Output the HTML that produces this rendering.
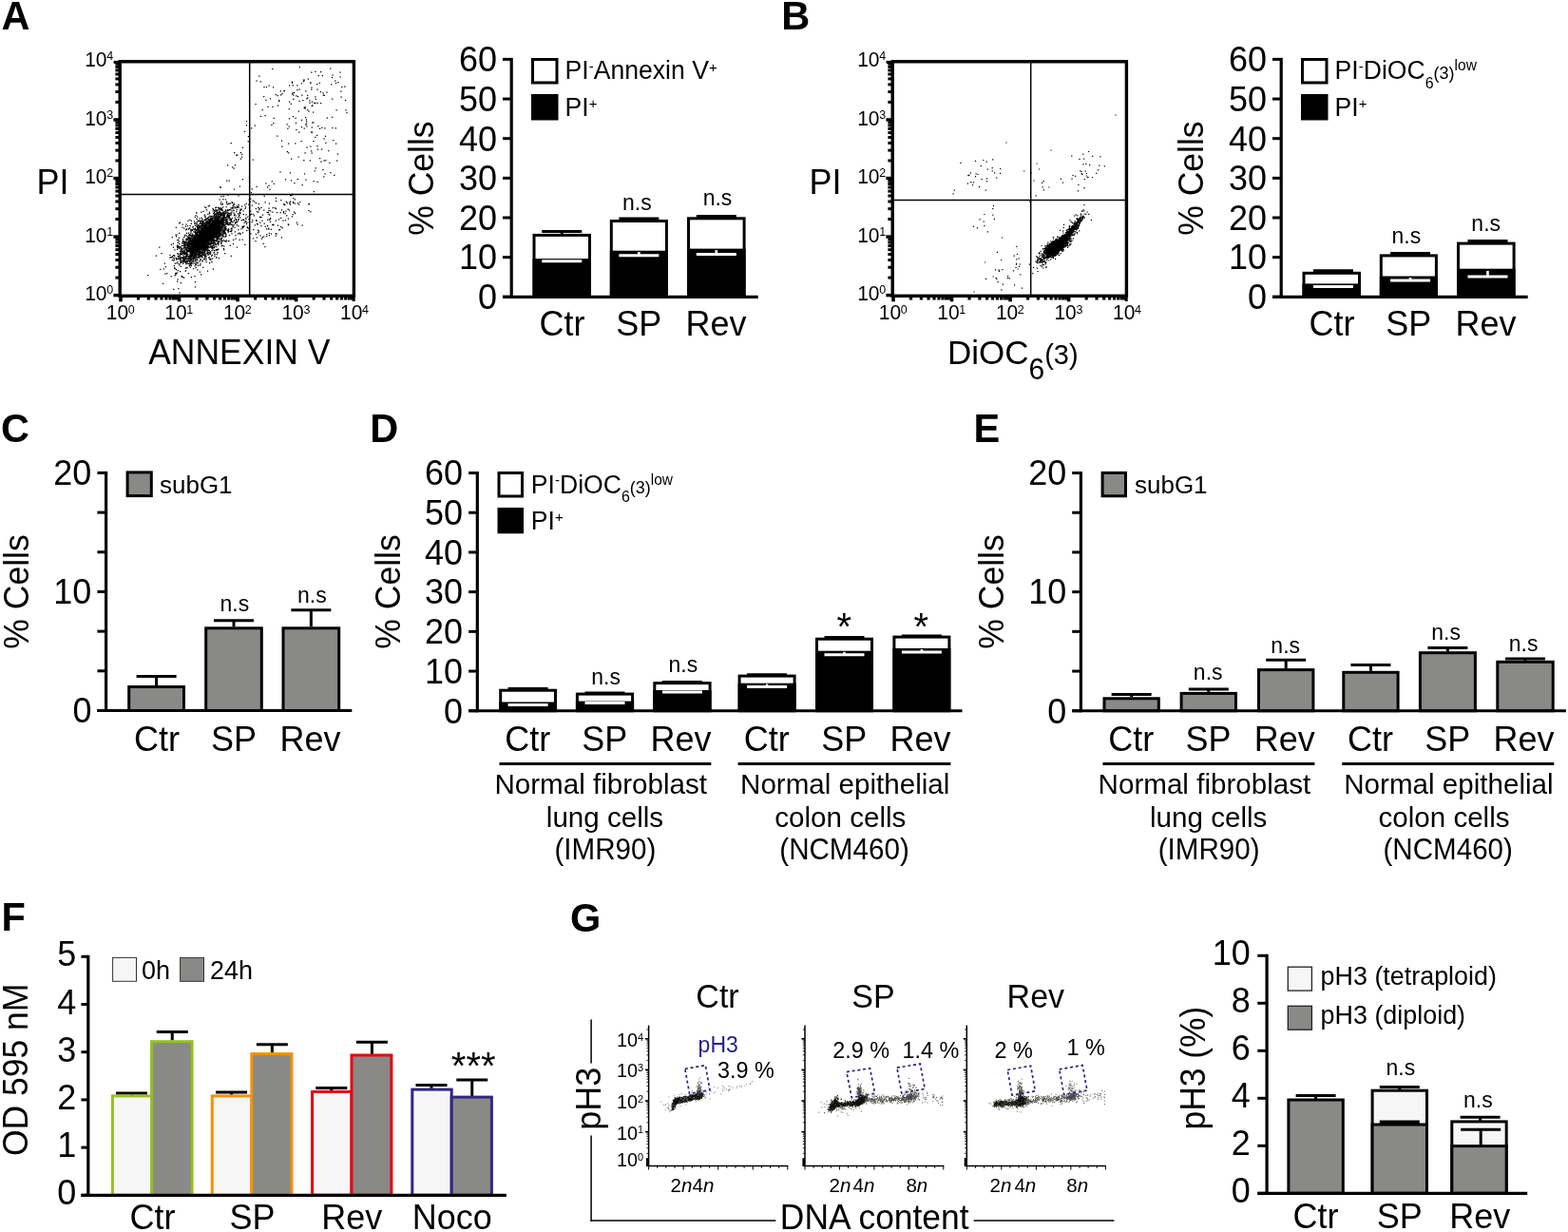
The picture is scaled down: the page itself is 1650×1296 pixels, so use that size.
<!DOCTYPE html>
<html lang="en"><head><meta charset="utf-8"><title>Figure</title>
<style>html,body{margin:0;padding:0;background:#fff}svg{display:block}</style></head>
<body>
<svg width="1650" height="1296" viewBox="0 0 1650 1296" font-family='"Liberation Sans", Arial, sans-serif' fill="#000">
<rect width="1650" height="1296" fill="#fff"/>
<text transform="translate(1.50 31.00) scale(1 1.04)" font-size="41.5" font-weight="bold">A</text>
<text transform="translate(822.20 31.20) scale(1 1.04)" font-size="41.5" font-weight="bold">B</text>
<text transform="translate(1.10 465.30) scale(1 1.04)" font-size="41.5" font-weight="bold">C</text>
<text transform="translate(389.20 465.30) scale(1 1.04)" font-size="41.5" font-weight="bold">D</text>
<text transform="translate(1024.50 465.30) scale(1 1.04)" font-size="41.5" font-weight="bold">E</text>
<text transform="translate(1.50 979.20) scale(1 1.04)" font-size="41.5" font-weight="bold">F</text>
<text transform="translate(600.10 979.50) scale(1 1.04)" font-size="41.5" font-weight="bold">G</text>
<line x1="127.00" y1="311.30" x2="127.00" y2="317.30" stroke="#000" stroke-width="3.6"/>
<line x1="119.40" y1="310.60" x2="126.20" y2="310.60" stroke="#000" stroke-width="3.4"/>
<line x1="145.53" y1="311.30" x2="145.53" y2="315.50" stroke="#000" stroke-width="3.2"/>
<line x1="121.40" y1="292.07" x2="126.20" y2="292.07" stroke="#000" stroke-width="3.0"/>
<line x1="156.37" y1="311.30" x2="156.37" y2="315.50" stroke="#000" stroke-width="3.2"/>
<line x1="121.40" y1="281.23" x2="126.20" y2="281.23" stroke="#000" stroke-width="3.0"/>
<line x1="164.06" y1="311.30" x2="164.06" y2="315.50" stroke="#000" stroke-width="3.2"/>
<line x1="121.40" y1="273.54" x2="126.20" y2="273.54" stroke="#000" stroke-width="3.0"/>
<line x1="170.02" y1="311.30" x2="170.02" y2="315.50" stroke="#000" stroke-width="3.2"/>
<line x1="121.40" y1="267.58" x2="126.20" y2="267.58" stroke="#000" stroke-width="3.0"/>
<line x1="174.90" y1="311.30" x2="174.90" y2="315.50" stroke="#000" stroke-width="3.2"/>
<line x1="121.40" y1="262.70" x2="126.20" y2="262.70" stroke="#000" stroke-width="3.0"/>
<line x1="179.02" y1="311.30" x2="179.02" y2="315.50" stroke="#000" stroke-width="3.2"/>
<line x1="121.40" y1="258.58" x2="126.20" y2="258.58" stroke="#000" stroke-width="3.0"/>
<line x1="182.59" y1="311.30" x2="182.59" y2="315.50" stroke="#000" stroke-width="3.2"/>
<line x1="121.40" y1="255.01" x2="126.20" y2="255.01" stroke="#000" stroke-width="3.0"/>
<line x1="185.73" y1="311.30" x2="185.73" y2="315.50" stroke="#000" stroke-width="3.2"/>
<line x1="121.40" y1="251.87" x2="126.20" y2="251.87" stroke="#000" stroke-width="3.0"/>
<line x1="188.55" y1="311.30" x2="188.55" y2="317.30" stroke="#000" stroke-width="3.6"/>
<line x1="119.40" y1="249.05" x2="126.20" y2="249.05" stroke="#000" stroke-width="3.4"/>
<line x1="207.08" y1="311.30" x2="207.08" y2="315.50" stroke="#000" stroke-width="3.2"/>
<line x1="121.40" y1="230.52" x2="126.20" y2="230.52" stroke="#000" stroke-width="3.0"/>
<line x1="217.92" y1="311.30" x2="217.92" y2="315.50" stroke="#000" stroke-width="3.2"/>
<line x1="121.40" y1="219.68" x2="126.20" y2="219.68" stroke="#000" stroke-width="3.0"/>
<line x1="225.61" y1="311.30" x2="225.61" y2="315.50" stroke="#000" stroke-width="3.2"/>
<line x1="121.40" y1="211.99" x2="126.20" y2="211.99" stroke="#000" stroke-width="3.0"/>
<line x1="231.57" y1="311.30" x2="231.57" y2="315.50" stroke="#000" stroke-width="3.2"/>
<line x1="121.40" y1="206.03" x2="126.20" y2="206.03" stroke="#000" stroke-width="3.0"/>
<line x1="236.45" y1="311.30" x2="236.45" y2="315.50" stroke="#000" stroke-width="3.2"/>
<line x1="121.40" y1="201.15" x2="126.20" y2="201.15" stroke="#000" stroke-width="3.0"/>
<line x1="240.57" y1="311.30" x2="240.57" y2="315.50" stroke="#000" stroke-width="3.2"/>
<line x1="121.40" y1="197.03" x2="126.20" y2="197.03" stroke="#000" stroke-width="3.0"/>
<line x1="244.14" y1="311.30" x2="244.14" y2="315.50" stroke="#000" stroke-width="3.2"/>
<line x1="121.40" y1="193.46" x2="126.20" y2="193.46" stroke="#000" stroke-width="3.0"/>
<line x1="247.28" y1="311.30" x2="247.28" y2="315.50" stroke="#000" stroke-width="3.2"/>
<line x1="121.40" y1="190.32" x2="126.20" y2="190.32" stroke="#000" stroke-width="3.0"/>
<line x1="250.10" y1="311.30" x2="250.10" y2="317.30" stroke="#000" stroke-width="3.6"/>
<line x1="119.40" y1="187.50" x2="126.20" y2="187.50" stroke="#000" stroke-width="3.4"/>
<line x1="268.63" y1="311.30" x2="268.63" y2="315.50" stroke="#000" stroke-width="3.2"/>
<line x1="121.40" y1="168.97" x2="126.20" y2="168.97" stroke="#000" stroke-width="3.0"/>
<line x1="279.47" y1="311.30" x2="279.47" y2="315.50" stroke="#000" stroke-width="3.2"/>
<line x1="121.40" y1="158.13" x2="126.20" y2="158.13" stroke="#000" stroke-width="3.0"/>
<line x1="287.16" y1="311.30" x2="287.16" y2="315.50" stroke="#000" stroke-width="3.2"/>
<line x1="121.40" y1="150.44" x2="126.20" y2="150.44" stroke="#000" stroke-width="3.0"/>
<line x1="293.12" y1="311.30" x2="293.12" y2="315.50" stroke="#000" stroke-width="3.2"/>
<line x1="121.40" y1="144.48" x2="126.20" y2="144.48" stroke="#000" stroke-width="3.0"/>
<line x1="298.00" y1="311.30" x2="298.00" y2="315.50" stroke="#000" stroke-width="3.2"/>
<line x1="121.40" y1="139.60" x2="126.20" y2="139.60" stroke="#000" stroke-width="3.0"/>
<line x1="302.12" y1="311.30" x2="302.12" y2="315.50" stroke="#000" stroke-width="3.2"/>
<line x1="121.40" y1="135.48" x2="126.20" y2="135.48" stroke="#000" stroke-width="3.0"/>
<line x1="305.69" y1="311.30" x2="305.69" y2="315.50" stroke="#000" stroke-width="3.2"/>
<line x1="121.40" y1="131.91" x2="126.20" y2="131.91" stroke="#000" stroke-width="3.0"/>
<line x1="308.83" y1="311.30" x2="308.83" y2="315.50" stroke="#000" stroke-width="3.2"/>
<line x1="121.40" y1="128.77" x2="126.20" y2="128.77" stroke="#000" stroke-width="3.0"/>
<line x1="311.65" y1="311.30" x2="311.65" y2="317.30" stroke="#000" stroke-width="3.6"/>
<line x1="119.40" y1="125.95" x2="126.20" y2="125.95" stroke="#000" stroke-width="3.4"/>
<line x1="330.18" y1="311.30" x2="330.18" y2="315.50" stroke="#000" stroke-width="3.2"/>
<line x1="121.40" y1="107.42" x2="126.20" y2="107.42" stroke="#000" stroke-width="3.0"/>
<line x1="341.02" y1="311.30" x2="341.02" y2="315.50" stroke="#000" stroke-width="3.2"/>
<line x1="121.40" y1="96.58" x2="126.20" y2="96.58" stroke="#000" stroke-width="3.0"/>
<line x1="348.71" y1="311.30" x2="348.71" y2="315.50" stroke="#000" stroke-width="3.2"/>
<line x1="121.40" y1="88.89" x2="126.20" y2="88.89" stroke="#000" stroke-width="3.0"/>
<line x1="354.67" y1="311.30" x2="354.67" y2="315.50" stroke="#000" stroke-width="3.2"/>
<line x1="121.40" y1="82.93" x2="126.20" y2="82.93" stroke="#000" stroke-width="3.0"/>
<line x1="359.55" y1="311.30" x2="359.55" y2="315.50" stroke="#000" stroke-width="3.2"/>
<line x1="121.40" y1="78.05" x2="126.20" y2="78.05" stroke="#000" stroke-width="3.0"/>
<line x1="363.67" y1="311.30" x2="363.67" y2="315.50" stroke="#000" stroke-width="3.2"/>
<line x1="121.40" y1="73.93" x2="126.20" y2="73.93" stroke="#000" stroke-width="3.0"/>
<line x1="367.24" y1="311.30" x2="367.24" y2="315.50" stroke="#000" stroke-width="3.2"/>
<line x1="121.40" y1="70.36" x2="126.20" y2="70.36" stroke="#000" stroke-width="3.0"/>
<line x1="370.38" y1="311.30" x2="370.38" y2="315.50" stroke="#000" stroke-width="3.2"/>
<line x1="121.40" y1="67.22" x2="126.20" y2="67.22" stroke="#000" stroke-width="3.0"/>
<line x1="372.20" y1="311.30" x2="372.20" y2="316.90" stroke="#000" stroke-width="3"/>
<line x1="119.60" y1="65.40" x2="126.20" y2="65.40" stroke="#000" stroke-width="3"/>
<rect x="126.20" y="64.80" width="246.20" height="246.50" fill="none" stroke="#000" stroke-width="3.4"/>
<line x1="262.70" y1="64.80" x2="262.70" y2="311.30" stroke="#000" stroke-width="1.5"/>
<line x1="126.20" y1="204.60" x2="372.40" y2="204.60" stroke="#000" stroke-width="1.5"/>
<text transform="translate(111.80 336.10) scale(1 1.035)" font-size="21">10<tspan font-size="12.5" dy="-6.2" dx="-0.4">0</tspan></text>
<text transform="translate(89.20 316.20) scale(1 1.035)" font-size="21">10<tspan font-size="12.5" dy="-6.8" dx="-0.4">0</tspan></text>
<text transform="translate(173.35 336.10) scale(1 1.035)" font-size="21">10<tspan font-size="12.5" dy="-6.2" dx="-0.4">1</tspan></text>
<text transform="translate(89.20 254.65) scale(1 1.035)" font-size="21">10<tspan font-size="12.5" dy="-6.8" dx="-0.4">1</tspan></text>
<text transform="translate(234.90 336.10) scale(1 1.035)" font-size="21">10<tspan font-size="12.5" dy="-6.2" dx="-0.4">2</tspan></text>
<text transform="translate(89.20 193.10) scale(1 1.035)" font-size="21">10<tspan font-size="12.5" dy="-6.8" dx="-0.4">2</tspan></text>
<text transform="translate(296.45 336.10) scale(1 1.035)" font-size="21">10<tspan font-size="12.5" dy="-6.2" dx="-0.4">3</tspan></text>
<text transform="translate(89.20 131.55) scale(1 1.035)" font-size="21">10<tspan font-size="12.5" dy="-6.8" dx="-0.4">3</tspan></text>
<text transform="translate(358.00 336.10) scale(1 1.035)" font-size="21">10<tspan font-size="12.5" dy="-6.2" dx="-0.4">4</tspan></text>
<text transform="translate(89.20 70.00) scale(1 1.035)" font-size="21">10<tspan font-size="12.5" dy="-6.8" dx="-0.4">4</tspan></text>
<path d="M211.7 249.6h.01M215.2 252.2h.01M207.6 259.6h.01M226.0 234.9h.01M225.9 236.3h.01M219.6 243.6h.01M195.9 263.8h.01M219.5 241.2h.01M205.8 273.5h.01M209.0 260.1h.01M219.6 245.4h.01M224.1 245.2h.01M217.9 243.8h.01M202.9 249.6h.01M217.4 238.2h.01M212.8 258.1h.01M213.2 252.8h.01M221.8 240.8h.01M215.4 257.0h.01M206.2 249.9h.01M207.1 256.6h.01M226.4 249.3h.01M211.7 243.3h.01M196.9 271.9h.01M218.4 252.7h.01M221.6 243.4h.01M198.1 261.7h.01M219.5 237.8h.01M229.6 231.5h.01M222.6 252.0h.01M225.0 244.1h.01M216.6 258.1h.01M208.5 261.1h.01M237.4 241.8h.01M200.5 263.7h.01M228.8 230.7h.01M206.6 278.5h.01M222.8 247.3h.01M201.1 257.4h.01M227.0 235.9h.01M217.1 244.3h.01M230.2 228.9h.01M219.5 240.9h.01M195.3 261.2h.01M224.0 236.2h.01M198.6 272.5h.01M231.9 245.9h.01M210.5 246.9h.01M196.6 257.2h.01M222.5 243.1h.01M217.1 242.7h.01M213.1 243.1h.01M211.1 257.4h.01M226.9 237.1h.01M203.6 254.8h.01M233.0 234.1h.01M202.7 264.2h.01M215.9 251.3h.01M234.7 236.9h.01M234.1 239.4h.01M205.8 255.0h.01M224.5 233.1h.01M219.3 244.3h.01M215.6 244.8h.01M213.4 249.5h.01M222.2 242.3h.01M221.9 238.2h.01M235.6 225.4h.01M213.4 254.6h.01M212.6 245.4h.01M211.4 250.9h.01M245.0 237.7h.01M203.9 260.0h.01M219.5 243.4h.01M209.3 251.0h.01M221.2 247.4h.01M239.8 220.7h.01M211.0 255.0h.01M214.2 251.3h.01M190.3 280.3h.01M231.1 241.8h.01M211.9 245.9h.01M219.3 233.8h.01M200.3 268.5h.01M210.4 250.1h.01M237.9 246.3h.01M233.0 241.9h.01M229.1 246.5h.01M213.5 242.4h.01M214.0 249.5h.01M223.9 239.3h.01M209.5 244.0h.01M228.2 238.2h.01M248.8 222.6h.01M226.7 239.5h.01M214.9 244.6h.01M216.1 243.9h.01M206.5 270.8h.01M226.3 245.3h.01M211.5 265.2h.01M226.4 232.0h.01M235.0 235.8h.01M220.7 252.7h.01M218.0 234.5h.01M201.1 252.7h.01M227.1 238.4h.01M190.7 265.1h.01M217.7 251.8h.01M218.8 242.7h.01M235.6 235.9h.01M222.2 230.8h.01M231.9 233.3h.01M204.7 253.1h.01M217.0 246.9h.01M231.9 233.9h.01M194.3 275.2h.01M194.2 266.0h.01M221.9 247.3h.01M213.0 245.7h.01M212.0 242.9h.01M211.6 245.5h.01M225.3 226.4h.01M206.0 252.8h.01M201.3 273.1h.01M192.1 266.3h.01M203.7 262.2h.01M214.4 250.8h.01M209.3 254.2h.01M234.5 228.8h.01M217.9 239.2h.01M219.2 255.3h.01M206.5 250.8h.01M201.8 268.8h.01M223.5 234.7h.01M213.3 245.6h.01M222.6 251.0h.01M202.8 268.1h.01M227.9 240.5h.01M210.1 261.3h.01M201.1 265.8h.01M202.8 260.2h.01M190.9 273.3h.01M217.3 262.7h.01M224.8 241.6h.01M196.9 276.2h.01M221.1 247.1h.01M221.4 237.3h.01M221.8 240.1h.01M227.4 231.6h.01M229.0 251.2h.01M220.4 234.0h.01M215.1 253.6h.01M243.0 233.7h.01M211.7 234.7h.01M204.1 256.3h.01M236.1 228.3h.01M218.5 239.2h.01M207.4 258.9h.01M216.1 242.4h.01M216.7 249.7h.01M207.3 261.0h.01M225.0 238.5h.01M210.8 261.0h.01M239.2 215.2h.01M232.9 251.0h.01M220.8 240.0h.01M231.9 228.6h.01M213.6 247.5h.01M192.4 266.2h.01M222.3 247.6h.01M222.8 227.5h.01M204.5 266.4h.01M218.6 244.7h.01M216.0 256.5h.01M234.0 221.6h.01M209.3 266.6h.01M229.9 226.3h.01M231.8 225.7h.01M206.4 257.2h.01M197.1 275.0h.01M213.7 247.4h.01M209.3 257.0h.01M219.5 242.2h.01M222.0 240.8h.01M209.9 249.3h.01M220.0 251.0h.01M209.9 255.5h.01M214.6 249.2h.01M215.6 248.0h.01M219.8 254.6h.01M216.5 240.2h.01M221.5 244.5h.01M224.6 247.2h.01M196.7 269.2h.01M203.9 256.1h.01M215.4 270.0h.01M199.5 254.3h.01M217.7 257.7h.01M206.5 255.1h.01M220.7 242.5h.01M228.7 229.8h.01M213.8 246.7h.01M229.5 226.9h.01M231.0 241.3h.01M212.0 247.6h.01M209.1 248.0h.01M218.9 238.8h.01M204.3 241.7h.01M229.8 235.8h.01M207.2 238.2h.01M209.4 249.2h.01M226.3 237.8h.01M203.6 260.7h.01M215.6 240.6h.01M224.2 239.9h.01M222.9 237.3h.01M218.2 246.1h.01M211.2 248.8h.01M208.0 262.4h.01M222.0 253.8h.01M219.6 260.6h.01M207.1 254.0h.01M222.3 242.6h.01M219.4 256.3h.01M233.0 226.7h.01M230.9 239.8h.01M221.5 257.2h.01M220.7 236.7h.01M197.1 269.6h.01M229.6 248.1h.01M201.8 272.5h.01M215.3 260.6h.01M215.7 247.4h.01M220.1 239.1h.01M227.2 227.9h.01M204.8 264.8h.01M209.6 264.1h.01M215.4 249.5h.01M227.5 249.0h.01M203.7 262.3h.01M215.5 251.9h.01M218.6 252.0h.01M222.1 239.6h.01M218.0 252.0h.01M225.1 260.3h.01M206.1 259.2h.01M200.1 264.4h.01M223.1 252.0h.01M215.0 252.5h.01M218.6 241.3h.01M219.2 252.1h.01M215.1 250.4h.01M222.7 239.5h.01M214.2 261.4h.01M215.4 255.4h.01M205.4 261.2h.01M210.9 253.6h.01M223.3 244.4h.01M241.3 224.3h.01M227.1 236.1h.01M236.9 244.9h.01M207.7 256.0h.01M213.4 233.5h.01M214.6 240.4h.01M220.5 236.8h.01M222.1 243.6h.01M225.7 246.9h.01M232.3 239.3h.01M210.6 238.2h.01M213.9 251.0h.01M228.1 235.7h.01M207.0 256.5h.01M219.5 239.6h.01M201.6 250.7h.01M233.3 230.2h.01M220.7 247.2h.01M233.5 235.6h.01M225.1 242.9h.01M206.4 253.6h.01M230.0 234.0h.01M206.2 253.1h.01M214.6 248.0h.01M227.5 227.8h.01M202.1 246.0h.01M213.3 245.7h.01M209.9 255.9h.01M191.5 261.3h.01M235.0 238.0h.01M207.2 271.0h.01M230.1 237.4h.01M216.9 250.4h.01M219.3 253.9h.01M222.1 253.5h.01M214.4 248.3h.01M222.0 244.3h.01M206.4 257.9h.01M205.3 248.3h.01M224.6 240.6h.01M214.2 256.3h.01M208.1 260.2h.01M217.3 243.5h.01M214.0 234.8h.01M209.0 256.3h.01M252.1 224.7h.01M210.3 253.7h.01M216.3 245.4h.01M212.4 249.9h.01M213.9 245.2h.01M200.4 272.6h.01M220.3 252.4h.01M203.2 257.8h.01M207.2 253.4h.01M222.7 239.3h.01M221.9 243.4h.01M202.0 264.2h.01M223.0 245.5h.01M212.4 247.0h.01M204.8 255.9h.01M237.5 230.2h.01M218.4 247.5h.01M230.8 230.6h.01M228.2 241.2h.01M216.2 248.8h.01M192.5 262.9h.01M232.3 245.1h.01M224.4 240.9h.01M219.5 242.4h.01M201.8 265.8h.01M233.8 234.3h.01M211.1 264.7h.01M202.5 260.8h.01M232.0 228.5h.01M210.2 237.8h.01M213.6 256.7h.01M219.6 240.8h.01M210.5 264.0h.01M218.3 244.5h.01M203.7 263.7h.01M209.0 252.9h.01M215.4 250.2h.01M208.6 248.7h.01M231.9 234.7h.01M227.9 242.1h.01M214.1 245.1h.01M233.3 233.4h.01M214.8 248.7h.01M200.9 265.0h.01M207.9 254.7h.01M212.4 268.1h.01M215.7 247.2h.01M207.2 251.4h.01M215.9 253.8h.01M227.3 249.0h.01M209.5 256.1h.01M225.6 239.9h.01M222.0 247.6h.01M212.9 239.3h.01M200.1 247.6h.01M209.6 255.6h.01M214.1 243.0h.01M211.8 269.8h.01M219.4 239.1h.01M212.5 232.2h.01M217.4 245.4h.01M224.4 237.1h.01M238.1 234.8h.01M225.8 265.2h.01M226.1 241.0h.01M217.4 230.7h.01M217.2 249.6h.01M214.4 257.1h.01M207.4 253.2h.01M216.4 248.0h.01M211.0 247.2h.01M221.9 243.7h.01M223.7 241.9h.01M198.9 256.0h.01M224.8 247.0h.01M226.0 235.5h.01M194.1 259.9h.01M216.3 241.7h.01M218.9 247.0h.01M196.7 262.1h.01M217.7 249.3h.01M219.6 244.5h.01M224.7 242.5h.01M224.2 256.7h.01M209.4 250.8h.01M231.4 235.3h.01M208.9 244.2h.01M210.1 249.5h.01M233.3 230.0h.01M231.6 237.7h.01M218.7 246.6h.01M213.1 243.3h.01M243.3 224.8h.01M208.5 253.1h.01M203.6 258.4h.01M223.2 243.3h.01M227.7 248.4h.01M230.1 245.8h.01M211.3 258.3h.01M208.9 249.9h.01M218.7 249.1h.01M215.7 236.9h.01M214.9 247.2h.01M227.9 234.0h.01M193.5 253.7h.01M246.6 231.5h.01M214.3 247.5h.01M223.6 235.6h.01M217.6 255.4h.01M213.3 243.7h.01M209.1 264.3h.01M223.6 255.9h.01M215.3 253.0h.01M223.6 246.2h.01M208.8 259.7h.01M218.4 251.6h.01M213.5 245.8h.01M221.8 229.4h.01M209.9 258.7h.01M183.5 269.0h.01M209.0 256.7h.01M226.9 247.8h.01M221.1 243.6h.01M196.5 267.6h.01M235.8 242.2h.01M223.7 239.0h.01M219.4 241.8h.01M230.5 235.1h.01M226.8 240.5h.01M226.9 243.6h.01M208.5 243.5h.01M221.5 244.3h.01M207.7 264.0h.01M214.6 243.1h.01M218.6 242.0h.01M210.6 244.2h.01M214.4 254.9h.01M225.1 238.6h.01M215.7 253.7h.01M211.3 249.2h.01M224.6 249.1h.01M220.0 243.3h.01M203.1 256.8h.01M214.7 252.9h.01M219.3 235.1h.01M207.6 254.6h.01M198.4 249.8h.01M206.6 249.7h.01M206.5 252.8h.01M248.8 233.4h.01M209.9 251.6h.01M217.9 252.0h.01M238.0 224.7h.01M196.2 263.6h.01M194.2 263.3h.01M209.8 254.4h.01M228.7 234.3h.01M208.6 270.0h.01M225.5 233.0h.01M204.6 254.4h.01M218.9 240.8h.01M194.4 274.5h.01M222.7 236.1h.01M234.8 247.8h.01M216.1 245.0h.01M246.1 224.1h.01M212.8 252.1h.01M227.1 240.5h.01M231.1 238.9h.01M221.1 247.6h.01M220.6 249.4h.01M195.7 262.2h.01M221.6 247.3h.01M214.5 242.8h.01M206.7 259.7h.01M219.8 240.8h.01M221.0 259.9h.01M227.7 233.8h.01M217.5 249.5h.01M220.6 247.2h.01M208.7 262.5h.01M212.6 257.4h.01M202.0 259.0h.01M200.3 260.6h.01M204.6 258.5h.01M229.6 232.8h.01M208.6 256.4h.01M224.5 253.2h.01M209.5 254.7h.01M211.2 253.5h.01M220.8 237.8h.01M223.3 236.5h.01M213.4 251.8h.01M214.7 252.7h.01M221.1 256.8h.01M213.0 252.3h.01M206.4 259.4h.01M222.2 243.5h.01M247.6 235.2h.01M221.3 257.5h.01M216.0 228.3h.01M190.2 275.6h.01M222.8 244.0h.01M230.6 250.7h.01M223.6 237.9h.01M218.8 250.5h.01M224.7 243.4h.01M220.6 248.0h.01M193.4 273.4h.01M215.4 243.7h.01M207.5 258.3h.01M222.0 241.3h.01M221.3 227.8h.01M214.5 265.5h.01M219.1 233.7h.01M222.6 235.5h.01M212.7 258.0h.01M228.9 242.1h.01M201.6 272.1h.01M234.3 214.3h.01M212.1 258.8h.01M221.6 248.8h.01M230.0 234.5h.01M200.1 255.8h.01M209.5 254.2h.01M217.4 249.9h.01M222.3 247.5h.01M206.0 276.8h.01M206.3 265.2h.01M215.9 248.7h.01M221.5 242.1h.01M210.9 259.9h.01M195.3 272.5h.01M219.2 241.4h.01M215.7 250.6h.01M225.8 238.3h.01M221.6 238.4h.01M213.4 241.5h.01M211.8 256.2h.01M211.1 260.3h.01M225.4 225.2h.01M214.3 246.3h.01M225.2 232.8h.01M233.5 239.9h.01M208.0 254.0h.01M230.6 232.5h.01M208.9 259.3h.01M212.9 258.9h.01M234.1 234.4h.01M208.1 240.6h.01M227.1 234.4h.01M208.5 253.8h.01M230.5 228.6h.01M228.8 234.4h.01M222.4 243.7h.01M215.6 239.2h.01M201.9 264.5h.01M221.0 248.0h.01M210.1 249.1h.01M234.3 224.4h.01M225.6 250.6h.01M235.7 227.2h.01M220.3 253.0h.01M220.0 253.2h.01M215.2 246.1h.01M215.5 247.2h.01M202.0 252.8h.01M216.7 262.3h.01M217.3 253.4h.01M207.3 261.0h.01M223.9 249.7h.01M209.4 245.0h.01M223.9 241.7h.01M218.1 247.6h.01M213.0 246.5h.01M224.7 258.3h.01M219.5 252.1h.01M225.3 243.7h.01M209.4 239.1h.01M209.9 264.1h.01M211.1 272.7h.01M195.7 267.9h.01M217.0 262.4h.01M198.7 262.6h.01M209.8 258.4h.01M214.4 240.1h.01M232.2 223.6h.01M217.1 246.4h.01M229.2 223.7h.01M211.3 250.4h.01M219.0 245.3h.01M216.3 258.9h.01M216.8 260.0h.01M226.7 233.2h.01M198.6 256.8h.01M232.8 245.7h.01M232.0 225.5h.01M242.2 230.4h.01M220.1 241.2h.01M217.7 245.8h.01M232.9 242.4h.01M209.0 267.3h.01M212.9 256.9h.01M219.0 243.6h.01M219.2 250.7h.01M208.1 250.0h.01M223.7 239.9h.01M207.0 246.5h.01M207.7 252.8h.01M229.1 236.9h.01M229.1 243.6h.01M225.9 236.8h.01M197.5 263.6h.01M202.2 253.8h.01M210.0 256.6h.01M220.5 246.7h.01M221.1 247.8h.01M223.2 241.2h.01M229.1 256.2h.01M228.1 235.7h.01M197.7 267.8h.01M216.9 239.6h.01M199.2 254.9h.01M205.4 241.7h.01M212.2 247.7h.01M216.9 256.7h.01M224.0 233.3h.01M228.7 228.6h.01M216.9 260.9h.01M212.3 258.2h.01M205.7 255.4h.01M220.7 246.0h.01M218.6 247.2h.01M215.6 243.5h.01M228.8 240.6h.01M195.4 260.0h.01M213.2 243.3h.01M200.8 267.8h.01M222.2 253.5h.01M208.2 251.6h.01M221.2 231.0h.01M212.9 263.1h.01M218.0 239.5h.01M223.3 251.2h.01M221.2 237.2h.01M223.8 244.3h.01M216.3 242.4h.01M217.7 261.4h.01M217.8 243.3h.01M213.0 245.2h.01M210.6 255.3h.01M211.0 249.9h.01M233.6 232.0h.01M231.4 220.5h.01M222.1 237.8h.01M235.1 229.8h.01M219.3 253.7h.01M215.9 238.6h.01M220.1 241.2h.01M213.6 250.2h.01M197.7 260.4h.01M216.4 257.1h.01M211.8 259.8h.01M220.9 235.4h.01M198.8 260.1h.01M227.6 241.0h.01M204.0 267.6h.01M208.5 254.3h.01M220.5 259.9h.01M224.6 251.6h.01M230.2 243.0h.01M212.5 259.3h.01M205.7 249.9h.01M222.7 237.1h.01M225.6 250.7h.01M213.1 256.3h.01M204.3 257.5h.01M211.5 259.3h.01M213.6 267.5h.01M217.2 237.3h.01M221.9 250.2h.01M188.0 277.7h.01M227.6 234.2h.01M220.1 233.1h.01M229.5 237.8h.01M224.1 234.3h.01M202.1 266.9h.01M202.2 264.6h.01M226.4 246.1h.01M190.2 266.5h.01M214.5 239.1h.01M198.6 259.3h.01M229.7 218.6h.01M213.1 249.9h.01M210.9 246.7h.01M226.6 236.9h.01M199.5 260.8h.01M209.1 251.5h.01M212.7 239.8h.01M229.7 237.7h.01M213.0 238.4h.01M209.1 252.9h.01M223.6 231.0h.01M226.7 247.7h.01M202.4 261.5h.01M210.4 235.1h.01M203.1 253.9h.01M230.7 246.2h.01M207.3 257.0h.01M211.8 254.6h.01M224.2 246.4h.01M223.5 245.8h.01M208.6 252.6h.01M209.3 253.9h.01M232.6 231.0h.01M212.0 247.5h.01M208.4 248.7h.01M200.8 260.4h.01M214.2 257.1h.01M237.7 232.3h.01M231.7 226.9h.01M235.0 236.2h.01M222.9 230.2h.01M215.6 250.3h.01M240.7 221.0h.01M214.4 255.5h.01M219.6 242.5h.01M211.4 240.4h.01M211.1 250.5h.01M235.1 236.2h.01M219.8 230.6h.01M206.7 267.4h.01M212.8 266.7h.01M228.1 250.3h.01M215.8 237.9h.01M201.0 267.5h.01M193.7 266.8h.01M209.8 257.7h.01M214.7 246.0h.01M212.7 252.3h.01M210.3 254.2h.01M204.1 261.2h.01M198.4 271.6h.01M235.6 227.3h.01M202.4 261.5h.01M212.8 265.2h.01M205.9 254.0h.01M220.6 244.7h.01M211.0 262.7h.01M229.2 232.9h.01M214.7 266.7h.01M192.7 254.7h.01M204.8 261.5h.01M219.1 246.9h.01M218.8 256.6h.01M199.0 254.0h.01M205.3 253.8h.01M200.0 268.2h.01M215.0 242.0h.01M202.5 258.8h.01M223.1 247.0h.01M224.7 246.6h.01M208.2 257.4h.01M189.0 278.8h.01M211.7 264.9h.01M209.0 250.5h.01M207.3 248.5h.01M209.5 266.1h.01M230.6 230.1h.01M229.2 241.2h.01M223.5 238.8h.01M222.8 241.4h.01M231.2 237.7h.01M212.2 264.5h.01M231.0 238.5h.01M209.3 263.4h.01M216.7 258.1h.01M215.8 254.1h.01M214.4 258.1h.01M218.5 249.9h.01M216.5 246.4h.01M228.3 252.8h.01M213.9 257.4h.01M230.3 245.8h.01M210.1 257.5h.01M209.0 248.7h.01M208.0 250.0h.01M208.3 271.2h.01M227.1 233.6h.01M220.8 242.8h.01M226.0 247.7h.01M228.1 240.1h.01M226.0 237.5h.01M201.1 274.9h.01M228.4 236.7h.01M211.3 252.1h.01M214.1 255.2h.01M216.8 247.0h.01M231.6 231.8h.01M228.5 221.5h.01M229.7 225.9h.01M217.1 246.7h.01M217.7 252.8h.01M218.1 251.6h.01M231.0 228.7h.01M219.2 260.4h.01M217.4 250.7h.01M209.6 264.6h.01M191.1 271.2h.01M205.6 240.0h.01M216.6 249.5h.01M230.6 232.3h.01M219.5 248.1h.01M204.3 249.8h.01M219.9 231.4h.01M212.6 252.3h.01M203.5 254.8h.01M199.9 261.8h.01M222.0 231.5h.01M202.5 255.0h.01M211.9 259.2h.01M198.3 258.9h.01M235.5 232.7h.01M209.8 258.2h.01M238.1 217.5h.01M217.7 261.0h.01M204.8 251.7h.01M236.4 229.1h.01M211.2 258.0h.01M193.5 266.0h.01M201.1 256.7h.01M203.8 271.9h.01M222.2 248.2h.01M224.3 240.0h.01M201.9 259.2h.01M232.3 246.3h.01M233.1 226.8h.01M231.3 247.0h.01M210.3 257.8h.01M233.0 242.1h.01M215.1 265.6h.01M212.5 250.0h.01M201.3 269.2h.01M215.4 237.3h.01M224.3 242.4h.01M207.9 264.9h.01M208.9 255.4h.01M209.3 243.1h.01M223.4 249.3h.01M228.4 228.2h.01M220.1 250.1h.01M201.1 272.8h.01M228.7 241.5h.01M202.0 262.4h.01M216.4 243.7h.01M217.5 236.3h.01M203.9 254.3h.01M203.5 256.9h.01M217.2 245.8h.01M226.3 238.0h.01M224.3 233.2h.01M219.9 249.2h.01M210.6 258.8h.01M214.3 250.9h.01M244.3 213.6h.01M227.5 243.3h.01M210.3 257.5h.01M222.3 250.2h.01M235.0 233.0h.01M236.4 245.2h.01M215.2 247.7h.01M215.9 244.3h.01M218.5 244.9h.01M199.7 271.9h.01M189.9 272.0h.01M220.2 245.9h.01M210.2 259.7h.01M228.5 222.1h.01M210.7 244.6h.01M207.6 273.0h.01M214.8 257.1h.01M209.9 254.1h.01M249.8 217.8h.01M215.7 247.1h.01M212.3 245.6h.01M239.3 233.6h.01M219.0 247.8h.01M225.9 250.2h.01M207.3 276.3h.01M220.9 242.1h.01M226.2 256.3h.01M215.4 255.4h.01M205.4 267.4h.01M221.3 239.0h.01M214.1 247.0h.01M209.9 255.0h.01M214.6 246.2h.01M216.1 249.9h.01M217.4 252.4h.01M237.2 222.2h.01M211.8 235.6h.01M236.7 238.8h.01M220.2 237.9h.01M230.5 223.2h.01M228.7 244.4h.01M206.4 257.2h.01M225.4 246.8h.01M213.9 254.3h.01M215.6 246.7h.01M218.2 256.2h.01M222.8 229.2h.01M211.2 246.1h.01M218.3 241.3h.01M224.2 246.1h.01M218.3 238.7h.01M199.5 251.3h.01M230.6 219.1h.01M233.8 224.1h.01M215.2 254.5h.01M207.5 257.1h.01M213.4 246.5h.01M186.7 262.4h.01M239.7 223.7h.01M221.4 239.5h.01M219.9 246.4h.01M218.2 252.9h.01M218.2 246.7h.01M222.9 248.2h.01M216.5 248.0h.01M226.6 245.8h.01M216.8 240.4h.01M223.8 243.4h.01M212.2 254.8h.01M217.7 235.0h.01M217.2 252.7h.01M219.4 243.7h.01M209.9 261.2h.01M212.7 247.3h.01M208.0 265.4h.01M226.2 247.6h.01M216.0 246.1h.01M219.1 253.5h.01M217.0 250.5h.01M223.0 247.9h.01M234.0 242.7h.01M214.5 250.5h.01M228.5 240.3h.01M224.1 244.7h.01M217.1 234.2h.01M210.5 251.4h.01M203.0 255.3h.01M228.5 235.2h.01M203.1 259.6h.01M223.8 232.1h.01M231.7 246.3h.01M203.8 250.9h.01M199.4 258.0h.01M232.6 225.2h.01M229.0 237.5h.01M204.2 262.4h.01M214.4 251.0h.01M224.0 241.5h.01M216.6 245.0h.01M209.1 242.0h.01M220.5 243.4h.01M216.6 253.1h.01M229.5 233.3h.01M207.4 262.5h.01M216.6 251.7h.01M231.9 240.9h.01M220.8 242.7h.01M204.1 261.3h.01M213.4 247.8h.01M210.5 252.4h.01M203.5 270.8h.01M220.3 236.2h.01M218.5 250.9h.01M235.5 244.3h.01M205.5 254.9h.01M227.0 245.2h.01M191.4 264.1h.01M221.3 250.2h.01M213.4 244.7h.01M185.5 273.0h.01M231.9 248.0h.01M231.1 246.6h.01M226.4 234.7h.01M241.7 226.1h.01M212.3 244.8h.01M212.5 258.2h.01M212.8 252.9h.01M203.4 258.7h.01M221.6 242.4h.01M235.0 231.1h.01M231.8 236.2h.01M231.5 247.3h.01M219.0 247.1h.01M213.6 256.2h.01M215.5 255.0h.01M196.2 274.8h.01M212.7 256.5h.01M206.0 260.7h.01M225.3 240.9h.01M206.0 249.1h.01M222.7 234.6h.01M229.4 237.1h.01M210.7 246.0h.01M211.1 255.1h.01M218.7 243.1h.01M209.7 248.1h.01M211.7 247.9h.01M224.7 234.5h.01M228.3 244.7h.01M205.3 265.2h.01M215.3 238.0h.01M202.6 260.9h.01M210.4 260.6h.01M210.8 249.1h.01M213.9 242.0h.01M202.8 256.2h.01M225.5 238.1h.01M223.4 245.4h.01M206.7 262.0h.01M198.5 245.2h.01M204.9 248.0h.01M217.2 245.3h.01M226.9 243.3h.01M224.2 237.2h.01M198.5 263.1h.01M220.2 240.9h.01M234.1 232.7h.01M218.6 240.3h.01M202.4 254.1h.01M206.5 269.2h.01M225.9 246.8h.01M221.5 255.8h.01M221.4 251.9h.01M225.7 250.4h.01M221.9 244.6h.01M217.2 248.1h.01M222.8 251.9h.01M189.9 276.6h.01M208.5 260.5h.01M228.4 251.1h.01M210.9 259.2h.01M204.2 259.0h.01M218.0 253.1h.01M203.1 256.5h.01M207.3 253.7h.01M228.2 250.5h.01M205.2 260.5h.01M216.8 242.0h.01M220.5 236.1h.01M213.3 253.5h.01M225.9 241.6h.01M233.3 242.8h.01M223.7 242.1h.01M192.4 266.6h.01M219.4 245.1h.01M207.1 262.1h.01M235.0 235.0h.01M184.1 289.8h.01M204.5 262.2h.01M215.8 256.2h.01M203.6 254.0h.01M194.0 257.4h.01M215.0 258.5h.01M222.2 237.9h.01M202.7 257.3h.01M201.1 272.1h.01M228.8 237.2h.01M201.0 261.0h.01M225.8 238.6h.01M199.2 269.7h.01M217.6 241.2h.01M236.2 229.2h.01M211.5 254.0h.01M232.3 238.8h.01M240.3 244.2h.01M227.1 242.3h.01M218.3 241.1h.01M204.5 261.9h.01M216.5 243.8h.01M210.6 262.4h.01M186.8 260.5h.01M215.2 251.5h.01M197.4 261.6h.01M205.3 249.3h.01M224.9 239.2h.01M228.0 244.6h.01M215.2 254.3h.01M203.2 262.5h.01M209.3 245.0h.01M184.6 287.8h.01M208.7 260.4h.01M219.1 242.5h.01M218.4 250.0h.01M220.0 241.9h.01M198.5 269.8h.01M206.8 268.0h.01M217.6 246.8h.01M220.9 250.5h.01M217.8 254.1h.01M217.5 241.9h.01M229.3 224.8h.01M209.8 259.1h.01M205.5 257.8h.01M233.8 224.3h.01M198.7 277.3h.01M201.1 260.9h.01M215.2 247.5h.01M237.7 232.0h.01M200.0 250.8h.01M222.8 247.7h.01M201.5 276.4h.01M191.0 275.2h.01M212.9 244.5h.01M217.6 252.6h.01M201.3 249.9h.01M197.6 267.3h.01M214.2 246.1h.01M210.2 251.2h.01M225.2 240.2h.01M212.3 254.3h.01M207.2 259.9h.01M212.4 251.2h.01M224.9 229.2h.01M209.4 251.3h.01M216.4 242.6h.01M215.5 247.4h.01M214.5 256.6h.01M220.2 234.3h.01M221.4 239.8h.01M220.8 247.3h.01M195.5 265.8h.01M220.5 248.4h.01M201.5 254.6h.01M191.0 262.0h.01M213.7 233.0h.01M209.0 256.6h.01M210.5 253.6h.01M217.1 253.6h.01M230.3 239.6h.01M209.0 252.2h.01M212.5 256.1h.01M221.4 246.0h.01M203.9 262.6h.01M207.4 244.8h.01M201.3 257.1h.01M209.6 258.5h.01M211.9 251.2h.01M218.4 232.8h.01M204.6 250.8h.01M223.3 234.7h.01M205.0 253.7h.01M213.8 248.5h.01M211.0 249.2h.01M223.3 232.3h.01M210.3 247.3h.01M234.8 236.1h.01M236.5 237.3h.01M219.5 240.5h.01M230.4 231.3h.01M214.5 256.8h.01M200.5 259.6h.01M216.7 253.8h.01M224.7 245.5h.01M213.6 255.0h.01M227.6 225.2h.01M220.8 256.0h.01M218.9 245.3h.01M217.7 242.7h.01M209.4 248.8h.01M224.0 238.7h.01M214.0 254.8h.01M227.6 245.0h.01M217.6 253.1h.01M199.7 261.7h.01M215.9 248.8h.01M231.0 244.4h.01M214.5 248.3h.01M229.0 243.4h.01M222.8 240.0h.01M225.8 229.6h.01M213.6 234.8h.01M217.9 250.1h.01M216.5 255.7h.01M223.3 255.7h.01M213.8 248.0h.01M227.8 239.0h.01M233.0 235.7h.01M222.2 256.9h.01M211.6 259.8h.01M229.2 230.7h.01M203.2 258.5h.01M222.0 244.3h.01M217.7 249.4h.01M217.6 260.7h.01M210.5 245.0h.01M231.7 234.2h.01M209.6 257.3h.01M223.9 237.7h.01M209.1 253.6h.01M212.3 249.0h.01M217.8 258.2h.01M214.0 245.3h.01M205.7 260.8h.01M226.5 240.5h.01M202.1 248.4h.01M220.7 236.1h.01M200.7 253.0h.01M201.7 268.1h.01M218.6 236.0h.01M209.5 260.9h.01M225.5 253.3h.01M220.5 239.8h.01M209.8 251.5h.01M222.9 239.2h.01M215.8 237.7h.01M210.9 253.1h.01M207.2 250.5h.01M210.5 251.3h.01M217.4 246.9h.01M233.6 230.6h.01M227.2 230.6h.01M230.0 235.2h.01M222.7 236.1h.01M209.2 254.2h.01M215.2 250.1h.01M231.9 237.3h.01M206.2 272.5h.01M214.2 255.6h.01M214.3 246.5h.01M232.5 228.9h.01M223.6 246.3h.01M216.9 237.7h.01M236.8 241.2h.01M219.2 233.7h.01M230.0 245.1h.01M211.1 249.8h.01M223.4 247.0h.01M203.9 254.6h.01M197.8 257.7h.01M215.4 247.3h.01M205.4 264.8h.01M228.6 246.4h.01M241.9 231.6h.01M204.1 261.3h.01M218.3 241.0h.01M213.4 253.2h.01M216.1 253.1h.01M187.4 272.5h.01M218.2 245.4h.01M209.2 254.4h.01M216.5 249.0h.01M233.6 242.9h.01M222.7 249.6h.01M207.6 246.7h.01M206.0 260.4h.01M207.0 251.5h.01M212.9 264.8h.01M222.7 244.4h.01M209.1 248.2h.01M209.0 259.3h.01M216.2 245.6h.01M207.4 250.5h.01M239.8 226.4h.01M242.5 236.2h.01M231.4 235.0h.01M218.9 248.3h.01M214.8 259.7h.01M207.6 248.3h.01M228.8 237.8h.01M213.7 256.6h.01M197.8 255.0h.01M222.4 241.2h.01M215.3 257.3h.01M226.3 232.0h.01M203.3 255.2h.01M203.0 258.0h.01M208.4 260.2h.01M219.6 241.9h.01M229.3 240.9h.01M226.8 227.3h.01M214.5 247.1h.01M209.2 257.3h.01M203.0 262.2h.01M213.3 241.8h.01M222.6 235.8h.01M213.6 253.2h.01M212.1 251.4h.01M194.5 266.3h.01M202.8 266.9h.01M218.4 250.1h.01M233.0 231.4h.01M227.4 228.0h.01M209.9 252.4h.01M230.3 236.1h.01M219.2 249.6h.01M218.2 249.2h.01M213.4 244.3h.01M229.5 233.5h.01M215.1 243.5h.01M217.4 255.3h.01M230.7 240.2h.01M229.0 242.1h.01M238.2 232.9h.01M219.1 234.5h.01M201.3 253.6h.01M214.8 263.4h.01M220.8 238.6h.01M223.7 259.5h.01M216.9 250.2h.01M213.7 253.6h.01M200.8 269.4h.01M228.2 224.3h.01M215.4 254.9h.01M216.2 240.7h.01M227.8 245.0h.01M217.4 246.4h.01M226.0 229.3h.01M216.9 238.9h.01M206.7 247.4h.01M210.6 251.7h.01M228.7 242.1h.01M215.9 262.1h.01M218.1 247.1h.01M211.2 250.3h.01M195.6 271.0h.01M218.1 248.6h.01M217.6 234.2h.01M215.4 256.6h.01M210.0 254.6h.01M225.3 245.4h.01M229.9 241.6h.01M222.8 238.4h.01M212.8 236.2h.01M214.3 252.0h.01M217.8 240.6h.01M202.1 261.7h.01M206.7 254.2h.01M229.6 234.0h.01M214.6 249.1h.01M184.4 277.0h.01M221.2 242.1h.01M215.1 255.3h.01M210.0 246.3h.01M210.3 245.0h.01M192.8 277.3h.01M219.0 245.8h.01M202.5 268.4h.01M233.4 239.9h.01M210.7 262.8h.01M208.5 252.2h.01M229.7 249.4h.01M232.8 235.3h.01M204.3 249.0h.01M220.1 253.8h.01M212.7 257.9h.01M207.6 260.4h.01M223.6 238.1h.01M192.4 253.5h.01M206.1 258.6h.01M213.8 245.6h.01M211.4 250.5h.01M236.6 226.1h.01M204.4 258.9h.01M209.8 258.3h.01M216.9 245.4h.01M210.3 248.7h.01M219.3 255.2h.01M226.3 240.6h.01M230.6 238.1h.01M220.8 241.5h.01M195.4 282.2h.01M200.1 255.5h.01M194.4 265.3h.01M225.2 235.4h.01M224.8 243.2h.01M215.4 247.9h.01M217.8 241.7h.01M216.9 253.2h.01M209.2 253.1h.01M204.7 270.4h.01M214.3 254.9h.01M223.6 260.7h.01M213.9 253.1h.01M231.3 247.3h.01M211.5 250.2h.01M216.7 239.3h.01M230.6 241.1h.01M223.8 243.1h.01M202.7 251.7h.01M213.3 258.2h.01M215.5 255.9h.01M224.8 236.7h.01M228.5 232.4h.01M206.3 251.4h.01M211.6 257.1h.01M214.5 250.2h.01M230.3 238.1h.01M219.9 245.0h.01M208.0 265.7h.01M212.6 249.5h.01M217.7 243.5h.01M218.5 249.6h.01M224.2 247.6h.01M204.3 263.9h.01M204.1 265.5h.01M211.0 258.4h.01M218.8 251.9h.01M218.5 259.0h.01M221.0 250.1h.01M230.8 254.2h.01M207.5 256.2h.01M193.6 275.7h.01M216.8 247.2h.01M200.7 263.6h.01M221.4 250.4h.01M223.8 240.9h.01M218.2 250.0h.01M221.3 242.5h.01M225.8 235.0h.01M211.0 255.9h.01M226.7 240.1h.01M218.1 242.7h.01M223.2 258.6h.01M216.8 246.5h.01M220.5 249.8h.01M228.8 236.3h.01M212.8 257.7h.01M223.9 248.6h.01M198.9 252.2h.01M225.3 231.0h.01M227.6 232.0h.01M195.1 262.3h.01M226.7 233.7h.01M192.3 265.0h.01M231.7 235.8h.01M214.6 244.5h.01M211.3 245.7h.01M214.5 245.3h.01M222.7 252.9h.01M194.5 248.1h.01M214.1 241.0h.01M221.1 230.5h.01M224.0 244.8h.01M223.7 255.1h.01M211.0 247.4h.01M194.1 270.9h.01M219.5 235.2h.01M209.6 260.7h.01M201.5 272.1h.01M213.8 235.7h.01M199.7 256.0h.01M222.4 245.8h.01M247.6 234.1h.01M214.8 248.6h.01M230.7 219.6h.01M238.3 224.0h.01M220.9 233.4h.01M220.0 241.9h.01M216.0 252.0h.01M196.7 254.9h.01M219.7 260.7h.01M219.1 245.9h.01M211.2 240.3h.01M216.2 250.7h.01M209.0 256.6h.01M211.2 252.6h.01M245.9 213.9h.01M200.5 251.0h.01M221.8 236.5h.01M220.3 238.1h.01M217.7 236.4h.01M221.2 233.1h.01M211.3 254.0h.01M205.4 253.0h.01M226.3 241.4h.01M212.2 233.1h.01M232.8 239.3h.01M213.0 247.4h.01M214.5 247.6h.01M226.8 234.8h.01M202.7 257.8h.01M214.9 249.2h.01M215.9 259.5h.01M205.2 263.2h.01M215.9 269.6h.01M232.1 240.4h.01M207.1 254.5h.01M187.2 269.6h.01M206.2 254.5h.01M210.3 252.7h.01M217.4 247.5h.01M203.6 273.3h.01M210.6 244.1h.01M208.9 252.6h.01M216.1 245.2h.01M231.8 243.3h.01M219.7 246.3h.01M216.4 254.9h.01M212.4 260.6h.01M195.9 251.5h.01M233.2 230.4h.01M227.4 244.1h.01M195.5 284.8h.01M212.3 242.0h.01M219.7 252.6h.01M217.7 254.7h.01M203.3 264.3h.01M215.4 255.7h.01M211.0 261.3h.01M213.4 241.2h.01M205.8 243.0h.01M199.1 264.9h.01M205.4 261.5h.01M215.2 245.5h.01M229.7 238.5h.01M204.6 262.5h.01M221.9 247.9h.01M218.8 233.1h.01M200.8 262.5h.01M233.7 244.5h.01M219.2 247.2h.01M197.1 259.2h.01M220.3 248.0h.01M218.3 241.6h.01M221.8 238.3h.01M224.8 248.4h.01M211.6 252.6h.01M180.7 270.7h.01M216.5 256.4h.01M197.2 267.2h.01M218.8 250.3h.01M215.5 256.2h.01M209.2 257.0h.01M207.3 253.1h.01M214.4 249.7h.01M215.5 239.8h.01M221.4 241.4h.01M217.7 253.2h.01M210.3 249.9h.01M220.0 247.5h.01M208.8 268.2h.01M215.6 241.5h.01M225.2 249.4h.01M213.3 250.1h.01M205.8 257.2h.01M217.5 253.7h.01M200.9 259.0h.01M223.2 247.9h.01M202.8 256.3h.01M223.4 243.3h.01M233.3 232.6h.01M201.6 256.0h.01M213.1 249.4h.01M220.5 251.7h.01M205.2 262.0h.01M234.1 237.1h.01M229.0 233.3h.01M204.2 259.5h.01M225.3 245.7h.01M193.7 270.1h.01M203.6 258.9h.01M197.8 269.5h.01M213.8 262.5h.01M213.3 250.6h.01M215.2 258.7h.01M225.0 252.5h.01M219.8 241.2h.01M229.7 227.6h.01M218.8 243.9h.01M221.6 253.0h.01M228.9 231.1h.01M217.8 255.7h.01M229.1 230.9h.01M202.0 258.9h.01M235.2 228.5h.01M221.8 245.8h.01M206.0 251.5h.01M246.5 215.4h.01M212.1 247.1h.01M210.5 249.3h.01M228.4 243.3h.01M205.9 260.3h.01M223.5 238.8h.01M233.8 240.2h.01M223.5 245.5h.01M216.1 246.4h.01M207.5 259.7h.01M203.7 260.1h.01M209.7 259.4h.01M220.9 248.6h.01M230.1 238.6h.01M223.7 238.6h.01M206.9 260.4h.01M209.4 258.8h.01M206.8 245.1h.01M206.2 247.6h.01M225.6 248.4h.01M190.8 270.8h.01M193.9 267.3h.01M225.0 236.3h.01M215.2 251.7h.01M220.0 246.9h.01M212.4 255.6h.01M230.2 238.3h.01M224.4 248.6h.01M214.4 261.0h.01M211.8 248.3h.01M221.2 247.1h.01M223.7 243.3h.01M219.0 243.7h.01M231.0 251.5h.01M200.5 259.7h.01M206.8 241.9h.01M216.0 253.0h.01M229.0 230.8h.01M233.2 226.7h.01M211.6 248.2h.01M210.2 258.5h.01M211.6 255.3h.01M225.8 242.0h.01M221.4 246.9h.01M235.4 248.9h.01M213.6 250.2h.01M201.8 256.5h.01M213.6 241.8h.01M223.4 236.2h.01M218.9 254.0h.01M215.8 252.5h.01M220.5 247.6h.01M252.5 221.8h.01M229.7 237.8h.01M210.4 247.9h.01M220.9 252.8h.01M221.1 244.9h.01M195.2 269.7h.01M208.7 262.4h.01M219.9 242.4h.01M205.3 244.1h.01M222.7 246.3h.01M219.1 246.5h.01M200.4 277.4h.01M194.8 256.1h.01M215.5 251.5h.01M207.1 251.2h.01M210.2 242.4h.01M217.9 234.5h.01M213.7 248.5h.01M212.7 253.8h.01M201.4 268.9h.01M209.3 260.9h.01M227.3 234.8h.01M225.2 232.6h.01M221.6 235.4h.01M207.3 252.2h.01M215.1 253.9h.01M220.0 228.4h.01M200.2 252.9h.01M227.7 242.8h.01M217.6 244.4h.01M221.3 245.9h.01M203.5 262.1h.01M221.9 236.8h.01M218.7 237.8h.01M206.7 259.2h.01M215.9 241.5h.01M215.9 245.1h.01M209.8 239.9h.01M194.9 271.8h.01M239.8 221.6h.01M197.7 267.5h.01M204.7 266.1h.01M212.1 240.3h.01M218.4 241.4h.01M225.6 237.1h.01M208.2 258.0h.01M220.7 246.0h.01M211.1 256.9h.01M205.3 268.0h.01M216.8 250.8h.01M211.4 243.3h.01M219.4 245.5h.01M208.8 264.7h.01M223.3 247.7h.01M224.5 247.8h.01M217.9 247.4h.01M227.6 239.4h.01M211.7 251.7h.01M210.5 242.1h.01M215.8 253.2h.01M211.4 250.3h.01M216.0 243.7h.01M193.4 254.6h.01M234.5 229.3h.01M203.8 260.8h.01M228.7 252.0h.01M221.9 253.6h.01M215.7 239.0h.01M232.1 242.9h.01M226.5 230.9h.01M210.9 250.7h.01M232.5 233.7h.01M218.2 250.7h.01M235.7 243.9h.01M233.9 237.0h.01M231.5 244.5h.01M209.3 260.6h.01M230.5 245.5h.01M224.6 244.4h.01M229.7 236.6h.01M221.7 244.1h.01M235.3 230.9h.01M208.7 242.0h.01M214.5 245.4h.01M208.3 255.7h.01M193.6 272.2h.01M215.5 260.7h.01M198.1 259.6h.01M226.2 249.4h.01M236.8 231.9h.01M211.7 251.6h.01M211.1 266.2h.01M204.6 252.4h.01M231.6 244.0h.01M228.0 235.8h.01M221.0 243.1h.01M224.1 247.7h.01M210.0 260.6h.01M210.4 250.3h.01M198.4 255.9h.01M212.3 257.3h.01M221.6 239.7h.01M217.0 255.9h.01M212.4 264.7h.01M223.5 232.8h.01M232.8 227.1h.01M216.8 242.5h.01M226.6 239.5h.01M211.7 237.4h.01M204.9 271.4h.01M204.0 256.1h.01M229.3 237.2h.01M223.1 241.7h.01M221.3 247.3h.01M216.0 248.9h.01M219.1 228.9h.01M196.4 265.9h.01M212.6 245.3h.01M223.8 234.7h.01M227.8 243.4h.01M193.3 260.8h.01M231.8 239.1h.01M226.5 232.6h.01M188.8 271.4h.01M202.2 255.0h.01M212.4 258.4h.01M201.9 265.7h.01M228.8 240.2h.01M190.0 260.8h.01M231.9 226.7h.01M215.5 258.5h.01M198.1 264.0h.01M233.1 238.6h.01M217.3 249.6h.01M211.9 249.6h.01M239.3 228.7h.01M220.6 235.8h.01M214.1 252.1h.01M199.0 259.0h.01M213.5 256.5h.01M220.2 250.9h.01M207.1 260.7h.01M231.7 233.6h.01M227.0 248.1h.01M190.3 262.9h.01M218.1 258.2h.01M213.0 247.6h.01M202.6 269.9h.01M222.3 249.1h.01M220.6 236.8h.01M222.3 245.4h.01M218.2 251.3h.01M213.8 248.9h.01M209.7 248.4h.01M244.0 223.0h.01M216.6 242.1h.01M223.6 242.6h.01M207.8 250.2h.01M220.6 240.2h.01M206.0 254.9h.01M224.8 240.8h.01M214.6 234.2h.01M195.5 266.4h.01M209.8 265.8h.01M211.9 249.2h.01M221.2 252.1h.01M204.2 265.8h.01M219.5 251.4h.01M194.9 258.4h.01M208.6 258.0h.01M213.1 256.5h.01M217.8 249.2h.01M226.9 246.2h.01M194.3 257.6h.01M212.7 246.7h.01M225.9 234.1h.01M222.5 253.7h.01M196.8 262.2h.01M220.9 239.4h.01M207.9 273.7h.01M210.3 264.0h.01M221.7 250.5h.01M234.3 234.0h.01M207.5 251.5h.01M222.9 248.3h.01M217.2 233.1h.01M205.1 262.5h.01M212.9 266.9h.01M219.9 239.5h.01M224.4 236.7h.01M196.4 270.1h.01M214.1 259.8h.01M202.4 257.7h.01M206.0 244.9h.01M228.2 250.3h.01M220.5 234.7h.01M221.2 252.5h.01M238.8 234.4h.01M222.6 256.2h.01M210.2 268.0h.01M222.7 232.8h.01M217.4 257.7h.01M214.3 247.9h.01M205.5 269.0h.01M212.6 247.2h.01M215.3 246.2h.01M213.3 270.7h.01M222.9 248.5h.01M216.5 251.3h.01M224.0 246.2h.01M230.6 233.0h.01M219.2 240.7h.01M225.1 236.1h.01M201.2 269.6h.01M233.1 227.0h.01M220.1 240.9h.01M212.5 257.9h.01M205.4 251.4h.01M213.2 238.4h.01M214.1 236.6h.01M225.4 247.9h.01M232.4 228.7h.01M227.4 235.0h.01M212.4 251.5h.01M209.6 264.9h.01M209.4 260.0h.01M203.1 263.5h.01M211.6 238.1h.01M235.0 229.0h.01M226.0 239.9h.01M220.4 244.5h.01M210.6 254.2h.01M199.8 263.0h.01M217.5 255.6h.01M210.6 250.5h.01M207.7 254.2h.01M216.1 236.9h.01M205.8 260.7h.01M215.7 237.7h.01M216.1 243.1h.01M203.8 266.5h.01M234.1 231.7h.01M240.9 227.8h.01M219.6 257.3h.01M221.7 240.8h.01M236.0 226.2h.01M219.2 256.3h.01M211.9 246.1h.01M219.1 236.2h.01M225.2 239.4h.01M221.7 241.4h.01M196.3 256.9h.01M224.1 248.3h.01M219.1 243.4h.01M220.8 232.6h.01M183.4 279.6h.01M235.4 235.4h.01M196.4 267.8h.01M218.4 243.7h.01M206.9 262.3h.01M215.4 243.8h.01M237.4 223.7h.01M219.3 263.6h.01M227.7 237.4h.01M219.0 253.3h.01M230.6 247.0h.01M216.9 247.0h.01M214.3 240.7h.01M214.9 249.3h.01M230.9 244.8h.01M213.1 251.5h.01M229.1 241.1h.01M223.0 238.5h.01M206.9 270.1h.01M201.2 263.7h.01M215.6 243.8h.01M226.8 241.6h.01M224.0 234.0h.01M219.2 241.7h.01M201.8 261.3h.01M210.4 264.1h.01M212.2 251.9h.01M217.0 250.4h.01M205.4 258.8h.01M214.2 261.7h.01M211.6 242.4h.01M216.3 256.8h.01M223.8 227.3h.01M214.1 252.6h.01M207.1 235.7h.01M213.8 243.6h.01M227.8 250.3h.01M209.8 265.1h.01M220.3 243.5h.01M235.6 230.0h.01M219.1 245.0h.01M208.8 238.7h.01M213.5 240.2h.01M231.9 236.6h.01M224.8 242.5h.01M216.8 246.8h.01M218.3 250.1h.01M233.2 232.5h.01M217.0 234.9h.01M218.7 238.1h.01M226.3 229.5h.01M239.3 234.9h.01M236.2 227.1h.01M200.9 270.0h.01M202.2 263.9h.01M205.0 268.5h.01M218.7 244.8h.01M209.1 258.2h.01M215.0 249.4h.01M217.1 249.5h.01M231.5 244.8h.01M210.7 253.5h.01M214.3 255.0h.01M211.0 252.6h.01M229.7 235.6h.01M212.2 250.2h.01M221.3 258.2h.01M220.5 247.0h.01M208.0 252.6h.01M218.9 250.2h.01M200.7 278.7h.01M216.9 248.9h.01M219.9 243.0h.01M216.3 258.4h.01M205.6 261.1h.01M201.6 258.5h.01M209.7 269.6h.01M221.2 257.1h.01M236.8 234.3h.01M216.7 250.1h.01M214.8 264.0h.01M193.9 265.9h.01M218.4 229.6h.01M199.2 262.6h.01M212.9 245.7h.01M208.2 251.6h.01M223.1 236.6h.01M231.8 233.4h.01M234.8 234.2h.01M244.0 240.2h.01M219.5 251.3h.01M212.3 244.9h.01M223.3 240.4h.01M239.4 235.3h.01M202.1 252.1h.01M227.7 252.5h.01M224.4 249.1h.01M227.0 228.3h.01M205.7 249.9h.01M204.2 254.4h.01M222.7 242.7h.01M202.8 265.2h.01M195.1 275.8h.01M192.7 264.5h.01M215.8 268.0h.01M220.8 240.9h.01M202.9 246.5h.01M224.0 239.9h.01M221.2 266.4h.01M217.5 239.9h.01M215.7 260.2h.01M222.4 255.1h.01M213.4 245.7h.01M230.7 231.1h.01M215.4 243.7h.01M231.9 234.4h.01M206.8 264.9h.01M206.9 265.6h.01M213.7 248.7h.01M217.6 246.6h.01M211.0 251.0h.01M222.4 236.1h.01M232.7 233.2h.01M207.2 245.2h.01M216.8 244.9h.01M209.1 248.8h.01M216.1 256.7h.01M217.4 250.9h.01M226.3 240.8h.01M218.4 248.0h.01M222.2 247.1h.01M233.1 241.6h.01M215.1 255.4h.01M222.8 241.3h.01M222.5 244.5h.01M213.3 260.5h.01M215.0 254.2h.01M217.8 244.2h.01M226.7 238.3h.01M212.8 260.6h.01M215.5 246.6h.01M235.5 226.6h.01M227.0 222.5h.01M200.9 255.7h.01M222.7 231.3h.01M212.5 245.3h.01M211.7 254.1h.01M209.6 241.9h.01M210.4 247.5h.01M219.7 250.4h.01M216.2 243.6h.01M206.6 254.1h.01M212.4 259.6h.01M219.5 247.0h.01M212.6 265.3h.01M215.6 247.5h.01M210.9 253.0h.01M199.2 263.9h.01M219.5 243.0h.01M209.7 255.0h.01M213.5 243.3h.01M218.1 244.7h.01M205.6 253.4h.01M230.2 237.5h.01M221.6 240.5h.01M220.8 253.8h.01M241.5 236.1h.01M220.9 246.6h.01M229.6 237.6h.01M214.3 246.0h.01M223.0 245.5h.01M221.7 239.7h.01M228.4 239.6h.01M217.3 250.5h.01M206.8 256.9h.01M215.0 239.0h.01M211.5 250.8h.01M228.4 236.5h.01M216.4 247.4h.01M213.1 259.7h.01M227.0 235.8h.01M220.3 253.9h.01M213.0 243.1h.01M208.0 264.4h.01M222.1 231.3h.01M234.3 233.6h.01M225.3 244.7h.01M223.0 244.2h.01M213.1 241.6h.01M220.7 245.8h.01M215.8 247.0h.01M210.3 253.5h.01M216.4 236.4h.01M199.9 275.4h.01M200.3 259.0h.01M240.4 221.3h.01M213.1 243.2h.01M192.2 275.9h.01M184.0 282.0h.01M213.0 255.9h.01M222.0 247.0h.01M227.6 236.5h.01M210.4 235.3h.01M208.2 250.2h.01M203.1 253.1h.01M225.6 237.6h.01M220.2 232.0h.01M230.3 233.6h.01M211.5 245.2h.01M203.7 266.8h.01M219.0 241.3h.01M228.4 222.0h.01M217.9 243.5h.01M203.6 263.6h.01M219.8 246.6h.01M214.6 245.8h.01M208.8 261.0h.01M193.9 263.8h.01M212.1 266.2h.01M224.9 241.0h.01M227.5 239.4h.01M235.1 223.0h.01M217.4 246.6h.01M211.1 247.9h.01M238.2 228.4h.01M203.0 258.3h.01M232.8 242.4h.01M213.1 259.7h.01M220.0 240.7h.01M213.2 260.6h.01M231.1 248.5h.01M223.4 242.2h.01M231.9 224.3h.01M211.5 255.9h.01M216.3 254.2h.01M213.4 244.3h.01M202.0 265.7h.01M228.5 229.8h.01M211.2 260.3h.01M213.8 263.6h.01M227.6 235.9h.01M214.7 261.3h.01M214.4 254.6h.01M235.4 231.6h.01M213.4 243.5h.01M223.7 242.0h.01M189.0 267.2h.01M224.0 243.7h.01M219.1 253.0h.01M212.9 263.6h.01M219.4 241.3h.01M215.1 243.9h.01M221.2 242.4h.01M205.2 256.0h.01M225.8 233.6h.01M230.6 236.8h.01M201.7 254.7h.01M209.5 254.0h.01M214.3 250.6h.01M215.6 253.4h.01M191.1 261.0h.01M225.7 253.2h.01M211.5 262.4h.01M218.5 265.6h.01M215.8 236.6h.01M211.0 248.6h.01M227.1 246.5h.01M234.9 241.5h.01M211.9 256.1h.01M228.4 234.7h.01M218.1 252.8h.01M217.0 247.5h.01M218.3 235.8h.01M223.6 240.6h.01M208.7 244.6h.01M218.4 246.5h.01M228.3 223.7h.01M222.4 242.9h.01M205.9 251.6h.01M208.1 250.1h.01M208.1 256.6h.01M219.8 243.8h.01M217.2 244.7h.01M209.3 264.6h.01M208.0 243.8h.01M218.6 253.2h.01M209.6 255.6h.01M230.3 237.9h.01M221.2 241.9h.01M216.3 255.8h.01M217.5 252.8h.01M228.3 249.1h.01M224.7 233.8h.01M216.4 237.1h.01M228.8 248.2h.01M215.1 246.4h.01M213.8 259.9h.01M218.7 242.2h.01M213.0 254.0h.01M213.4 256.0h.01M211.7 245.4h.01M201.5 267.0h.01M231.2 230.2h.01M214.7 244.0h.01M210.9 263.6h.01M205.3 271.5h.01M215.6 242.9h.01M214.7 255.5h.01M218.0 242.1h.01M226.1 252.6h.01M220.4 263.3h.01M221.9 249.0h.01M204.1 250.3h.01M227.7 232.8h.01M218.4 245.0h.01M210.7 255.0h.01M238.7 231.3h.01M209.1 255.1h.01M222.0 236.1h.01M207.2 259.4h.01M218.3 255.8h.01M218.9 249.5h.01M223.8 237.3h.01M208.2 256.6h.01M215.1 254.6h.01M207.4 250.0h.01M218.6 259.0h.01M205.6 254.0h.01M241.7 229.3h.01M214.0 253.5h.01M200.8 262.2h.01M214.7 248.2h.01M239.6 225.6h.01M221.1 237.2h.01M212.2 257.5h.01M229.1 229.5h.01M221.8 250.9h.01M223.1 237.3h.01M232.6 220.0h.01M223.3 239.1h.01M219.0 249.9h.01M218.4 244.4h.01M218.7 237.8h.01M221.5 247.2h.01M218.5 234.5h.01M206.4 256.0h.01M219.7 240.9h.01M221.7 243.5h.01M208.9 243.8h.01M238.8 235.0h.01M189.4 274.1h.01M211.5 257.6h.01M199.1 264.4h.01M217.8 251.1h.01M216.1 230.5h.01M226.5 228.7h.01M209.7 250.7h.01M211.6 244.9h.01M222.2 242.5h.01M224.5 245.2h.01M218.5 234.9h.01M210.6 250.5h.01M196.2 263.1h.01M228.9 242.8h.01M233.2 229.6h.01M204.3 271.8h.01M226.0 240.2h.01M233.1 242.3h.01M211.6 246.2h.01M207.0 253.4h.01M211.4 251.2h.01M211.1 237.3h.01M201.1 259.1h.01M233.6 238.6h.01M208.4 239.6h.01M237.9 247.8h.01M220.4 257.1h.01M222.0 247.9h.01M213.9 257.5h.01M221.0 247.1h.01M208.2 259.0h.01M223.6 247.3h.01M233.6 242.6h.01M221.8 245.6h.01M234.4 234.1h.01M214.8 260.4h.01M233.7 225.3h.01M206.8 261.3h.01M201.0 253.5h.01M228.1 251.3h.01M214.9 243.1h.01M214.5 246.9h.01M214.4 249.0h.01M221.1 248.8h.01M219.1 244.3h.01M218.5 251.4h.01M205.3 258.5h.01M233.6 248.3h.01M205.9 249.5h.01M228.1 241.3h.01M233.5 237.7h.01M201.1 250.2h.01M212.8 254.0h.01M203.7 269.7h.01M205.1 261.6h.01M194.1 264.4h.01M215.0 254.5h.01M207.2 252.7h.01M233.1 233.7h.01M226.3 225.7h.01M228.5 233.2h.01M198.9 262.1h.01M211.5 252.3h.01M198.6 269.7h.01M222.2 249.4h.01M212.9 239.6h.01M221.2 248.5h.01M248.2 230.7h.01M205.6 257.0h.01M219.1 263.0h.01M215.8 242.9h.01M202.9 251.9h.01M216.8 239.1h.01M201.1 264.9h.01M224.6 224.4h.01M229.4 234.5h.01M220.5 248.9h.01M229.9 239.3h.01M225.3 254.5h.01M194.6 258.4h.01M216.1 247.2h.01M194.5 272.2h.01M242.6 231.7h.01M193.2 274.6h.01M211.8 255.0h.01M208.9 266.8h.01M201.5 259.6h.01M212.7 246.2h.01M203.3 258.1h.01M211.5 253.0h.01M225.5 238.5h.01M219.1 258.2h.01M214.0 245.1h.01M210.2 255.6h.01M203.7 272.3h.01M215.4 239.7h.01M219.5 257.8h.01M218.4 258.2h.01M206.2 244.7h.01M219.9 245.9h.01M228.1 238.8h.01M218.9 244.3h.01M226.3 249.0h.01M220.1 237.8h.01M203.7 282.7h.01M201.6 252.9h.01M213.9 246.0h.01M218.5 239.5h.01M212.1 257.5h.01M217.8 242.4h.01M220.8 241.2h.01M207.2 249.9h.01M217.0 239.7h.01M186.9 272.4h.01M191.0 274.2h.01M209.2 255.3h.01M212.7 254.8h.01M216.9 245.3h.01M217.9 266.2h.01M206.4 255.1h.01M206.2 256.2h.01M216.2 255.9h.01M221.7 230.1h.01M215.5 249.9h.01M231.0 243.0h.01M203.2 254.0h.01M227.3 240.6h.01M207.1 255.8h.01M204.0 265.6h.01M223.4 259.9h.01M219.3 239.5h.01M232.6 242.2h.01M206.4 265.4h.01M195.2 255.4h.01M207.6 260.3h.01M216.6 244.7h.01M235.2 236.7h.01M224.6 238.5h.01M203.8 260.8h.01M195.9 258.0h.01M205.0 252.9h.01M231.9 236.7h.01M206.7 257.9h.01M202.2 256.8h.01M221.0 249.4h.01M206.6 253.5h.01M195.1 258.3h.01M209.1 257.9h.01M200.7 252.8h.01M219.7 234.9h.01M222.6 241.2h.01M231.0 227.7h.01M218.5 241.8h.01M222.7 239.6h.01M220.8 256.2h.01M242.3 230.8h.01M197.1 274.7h.01M231.3 223.1h.01M209.1 254.2h.01M223.7 256.0h.01M211.8 251.2h.01M232.9 240.1h.01M199.4 279.0h.01M219.4 244.7h.01M217.3 246.4h.01M217.8 257.5h.01M219.4 242.2h.01M217.4 237.8h.01M212.7 270.6h.01M189.8 260.4h.01M205.4 257.2h.01M213.3 246.1h.01M251.1 215.3h.01M216.9 252.6h.01M216.8 244.0h.01M201.3 254.5h.01M226.3 234.4h.01M216.1 250.7h.01M196.9 264.3h.01M208.3 261.1h.01M230.1 241.0h.01M207.6 251.2h.01M238.0 230.7h.01M230.1 238.9h.01M218.4 242.6h.01M200.7 257.4h.01M234.5 228.7h.01M223.6 249.9h.01M234.3 228.8h.01M200.3 259.8h.01M204.0 267.1h.01M189.2 267.0h.01M241.4 226.6h.01M211.9 257.9h.01M208.4 252.8h.01M235.1 236.2h.01M227.8 250.3h.01M232.2 232.2h.01M203.2 250.7h.01M209.9 244.8h.01M220.9 230.8h.01M207.9 257.2h.01M220.8 245.3h.01M234.6 234.5h.01M221.3 232.7h.01M200.1 273.5h.01M209.2 260.5h.01M221.0 244.9h.01M218.9 249.4h.01M213.6 247.7h.01M227.0 243.2h.01M218.1 252.6h.01M220.0 255.7h.01M223.5 235.7h.01M217.7 252.4h.01M214.2 256.0h.01M194.2 259.6h.01M254.7 217.0h.01M202.1 259.3h.01M228.6 247.6h.01M194.5 267.7h.01M190.4 265.3h.01M210.9 253.7h.01M218.4 250.7h.01M216.0 251.2h.01M229.4 235.3h.01M218.0 250.9h.01M212.7 258.2h.01M209.3 241.8h.01M226.8 235.5h.01M229.4 226.6h.01M219.1 246.9h.01M204.1 259.7h.01M219.2 257.8h.01M195.7 255.7h.01M216.6 244.4h.01M220.1 248.1h.01M216.8 239.6h.01M211.2 250.1h.01M228.7 239.1h.01M220.9 249.4h.01M223.9 243.3h.01M231.0 238.8h.01M234.8 231.2h.01M211.2 261.1h.01M226.4 244.4h.01M229.8 224.2h.01M227.1 248.1h.01M218.9 251.5h.01M196.1 266.9h.01M240.9 226.4h.01M219.6 235.1h.01M207.8 260.4h.01M217.2 243.9h.01M203.7 260.4h.01M211.5 246.3h.01M202.1 268.2h.01M212.4 255.3h.01M226.1 242.9h.01M257.7 215.5h.01M220.8 231.3h.01M230.4 237.2h.01M206.4 262.7h.01M224.2 239.4h.01M220.2 237.7h.01M210.1 267.7h.01M238.7 232.3h.01M182.5 260.1h.01M210.8 267.0h.01M236.4 243.0h.01M197.4 255.2h.01M188.7 245.3h.01M199.9 231.3h.01M217.4 247.3h.01M208.8 259.9h.01M209.4 256.7h.01M234.7 246.6h.01M217.1 275.5h.01M236.9 228.9h.01M216.2 250.1h.01M227.5 233.4h.01M228.6 238.6h.01M214.7 251.5h.01M183.7 268.8h.01M201.1 277.8h.01M224.7 239.7h.01M216.0 227.4h.01M232.3 214.7h.01M199.7 239.9h.01M204.6 262.4h.01M230.9 236.9h.01M216.6 253.4h.01M250.5 245.8h.01M226.4 225.0h.01M211.4 247.0h.01M195.7 256.1h.01M263.4 212.3h.01M235.3 230.3h.01M214.6 257.3h.01M221.5 260.0h.01M186.8 258.2h.01M212.2 246.3h.01M217.1 242.2h.01M201.5 276.8h.01M218.1 234.4h.01M204.2 269.2h.01M197.3 260.4h.01M220.5 244.5h.01M205.0 256.5h.01M221.2 253.7h.01M224.8 249.0h.01M224.8 232.2h.01M202.9 255.5h.01M221.5 253.0h.01M214.4 272.7h.01M198.4 263.2h.01M236.4 236.5h.01M215.9 245.1h.01M223.7 235.8h.01M227.7 227.5h.01M203.1 257.7h.01M185.4 283.5h.01M212.5 245.6h.01M206.5 248.5h.01M239.3 236.2h.01M207.0 255.5h.01M221.7 241.7h.01M234.9 245.2h.01M219.0 231.3h.01M228.3 231.3h.01M210.2 250.3h.01M225.3 260.5h.01M208.1 258.2h.01M215.1 262.6h.01M215.3 255.1h.01M217.3 248.8h.01M211.9 240.9h.01M215.2 245.0h.01M218.5 285.1h.01M206.2 250.9h.01M215.4 258.2h.01M193.4 261.3h.01M207.3 255.4h.01M227.8 230.3h.01M247.2 218.9h.01M224.5 231.8h.01M206.8 258.4h.01M215.0 263.8h.01M225.1 250.1h.01M243.5 230.6h.01M208.0 256.6h.01M208.6 256.4h.01M217.0 266.9h.01M191.7 291.4h.01M233.7 225.4h.01M221.1 250.2h.01M212.1 249.7h.01M202.3 274.0h.01M195.8 254.1h.01M194.1 257.0h.01M192.0 239.0h.01M214.7 250.4h.01M228.6 225.1h.01M235.6 243.0h.01M220.5 223.1h.01M217.7 254.0h.01M194.6 258.4h.01M219.9 245.3h.01M188.8 256.7h.01M228.0 237.3h.01M242.2 234.7h.01M234.4 243.4h.01M236.9 231.4h.01M235.3 234.9h.01M214.0 236.8h.01M203.2 261.5h.01M199.1 255.9h.01M210.2 260.3h.01M205.7 245.1h.01M202.1 264.3h.01M215.1 257.5h.01M206.4 261.5h.01M228.7 256.4h.01M226.8 253.6h.01M201.4 235.0h.01M203.3 263.5h.01M206.2 246.9h.01M221.1 267.3h.01M193.0 271.0h.01M212.5 239.3h.01M204.4 252.9h.01M193.2 256.3h.01M219.4 254.7h.01M207.1 236.1h.01M212.5 269.1h.01M209.7 271.0h.01M213.0 248.0h.01M212.5 250.6h.01M233.9 234.7h.01M213.8 281.4h.01M223.7 250.4h.01M210.0 250.4h.01M232.4 252.8h.01M202.6 262.5h.01M206.6 244.3h.01M222.6 269.4h.01M242.4 243.3h.01M200.3 260.7h.01M185.5 248.8h.01M215.8 242.8h.01M195.7 241.8h.01M228.0 246.4h.01M243.9 242.5h.01M206.2 255.9h.01M224.1 253.6h.01M227.9 218.1h.01M200.9 260.3h.01M210.2 261.1h.01M228.5 234.9h.01M213.9 250.4h.01M192.2 258.3h.01M197.4 251.9h.01M212.7 258.8h.01M234.9 227.5h.01M210.8 261.8h.01M212.1 229.3h.01M226.9 243.4h.01M205.2 269.4h.01M212.8 249.6h.01M198.8 250.7h.01M207.6 267.4h.01M219.6 239.5h.01M204.5 249.0h.01M186.3 259.0h.01M233.0 206.6h.01M204.9 235.5h.01M208.1 240.4h.01M212.0 251.1h.01M234.4 253.1h.01M202.1 241.7h.01M173.9 288.1h.01M226.4 234.5h.01M209.7 238.1h.01M232.8 256.6h.01M205.1 264.6h.01M220.9 250.3h.01M203.8 240.5h.01M168.8 283.4h.01M224.8 232.6h.01M215.8 248.9h.01M219.4 242.9h.01M201.1 254.8h.01M205.1 261.3h.01M218.6 261.7h.01M224.6 241.4h.01M200.7 266.3h.01M188.1 259.9h.01M210.1 229.9h.01M203.8 253.0h.01M208.4 268.4h.01M212.1 248.2h.01M230.2 238.2h.01M224.7 228.0h.01M205.3 262.9h.01M192.6 251.7h.01M202.8 251.7h.01M230.0 238.3h.01M207.2 254.2h.01M213.7 268.2h.01M200.8 260.9h.01M207.2 235.8h.01M188.1 271.9h.01M193.0 258.4h.01M224.6 239.0h.01M238.3 231.2h.01M215.6 263.4h.01M206.4 257.9h.01M216.8 232.1h.01M217.1 257.8h.01M214.3 256.8h.01M212.3 258.5h.01M204.6 262.0h.01M210.2 257.7h.01M196.4 267.9h.01M219.5 237.5h.01M216.0 264.2h.01M206.0 274.9h.01M209.3 260.4h.01M187.8 270.0h.01M199.7 275.2h.01M201.0 254.4h.01M243.0 226.1h.01M214.8 255.7h.01M214.4 253.3h.01M256.1 221.9h.01M219.6 255.9h.01M224.1 247.8h.01M230.7 248.2h.01M243.0 218.9h.01M187.8 269.7h.01M217.1 263.2h.01M225.2 246.6h.01M229.4 242.6h.01M227.2 236.0h.01M219.8 243.6h.01M213.4 256.8h.01M217.5 238.8h.01M196.2 241.3h.01M246.0 233.1h.01M231.0 234.9h.01M224.2 251.1h.01M243.4 231.7h.01M219.5 255.1h.01M233.9 215.0h.01M201.2 270.6h.01M223.6 247.1h.01M218.1 261.0h.01M226.3 252.7h.01M211.8 223.2h.01M201.1 243.9h.01M225.3 248.4h.01M217.5 260.2h.01M213.1 243.6h.01M230.2 238.3h.01M200.5 266.5h.01M236.6 224.6h.01M228.4 263.1h.01M206.7 252.1h.01M194.8 254.3h.01M214.0 262.7h.01M208.8 258.1h.01M232.9 239.1h.01M192.7 274.6h.01M213.2 232.8h.01M191.6 255.9h.01M222.1 237.3h.01M211.4 265.5h.01M197.3 257.0h.01M212.1 239.9h.01M240.1 224.3h.01M203.2 238.4h.01M201.4 270.2h.01M213.5 256.9h.01M223.2 252.6h.01M240.1 241.8h.01M215.8 271.1h.01M193.6 265.2h.01M225.6 242.0h.01M223.3 234.0h.01M208.5 257.7h.01M208.1 232.1h.01M207.8 253.3h.01M215.5 234.5h.01M214.8 237.0h.01M203.5 265.8h.01M190.5 276.5h.01M245.5 215.8h.01M215.5 246.6h.01M226.3 255.6h.01M207.8 260.1h.01M223.7 252.4h.01M219.2 255.4h.01M202.6 271.7h.01M199.9 255.4h.01M230.1 227.4h.01M216.7 255.8h.01M198.4 274.3h.01M229.5 220.8h.01M220.5 247.9h.01M213.3 246.8h.01M213.2 246.9h.01M205.4 259.8h.01M204.5 247.7h.01M191.2 258.6h.01M218.0 253.7h.01M215.5 248.4h.01M210.2 250.1h.01M219.0 267.8h.01M225.4 240.0h.01M235.7 224.1h.01M181.5 269.5h.01M203.3 255.6h.01M238.6 212.2h.01M202.0 265.1h.01M190.3 267.5h.01M229.9 248.0h.01M216.1 237.5h.01M230.9 242.4h.01M213.8 265.8h.01M196.8 265.3h.01M208.3 241.0h.01M221.6 247.6h.01M187.2 259.7h.01M218.3 247.4h.01M209.2 269.7h.01M230.5 246.6h.01M219.8 237.6h.01M221.1 264.6h.01M212.6 235.2h.01M212.9 268.5h.01M229.5 233.6h.01M199.9 250.6h.01M209.4 250.5h.01M215.3 259.5h.01M224.3 251.6h.01M195.7 277.2h.01M225.4 225.8h.01M238.6 213.5h.01M235.8 225.7h.01M207.2 252.6h.01M198.7 258.1h.01M208.4 254.0h.01M205.5 262.0h.01M230.3 237.3h.01M205.2 257.0h.01M228.8 238.4h.01M210.2 275.0h.01M191.4 261.4h.01M211.8 247.8h.01M228.4 232.9h.01M225.5 245.9h.01M190.6 267.8h.01M211.0 247.3h.01M202.7 265.0h.01M248.0 226.8h.01M209.0 240.2h.01M212.1 251.9h.01M182.8 274.0h.01M202.0 247.7h.01M217.1 252.9h.01M223.2 244.9h.01M199.4 247.2h.01M228.3 235.3h.01M221.5 233.3h.01M223.3 241.2h.01M214.3 246.0h.01M221.2 239.5h.01M209.1 257.4h.01M228.1 249.1h.01M211.1 245.0h.01M219.9 248.8h.01M218.6 252.6h.01M231.3 238.2h.01M201.3 279.6h.01M218.6 244.0h.01M217.8 263.8h.01M219.2 256.5h.01M207.2 258.4h.01M203.8 258.1h.01M209.0 262.4h.01M203.8 243.8h.01M231.0 222.1h.01M206.1 259.5h.01M223.0 232.0h.01M194.7 272.1h.01M201.4 255.1h.01M227.7 243.9h.01M246.0 221.6h.01M249.3 216.9h.01M203.0 239.2h.01M211.8 259.5h.01M235.7 229.4h.01M230.0 250.4h.01M233.5 219.0h.01M216.3 240.3h.01M212.2 259.1h.01M192.8 268.8h.01M227.0 227.3h.01M223.7 232.5h.01M211.8 269.8h.01M223.4 239.6h.01M230.7 237.5h.01M201.5 258.8h.01M218.7 266.8h.01M213.3 263.0h.01M204.5 268.0h.01M214.0 222.3h.01M241.4 228.1h.01M231.5 234.1h.01M225.4 247.9h.01M225.3 260.4h.01M244.4 229.4h.01M227.3 244.9h.01M226.7 252.7h.01M205.3 249.1h.01M235.7 252.8h.01M235.3 245.5h.01M216.5 242.4h.01M209.3 260.1h.01M210.2 250.4h.01M219.6 228.7h.01M207.9 233.0h.01M192.4 251.8h.01M207.7 248.4h.01M213.7 250.6h.01M201.3 259.7h.01M241.8 220.7h.01M215.6 249.7h.01M226.6 240.8h.01M214.5 248.2h.01M227.3 225.9h.01M205.8 267.6h.01M210.9 244.1h.01M230.0 237.3h.01M245.1 221.2h.01M225.8 221.6h.01M235.8 226.3h.01M232.9 250.6h.01M196.1 277.5h.01M218.9 233.2h.01M208.1 244.6h.01M214.2 232.4h.01M199.9 276.2h.01M209.6 268.7h.01M243.4 232.3h.01M207.4 263.1h.01M230.5 240.0h.01M222.3 236.0h.01M221.9 272.2h.01M211.4 269.4h.01M242.0 231.2h.01M199.4 261.9h.01M222.4 254.2h.01M224.8 228.9h.01M224.3 250.1h.01M216.9 273.6h.01M218.6 241.8h.01M203.5 261.9h.01M266.3 211.1h.01M189.5 269.2h.01M213.3 258.2h.01M225.0 241.6h.01M225.9 232.7h.01M230.6 232.7h.01M178.9 271.0h.01M186.9 266.6h.01M227.8 254.2h.01M211.4 243.3h.01M202.1 263.2h.01M212.3 265.5h.01M199.9 250.3h.01M225.2 240.2h.01M214.1 249.8h.01M218.6 244.4h.01M187.4 267.6h.01M220.6 276.7h.01M232.7 246.9h.01M214.6 251.9h.01M204.8 254.4h.01M214.0 254.8h.01M205.0 264.2h.01M201.9 263.4h.01M227.3 225.2h.01M230.0 251.6h.01M223.9 229.7h.01M257.2 234.4h.01M218.2 251.2h.01M237.1 240.9h.01M196.6 240.9h.01M241.4 247.6h.01M207.8 241.0h.01M204.0 254.4h.01M226.3 256.8h.01M200.6 251.3h.01M235.4 236.7h.01M235.3 238.2h.01M219.4 246.2h.01M197.3 264.8h.01M227.7 271.1h.01M210.1 265.9h.01M210.9 266.8h.01M221.9 273.5h.01M227.4 236.7h.01M221.0 247.5h.01M218.4 250.1h.01M210.8 273.5h.01M210.7 242.4h.01M209.1 236.6h.01M199.4 269.9h.01M200.1 250.6h.01M241.8 229.2h.01M227.2 240.8h.01M203.3 263.9h.01M192.5 254.6h.01M216.5 234.2h.01M235.8 259.0h.01M226.1 237.9h.01M183.6 281.8h.01M218.9 225.3h.01M197.5 258.9h.01M221.5 245.9h.01M208.9 250.2h.01M219.6 237.6h.01M218.7 263.0h.01M225.5 223.5h.01M208.6 257.4h.01M237.6 248.8h.01M207.6 228.1h.01M224.0 249.9h.01M243.1 221.2h.01M221.4 249.1h.01M229.5 257.7h.01M208.0 276.0h.01M228.6 237.6h.01M244.0 245.8h.01M199.0 249.0h.01M217.0 271.6h.01M208.2 261.8h.01M207.7 241.9h.01M224.1 221.9h.01M226.8 244.5h.01M218.6 265.2h.01M225.2 224.4h.01M222.7 253.6h.01M221.9 237.2h.01M225.2 254.3h.01M222.7 249.6h.01M222.1 235.7h.01M224.5 246.0h.01M231.5 223.8h.01M227.7 227.0h.01M222.4 238.0h.01M213.0 275.1h.01M199.7 258.7h.01M227.0 235.8h.01M205.8 237.3h.01M221.8 265.7h.01M197.4 272.7h.01M220.7 235.4h.01M208.0 247.6h.01M219.8 254.5h.01M206.3 250.2h.01M235.7 243.1h.01M202.1 262.4h.01M251.5 227.2h.01M196.7 264.2h.01M226.6 246.1h.01M212.6 246.9h.01M193.0 273.6h.01M218.3 235.7h.01M231.9 233.9h.01M188.5 261.3h.01M230.2 242.7h.01M223.3 229.0h.01M228.8 265.6h.01M214.5 260.5h.01M205.4 261.5h.01M199.2 262.0h.01M248.5 230.6h.01M233.1 238.4h.01M224.0 242.8h.01M237.4 236.1h.01M230.5 244.1h.01M219.1 246.4h.01M240.2 244.0h.01M189.5 259.7h.01M210.6 234.0h.01M201.0 262.4h.01M213.0 230.6h.01M218.1 252.9h.01M226.1 240.3h.01M201.3 255.2h.01M197.0 281.7h.01M237.2 233.8h.01M209.4 251.7h.01M227.6 230.9h.01M206.7 266.1h.01M230.6 235.8h.01M202.2 252.9h.01M217.6 220.8h.01M206.1 268.5h.01M204.6 256.9h.01M202.8 249.4h.01M174.4 280.6h.01M209.2 260.0h.01M222.3 240.5h.01M193.3 254.4h.01M226.7 244.5h.01M225.6 253.3h.01M201.6 268.1h.01M220.2 243.9h.01M214.3 268.4h.01M183.9 262.9h.01M225.9 249.2h.01M228.3 230.0h.01M214.3 258.8h.01M229.0 231.9h.01M235.4 224.9h.01M212.0 261.1h.01M205.1 257.6h.01M215.6 242.4h.01M228.5 249.6h.01M219.1 257.9h.01M230.5 250.8h.01M213.7 262.6h.01M209.4 259.5h.01M237.5 230.4h.01M198.9 270.9h.01M222.4 235.9h.01M206.8 234.3h.01M230.1 233.8h.01M240.4 240.9h.01M219.1 257.0h.01M208.3 237.4h.01M199.6 246.7h.01M193.7 254.9h.01M198.9 277.7h.01M229.7 236.4h.01M218.0 247.6h.01M219.5 248.1h.01M204.9 264.6h.01M223.1 253.4h.01M211.2 232.6h.01M197.8 275.1h.01M212.2 253.2h.01M221.8 252.5h.01M215.5 249.9h.01M205.3 241.4h.01M226.9 256.6h.01M191.7 267.3h.01M215.3 257.9h.01M200.1 269.8h.01M219.1 254.9h.01M205.9 249.0h.01M222.9 235.5h.01M222.2 260.0h.01M216.9 229.9h.01M225.6 225.1h.01M217.3 243.5h.01M208.0 242.2h.01M199.1 240.3h.01M228.2 240.8h.01M226.0 259.2h.01M208.2 261.3h.01M253.3 221.0h.01M227.6 236.5h.01M208.2 249.8h.01M183.9 271.0h.01M239.6 221.4h.01M214.2 249.4h.01M227.8 243.4h.01M214.5 244.8h.01M209.0 251.9h.01M216.0 240.7h.01M206.3 266.2h.01M202.9 248.1h.01M229.6 256.0h.01M187.2 255.3h.01M228.5 252.6h.01M203.1 261.0h.01M224.7 220.3h.01M213.1 256.3h.01M247.3 229.2h.01M234.5 226.2h.01M209.2 240.5h.01M227.5 247.9h.01M195.9 270.2h.01M214.2 234.3h.01M173.3 277.0h.01M214.7 232.0h.01M225.2 237.4h.01M219.2 241.2h.01M208.5 258.7h.01M220.5 250.5h.01M205.7 278.1h.01M219.4 239.5h.01M224.7 255.0h.01M229.6 240.2h.01M179.0 268.4h.01M182.4 256.3h.01M225.8 244.9h.01M189.5 285.7h.01M227.0 221.1h.01M230.1 256.2h.01M212.7 256.4h.01M222.9 244.0h.01M230.7 254.6h.01M198.6 249.6h.01M191.1 263.7h.01M242.3 214.1h.01M190.0 260.9h.01M189.5 272.7h.01M202.9 247.6h.01M230.3 232.3h.01M233.5 219.2h.01M215.8 261.9h.01M250.9 218.4h.01M222.1 244.6h.01M219.8 265.6h.01M214.8 252.2h.01M232.1 239.2h.01M202.1 277.3h.01M213.9 248.5h.01M227.9 241.9h.01M222.2 241.3h.01M238.6 226.8h.01M214.4 244.1h.01M237.8 238.4h.01M211.5 257.6h.01M179.8 270.7h.01M230.0 234.7h.01M252.4 196.0h.01M232.8 212.5h.01M236.7 245.7h.01M233.5 226.1h.01M199.9 265.5h.01M219.8 233.3h.01M221.6 250.3h.01M230.8 243.7h.01M210.2 246.0h.01M194.7 266.9h.01M196.0 281.8h.01M200.4 266.8h.01M225.7 240.1h.01M227.4 236.5h.01M210.2 249.3h.01M212.0 251.9h.01M233.3 238.7h.01M238.1 240.5h.01M223.9 262.9h.01M199.1 247.1h.01M212.8 237.0h.01M203.0 275.6h.01M217.0 238.1h.01M237.5 248.2h.01M223.2 243.0h.01M214.6 245.0h.01M222.9 263.5h.01M211.0 272.8h.01M199.5 268.2h.01M237.7 236.0h.01M213.1 266.8h.01M192.8 272.7h.01M211.1 257.6h.01M200.3 259.7h.01M196.7 262.6h.01M202.4 253.8h.01M201.5 258.9h.01M222.3 244.0h.01M236.4 226.1h.01M200.0 257.4h.01M208.5 264.0h.01M215.0 248.2h.01M249.4 236.8h.01M205.5 246.2h.01M211.9 249.7h.01M243.8 236.1h.01M211.6 244.1h.01M219.2 268.1h.01M201.6 262.0h.01M207.0 235.8h.01M243.2 240.7h.01M224.0 229.8h.01M238.3 228.3h.01M207.7 256.2h.01M232.5 224.6h.01M233.5 221.6h.01M214.6 263.6h.01M249.9 233.3h.01M213.4 256.2h.01M207.6 265.4h.01M201.2 235.0h.01M218.4 253.5h.01M211.8 242.1h.01M207.8 263.1h.01M188.6 269.1h.01M215.6 231.1h.01M186.6 252.7h.01M229.2 239.2h.01M212.8 256.7h.01M195.2 261.4h.01M212.5 262.2h.01M222.1 241.8h.01M209.8 258.9h.01M201.1 248.1h.01M233.8 240.2h.01M206.9 241.7h.01M201.0 242.7h.01M217.7 239.4h.01M183.3 272.8h.01M216.8 241.3h.01M219.1 239.7h.01M203.6 251.0h.01M223.4 255.0h.01M201.5 262.4h.01M234.3 258.3h.01M182.2 271.4h.01M198.0 232.4h.01M197.3 272.0h.01M204.6 254.3h.01M224.5 220.4h.01M194.9 255.8h.01M198.0 264.3h.01M214.4 243.4h.01M197.0 252.3h.01M215.2 250.5h.01M219.2 259.6h.01M223.4 237.6h.01M210.3 232.0h.01M206.3 263.1h.01M210.7 244.2h.01M207.8 246.3h.01M233.1 253.9h.01M219.7 271.2h.01M214.8 255.9h.01M222.7 240.4h.01M207.2 242.7h.01M231.6 248.8h.01M204.8 257.0h.01M239.8 227.4h.01M212.1 250.2h.01M226.9 239.3h.01M222.5 248.0h.01M213.7 261.8h.01M228.2 243.8h.01M220.7 239.5h.01M245.7 252.4h.01M210.9 270.1h.01M208.8 246.9h.01M239.8 205.4h.01M231.6 228.6h.01M207.5 251.5h.01M181.3 273.7h.01M212.2 245.6h.01M209.3 270.2h.01M207.8 258.6h.01M222.8 246.9h.01M216.3 240.6h.01M201.3 266.0h.01M198.8 274.2h.01M232.5 241.4h.01M237.5 220.9h.01M227.1 236.7h.01M220.6 231.0h.01M220.7 251.3h.01M196.6 245.3h.01M216.5 254.8h.01M217.2 269.4h.01M207.3 254.4h.01M214.3 260.8h.01M218.5 241.1h.01M208.3 253.6h.01M197.7 257.6h.01M205.1 265.1h.01M220.4 250.2h.01M187.6 252.4h.01M247.1 239.3h.01M225.6 255.5h.01M228.3 253.1h.01M220.3 238.3h.01M231.0 218.8h.01M204.0 250.0h.01M210.6 256.5h.01M220.5 267.1h.01M236.8 253.6h.01M209.6 249.5h.01M227.4 257.5h.01M203.1 254.3h.01M220.5 224.7h.01M189.1 271.6h.01M204.8 251.4h.01M194.6 273.5h.01M229.4 243.7h.01M217.4 260.4h.01M239.1 242.3h.01M206.0 264.0h.01M198.5 241.0h.01M224.9 250.8h.01M221.5 239.4h.01M220.1 246.0h.01M229.5 250.3h.01M202.8 268.6h.01M197.0 260.4h.01M233.9 215.4h.01M219.8 241.3h.01M215.1 266.8h.01M232.6 251.0h.01M220.9 246.2h.01M225.6 238.9h.01M221.1 251.6h.01M195.4 275.2h.01M218.6 233.6h.01M240.5 236.7h.01M199.2 258.1h.01M193.8 240.1h.01M229.7 254.4h.01M198.8 247.5h.01M190.9 273.6h.01M187.6 258.8h.01M216.6 261.9h.01M197.9 277.3h.01M185.2 287.4h.01M244.2 219.0h.01M219.8 260.2h.01M223.5 247.7h.01M196.1 252.7h.01M227.4 248.9h.01M235.9 229.6h.01M221.7 241.7h.01M227.7 229.6h.01M206.9 249.9h.01M210.0 254.0h.01M244.4 233.5h.01M204.8 266.1h.01M201.2 248.4h.01M180.5 257.4h.01M239.8 230.5h.01M220.7 249.1h.01M220.7 236.3h.01M221.1 234.5h.01M242.7 224.0h.01M226.4 241.0h.01M215.1 247.6h.01M213.1 248.1h.01M205.7 262.1h.01M215.4 264.9h.01M209.8 262.2h.01M223.9 261.1h.01M219.7 259.9h.01M204.0 259.6h.01M228.9 232.5h.01M212.3 258.9h.01M244.0 241.0h.01M240.6 243.0h.01M207.3 257.9h.01M202.6 242.4h.01M222.9 243.0h.01M228.4 236.2h.01M198.2 253.7h.01M227.8 221.1h.01M188.4 254.0h.01M205.6 250.5h.01M216.8 218.6h.01M201.0 277.9h.01M228.5 230.3h.01M230.4 271.6h.01M223.0 244.6h.01M164.4 269.0h.01M186.4 287.2h.01M214.5 248.1h.01M227.7 240.8h.01M206.4 264.0h.01M195.2 285.2h.01M246.5 226.6h.01M202.9 239.0h.01M229.2 234.3h.01M227.5 241.1h.01M197.7 255.8h.01M207.7 237.9h.01M214.9 255.4h.01M221.8 245.9h.01M217.5 259.2h.01M217.3 244.0h.01M240.5 224.5h.01M189.8 270.8h.01M249.2 220.7h.01M206.4 261.5h.01M180.2 290.9h.01M223.1 261.3h.01M233.1 251.9h.01M191.2 290.7h.01M207.0 223.8h.01M233.9 230.3h.01M209.0 264.0h.01M236.1 241.9h.01M212.6 236.7h.01M205.6 273.8h.01M222.4 245.4h.01M218.1 260.2h.01M196.0 236.1h.01M253.2 246.0h.01M214.9 251.3h.01M229.0 265.8h.01M211.4 253.7h.01M200.6 261.3h.01M189.0 308.2h.01M212.9 247.5h.01M216.7 260.2h.01M207.6 239.4h.01M230.7 238.8h.01M197.0 250.5h.01M215.5 235.4h.01M218.7 266.0h.01M224.2 255.9h.01M225.9 225.6h.01M172.2 282.9h.01M227.1 220.7h.01M215.5 269.2h.01M221.3 227.0h.01M227.2 263.2h.01M187.0 275.8h.01M207.8 273.4h.01M212.2 235.4h.01M187.1 293.9h.01M237.0 231.8h.01M203.1 252.5h.01M207.9 283.8h.01M200.2 237.5h.01M232.0 236.1h.01M235.8 240.1h.01M211.6 288.9h.01M210.8 239.8h.01M221.6 247.2h.01M197.8 249.1h.01M228.2 267.7h.01M244.1 236.4h.01M221.5 246.4h.01M230.2 233.0h.01M233.4 230.5h.01M212.3 265.6h.01M233.9 250.2h.01M232.8 239.9h.01M208.0 276.9h.01M195.4 238.2h.01M227.7 240.0h.01M181.4 249.6h.01M210.4 257.6h.01M195.0 247.1h.01M222.4 254.5h.01M227.8 259.6h.01M199.0 272.1h.01M155.6 289.6h.01M258.9 230.6h.01M227.9 270.7h.01M215.8 248.1h.01M240.3 253.6h.01M211.3 269.3h.01M188.7 234.9h.01M212.1 256.7h.01M198.8 253.7h.01M246.5 199.0h.01M251.0 237.9h.01M232.4 235.1h.01M225.6 221.9h.01M242.2 258.3h.01M222.1 255.6h.01M222.1 245.2h.01M248.1 251.1h.01M203.4 266.1h.01M224.3 251.6h.01M214.0 252.9h.01M233.6 236.6h.01M236.7 266.6h.01M243.3 269.4h.01M222.8 247.1h.01M222.1 260.0h.01M199.9 251.9h.01M221.2 247.3h.01M204.8 259.1h.01M235.1 233.3h.01M220.3 270.6h.01M225.6 260.3h.01M182.6 268.5h.01M224.4 283.2h.01M185.1 247.1h.01M226.1 267.7h.01M189.6 264.4h.01M219.7 244.1h.01M207.0 251.6h.01M236.0 222.6h.01M225.9 269.3h.01M207.2 230.3h.01M238.0 254.4h.01M205.5 237.3h.01M199.6 258.8h.01M219.3 216.9h.01M205.4 296.6h.01M214.4 239.9h.01M209.3 259.1h.01M196.5 248.1h.01M175.6 287.5h.01M200.2 281.0h.01M198.2 287.5h.01M214.3 253.1h.01M247.0 225.3h.01M217.3 243.8h.01M205.0 234.4h.01M215.9 249.2h.01M213.1 254.8h.01M204.4 244.2h.01M214.7 252.0h.01M206.8 246.4h.01M198.0 251.7h.01M198.7 255.8h.01M244.8 218.6h.01M225.0 266.0h.01M227.2 240.5h.01M236.6 244.2h.01M206.1 226.7h.01M224.9 249.5h.01M193.3 274.9h.01M220.2 236.1h.01M206.3 281.7h.01M208.6 279.3h.01M207.8 255.0h.01M245.3 218.9h.01M255.5 244.8h.01M233.0 219.4h.01M214.3 237.6h.01M206.7 224.0h.01M245.5 256.5h.01M170.0 266.5h.01M200.7 241.5h.01M215.7 265.1h.01M206.2 255.7h.01M224.2 255.9h.01M218.0 238.0h.01M210.5 279.2h.01M185.1 288.9h.01M222.0 259.6h.01M206.2 264.4h.01M209.9 246.9h.01M224.7 234.8h.01M243.2 243.7h.01M221.5 239.2h.01M204.1 277.1h.01M221.7 244.8h.01M199.3 279.5h.01M232.3 219.2h.01M203.2 238.4h.01M201.5 269.9h.01M234.4 240.2h.01M190.5 266.0h.01M266.7 250.9h.01M229.8 262.6h.01M223.8 271.8h.01M265.3 216.0h.01M222.6 259.2h.01M202.8 274.0h.01M201.3 232.4h.01M204.5 232.9h.01M196.4 270.2h.01M223.0 275.6h.01M279.9 192.9h.01M226.5 256.3h.01M215.5 272.8h.01M236.1 239.7h.01M210.8 253.7h.01M192.2 271.3h.01M207.8 251.5h.01M208.2 259.1h.01M214.2 234.9h.01M193.9 255.0h.01M200.3 271.4h.01M215.8 249.4h.01M182.7 304.4h.01M202.9 247.0h.01M188.4 250.0h.01M184.0 282.5h.01M223.9 243.8h.01M210.3 239.4h.01M195.7 260.7h.01M235.1 237.4h.01M187.8 303.5h.01M211.0 277.7h.01M230.1 253.6h.01M251.0 205.8h.01M195.9 277.7h.01M234.0 220.7h.01M187.8 260.0h.01M185.4 239.3h.01M199.9 256.4h.01M228.8 247.9h.01M201.1 244.2h.01M223.9 245.2h.01M205.4 228.4h.01M226.0 232.7h.01M235.8 262.8h.01M222.0 255.5h.01M233.2 246.7h.01M232.8 255.8h.01M237.1 245.1h.01M208.9 247.8h.01M209.5 258.4h.01M215.5 217.9h.01M193.6 292.1h.01M217.1 232.5h.01M206.1 260.0h.01M189.5 234.0h.01M223.3 268.0h.01M201.4 291.5h.01M240.7 235.0h.01M241.5 214.1h.01M215.1 240.3h.01M219.3 230.8h.01M204.1 274.8h.01M204.8 261.2h.01M222.8 269.2h.01M185.9 247.2h.01M259.0 225.8h.01M221.7 247.0h.01M193.8 260.2h.01M197.5 237.8h.01M225.7 248.4h.01M171.6 298.4h.01M236.2 245.8h.01M223.1 231.5h.01M187.3 284.5h.01M213.0 240.2h.01M217.7 250.6h.01M212.0 261.7h.01M225.5 263.3h.01M228.9 245.4h.01M228.7 249.2h.01M220.6 244.9h.01M225.4 233.5h.01M232.3 239.0h.01M216.6 256.5h.01M195.2 275.3h.01M225.7 227.2h.01M197.8 264.3h.01M240.9 253.7h.01M217.6 243.9h.01M225.1 237.9h.01M205.5 301.9h.01M252.1 223.6h.01M224.0 219.3h.01M227.6 262.7h.01M238.3 230.4h.01M219.0 239.6h.01M221.1 227.1h.01M204.9 290.6h.01M217.3 250.5h.01M229.4 241.3h.01M192.2 236.2h.01M226.7 218.6h.01M240.1 243.3h.01M214.2 255.1h.01M205.1 279.8h.01M229.5 262.1h.01M219.5 239.3h.01M214.4 260.3h.01M220.4 238.2h.01M233.1 258.8h.01M167.8 260.2h.01M207.6 267.5h.01M192.2 291.4h.01M194.9 257.5h.01M212.9 264.7h.01M206.3 270.3h.01M186.0 276.8h.01M233.5 231.5h.01M193.7 249.7h.01M233.2 254.9h.01M211.3 268.6h.01M202.4 241.9h.01M204.6 266.2h.01M228.5 262.7h.01M201.0 255.0h.01M252.2 252.3h.01M229.7 244.0h.01M230.6 225.3h.01M245.0 217.0h.01M216.5 267.7h.01M185.6 271.6h.01M215.7 236.4h.01M235.4 261.7h.01M210.6 262.2h.01M210.2 242.9h.01M236.0 226.4h.01M190.3 297.5h.01M186.6 296.2h.01M192.6 270.8h.01M200.4 245.9h.01M237.5 239.3h.01M230.7 237.0h.01M209.5 232.3h.01M196.4 272.9h.01M248.2 234.6h.01M217.3 248.1h.01M220.7 272.7h.01M213.0 274.0h.01M230.7 232.4h.01M238.3 252.8h.01M222.0 243.2h.01M239.6 242.4h.01M215.3 226.1h.01M254.3 231.8h.01M210.4 286.0h.01M225.4 231.1h.01M229.1 255.7h.01M220.4 216.4h.01M215.6 254.7h.01M230.0 228.1h.01M241.5 234.4h.01M224.0 250.6h.01M208.3 265.4h.01M250.3 224.8h.01M252.7 228.8h.01M252.5 246.0h.01M287.2 218.5h.01M281.6 197.1h.01M224.9 257.6h.01M251.1 230.5h.01M258.9 233.3h.01M279.1 212.9h.01M277.8 221.1h.01M238.6 222.0h.01M260.2 238.9h.01M248.8 218.6h.01M259.8 234.1h.01M262.2 210.1h.01M256.6 231.1h.01M235.4 206.3h.01M244.2 212.7h.01M253.1 224.1h.01M224.0 247.5h.01M260.8 228.2h.01M259.8 242.6h.01M232.9 241.4h.01M248.2 234.0h.01M258.2 232.5h.01M234.8 217.9h.01M243.3 243.0h.01M260.4 239.5h.01M237.2 229.2h.01M272.3 214.3h.01M305.4 181.9h.01M283.0 219.2h.01M265.2 198.9h.01M240.7 214.3h.01M252.0 245.1h.01M262.3 233.6h.01M275.2 228.5h.01M271.4 242.3h.01M251.0 217.1h.01M251.8 226.2h.01M282.5 223.3h.01M237.0 239.7h.01M264.2 225.2h.01M234.9 226.3h.01M240.8 241.4h.01M252.9 220.1h.01M255.9 238.2h.01M295.8 210.6h.01M271.9 218.3h.01M250.6 231.7h.01M252.0 226.1h.01M217.1 255.0h.01M265.2 233.7h.01M237.4 209.8h.01M284.0 199.4h.01M263.7 226.0h.01M283.3 214.2h.01M240.5 229.2h.01M247.3 243.8h.01M291.4 223.7h.01M256.3 225.6h.01M271.2 235.8h.01M256.4 231.5h.01M283.0 195.3h.01M240.5 226.8h.01M269.3 219.5h.01M255.8 231.1h.01M237.0 249.0h.01M264.3 202.6h.01M290.4 208.3h.01M282.8 240.1h.01M261.5 240.1h.01M281.6 231.2h.01M248.0 247.5h.01M259.3 214.1h.01M232.1 220.5h.01M265.8 231.5h.01M263.8 222.1h.01M269.4 213.5h.01M286.3 190.9h.01M242.9 226.2h.01M276.5 226.1h.01M250.9 241.5h.01M214.2 248.3h.01M247.0 217.6h.01M248.6 231.6h.01M263.8 209.2h.01M269.6 231.5h.01M288.3 193.4h.01M270.1 196.3h.01M278.2 206.4h.01M261.8 215.0h.01M228.8 235.8h.01M239.7 233.2h.01M237.3 231.1h.01M234.9 209.6h.01M258.1 219.3h.01M245.2 238.7h.01M258.9 229.1h.01M256.4 238.5h.01M272.8 220.7h.01M242.7 231.9h.01M246.1 236.6h.01M255.5 239.8h.01M259.5 235.7h.01M235.7 237.0h.01M262.3 242.1h.01M250.6 228.7h.01M262.7 217.8h.01M258.5 217.8h.01M255.0 238.5h.01M270.5 222.6h.01M254.3 220.1h.01M265.8 204.6h.01M249.3 236.9h.01M275.9 232.2h.01M234.1 234.8h.01M253.9 240.9h.01M267.8 212.2h.01M275.0 218.4h.01M280.7 240.8h.01M296.4 249.8h.01M270.4 235.5h.01M271.8 242.3h.01M284.2 230.9h.01M280.7 248.5h.01M326.9 222.9h.01M318.1 237.1h.01M286.6 236.7h.01M307.0 205.6h.01M303.6 236.7h.01M274.0 247.9h.01M274.9 237.7h.01M272.4 243.8h.01M302.4 213.5h.01M257.8 257.4h.01M273.4 228.4h.01M271.8 223.2h.01M284.7 221.8h.01M271.5 244.8h.01M298.4 223.8h.01M255.2 252.1h.01M284.7 229.6h.01M267.5 226.9h.01M281.2 223.3h.01M290.3 232.2h.01M283.4 247.5h.01M295.2 223.5h.01M300.5 231.9h.01M269.4 246.4h.01M279.2 238.3h.01M303.3 235.8h.01M273.8 234.1h.01M290.5 211.6h.01M295.7 238.7h.01M270.4 249.9h.01M284.4 233.4h.01M285.4 241.3h.01M281.5 237.9h.01M293.4 230.8h.01M275.5 251.2h.01M308.2 225.5h.01M281.5 237.4h.01M303.4 230.0h.01M287.9 236.5h.01M297.2 239.6h.01M283.7 226.2h.01M300.9 222.2h.01M283.1 221.3h.01M290.4 219.6h.01M269.0 253.5h.01M298.0 232.0h.01M280.8 246.6h.01M312.3 234.2h.01M291.0 246.1h.01M273.1 219.4h.01M325.0 221.6h.01M262.0 230.6h.01M277.1 256.4h.01M293.7 241.8h.01M256.9 237.8h.01M276.4 249.7h.01M287.6 236.1h.01M301.8 226.8h.01M305.5 215.0h.01M308.6 213.7h.01M283.4 231.0h.01M290.3 248.0h.01M262.7 238.8h.01M249.5 260.0h.01M263.9 245.9h.01M266.7 241.6h.01M282.8 241.1h.01M278.9 259.7h.01M290.2 245.5h.01M278.2 235.1h.01M298.4 222.5h.01M313.1 236.1h.01M289.3 218.5h.01M294.6 241.7h.01M292.5 237.0h.01M270.0 232.3h.01M285.5 246.0h.01M266.2 225.4h.01M268.3 236.8h.01M282.8 225.3h.01M283.3 245.4h.01M277.8 248.8h.01M324.9 215.0h.01M274.5 228.3h.01M310.3 214.0h.01M308.5 212.6h.01M307.2 204.4h.01M303.1 220.2h.01M299.7 215.0h.01M305.1 212.5h.01M313.5 213.8h.01M301.3 212.3h.01M308.7 208.7h.01M304.4 221.0h.01M300.1 224.7h.01M309.6 223.2h.01M315.7 212.5h.01M304.8 214.1h.01M307.5 227.9h.01M310.4 209.8h.01M299.5 215.7h.01M314.6 215.0h.01M310.6 224.4h.01M298.5 214.9h.01M296.5 220.8h.01M295.7 229.3h.01M305.7 205.5h.01M305.7 212.2h.01M325.3 214.3h.01M286.9 223.2h.01M315.1 106.4h.01M329.6 118.1h.01M320.2 113.5h.01M319.9 83.9h.01M327.8 76.1h.01M274.5 122.4h.01M262.4 186.9h.01M334.2 108.4h.01M303.6 151.2h.01M312.9 89.8h.01M308.9 100.2h.01M314.7 139.0h.01M344.4 124.1h.01M328.9 110.9h.01M349.7 104.2h.01M317.5 133.6h.01M328.3 134.2h.01M336.6 135.4h.01M317.4 87.9h.01M321.3 114.2h.01M317.1 148.7h.01M329.7 128.8h.01M291.8 143.1h.01M325.0 117.0h.01M302.9 135.4h.01M311.9 136.6h.01M309.5 97.4h.01M344.0 97.2h.01M362.7 91.0h.01M292.2 100.5h.01M317.6 126.3h.01M296.5 148.0h.01M322.9 132.8h.01M355.8 86.7h.01M341.3 100.3h.01M342.9 150.4h.01M328.5 107.0h.01M337.7 108.6h.01M354.1 115.8h.01M266.2 168.2h.01M350.1 79.0h.01M341.8 134.9h.01M285.9 131.4h.01M304.2 133.0h.01M280.5 91.7h.01M359.1 102.2h.01M328.7 139.2h.01M302.4 159.5h.01M339.4 79.5h.01M334.1 94.0h.01M308.4 122.6h.01M283.2 90.2h.01M365.0 118.6h.01M274.2 85.9h.01M288.1 124.4h.01M349.6 81.6h.01M321.7 123.5h.01M333.8 88.6h.01M272.8 80.1h.01M322.7 127.8h.01M328.9 129.0h.01M311.1 124.4h.01M363.6 105.5h.01M303.8 160.9h.01M304.3 114.7h.01M276.2 115.6h.01M311.5 129.3h.01M298.9 95.8h.01M323.7 102.8h.01M304.5 124.9h.01M332.4 104.4h.01M349.9 134.7h.01M287.0 112.3h.01M347.8 72.1h.01M243.2 150.7h.01M270.0 85.1h.01M292.5 111.1h.01M282.0 112.4h.01M359.9 91.7h.01M334.9 132.7h.01M330.7 108.6h.01M306.7 167.1h.01M349.7 123.3h.01M331.9 75.4h.01M290.2 99.6h.01M287.8 129.5h.01M296.9 154.1h.01M340.3 100.0h.01M304.6 107.0h.01M331.9 101.8h.01M259.4 131.8h.01M336.3 87.4h.01M326.8 87.7h.01M314.4 117.2h.01M297.1 98.5h.01M322.5 125.8h.01M319.9 85.2h.01M321.9 95.8h.01M326.1 108.2h.01M364.0 115.8h.01M320.2 135.2h.01M328.3 111.5h.01M286.8 72.7h.01M323.7 115.7h.01M315.4 70.6h.01M322.5 130.1h.01M302.1 130.9h.01M340.0 97.8h.01M306.3 109.4h.01M358.0 76.2h.01M322.9 103.9h.01M293.7 106.5h.01M318.8 105.5h.01M307.4 86.0h.01M315.3 94.0h.01M269.1 109.7h.01M313.5 101.7h.01M284.5 103.8h.01M293.6 105.7h.01M279.9 105.3h.01M337.4 96.6h.01M325.9 105.8h.01M326.9 86.9h.01M304.6 89.8h.01M295.6 99.8h.01M352.8 85.1h.01M287.6 91.9h.01M327.8 94.1h.01M279.0 121.7h.01M278.0 91.5h.01M323.7 100.4h.01M337.6 75.7h.01M295.3 95.9h.01M277.7 101.6h.01M358.9 96.1h.01M317.9 100.0h.01M312.9 94.7h.01M319.4 85.7h.01M324.3 83.0h.01M335.3 79.6h.01M299.3 95.5h.01M308.8 104.3h.01M358.1 80.8h.01M321.0 112.5h.01M308.3 89.8h.01M311.9 100.8h.01M348.7 88.8h.01M308.0 97.8h.01M307.6 87.4h.01M328.0 92.1h.01M307.7 99.0h.01M353.5 87.5h.01M354.7 169.1h.01M326.9 154.1h.01M342.5 143.4h.01M333.9 153.5h.01M321.8 131.2h.01M341.1 169.1h.01M338.6 157.1h.01M329.9 148.7h.01M336.6 166.5h.01M346.9 171.3h.01M342.8 168.6h.01M334.4 157.2h.01M340.0 178.6h.01M337.9 170.1h.01M321.1 160.8h.01M355.3 162.2h.01M327.4 139.2h.01M341.1 145.9h.01M310.8 150.9h.01M342.1 182.9h.01M328.2 161.0h.01M330.1 190.7h.01M353.3 134.8h.01M345.8 158.5h.01M313.3 188.6h.01M353.6 151.0h.01M309.9 192.6h.01M326.5 168.8h.01M320.5 182.9h.01M314.2 165.1h.01M322.9 155.0h.01M351.8 184.3h.01M300.5 188.8h.01M331.8 144.3h.01M347.9 181.6h.01M319.8 168.5h.01M350.7 147.6h.01M331.3 179.9h.01M333.6 142.3h.01M295.0 180.9h.01M334.2 191.3h.01M318.1 194.6h.01M331.9 108.4h.01M321.9 189.0h.01M327.7 158.9h.01M340.8 185.8h.01M332.2 176.9h.01M306.6 189.8h.01M330.3 201.6h.01M338.9 134.3h.01M264.7 134.8h.01M246.2 177.2h.01M231.8 196.7h.01M254.6 162.4h.01M231.1 210.2h.01M259.5 127.5h.01M261.2 148.9h.01M248.6 163.2h.01M246.6 160.7h.01M255.4 188.5h.01M229.5 224.7h.01M232.1 197.3h.01M261.4 143.5h.01M255.4 155.4h.01M254.5 165.0h.01M239.6 173.9h.01M247.5 173.9h.01M257.5 138.3h.01M244.7 175.9h.01M238.8 190.2h.01M253.4 160.6h.01M249.9 163.2h.01M227.9 226.9h.01M253.5 167.2h.01M241.2 190.1h.01M268.3 132.0h.01" stroke="#000" stroke-width="1.25" stroke-linecap="square" fill="none"/>
<text transform="translate(38.40 203.60) scale(1 1.035)" font-size="36">PI</text>
<text transform="translate(251.80 382.60) scale(1 1.035)" font-size="35.5" text-anchor="middle">ANNEXIN V</text>
<line x1="591.25" y1="245.90" x2="591.25" y2="243.50" stroke="#000" stroke-width="3"/>
<line x1="570.25" y1="243.50" x2="612.25" y2="243.50" stroke="#000" stroke-width="3"/>
<rect x="562.00" y="247.40" width="58.50" height="64.90" fill="#fff" stroke="#000" stroke-width="3"/>
<rect x="560.50" y="272.10" width="61.50" height="40.20" fill="#000"/>
<line x1="570.25" y1="274.80" x2="612.25" y2="274.80" stroke="#fff" stroke-width="3"/>
<line x1="672.35" y1="231.00" x2="672.35" y2="230.00" stroke="#000" stroke-width="3"/>
<line x1="651.35" y1="230.00" x2="693.35" y2="230.00" stroke="#000" stroke-width="3"/>
<rect x="643.30" y="232.50" width="58.10" height="79.80" fill="#fff" stroke="#000" stroke-width="3"/>
<rect x="641.80" y="263.70" width="61.10" height="48.60" fill="#000"/>
<line x1="651.35" y1="268.70" x2="693.35" y2="268.70" stroke="#fff" stroke-width="3"/>
<line x1="672.35" y1="265.00" x2="672.35" y2="268.70" stroke="#fff" stroke-width="2.6"/>
<line x1="753.80" y1="228.30" x2="753.80" y2="227.60" stroke="#000" stroke-width="3"/>
<line x1="732.80" y1="227.60" x2="774.80" y2="227.60" stroke="#000" stroke-width="3"/>
<rect x="724.50" y="229.80" width="58.60" height="82.50" fill="#fff" stroke="#000" stroke-width="3"/>
<rect x="723.00" y="261.60" width="61.60" height="50.70" fill="#000"/>
<line x1="732.80" y1="267.40" x2="774.80" y2="267.40" stroke="#fff" stroke-width="3"/>
<line x1="753.80" y1="263.00" x2="753.80" y2="267.40" stroke="#fff" stroke-width="2.6"/>
<line x1="538.20" y1="60.90" x2="538.20" y2="313.80" stroke="#000" stroke-width="3.2"/>
<line x1="529.00" y1="312.30" x2="797.70" y2="312.30" stroke="#000" stroke-width="3.2"/>
<line x1="529.00" y1="312.30" x2="538.20" y2="312.30" stroke="#000" stroke-width="3"/>
<line x1="529.00" y1="270.65" x2="538.20" y2="270.65" stroke="#000" stroke-width="3"/>
<line x1="529.00" y1="229.00" x2="538.20" y2="229.00" stroke="#000" stroke-width="3"/>
<line x1="529.00" y1="187.35" x2="538.20" y2="187.35" stroke="#000" stroke-width="3"/>
<line x1="529.00" y1="145.70" x2="538.20" y2="145.70" stroke="#000" stroke-width="3"/>
<line x1="529.00" y1="104.05" x2="538.20" y2="104.05" stroke="#000" stroke-width="3"/>
<line x1="529.00" y1="62.40" x2="538.20" y2="62.40" stroke="#000" stroke-width="3"/>
<text transform="translate(523.00 325.10) scale(1 1.035)" font-size="36" text-anchor="end">0</text>
<text transform="translate(523.00 283.45) scale(1 1.035)" font-size="36" text-anchor="end">10</text>
<text transform="translate(523.00 241.80) scale(1 1.035)" font-size="36" text-anchor="end">20</text>
<text transform="translate(523.00 200.15) scale(1 1.035)" font-size="36" text-anchor="end">30</text>
<text transform="translate(523.00 158.50) scale(1 1.035)" font-size="36" text-anchor="end">40</text>
<text transform="translate(523.00 116.85) scale(1 1.035)" font-size="36" text-anchor="end">50</text>
<text transform="translate(523.00 75.20) scale(1 1.035)" font-size="36" text-anchor="end">60</text>
<text transform="translate(670.30 221.00) scale(1 1.022)" font-size="23" text-anchor="middle">n.s</text>
<text transform="translate(755.00 216.00) scale(1 1.022)" font-size="23" text-anchor="middle">n.s</text>
<text transform="translate(591.40 352.60) scale(1 1.022)" font-size="36" text-anchor="middle">Ctr</text>
<text transform="translate(672.30 352.60) scale(1 1.035)" font-size="36" text-anchor="middle">SP</text>
<text transform="translate(753.60 352.60) scale(1 1.022)" font-size="36" text-anchor="middle">Rev</text>
<text transform="translate(456.30 187.60) rotate(-90) scale(1 1.022)" font-size="35.5" text-anchor="middle">% Cells</text>
<rect x="560.50" y="62.50" width="25.50" height="24.50" fill="#fff" stroke="#000" stroke-width="3"/>
<rect x="559.00" y="99.00" width="28.50" height="27.50" fill="#000"/>
<text transform="translate(594.60 83.40) scale(1 1.022)" font-size="26.6">PI<tspan font-size="15" dy="-8.5">-</tspan><tspan dy="8.5">Annexin V</tspan><tspan font-size="15" dy="-7.5">+</tspan></text>
<text transform="translate(594.60 121.80) scale(1 1.035)" font-size="26.6">PI<tspan font-size="15" dy="-7.5">+</tspan></text>
<line x1="940.00" y1="311.30" x2="940.00" y2="317.30" stroke="#000" stroke-width="3.6"/>
<line x1="932.40" y1="310.60" x2="939.20" y2="310.60" stroke="#000" stroke-width="3.4"/>
<line x1="958.53" y1="311.30" x2="958.53" y2="315.50" stroke="#000" stroke-width="3.2"/>
<line x1="934.40" y1="292.07" x2="939.20" y2="292.07" stroke="#000" stroke-width="3.0"/>
<line x1="969.37" y1="311.30" x2="969.37" y2="315.50" stroke="#000" stroke-width="3.2"/>
<line x1="934.40" y1="281.23" x2="939.20" y2="281.23" stroke="#000" stroke-width="3.0"/>
<line x1="977.06" y1="311.30" x2="977.06" y2="315.50" stroke="#000" stroke-width="3.2"/>
<line x1="934.40" y1="273.54" x2="939.20" y2="273.54" stroke="#000" stroke-width="3.0"/>
<line x1="983.02" y1="311.30" x2="983.02" y2="315.50" stroke="#000" stroke-width="3.2"/>
<line x1="934.40" y1="267.58" x2="939.20" y2="267.58" stroke="#000" stroke-width="3.0"/>
<line x1="987.90" y1="311.30" x2="987.90" y2="315.50" stroke="#000" stroke-width="3.2"/>
<line x1="934.40" y1="262.70" x2="939.20" y2="262.70" stroke="#000" stroke-width="3.0"/>
<line x1="992.02" y1="311.30" x2="992.02" y2="315.50" stroke="#000" stroke-width="3.2"/>
<line x1="934.40" y1="258.58" x2="939.20" y2="258.58" stroke="#000" stroke-width="3.0"/>
<line x1="995.59" y1="311.30" x2="995.59" y2="315.50" stroke="#000" stroke-width="3.2"/>
<line x1="934.40" y1="255.01" x2="939.20" y2="255.01" stroke="#000" stroke-width="3.0"/>
<line x1="998.73" y1="311.30" x2="998.73" y2="315.50" stroke="#000" stroke-width="3.2"/>
<line x1="934.40" y1="251.87" x2="939.20" y2="251.87" stroke="#000" stroke-width="3.0"/>
<line x1="1001.55" y1="311.30" x2="1001.55" y2="317.30" stroke="#000" stroke-width="3.6"/>
<line x1="932.40" y1="249.05" x2="939.20" y2="249.05" stroke="#000" stroke-width="3.4"/>
<line x1="1020.08" y1="311.30" x2="1020.08" y2="315.50" stroke="#000" stroke-width="3.2"/>
<line x1="934.40" y1="230.52" x2="939.20" y2="230.52" stroke="#000" stroke-width="3.0"/>
<line x1="1030.92" y1="311.30" x2="1030.92" y2="315.50" stroke="#000" stroke-width="3.2"/>
<line x1="934.40" y1="219.68" x2="939.20" y2="219.68" stroke="#000" stroke-width="3.0"/>
<line x1="1038.61" y1="311.30" x2="1038.61" y2="315.50" stroke="#000" stroke-width="3.2"/>
<line x1="934.40" y1="211.99" x2="939.20" y2="211.99" stroke="#000" stroke-width="3.0"/>
<line x1="1044.57" y1="311.30" x2="1044.57" y2="315.50" stroke="#000" stroke-width="3.2"/>
<line x1="934.40" y1="206.03" x2="939.20" y2="206.03" stroke="#000" stroke-width="3.0"/>
<line x1="1049.45" y1="311.30" x2="1049.45" y2="315.50" stroke="#000" stroke-width="3.2"/>
<line x1="934.40" y1="201.15" x2="939.20" y2="201.15" stroke="#000" stroke-width="3.0"/>
<line x1="1053.57" y1="311.30" x2="1053.57" y2="315.50" stroke="#000" stroke-width="3.2"/>
<line x1="934.40" y1="197.03" x2="939.20" y2="197.03" stroke="#000" stroke-width="3.0"/>
<line x1="1057.14" y1="311.30" x2="1057.14" y2="315.50" stroke="#000" stroke-width="3.2"/>
<line x1="934.40" y1="193.46" x2="939.20" y2="193.46" stroke="#000" stroke-width="3.0"/>
<line x1="1060.28" y1="311.30" x2="1060.28" y2="315.50" stroke="#000" stroke-width="3.2"/>
<line x1="934.40" y1="190.32" x2="939.20" y2="190.32" stroke="#000" stroke-width="3.0"/>
<line x1="1063.10" y1="311.30" x2="1063.10" y2="317.30" stroke="#000" stroke-width="3.6"/>
<line x1="932.40" y1="187.50" x2="939.20" y2="187.50" stroke="#000" stroke-width="3.4"/>
<line x1="1081.63" y1="311.30" x2="1081.63" y2="315.50" stroke="#000" stroke-width="3.2"/>
<line x1="934.40" y1="168.97" x2="939.20" y2="168.97" stroke="#000" stroke-width="3.0"/>
<line x1="1092.47" y1="311.30" x2="1092.47" y2="315.50" stroke="#000" stroke-width="3.2"/>
<line x1="934.40" y1="158.13" x2="939.20" y2="158.13" stroke="#000" stroke-width="3.0"/>
<line x1="1100.16" y1="311.30" x2="1100.16" y2="315.50" stroke="#000" stroke-width="3.2"/>
<line x1="934.40" y1="150.44" x2="939.20" y2="150.44" stroke="#000" stroke-width="3.0"/>
<line x1="1106.12" y1="311.30" x2="1106.12" y2="315.50" stroke="#000" stroke-width="3.2"/>
<line x1="934.40" y1="144.48" x2="939.20" y2="144.48" stroke="#000" stroke-width="3.0"/>
<line x1="1111.00" y1="311.30" x2="1111.00" y2="315.50" stroke="#000" stroke-width="3.2"/>
<line x1="934.40" y1="139.60" x2="939.20" y2="139.60" stroke="#000" stroke-width="3.0"/>
<line x1="1115.12" y1="311.30" x2="1115.12" y2="315.50" stroke="#000" stroke-width="3.2"/>
<line x1="934.40" y1="135.48" x2="939.20" y2="135.48" stroke="#000" stroke-width="3.0"/>
<line x1="1118.69" y1="311.30" x2="1118.69" y2="315.50" stroke="#000" stroke-width="3.2"/>
<line x1="934.40" y1="131.91" x2="939.20" y2="131.91" stroke="#000" stroke-width="3.0"/>
<line x1="1121.83" y1="311.30" x2="1121.83" y2="315.50" stroke="#000" stroke-width="3.2"/>
<line x1="934.40" y1="128.77" x2="939.20" y2="128.77" stroke="#000" stroke-width="3.0"/>
<line x1="1124.65" y1="311.30" x2="1124.65" y2="317.30" stroke="#000" stroke-width="3.6"/>
<line x1="932.40" y1="125.95" x2="939.20" y2="125.95" stroke="#000" stroke-width="3.4"/>
<line x1="1143.18" y1="311.30" x2="1143.18" y2="315.50" stroke="#000" stroke-width="3.2"/>
<line x1="934.40" y1="107.42" x2="939.20" y2="107.42" stroke="#000" stroke-width="3.0"/>
<line x1="1154.02" y1="311.30" x2="1154.02" y2="315.50" stroke="#000" stroke-width="3.2"/>
<line x1="934.40" y1="96.58" x2="939.20" y2="96.58" stroke="#000" stroke-width="3.0"/>
<line x1="1161.71" y1="311.30" x2="1161.71" y2="315.50" stroke="#000" stroke-width="3.2"/>
<line x1="934.40" y1="88.89" x2="939.20" y2="88.89" stroke="#000" stroke-width="3.0"/>
<line x1="1167.67" y1="311.30" x2="1167.67" y2="315.50" stroke="#000" stroke-width="3.2"/>
<line x1="934.40" y1="82.93" x2="939.20" y2="82.93" stroke="#000" stroke-width="3.0"/>
<line x1="1172.55" y1="311.30" x2="1172.55" y2="315.50" stroke="#000" stroke-width="3.2"/>
<line x1="934.40" y1="78.05" x2="939.20" y2="78.05" stroke="#000" stroke-width="3.0"/>
<line x1="1176.67" y1="311.30" x2="1176.67" y2="315.50" stroke="#000" stroke-width="3.2"/>
<line x1="934.40" y1="73.93" x2="939.20" y2="73.93" stroke="#000" stroke-width="3.0"/>
<line x1="1180.24" y1="311.30" x2="1180.24" y2="315.50" stroke="#000" stroke-width="3.2"/>
<line x1="934.40" y1="70.36" x2="939.20" y2="70.36" stroke="#000" stroke-width="3.0"/>
<line x1="1183.38" y1="311.30" x2="1183.38" y2="315.50" stroke="#000" stroke-width="3.2"/>
<line x1="934.40" y1="67.22" x2="939.20" y2="67.22" stroke="#000" stroke-width="3.0"/>
<line x1="1185.20" y1="311.30" x2="1185.20" y2="316.90" stroke="#000" stroke-width="3"/>
<line x1="932.60" y1="65.40" x2="939.20" y2="65.40" stroke="#000" stroke-width="3"/>
<rect x="939.20" y="64.80" width="246.20" height="246.50" fill="none" stroke="#000" stroke-width="3.4"/>
<line x1="1084.70" y1="64.80" x2="1084.70" y2="311.30" stroke="#000" stroke-width="1.5"/>
<line x1="939.20" y1="210.60" x2="1185.40" y2="210.60" stroke="#000" stroke-width="1.5"/>
<text transform="translate(924.80 336.10) scale(1 1.035)" font-size="21">10<tspan font-size="12.5" dy="-6.2" dx="-0.4">0</tspan></text>
<text transform="translate(902.20 316.20) scale(1 1.035)" font-size="21">10<tspan font-size="12.5" dy="-6.8" dx="-0.4">0</tspan></text>
<text transform="translate(986.35 336.10) scale(1 1.035)" font-size="21">10<tspan font-size="12.5" dy="-6.2" dx="-0.4">1</tspan></text>
<text transform="translate(902.20 254.65) scale(1 1.035)" font-size="21">10<tspan font-size="12.5" dy="-6.8" dx="-0.4">1</tspan></text>
<text transform="translate(1047.90 336.10) scale(1 1.035)" font-size="21">10<tspan font-size="12.5" dy="-6.2" dx="-0.4">2</tspan></text>
<text transform="translate(902.20 193.10) scale(1 1.035)" font-size="21">10<tspan font-size="12.5" dy="-6.8" dx="-0.4">2</tspan></text>
<text transform="translate(1109.45 336.10) scale(1 1.035)" font-size="21">10<tspan font-size="12.5" dy="-6.2" dx="-0.4">3</tspan></text>
<text transform="translate(902.20 131.55) scale(1 1.035)" font-size="21">10<tspan font-size="12.5" dy="-6.8" dx="-0.4">3</tspan></text>
<text transform="translate(1171.00 336.10) scale(1 1.035)" font-size="21">10<tspan font-size="12.5" dy="-6.2" dx="-0.4">4</tspan></text>
<text transform="translate(902.20 70.00) scale(1 1.035)" font-size="21">10<tspan font-size="12.5" dy="-6.8" dx="-0.4">4</tspan></text>
<path d="M1103.4 264.3h.01M1116.6 257.9h.01M1103.6 265.7h.01M1111.1 256.1h.01M1106.3 268.2h.01M1113.4 256.7h.01M1116.9 252.3h.01M1110.4 261.5h.01M1124.5 251.4h.01M1108.3 266.2h.01M1110.8 259.8h.01M1108.8 262.0h.01M1110.8 257.8h.01M1115.9 255.8h.01M1099.9 265.7h.01M1103.3 266.3h.01M1102.7 266.1h.01M1106.0 263.0h.01M1127.9 248.0h.01M1117.2 260.4h.01M1107.9 260.0h.01M1109.4 260.0h.01M1112.8 262.5h.01M1114.8 260.3h.01M1121.2 254.5h.01M1114.1 257.9h.01M1116.5 258.3h.01M1116.0 257.0h.01M1116.1 254.2h.01M1112.6 261.8h.01M1113.7 256.5h.01M1119.8 255.1h.01M1112.6 257.2h.01M1111.6 258.9h.01M1112.5 261.2h.01M1105.8 265.3h.01M1111.0 254.7h.01M1113.8 254.3h.01M1113.4 255.9h.01M1110.1 258.0h.01M1120.4 254.5h.01M1103.5 258.6h.01M1110.1 257.3h.01M1117.0 259.8h.01M1120.3 247.0h.01M1110.1 258.1h.01M1112.7 262.1h.01M1109.3 260.1h.01M1115.2 254.6h.01M1108.5 257.1h.01M1105.1 261.5h.01M1116.8 256.9h.01M1102.6 269.5h.01M1110.8 258.4h.01M1120.4 256.9h.01M1109.4 259.0h.01M1113.7 266.7h.01M1110.8 252.0h.01M1117.3 258.8h.01M1108.0 261.6h.01M1122.5 249.5h.01M1108.4 256.4h.01M1106.9 256.4h.01M1107.7 264.2h.01M1111.9 254.4h.01M1113.4 257.3h.01M1102.1 269.1h.01M1108.2 264.1h.01M1114.2 259.0h.01M1114.5 257.3h.01M1108.5 261.5h.01M1111.3 256.8h.01M1108.4 262.9h.01M1100.6 261.9h.01M1118.4 255.4h.01M1110.1 265.2h.01M1111.0 259.4h.01M1121.6 251.6h.01M1110.6 269.2h.01M1117.6 254.7h.01M1101.7 266.2h.01M1096.1 258.5h.01M1115.4 254.9h.01M1113.2 266.2h.01M1112.5 264.6h.01M1117.3 263.2h.01M1103.6 261.1h.01M1121.2 257.0h.01M1100.9 264.3h.01M1116.7 259.6h.01M1108.0 264.8h.01M1105.4 266.6h.01M1115.9 254.1h.01M1121.5 252.8h.01M1111.5 263.3h.01M1112.1 264.1h.01M1100.0 265.7h.01M1116.6 253.0h.01M1117.1 254.8h.01M1106.6 263.0h.01M1110.4 264.5h.01M1104.1 270.4h.01M1110.2 260.2h.01M1105.6 259.0h.01M1110.4 258.4h.01M1118.3 257.8h.01M1098.9 266.3h.01M1104.6 260.1h.01M1110.6 256.8h.01M1118.1 262.5h.01M1115.4 259.3h.01M1107.3 264.4h.01M1113.0 255.5h.01M1118.6 260.5h.01M1111.4 268.3h.01M1108.9 259.5h.01M1106.1 262.8h.01M1110.0 257.3h.01M1107.6 265.6h.01M1103.5 259.3h.01M1116.4 256.6h.01M1111.5 259.4h.01M1111.9 260.2h.01M1110.9 264.7h.01M1104.3 259.1h.01M1113.2 258.3h.01M1109.3 261.2h.01M1113.5 260.7h.01M1111.1 259.2h.01M1107.9 265.2h.01M1107.1 266.8h.01M1119.2 262.6h.01M1110.1 263.0h.01M1107.1 262.6h.01M1116.3 256.0h.01M1110.8 262.5h.01M1108.3 258.9h.01M1110.4 264.7h.01M1105.7 267.9h.01M1101.3 263.2h.01M1112.8 259.7h.01M1119.3 256.5h.01M1113.1 255.7h.01M1105.0 270.1h.01M1104.1 261.9h.01M1119.4 258.4h.01M1116.7 257.4h.01M1109.4 263.3h.01M1111.9 266.0h.01M1107.3 267.2h.01M1109.5 253.7h.01M1125.4 250.9h.01M1102.1 268.0h.01M1102.2 259.4h.01M1114.7 260.0h.01M1114.5 255.7h.01M1102.9 268.0h.01M1109.2 261.4h.01M1111.8 260.8h.01M1112.5 261.1h.01M1103.2 260.4h.01M1111.6 258.1h.01M1102.4 267.0h.01M1117.0 260.4h.01M1116.9 257.2h.01M1112.8 259.3h.01M1109.6 256.8h.01M1105.7 258.4h.01M1108.0 265.7h.01M1116.1 260.3h.01M1107.0 259.8h.01M1119.9 260.0h.01M1109.9 254.1h.01M1117.2 256.5h.01M1107.8 263.5h.01M1104.9 265.5h.01M1109.8 261.6h.01M1117.1 256.5h.01M1101.0 263.6h.01M1105.6 265.6h.01M1110.4 261.8h.01M1105.6 264.9h.01M1123.0 253.6h.01M1107.9 258.4h.01M1113.1 255.9h.01M1118.4 261.8h.01M1105.7 263.5h.01M1110.9 255.6h.01M1113.4 259.3h.01M1111.1 260.8h.01M1110.6 258.0h.01M1110.1 263.7h.01M1104.1 261.2h.01M1115.5 253.3h.01M1113.6 255.3h.01M1109.4 259.0h.01M1105.3 265.0h.01M1105.4 261.6h.01M1107.6 263.0h.01M1110.3 255.8h.01M1107.9 265.7h.01M1116.7 260.0h.01M1113.9 260.1h.01M1113.0 265.2h.01M1115.1 258.9h.01M1102.2 259.1h.01M1108.3 249.5h.01M1113.2 259.8h.01M1108.3 256.3h.01M1109.6 259.5h.01M1114.8 260.7h.01M1112.0 261.2h.01M1102.5 263.2h.01M1113.9 257.8h.01M1109.1 268.7h.01M1113.2 258.9h.01M1101.7 267.1h.01M1102.5 266.4h.01M1110.6 259.1h.01M1111.3 259.3h.01M1105.2 265.8h.01M1108.2 263.0h.01M1110.9 258.0h.01M1123.5 260.3h.01M1112.9 259.4h.01M1120.9 249.6h.01M1101.1 265.9h.01M1106.1 260.2h.01M1105.1 264.8h.01M1110.0 261.2h.01M1110.6 267.0h.01M1111.2 256.4h.01M1111.9 263.1h.01M1110.6 258.4h.01M1109.6 261.2h.01M1119.8 257.7h.01M1110.8 267.1h.01M1108.1 264.9h.01M1106.6 265.8h.01M1120.3 254.1h.01M1106.2 255.8h.01M1113.1 264.8h.01M1114.2 261.2h.01M1121.2 257.2h.01M1110.2 266.5h.01M1112.7 262.5h.01M1110.8 261.6h.01M1105.7 260.6h.01M1115.3 256.8h.01M1107.6 266.5h.01M1107.8 253.9h.01M1109.4 264.1h.01M1108.7 265.7h.01M1105.7 264.7h.01M1118.0 255.0h.01M1110.6 266.2h.01M1111.7 259.7h.01M1105.9 267.7h.01M1108.6 258.3h.01M1113.4 257.6h.01M1108.3 261.0h.01M1106.7 255.4h.01M1105.2 265.7h.01M1117.6 256.3h.01M1118.1 255.2h.01M1111.9 260.8h.01M1104.9 268.1h.01M1121.0 250.5h.01M1112.1 255.9h.01M1111.8 255.9h.01M1109.5 262.0h.01M1116.3 257.6h.01M1103.9 266.1h.01M1106.6 261.1h.01M1108.5 265.7h.01M1106.1 258.1h.01M1110.0 260.3h.01M1110.0 259.8h.01M1113.0 253.7h.01M1099.5 263.6h.01M1111.0 261.3h.01M1123.4 251.7h.01M1119.1 250.8h.01M1104.3 263.3h.01M1114.6 258.0h.01M1098.8 270.2h.01M1111.4 263.8h.01M1120.5 254.1h.01M1108.9 262.7h.01M1107.7 265.3h.01M1110.5 259.4h.01M1108.0 262.7h.01M1102.3 264.6h.01M1106.2 262.9h.01M1106.6 265.2h.01M1113.7 262.5h.01M1123.5 251.2h.01M1111.4 262.5h.01M1116.5 251.2h.01M1114.4 262.6h.01M1106.8 261.0h.01M1109.8 265.2h.01M1105.6 266.8h.01M1111.7 262.0h.01M1105.8 253.9h.01M1121.6 256.2h.01M1112.2 259.0h.01M1108.0 258.6h.01M1109.3 262.5h.01M1108.7 262.2h.01M1115.9 253.8h.01M1104.2 266.7h.01M1104.9 261.6h.01M1110.2 257.6h.01M1113.4 265.2h.01M1112.5 258.2h.01M1115.4 261.6h.01M1112.1 261.8h.01M1106.3 262.3h.01M1113.9 261.2h.01M1105.7 272.8h.01M1105.6 260.1h.01M1114.0 266.0h.01M1105.2 262.8h.01M1117.3 251.4h.01M1112.1 258.6h.01M1105.7 265.6h.01M1110.1 263.6h.01M1111.5 261.2h.01M1109.8 255.8h.01M1113.7 256.7h.01M1111.8 265.0h.01M1109.0 259.7h.01M1103.1 261.4h.01M1108.1 260.9h.01M1110.9 264.7h.01M1123.4 255.3h.01M1116.3 258.3h.01M1113.3 261.3h.01M1106.7 259.9h.01M1122.2 255.1h.01M1108.9 258.2h.01M1106.0 261.2h.01M1105.3 262.1h.01M1110.7 256.0h.01M1114.4 261.9h.01M1115.9 260.5h.01M1111.9 254.1h.01M1114.6 259.5h.01M1116.5 255.6h.01M1104.6 266.1h.01M1118.5 255.8h.01M1111.7 260.8h.01M1102.5 268.1h.01M1112.0 258.6h.01M1113.2 266.2h.01M1115.7 254.1h.01M1113.7 253.5h.01M1109.2 263.6h.01M1109.3 255.4h.01M1102.0 267.5h.01M1105.8 261.9h.01M1118.7 255.6h.01M1103.9 265.1h.01M1111.6 265.2h.01M1116.0 258.3h.01M1116.3 261.0h.01M1118.7 259.7h.01M1119.1 260.7h.01M1118.4 256.1h.01M1102.7 267.0h.01M1114.0 261.5h.01M1107.4 261.8h.01M1114.8 268.3h.01M1107.5 261.1h.01M1110.3 257.0h.01M1102.5 257.1h.01M1114.2 256.7h.01M1114.6 254.1h.01M1112.1 261.6h.01M1115.2 255.6h.01M1102.4 270.3h.01M1112.8 258.5h.01M1110.9 257.9h.01M1108.6 256.2h.01M1108.1 263.7h.01M1110.9 257.5h.01M1112.1 254.0h.01M1106.0 259.6h.01M1114.7 261.2h.01M1106.2 256.1h.01M1115.4 258.6h.01M1099.1 271.4h.01M1106.7 263.0h.01M1121.4 249.9h.01M1113.7 261.5h.01M1104.6 265.5h.01M1102.9 255.2h.01M1109.4 263.5h.01M1116.3 256.0h.01M1101.8 262.2h.01M1111.1 264.8h.01M1111.4 258.1h.01M1107.5 260.2h.01M1116.3 259.4h.01M1103.8 274.0h.01M1107.7 258.1h.01M1113.4 253.4h.01M1120.2 253.4h.01M1118.7 260.1h.01M1113.5 256.9h.01M1110.8 261.9h.01M1104.4 264.4h.01M1117.8 256.5h.01M1114.4 260.0h.01M1113.6 261.9h.01M1112.9 259.6h.01M1113.2 260.7h.01M1104.9 265.8h.01M1113.3 252.8h.01M1107.4 259.9h.01M1113.8 256.7h.01M1101.8 265.7h.01M1103.4 261.4h.01M1113.6 256.0h.01M1096.1 268.7h.01M1116.4 260.8h.01M1115.5 256.6h.01M1110.8 262.9h.01M1105.9 265.4h.01M1126.4 248.2h.01M1112.7 261.2h.01M1108.2 264.2h.01M1104.3 261.8h.01M1107.6 259.5h.01M1102.8 262.7h.01M1109.2 259.0h.01M1111.5 263.0h.01M1117.6 256.9h.01M1111.2 263.1h.01M1112.2 260.6h.01M1111.4 258.6h.01M1109.3 266.4h.01M1111.2 256.7h.01M1116.1 260.5h.01M1113.0 257.3h.01M1111.3 258.4h.01M1108.4 261.2h.01M1116.2 258.1h.01M1103.1 266.2h.01M1114.7 264.1h.01M1105.9 261.7h.01M1109.6 260.9h.01M1102.3 263.2h.01M1120.1 254.3h.01M1108.6 266.0h.01M1115.0 256.9h.01M1104.3 260.7h.01M1113.5 256.2h.01M1101.4 267.5h.01M1115.9 261.0h.01M1112.9 253.6h.01M1117.2 258.2h.01M1105.2 261.0h.01M1113.6 253.8h.01M1117.0 256.1h.01M1111.5 266.4h.01M1110.7 252.2h.01M1108.9 263.4h.01M1113.3 257.1h.01M1104.5 267.4h.01M1101.3 260.0h.01M1105.3 261.2h.01M1117.4 248.7h.01M1115.2 251.2h.01M1104.6 266.0h.01M1107.2 264.0h.01M1127.1 254.4h.01M1115.5 261.3h.01M1115.3 252.3h.01M1104.3 257.6h.01M1108.7 257.2h.01M1113.1 260.6h.01M1108.7 262.2h.01M1113.5 257.8h.01M1123.2 251.9h.01M1109.3 264.0h.01M1108.9 266.8h.01M1103.8 262.1h.01M1111.1 260.7h.01M1110.5 256.7h.01M1112.4 256.3h.01M1108.0 263.3h.01M1106.6 263.7h.01M1106.8 264.5h.01M1109.9 261.7h.01M1109.9 262.7h.01M1118.0 256.3h.01M1104.9 263.9h.01M1106.6 267.2h.01M1113.8 264.1h.01M1093.1 272.1h.01M1118.8 260.5h.01M1104.8 262.6h.01M1101.5 270.1h.01M1104.5 265.6h.01M1098.6 265.9h.01M1109.2 260.3h.01M1112.4 266.7h.01M1112.0 264.2h.01M1112.0 262.5h.01M1109.2 262.2h.01M1113.3 255.7h.01M1105.2 264.4h.01M1117.3 253.8h.01M1106.9 263.6h.01M1107.1 259.6h.01M1110.0 259.5h.01M1124.5 255.3h.01M1108.1 268.4h.01M1100.7 264.6h.01M1109.3 255.6h.01M1101.6 270.1h.01M1116.3 252.6h.01M1113.7 255.1h.01M1110.7 260.4h.01M1109.2 258.4h.01M1109.1 260.4h.01M1120.1 257.6h.01M1105.6 262.0h.01M1109.4 261.9h.01M1120.8 251.5h.01M1106.4 259.5h.01M1125.6 253.5h.01M1106.8 262.8h.01M1103.5 257.8h.01M1113.9 259.4h.01M1114.4 260.5h.01M1107.1 262.6h.01M1126.9 256.7h.01M1110.4 255.7h.01M1111.1 253.2h.01M1112.6 258.4h.01M1111.3 263.0h.01M1121.1 257.0h.01M1110.7 262.2h.01M1110.2 268.7h.01M1108.3 261.6h.01M1109.8 258.0h.01M1110.7 262.6h.01M1111.0 257.8h.01M1108.3 267.5h.01M1103.3 261.9h.01M1117.3 258.8h.01M1109.7 258.1h.01M1118.6 257.0h.01M1106.8 258.1h.01M1120.6 247.7h.01M1103.7 263.8h.01M1109.0 261.8h.01M1107.8 264.2h.01M1107.4 256.3h.01M1113.5 256.8h.01M1111.9 262.2h.01M1107.2 258.5h.01M1111.5 252.7h.01M1111.9 259.6h.01M1101.3 265.7h.01M1098.8 263.5h.01M1107.2 262.9h.01M1104.2 266.8h.01M1103.7 261.4h.01M1113.8 262.3h.01M1100.5 268.0h.01M1109.8 265.0h.01M1113.9 258.7h.01M1112.1 261.5h.01M1108.3 263.8h.01M1101.0 265.1h.01M1115.6 263.0h.01M1109.1 257.4h.01M1109.5 256.6h.01M1109.1 261.5h.01M1105.2 267.6h.01M1102.4 269.6h.01M1110.9 258.3h.01M1116.4 255.7h.01M1104.6 263.3h.01M1106.7 256.9h.01M1119.2 250.8h.01M1105.4 266.1h.01M1112.7 261.4h.01M1112.1 256.9h.01M1114.5 256.8h.01M1107.3 265.9h.01M1107.6 257.9h.01M1117.1 252.2h.01M1111.3 257.5h.01M1112.6 254.3h.01M1117.6 260.8h.01M1114.9 256.0h.01M1107.2 261.0h.01M1112.1 259.5h.01M1101.4 266.7h.01M1113.5 258.5h.01M1101.4 265.5h.01M1114.0 257.3h.01M1113.3 259.7h.01M1106.1 261.8h.01M1108.3 261.4h.01M1126.4 246.4h.01M1114.0 263.8h.01M1109.7 258.4h.01M1107.2 263.8h.01M1097.7 267.8h.01M1106.2 261.2h.01M1118.0 255.7h.01M1115.2 256.2h.01M1109.9 261.9h.01M1103.8 260.7h.01M1116.8 259.5h.01M1116.2 259.0h.01M1100.5 263.4h.01M1101.8 262.6h.01M1110.0 257.6h.01M1111.2 255.8h.01M1111.3 257.8h.01M1109.9 257.0h.01M1106.7 259.6h.01M1118.5 254.9h.01M1113.7 260.0h.01M1108.5 261.0h.01M1110.2 263.9h.01M1110.0 260.2h.01M1111.0 257.6h.01M1098.8 264.0h.01M1110.9 263.0h.01M1107.8 260.9h.01M1115.7 258.0h.01M1114.0 263.6h.01M1111.6 260.1h.01M1106.7 260.1h.01M1118.2 251.2h.01M1103.8 259.9h.01M1108.8 261.9h.01M1106.7 261.6h.01M1113.2 258.0h.01M1109.6 261.6h.01M1106.7 259.8h.01M1108.0 262.8h.01M1110.7 263.1h.01M1111.8 264.8h.01M1111.7 257.7h.01M1106.3 258.0h.01M1105.3 262.3h.01M1113.9 259.9h.01M1107.7 259.3h.01M1110.3 259.6h.01M1117.5 254.7h.01M1103.0 268.6h.01M1115.1 257.6h.01M1108.2 269.2h.01M1109.6 255.8h.01M1107.6 270.3h.01M1114.0 259.9h.01M1109.5 262.4h.01M1105.0 262.9h.01M1114.7 256.2h.01M1105.8 260.2h.01M1108.9 259.6h.01M1104.5 262.5h.01M1112.2 254.7h.01M1109.9 259.4h.01M1106.0 260.6h.01M1112.7 255.0h.01M1110.6 264.8h.01M1110.5 261.2h.01M1105.6 261.9h.01M1114.8 256.0h.01M1115.6 255.4h.01M1106.4 265.5h.01M1107.5 260.2h.01M1115.1 256.7h.01M1117.2 258.6h.01M1107.4 257.4h.01M1111.1 256.4h.01M1103.5 271.5h.01M1104.3 261.4h.01M1120.0 255.8h.01M1107.1 266.6h.01M1104.9 262.6h.01M1105.7 257.3h.01M1115.4 259.4h.01M1112.0 260.0h.01M1113.1 255.4h.01M1107.2 259.7h.01M1113.6 258.5h.01M1110.7 257.9h.01M1110.0 263.2h.01M1117.1 255.7h.01M1106.7 261.6h.01M1102.8 265.9h.01M1104.2 266.6h.01M1102.5 268.8h.01M1115.4 257.5h.01M1101.3 261.0h.01M1104.8 259.4h.01M1110.3 265.8h.01M1120.8 254.5h.01M1112.4 254.9h.01M1103.6 265.2h.01M1106.5 261.2h.01M1112.6 263.4h.01M1109.5 258.5h.01M1108.1 260.3h.01M1107.9 262.6h.01M1112.1 258.8h.01M1115.5 253.5h.01M1113.7 255.6h.01M1113.3 262.6h.01M1113.1 252.5h.01M1112.1 260.2h.01M1108.3 257.8h.01M1113.6 261.6h.01M1110.9 262.9h.01M1111.0 263.3h.01M1103.6 260.3h.01M1118.6 260.2h.01M1106.2 265.1h.01M1110.8 265.1h.01M1117.8 260.8h.01M1112.9 256.3h.01M1109.7 263.3h.01M1110.6 259.9h.01M1101.8 271.2h.01M1113.4 258.7h.01M1110.0 264.3h.01M1108.2 264.8h.01M1127.0 252.9h.01M1117.6 253.6h.01M1111.3 259.2h.01M1105.9 258.2h.01M1113.2 258.6h.01M1109.6 260.5h.01M1105.2 265.4h.01M1106.3 261.4h.01M1116.7 262.5h.01M1107.7 259.0h.01M1105.8 268.0h.01M1115.9 257.0h.01M1110.2 264.9h.01M1112.3 261.1h.01M1110.9 258.7h.01M1114.7 258.6h.01M1107.8 262.3h.01M1109.7 260.4h.01M1108.2 263.0h.01M1108.5 264.0h.01M1109.4 257.2h.01M1106.8 261.1h.01M1112.1 258.9h.01M1114.9 259.2h.01M1112.9 257.7h.01M1092.0 272.7h.01M1110.4 253.7h.01M1104.9 264.2h.01M1114.0 261.4h.01M1116.0 254.9h.01M1108.4 266.2h.01M1104.4 256.6h.01M1125.8 258.1h.01M1100.0 265.7h.01M1111.0 262.3h.01M1113.5 258.0h.01M1111.6 258.8h.01M1102.7 261.5h.01M1106.3 259.6h.01M1114.0 257.8h.01M1111.3 260.0h.01M1101.6 268.1h.01M1115.4 262.6h.01M1101.0 263.6h.01M1117.3 261.0h.01M1113.0 258.8h.01M1116.1 257.5h.01M1110.6 263.0h.01M1111.7 260.1h.01M1107.7 263.7h.01M1105.6 261.8h.01M1107.8 267.9h.01M1103.7 261.6h.01M1106.8 260.9h.01M1115.2 258.9h.01M1113.6 256.5h.01M1111.5 262.3h.01M1112.4 263.7h.01M1110.1 262.8h.01M1112.2 258.0h.01M1105.7 260.9h.01M1116.6 255.8h.01M1105.8 262.1h.01M1098.9 271.0h.01M1110.2 253.6h.01M1104.1 259.7h.01M1119.4 247.3h.01M1096.4 266.8h.01M1109.8 257.4h.01M1110.6 262.6h.01M1106.8 257.9h.01M1115.4 258.0h.01M1111.0 257.0h.01M1113.5 258.4h.01M1108.3 264.7h.01M1109.2 263.4h.01M1104.7 269.7h.01M1117.0 259.8h.01M1103.8 265.5h.01M1115.9 252.1h.01M1110.1 264.4h.01M1109.3 264.6h.01M1106.8 261.4h.01M1106.3 266.3h.01M1109.2 261.5h.01M1107.8 265.2h.01M1105.9 266.5h.01M1113.7 259.1h.01M1093.2 270.8h.01M1111.6 262.8h.01M1114.3 268.5h.01M1099.9 264.1h.01M1118.0 247.3h.01M1106.6 263.2h.01M1116.7 260.4h.01M1120.9 255.5h.01M1114.3 261.8h.01M1112.4 259.1h.01M1118.1 259.1h.01M1107.4 256.3h.01M1103.6 264.2h.01M1113.6 260.0h.01M1106.7 258.2h.01M1115.5 254.8h.01M1113.8 262.1h.01M1107.9 255.9h.01M1118.3 259.7h.01M1100.7 270.0h.01M1112.3 261.2h.01M1108.3 260.9h.01M1114.9 256.6h.01M1119.5 259.1h.01M1112.2 257.7h.01M1100.5 263.2h.01M1104.6 270.0h.01M1122.3 247.2h.01M1110.2 255.9h.01M1118.5 258.7h.01M1110.7 255.4h.01M1109.5 260.9h.01M1106.8 260.5h.01M1108.6 264.0h.01M1105.6 267.4h.01M1110.9 258.5h.01M1110.3 264.4h.01M1111.7 258.3h.01M1118.1 256.8h.01M1107.4 260.9h.01M1118.6 254.8h.01M1111.7 263.0h.01M1106.9 259.7h.01M1113.1 254.6h.01M1100.4 264.8h.01M1104.6 262.6h.01M1098.1 269.8h.01M1103.6 260.9h.01M1108.9 257.0h.01M1104.8 257.5h.01M1104.9 257.7h.01M1109.6 264.7h.01M1115.9 258.0h.01M1112.5 263.9h.01M1108.5 261.5h.01M1106.1 262.3h.01M1096.8 267.2h.01M1105.8 258.6h.01M1109.8 263.4h.01M1107.6 261.6h.01M1114.5 259.3h.01M1105.5 262.5h.01M1117.9 261.4h.01M1106.1 266.1h.01M1117.5 251.0h.01M1113.9 256.2h.01M1102.6 262.1h.01M1109.5 264.1h.01M1123.3 256.4h.01M1117.5 254.7h.01M1105.3 263.6h.01M1105.7 263.3h.01M1109.1 265.8h.01M1125.5 251.4h.01M1115.8 256.8h.01M1116.3 260.9h.01M1110.6 272.3h.01M1115.1 255.5h.01M1102.8 263.1h.01M1108.6 251.2h.01M1110.2 257.4h.01M1112.4 256.3h.01M1111.1 261.6h.01M1112.2 254.8h.01M1106.3 267.7h.01M1107.2 256.4h.01M1112.3 265.3h.01M1113.5 255.6h.01M1120.5 252.5h.01M1122.2 254.6h.01M1115.1 256.7h.01M1104.6 265.7h.01M1115.7 252.7h.01M1106.6 259.3h.01M1113.8 254.8h.01M1111.5 258.6h.01M1106.2 263.8h.01M1112.4 261.7h.01M1108.7 261.2h.01M1109.8 257.1h.01M1105.7 265.4h.01M1112.6 260.3h.01M1113.1 260.3h.01M1117.2 256.4h.01M1103.2 263.1h.01M1122.7 258.6h.01M1109.7 260.8h.01M1113.4 252.9h.01M1112.4 264.8h.01M1112.3 255.5h.01M1112.9 258.5h.01M1102.0 257.8h.01M1106.7 268.7h.01M1115.2 256.0h.01M1113.5 257.0h.01M1117.0 250.6h.01M1105.9 260.2h.01M1107.2 269.1h.01M1117.7 256.8h.01M1099.1 268.8h.01M1106.1 261.8h.01M1111.5 262.5h.01M1105.4 261.4h.01M1105.4 263.7h.01M1104.5 263.2h.01M1119.0 252.2h.01M1115.7 255.1h.01M1105.9 264.9h.01M1110.1 259.1h.01M1106.3 261.3h.01M1106.6 263.1h.01M1112.4 263.2h.01M1115.8 256.5h.01M1111.2 260.1h.01M1101.8 271.9h.01M1104.1 261.6h.01M1106.4 261.2h.01M1106.5 266.4h.01M1106.2 259.8h.01M1102.0 267.3h.01M1112.4 258.6h.01M1109.1 258.7h.01M1113.8 261.7h.01M1115.2 259.9h.01M1106.2 258.3h.01M1121.0 247.6h.01M1114.1 260.7h.01M1103.6 259.4h.01M1114.7 262.5h.01M1117.9 253.0h.01M1116.8 254.4h.01M1100.4 270.5h.01M1110.1 261.4h.01M1119.7 256.2h.01M1110.1 261.0h.01M1111.8 263.3h.01M1108.5 271.3h.01M1112.6 259.7h.01M1113.4 262.2h.01M1112.2 262.7h.01M1104.6 263.6h.01M1112.9 256.6h.01M1111.0 261.5h.01M1115.8 252.1h.01M1109.0 265.5h.01M1111.9 258.3h.01M1101.8 258.6h.01M1100.9 270.5h.01M1110.1 257.2h.01M1101.4 268.6h.01M1115.7 251.6h.01M1109.1 261.3h.01M1105.2 262.9h.01M1108.5 269.3h.01M1102.4 266.2h.01M1101.6 262.9h.01M1115.6 253.2h.01M1112.0 255.3h.01M1110.4 257.4h.01M1111.7 256.8h.01M1106.3 265.9h.01M1103.8 262.3h.01M1114.6 260.4h.01M1106.3 265.6h.01M1115.3 257.4h.01M1110.4 263.0h.01M1107.1 257.1h.01M1107.5 263.9h.01M1118.3 252.2h.01M1102.6 262.3h.01M1102.9 264.0h.01M1098.8 272.5h.01M1116.4 258.3h.01M1106.6 263.1h.01M1111.3 261.6h.01M1103.9 258.8h.01M1117.9 253.9h.01M1105.3 266.1h.01M1108.2 260.4h.01M1119.9 255.5h.01M1112.0 260.9h.01M1112.5 261.5h.01M1110.5 256.3h.01M1109.0 262.8h.01M1113.4 263.1h.01M1122.4 256.7h.01M1110.1 263.9h.01M1119.3 255.8h.01M1104.6 257.9h.01M1111.2 262.8h.01M1110.2 260.0h.01M1106.9 263.8h.01M1108.2 259.6h.01M1113.2 255.5h.01M1108.5 259.0h.01M1107.4 258.5h.01M1113.4 259.9h.01M1119.6 259.3h.01M1106.8 266.1h.01M1111.9 263.9h.01M1107.4 269.5h.01M1112.4 261.8h.01M1120.8 250.2h.01M1102.2 261.7h.01M1109.2 257.5h.01M1102.7 262.0h.01M1117.1 257.2h.01M1106.7 264.6h.01M1107.8 253.8h.01M1117.5 250.0h.01M1109.9 262.1h.01M1112.9 259.7h.01M1108.4 262.7h.01M1115.1 257.4h.01M1112.2 260.2h.01M1110.1 262.0h.01M1116.8 255.1h.01M1118.7 255.1h.01M1118.5 259.6h.01M1108.5 262.1h.01M1107.4 263.2h.01M1105.9 264.4h.01M1107.0 263.0h.01M1110.7 263.9h.01M1108.3 262.0h.01M1103.6 265.1h.01M1117.5 256.2h.01M1112.4 256.9h.01M1104.0 260.4h.01M1125.6 253.2h.01M1123.1 253.9h.01M1121.3 259.1h.01M1116.3 255.8h.01M1105.2 267.3h.01M1106.5 266.6h.01M1112.8 259.4h.01M1097.8 270.8h.01M1112.8 258.5h.01M1122.6 258.3h.01M1111.8 259.4h.01M1116.6 260.8h.01M1103.9 265.9h.01M1114.0 264.4h.01M1112.5 259.1h.01M1118.9 263.8h.01M1114.7 260.6h.01M1106.7 260.4h.01M1119.2 253.6h.01M1107.7 257.8h.01M1106.1 264.3h.01M1109.5 264.7h.01M1108.1 254.9h.01M1111.0 258.3h.01M1108.4 257.9h.01M1113.0 261.8h.01M1108.6 256.7h.01M1108.0 258.0h.01M1106.7 255.9h.01M1110.9 257.8h.01M1107.6 259.6h.01M1111.9 264.8h.01M1114.2 262.1h.01M1117.0 252.9h.01M1109.4 258.8h.01M1094.2 266.8h.01M1105.9 261.4h.01M1126.9 254.4h.01M1107.7 261.2h.01M1115.6 262.8h.01M1103.0 260.5h.01M1106.4 261.5h.01M1104.8 267.9h.01M1100.4 266.8h.01M1116.5 255.8h.01M1108.7 260.9h.01M1113.5 259.3h.01M1110.1 253.7h.01M1123.3 253.3h.01M1100.6 260.8h.01M1113.6 253.8h.01M1114.1 258.7h.01M1113.8 254.1h.01M1118.6 258.5h.01M1116.6 257.3h.01M1108.0 261.0h.01M1104.7 256.3h.01M1113.1 257.6h.01M1109.1 260.6h.01M1108.3 260.0h.01M1113.7 255.1h.01M1104.5 266.1h.01M1113.1 263.0h.01M1112.8 259.3h.01M1110.2 259.3h.01M1104.6 259.2h.01M1117.0 257.8h.01M1111.7 256.9h.01M1107.1 264.2h.01M1118.7 263.8h.01M1103.0 264.7h.01M1115.4 260.2h.01M1111.3 251.9h.01M1111.7 259.7h.01M1112.6 262.6h.01M1113.1 257.9h.01M1112.0 254.2h.01M1110.4 259.9h.01M1109.3 255.1h.01M1102.8 266.0h.01M1107.0 262.5h.01M1114.8 257.1h.01M1114.1 257.2h.01M1107.9 264.7h.01M1102.8 265.2h.01M1107.0 260.0h.01M1117.2 258.8h.01M1103.8 263.2h.01M1105.5 263.3h.01M1114.4 259.0h.01M1121.3 255.4h.01M1113.5 259.8h.01M1095.6 271.9h.01M1108.7 259.7h.01M1111.1 262.7h.01M1108.3 263.1h.01M1115.0 258.2h.01M1115.6 253.7h.01M1104.9 260.8h.01M1098.5 269.0h.01M1105.5 264.4h.01M1116.6 256.0h.01M1107.5 258.1h.01M1107.9 265.3h.01M1114.6 255.2h.01M1102.7 265.6h.01M1114.9 257.8h.01M1108.2 261.7h.01M1112.9 261.3h.01M1117.7 260.9h.01M1106.5 255.7h.01M1105.0 264.6h.01M1100.0 271.1h.01M1104.4 264.7h.01M1104.8 258.0h.01M1105.7 264.0h.01M1110.6 258.1h.01M1117.9 260.7h.01M1122.6 252.7h.01M1109.6 267.1h.01M1111.2 266.3h.01M1112.5 261.1h.01M1113.6 261.0h.01M1107.1 254.9h.01M1116.4 255.6h.01M1102.8 260.8h.01M1104.0 270.3h.01M1118.4 256.9h.01M1116.7 253.9h.01M1119.0 247.9h.01M1114.7 259.7h.01M1111.3 254.9h.01M1116.2 266.7h.01M1109.2 262.8h.01M1110.8 261.5h.01M1118.7 259.1h.01M1116.2 263.4h.01M1100.8 271.2h.01M1108.1 265.4h.01M1105.8 261.7h.01M1113.4 258.1h.01M1112.8 261.3h.01M1107.7 267.6h.01M1110.3 264.7h.01M1107.6 260.0h.01M1111.1 255.3h.01M1109.4 269.2h.01M1101.3 260.0h.01M1114.9 258.8h.01M1118.2 256.4h.01M1120.0 255.0h.01M1107.2 260.4h.01M1104.8 265.3h.01M1120.0 252.0h.01M1105.1 265.3h.01M1111.7 262.4h.01M1110.5 256.0h.01M1109.2 258.2h.01M1111.8 259.0h.01M1104.9 261.1h.01M1118.4 256.4h.01M1105.0 262.6h.01M1109.1 257.5h.01M1113.3 258.9h.01M1102.1 264.3h.01M1113.2 263.1h.01M1105.8 270.5h.01M1114.5 259.1h.01M1094.5 275.3h.01M1107.3 263.2h.01M1111.3 261.2h.01M1112.7 255.3h.01M1106.6 257.7h.01M1111.3 263.0h.01M1113.8 263.3h.01M1110.7 264.1h.01M1107.9 261.7h.01M1096.9 269.0h.01M1112.2 260.0h.01M1113.7 257.0h.01M1110.3 264.3h.01M1113.1 255.9h.01M1104.0 267.9h.01M1102.8 263.1h.01M1109.6 265.7h.01M1117.7 253.7h.01M1111.3 259.0h.01M1109.5 261.1h.01M1114.4 256.1h.01M1107.9 262.1h.01M1121.3 254.7h.01M1103.3 265.3h.01M1100.0 258.7h.01M1112.8 256.8h.01M1109.1 254.5h.01M1105.2 264.6h.01M1099.5 264.0h.01M1107.1 256.7h.01M1110.8 264.1h.01M1105.4 261.3h.01M1105.7 263.1h.01M1107.9 265.0h.01M1104.7 258.9h.01M1104.2 263.9h.01M1116.0 259.2h.01M1099.9 262.8h.01M1120.1 254.5h.01M1102.6 263.1h.01M1111.7 262.6h.01M1112.5 267.7h.01M1108.2 266.6h.01M1102.5 264.3h.01M1109.0 255.5h.01M1097.4 272.5h.01M1103.7 260.7h.01M1115.7 256.3h.01M1112.2 262.0h.01M1108.5 263.6h.01M1093.8 265.8h.01M1110.8 252.8h.01M1116.1 254.7h.01M1117.8 261.4h.01M1103.6 262.5h.01M1111.2 265.9h.01M1112.6 263.7h.01M1107.8 256.9h.01M1105.2 266.0h.01M1113.4 258.5h.01M1112.9 261.9h.01M1112.7 267.6h.01M1107.3 258.3h.01M1104.8 265.4h.01M1112.1 255.0h.01M1118.1 258.2h.01M1105.2 258.1h.01M1107.5 261.7h.01M1107.1 265.4h.01M1095.6 273.4h.01M1100.5 271.5h.01M1102.9 261.2h.01M1113.8 256.7h.01M1110.1 265.9h.01M1114.4 260.8h.01M1108.2 258.8h.01M1109.5 261.4h.01M1103.3 262.0h.01M1112.0 256.9h.01M1121.9 258.2h.01M1109.4 259.0h.01M1111.7 258.6h.01M1115.5 262.5h.01M1108.0 258.2h.01M1110.5 261.3h.01M1117.9 261.5h.01M1109.9 255.5h.01M1110.5 263.6h.01M1114.0 259.7h.01M1105.8 263.4h.01M1100.4 265.5h.01M1105.0 266.6h.01M1114.3 257.9h.01M1109.4 256.4h.01M1114.9 249.8h.01M1105.9 260.6h.01M1100.2 265.2h.01M1118.6 257.3h.01M1111.4 256.9h.01M1110.7 262.8h.01M1120.7 258.0h.01M1109.6 257.8h.01M1108.9 256.0h.01M1117.5 253.8h.01M1118.6 252.0h.01M1104.4 266.2h.01M1111.5 259.2h.01M1097.4 261.8h.01M1104.0 269.4h.01M1112.4 258.4h.01M1118.2 254.2h.01M1111.2 257.5h.01M1108.7 266.6h.01M1106.2 260.0h.01M1106.7 258.8h.01M1106.2 261.0h.01M1109.1 258.5h.01M1110.1 260.1h.01M1105.8 259.5h.01M1109.4 259.6h.01M1115.4 260.2h.01M1106.1 263.9h.01M1119.0 258.2h.01M1106.7 266.9h.01M1110.2 264.7h.01M1105.2 262.5h.01M1104.6 264.9h.01M1104.5 265.7h.01M1116.7 263.4h.01M1110.3 259.9h.01M1109.7 260.2h.01M1114.9 262.1h.01M1108.7 259.6h.01M1119.7 258.9h.01M1109.6 266.2h.01M1112.2 263.2h.01M1103.9 262.6h.01M1125.9 256.8h.01M1120.8 256.4h.01M1113.5 257.1h.01M1117.4 256.3h.01M1106.1 264.0h.01M1116.2 259.7h.01M1112.6 259.0h.01M1111.4 259.9h.01M1112.3 256.4h.01M1109.5 262.6h.01M1100.5 271.0h.01M1101.2 264.9h.01M1105.9 266.4h.01M1111.5 256.2h.01M1118.4 257.9h.01M1109.9 257.1h.01M1106.3 264.4h.01M1105.1 266.8h.01M1114.0 257.6h.01M1109.5 263.3h.01M1117.2 252.9h.01M1100.1 260.2h.01M1108.5 262.5h.01M1108.8 263.8h.01M1116.3 261.5h.01M1111.2 261.2h.01M1119.0 252.9h.01M1111.9 257.7h.01M1113.4 258.0h.01M1096.7 269.0h.01M1107.5 260.1h.01M1113.0 260.7h.01M1107.5 266.4h.01M1112.1 259.7h.01M1106.4 264.9h.01M1113.5 260.8h.01M1110.8 262.5h.01M1096.6 270.3h.01M1109.4 258.4h.01M1118.6 257.3h.01M1113.2 257.6h.01M1109.4 258.3h.01M1117.3 260.2h.01M1118.6 255.3h.01M1108.1 264.8h.01M1111.2 264.1h.01M1115.5 255.4h.01M1104.3 262.1h.01M1111.6 259.5h.01M1115.7 257.1h.01M1108.2 260.4h.01M1102.8 270.4h.01M1111.3 256.1h.01M1101.5 267.0h.01M1107.4 263.8h.01M1111.1 254.7h.01M1118.2 251.5h.01M1113.6 257.8h.01M1099.9 266.8h.01M1106.1 267.8h.01M1113.8 263.8h.01M1118.8 252.3h.01M1111.6 258.0h.01M1111.6 259.5h.01M1115.4 259.4h.01M1111.6 259.1h.01M1116.5 260.2h.01M1112.0 259.9h.01M1112.9 256.9h.01M1110.7 258.8h.01M1110.5 255.6h.01M1111.2 258.1h.01M1105.9 264.6h.01M1112.7 255.1h.01M1105.4 264.4h.01M1108.9 261.5h.01M1108.7 263.4h.01M1109.9 260.5h.01M1117.3 258.7h.01M1104.0 262.4h.01M1113.4 259.1h.01M1102.6 262.5h.01M1102.9 262.0h.01M1112.0 259.9h.01M1108.2 259.3h.01M1113.5 264.6h.01M1110.4 268.3h.01M1111.0 256.8h.01M1118.2 259.8h.01M1118.6 248.1h.01M1113.3 265.7h.01M1104.1 261.4h.01M1122.3 253.9h.01M1102.4 269.9h.01M1120.6 253.2h.01M1106.6 270.9h.01M1112.4 256.2h.01M1108.3 262.9h.01M1111.5 261.1h.01M1108.6 264.0h.01M1105.2 259.9h.01M1110.8 256.6h.01M1124.1 258.9h.01M1108.5 258.6h.01M1110.4 262.8h.01M1113.5 260.3h.01M1106.6 264.5h.01M1110.7 260.3h.01M1115.2 257.1h.01M1102.8 255.2h.01M1109.7 262.1h.01M1110.9 262.8h.01M1101.8 266.1h.01M1121.3 259.2h.01M1105.7 262.5h.01M1106.0 261.9h.01M1112.1 263.3h.01M1110.2 262.6h.01M1117.7 264.5h.01M1110.4 255.9h.01M1110.9 259.4h.01M1107.1 261.8h.01M1111.9 264.1h.01M1108.2 270.6h.01M1112.5 258.5h.01M1115.8 255.8h.01M1116.4 261.1h.01M1101.6 269.1h.01M1108.1 261.0h.01M1110.0 261.5h.01M1110.3 259.8h.01M1111.0 259.0h.01M1108.0 262.7h.01M1104.6 268.8h.01M1108.3 260.6h.01M1108.9 266.8h.01M1116.9 258.9h.01M1103.1 269.4h.01M1108.3 270.8h.01M1105.5 258.1h.01M1108.0 265.3h.01M1116.3 256.0h.01M1107.6 257.8h.01M1104.3 265.2h.01M1112.8 258.2h.01M1105.9 267.2h.01M1120.0 254.0h.01M1107.2 259.0h.01M1101.1 267.5h.01M1098.8 264.0h.01M1105.1 264.1h.01M1105.4 263.8h.01M1112.1 259.3h.01M1108.4 261.2h.01M1110.1 262.7h.01M1112.3 256.1h.01M1105.1 268.1h.01M1105.9 262.8h.01M1100.4 262.3h.01M1110.4 260.0h.01M1116.3 259.0h.01M1111.7 258.2h.01M1119.1 258.1h.01M1116.7 253.8h.01M1110.0 257.1h.01M1109.5 261.9h.01M1115.5 258.2h.01M1113.8 253.2h.01M1111.3 259.3h.01M1108.6 265.1h.01M1119.8 257.4h.01M1110.4 259.5h.01M1106.9 265.5h.01M1103.2 258.2h.01M1110.1 255.8h.01M1119.5 250.4h.01M1118.2 256.5h.01M1104.4 259.7h.01M1119.9 257.3h.01M1116.0 255.4h.01M1113.1 255.2h.01M1121.6 254.7h.01M1108.4 257.5h.01M1108.2 260.2h.01M1113.0 264.7h.01M1106.1 260.5h.01M1110.3 266.1h.01M1107.7 262.1h.01M1112.6 257.8h.01M1115.1 260.9h.01M1108.7 264.5h.01M1107.5 261.0h.01M1118.0 255.9h.01M1114.2 253.7h.01M1105.9 266.7h.01M1113.7 263.0h.01M1123.6 257.6h.01M1102.8 263.2h.01M1105.4 261.6h.01M1103.6 261.7h.01M1106.3 260.9h.01M1118.4 260.0h.01M1108.9 267.8h.01M1103.2 262.4h.01M1109.0 258.5h.01M1116.3 252.5h.01M1115.1 258.6h.01M1108.0 261.1h.01M1113.3 254.5h.01M1112.7 259.9h.01M1107.4 256.7h.01M1108.7 254.6h.01M1105.4 261.0h.01M1110.5 257.7h.01M1106.1 262.4h.01M1110.7 261.2h.01M1106.8 268.2h.01M1107.9 260.3h.01M1111.6 258.7h.01M1114.6 262.2h.01M1116.1 256.1h.01M1107.6 264.4h.01M1115.5 256.1h.01M1098.3 261.7h.01M1100.0 261.9h.01M1116.8 259.4h.01M1115.0 252.6h.01M1115.0 254.8h.01M1112.0 258.5h.01M1107.4 261.7h.01M1117.5 255.6h.01M1123.6 256.4h.01M1113.3 263.6h.01M1101.0 266.3h.01M1109.9 262.8h.01M1105.5 264.8h.01M1102.5 266.9h.01M1110.0 265.2h.01M1116.0 263.0h.01M1112.4 258.0h.01M1113.2 257.9h.01M1115.3 257.8h.01M1104.3 263.5h.01M1107.1 264.1h.01M1112.9 262.0h.01M1118.4 260.1h.01M1117.1 255.7h.01M1117.6 251.2h.01M1113.7 257.0h.01M1113.6 263.0h.01M1109.3 264.6h.01M1107.1 263.3h.01M1106.2 262.9h.01M1110.1 262.3h.01M1111.9 257.7h.01M1104.2 266.1h.01M1125.9 249.1h.01M1114.6 260.6h.01M1113.2 252.9h.01M1113.9 258.3h.01M1114.0 264.6h.01M1114.3 258.7h.01M1112.1 257.9h.01M1108.2 254.5h.01M1116.6 258.3h.01M1112.8 256.4h.01M1108.5 256.8h.01M1111.7 265.7h.01M1104.4 263.4h.01M1105.2 263.6h.01M1102.1 265.1h.01M1110.8 263.3h.01M1108.2 263.0h.01M1115.0 256.2h.01M1109.3 260.7h.01M1114.5 255.8h.01M1121.0 255.3h.01M1114.7 256.8h.01M1106.3 261.3h.01M1113.3 254.8h.01M1114.7 260.5h.01M1110.9 258.7h.01M1119.1 253.6h.01M1108.8 256.0h.01M1111.7 261.0h.01M1110.8 257.4h.01M1114.3 263.6h.01M1106.9 259.4h.01M1105.3 261.1h.01M1112.9 261.5h.01M1118.4 262.2h.01M1102.3 271.8h.01M1113.9 258.9h.01M1114.1 258.0h.01M1112.2 261.0h.01M1106.9 259.4h.01M1116.9 260.4h.01M1110.2 253.4h.01M1116.2 259.6h.01M1114.2 256.9h.01M1107.3 259.2h.01M1117.9 256.8h.01M1112.0 260.7h.01M1108.0 256.5h.01M1107.4 260.6h.01M1111.9 259.1h.01M1103.7 263.0h.01M1103.7 262.7h.01M1110.0 260.3h.01M1109.7 264.0h.01M1105.3 264.1h.01M1109.7 259.9h.01M1107.9 259.5h.01M1111.2 259.4h.01M1109.4 261.2h.01M1115.2 259.4h.01M1103.8 263.9h.01M1112.8 258.6h.01M1114.1 262.3h.01M1105.6 263.9h.01M1118.0 257.1h.01M1122.3 255.3h.01M1126.1 249.2h.01M1114.2 259.8h.01M1107.8 263.2h.01M1104.3 266.5h.01M1117.8 254.2h.01M1118.3 257.4h.01M1106.1 268.0h.01M1122.7 247.9h.01M1101.7 262.3h.01M1118.6 249.1h.01M1120.8 246.4h.01M1104.9 264.6h.01M1108.0 255.9h.01M1120.7 250.7h.01M1117.9 259.9h.01M1118.2 255.6h.01M1124.0 245.4h.01M1116.3 255.9h.01M1124.3 249.1h.01M1123.1 247.8h.01M1113.7 255.8h.01M1130.2 247.2h.01M1119.9 249.0h.01M1112.2 253.7h.01M1119.7 249.8h.01M1108.6 259.7h.01M1106.9 261.5h.01M1131.8 243.5h.01M1128.2 247.4h.01M1115.5 253.1h.01M1106.1 262.7h.01M1112.1 260.4h.01M1121.9 249.9h.01M1118.8 252.3h.01M1116.2 249.7h.01M1117.4 254.5h.01M1115.2 253.3h.01M1122.6 255.8h.01M1115.0 254.4h.01M1134.3 240.3h.01M1116.2 258.4h.01M1118.5 258.3h.01M1110.8 259.9h.01M1106.6 264.2h.01M1109.7 256.6h.01M1123.3 241.5h.01M1116.0 252.7h.01M1132.8 241.8h.01M1128.8 246.2h.01M1125.6 251.2h.01M1113.9 257.4h.01M1117.6 259.7h.01M1117.5 254.5h.01M1125.1 244.9h.01M1101.6 267.4h.01M1123.4 248.6h.01M1113.7 261.4h.01M1115.2 258.6h.01M1114.9 257.0h.01M1126.2 248.9h.01M1120.1 254.7h.01M1116.3 251.3h.01M1114.3 260.2h.01M1116.4 254.5h.01M1111.3 257.8h.01M1115.6 253.1h.01M1105.9 261.6h.01M1125.8 248.7h.01M1128.9 242.5h.01M1109.2 264.4h.01M1112.3 260.3h.01M1114.1 255.7h.01M1115.3 256.5h.01M1113.0 264.1h.01M1113.4 261.2h.01M1125.9 253.8h.01M1128.3 253.0h.01M1114.8 255.9h.01M1110.3 263.1h.01M1123.7 251.5h.01M1115.5 255.3h.01M1122.5 253.1h.01M1125.1 247.2h.01M1125.1 251.2h.01M1123.5 248.4h.01M1122.3 251.2h.01M1121.8 249.6h.01M1099.6 261.7h.01M1111.0 257.9h.01M1115.6 256.7h.01M1112.2 255.4h.01M1120.9 247.5h.01M1104.0 263.1h.01M1102.5 259.7h.01M1116.9 250.5h.01M1115.9 254.5h.01M1108.2 255.5h.01M1112.2 254.8h.01M1111.0 259.9h.01M1113.7 257.3h.01M1111.7 256.7h.01M1123.1 253.7h.01M1115.3 259.7h.01M1125.3 250.6h.01M1119.0 251.7h.01M1118.9 258.6h.01M1127.7 244.8h.01M1119.0 248.8h.01M1111.1 262.5h.01M1124.5 241.0h.01M1110.8 259.8h.01M1122.7 249.3h.01M1124.0 245.8h.01M1114.6 254.0h.01M1111.0 255.4h.01M1109.7 256.4h.01M1135.7 242.8h.01M1129.9 247.2h.01M1112.8 251.9h.01M1122.3 247.0h.01M1118.4 252.2h.01M1119.6 252.3h.01M1116.2 258.6h.01M1127.9 244.3h.01M1127.7 242.0h.01M1121.0 254.0h.01M1114.4 256.2h.01M1115.8 256.0h.01M1101.6 269.2h.01M1115.3 257.1h.01M1116.6 259.4h.01M1108.1 257.3h.01M1110.7 261.4h.01M1110.9 260.0h.01M1109.5 254.3h.01M1107.0 258.6h.01M1112.3 256.8h.01M1133.2 239.5h.01M1120.7 259.9h.01M1114.3 257.2h.01M1116.7 253.5h.01M1110.3 263.0h.01M1121.8 250.6h.01M1115.4 253.3h.01M1116.7 253.8h.01M1109.0 261.2h.01M1102.0 261.8h.01M1108.3 256.3h.01M1113.1 257.9h.01M1124.6 246.4h.01M1117.9 254.0h.01M1115.7 257.5h.01M1113.9 262.5h.01M1116.5 257.0h.01M1122.2 242.4h.01M1130.9 245.3h.01M1114.0 257.0h.01M1103.4 261.1h.01M1120.6 249.8h.01M1128.4 242.1h.01M1113.8 255.9h.01M1112.4 256.6h.01M1106.6 261.6h.01M1115.0 257.2h.01M1113.9 257.1h.01M1103.6 264.0h.01M1112.0 252.6h.01M1114.6 253.0h.01M1116.3 255.0h.01M1108.8 262.8h.01M1116.2 262.4h.01M1115.4 257.7h.01M1116.7 250.9h.01M1112.3 254.3h.01M1123.4 245.7h.01M1113.9 256.4h.01M1124.8 241.9h.01M1126.7 250.7h.01M1098.2 265.1h.01M1118.9 247.8h.01M1120.7 251.6h.01M1119.5 251.8h.01M1125.0 244.0h.01M1111.2 261.6h.01M1121.7 246.8h.01M1117.7 252.2h.01M1109.3 263.6h.01M1122.8 254.6h.01M1118.7 250.5h.01M1119.3 249.0h.01M1128.7 242.4h.01M1113.6 262.5h.01M1101.0 268.0h.01M1125.0 252.1h.01M1118.7 254.7h.01M1114.3 255.7h.01M1118.5 256.4h.01M1121.6 250.2h.01M1102.5 264.5h.01M1127.6 245.6h.01M1129.7 247.6h.01M1112.5 253.7h.01M1124.3 245.6h.01M1124.2 248.8h.01M1119.6 248.4h.01M1122.1 248.1h.01M1121.3 248.6h.01M1122.9 253.6h.01M1121.9 252.5h.01M1113.7 256.7h.01M1120.1 255.3h.01M1112.4 257.3h.01M1113.5 256.9h.01M1117.5 252.7h.01M1112.4 257.5h.01M1122.2 253.3h.01M1123.2 251.6h.01M1117.8 251.2h.01M1122.5 252.7h.01M1112.1 262.2h.01M1119.9 250.8h.01M1103.0 264.1h.01M1125.1 248.3h.01M1115.4 254.6h.01M1110.2 261.4h.01M1120.6 251.8h.01M1116.1 254.4h.01M1127.4 243.7h.01M1119.3 253.3h.01M1124.5 246.9h.01M1114.0 252.4h.01M1126.8 248.1h.01M1112.1 254.1h.01M1110.6 254.6h.01M1112.1 252.0h.01M1112.9 263.9h.01M1103.3 259.8h.01M1112.1 259.7h.01M1113.6 259.4h.01M1117.1 253.4h.01M1112.9 259.3h.01M1123.7 244.8h.01M1120.9 246.3h.01M1113.6 254.1h.01M1128.7 246.1h.01M1129.4 250.8h.01M1105.8 268.7h.01M1111.1 262.4h.01M1111.7 256.1h.01M1112.0 259.7h.01M1110.1 265.3h.01M1116.2 257.0h.01M1122.0 249.0h.01M1102.9 264.3h.01M1108.8 262.6h.01M1110.6 262.4h.01M1114.1 260.4h.01M1111.7 259.6h.01M1119.9 249.0h.01M1130.8 246.8h.01M1111.6 254.9h.01M1108.9 261.8h.01M1118.6 247.5h.01M1119.5 250.6h.01M1114.1 254.5h.01M1116.3 253.5h.01M1112.1 258.8h.01M1112.0 262.0h.01M1111.9 261.3h.01M1112.6 259.8h.01M1105.5 263.4h.01M1115.8 250.1h.01M1102.6 271.5h.01M1111.1 262.2h.01M1117.9 255.9h.01M1109.8 258.1h.01M1117.5 258.8h.01M1118.9 245.0h.01M1124.0 248.2h.01M1125.4 246.7h.01M1113.4 256.4h.01M1124.7 246.7h.01M1116.4 259.1h.01M1119.1 255.5h.01M1117.7 257.8h.01M1111.9 261.7h.01M1113.5 260.8h.01M1123.2 246.0h.01M1115.6 258.6h.01M1123.9 248.6h.01M1118.4 249.5h.01M1112.7 256.4h.01M1119.8 252.8h.01M1116.0 256.9h.01M1094.1 275.9h.01M1125.5 243.0h.01M1134.2 238.2h.01M1123.1 250.5h.01M1112.5 260.8h.01M1117.9 250.7h.01M1102.2 265.0h.01M1121.0 247.9h.01M1107.3 262.1h.01M1120.5 255.2h.01M1105.0 257.7h.01M1112.4 259.7h.01M1104.1 267.6h.01M1124.6 245.9h.01M1110.4 259.8h.01M1117.6 251.6h.01M1108.9 260.1h.01M1112.5 259.7h.01M1111.7 261.4h.01M1122.2 255.0h.01M1113.1 248.8h.01M1110.6 260.7h.01M1113.2 252.5h.01M1105.7 262.4h.01M1112.3 251.9h.01M1111.5 252.5h.01M1109.1 260.0h.01M1109.7 262.5h.01M1108.4 263.1h.01M1127.3 246.5h.01M1130.0 237.1h.01M1118.1 253.0h.01M1119.4 254.3h.01M1119.9 251.1h.01M1103.0 266.5h.01M1119.9 251.3h.01M1118.2 253.0h.01M1111.2 255.9h.01M1125.9 247.0h.01M1123.2 252.0h.01M1125.7 248.8h.01M1114.9 252.9h.01M1112.7 257.8h.01M1123.7 249.8h.01M1116.6 250.9h.01M1119.0 254.7h.01M1113.9 257.7h.01M1115.2 253.6h.01M1105.9 264.3h.01M1115.0 251.0h.01M1107.8 265.1h.01M1122.1 249.6h.01M1123.4 248.4h.01M1111.9 258.8h.01M1123.1 246.2h.01M1117.2 253.4h.01M1122.2 247.4h.01M1116.6 252.1h.01M1118.5 256.2h.01M1120.1 247.4h.01M1125.4 246.7h.01M1107.5 261.3h.01M1115.2 261.6h.01M1118.3 255.3h.01M1117.3 255.3h.01M1120.1 248.5h.01M1117.5 249.8h.01M1108.8 253.9h.01M1103.6 263.8h.01M1123.5 249.4h.01M1118.8 256.2h.01M1112.7 257.0h.01M1110.8 265.8h.01M1115.1 258.4h.01M1110.0 260.8h.01M1105.3 261.1h.01M1123.6 248.0h.01M1112.3 258.5h.01M1116.6 256.9h.01M1111.2 258.0h.01M1111.2 261.3h.01M1114.7 259.3h.01M1119.8 255.6h.01M1121.0 248.2h.01M1114.5 253.6h.01M1123.8 249.1h.01M1116.7 256.3h.01M1114.3 257.7h.01M1115.8 253.5h.01M1129.9 241.4h.01M1122.6 249.8h.01M1126.6 245.0h.01M1115.4 256.4h.01M1116.9 255.4h.01M1114.5 250.8h.01M1117.7 255.8h.01M1104.2 266.0h.01M1110.7 262.2h.01M1116.4 253.5h.01M1117.3 250.2h.01M1110.9 261.6h.01M1111.9 261.8h.01M1113.1 260.2h.01M1122.2 252.8h.01M1133.5 245.7h.01M1123.8 252.8h.01M1114.8 259.9h.01M1115.3 254.1h.01M1114.3 258.6h.01M1110.9 262.2h.01M1111.5 261.2h.01M1115.0 253.1h.01M1114.6 262.6h.01M1112.3 255.8h.01M1108.7 260.4h.01M1110.4 264.0h.01M1120.3 257.0h.01M1117.5 262.2h.01M1108.5 260.6h.01M1113.8 259.3h.01M1120.8 253.6h.01M1109.1 262.6h.01M1115.2 255.4h.01M1112.9 254.2h.01M1119.7 252.2h.01M1133.2 244.5h.01M1118.6 255.1h.01M1129.3 242.2h.01M1120.6 249.8h.01M1126.2 247.6h.01M1124.4 252.9h.01M1117.7 250.0h.01M1120.5 249.2h.01M1103.6 266.0h.01M1111.3 254.6h.01M1118.3 251.0h.01M1123.5 246.7h.01M1108.3 264.6h.01M1100.4 265.4h.01M1116.6 258.6h.01M1119.7 253.1h.01M1111.8 254.8h.01M1104.8 269.8h.01M1115.6 256.3h.01M1123.7 249.3h.01M1116.5 249.3h.01M1109.2 265.7h.01M1111.5 259.8h.01M1108.3 261.3h.01M1109.0 257.9h.01M1118.0 251.2h.01M1116.9 253.7h.01M1105.6 265.2h.01M1102.2 263.4h.01M1109.9 263.5h.01M1109.4 254.2h.01M1106.0 258.9h.01M1112.7 250.1h.01M1115.2 257.6h.01M1116.5 256.4h.01M1110.1 258.3h.01M1111.5 256.4h.01M1118.2 250.2h.01M1124.3 244.3h.01M1107.6 258.5h.01M1097.8 267.6h.01M1125.3 250.1h.01M1127.0 251.1h.01M1123.0 250.1h.01M1114.2 257.3h.01M1111.0 257.3h.01M1115.5 255.7h.01M1116.7 255.6h.01M1108.3 260.2h.01M1123.1 252.5h.01M1120.0 247.5h.01M1114.7 251.8h.01M1099.6 265.6h.01M1110.5 259.1h.01M1106.0 256.4h.01M1112.1 256.5h.01M1106.8 264.3h.01M1118.8 253.0h.01M1108.6 257.1h.01M1105.7 264.1h.01M1115.3 256.9h.01M1119.7 251.1h.01M1113.6 255.2h.01M1114.5 254.8h.01M1123.7 247.4h.01M1117.1 255.9h.01M1123.5 245.3h.01M1118.8 251.6h.01M1110.3 260.0h.01M1119.6 255.5h.01M1109.8 261.0h.01M1127.7 243.4h.01M1104.4 261.5h.01M1120.5 248.8h.01M1112.5 258.6h.01M1128.3 240.5h.01M1148.4 231.6h.01M1106.3 265.2h.01M1111.0 261.7h.01M1130.3 235.9h.01M1119.5 250.0h.01M1132.2 236.1h.01M1133.9 232.1h.01M1123.3 246.6h.01M1130.7 241.1h.01M1125.5 242.2h.01M1130.0 239.2h.01M1141.2 225.0h.01M1134.0 236.5h.01M1135.0 234.5h.01M1127.4 243.2h.01M1120.3 249.1h.01M1120.3 248.6h.01M1122.1 245.5h.01M1128.4 238.5h.01M1121.3 248.0h.01M1131.6 236.8h.01M1127.9 242.9h.01M1109.7 261.5h.01M1122.2 250.6h.01M1132.9 241.9h.01M1123.0 245.8h.01M1128.3 241.7h.01M1123.5 246.4h.01M1120.2 251.8h.01M1133.3 237.5h.01M1127.6 242.8h.01M1123.3 251.4h.01M1124.0 247.8h.01M1122.3 248.2h.01M1128.9 239.1h.01M1131.2 240.5h.01M1135.1 232.6h.01M1133.4 238.2h.01M1131.3 232.6h.01M1129.5 237.3h.01M1124.6 245.1h.01M1126.9 241.3h.01M1128.5 240.3h.01M1124.3 248.5h.01M1125.1 239.2h.01M1122.0 247.3h.01M1136.0 233.8h.01M1118.6 251.5h.01M1128.7 242.7h.01M1135.4 231.4h.01M1129.4 242.9h.01M1133.6 232.6h.01M1130.7 234.7h.01M1123.4 249.1h.01M1132.2 235.6h.01M1128.3 242.3h.01M1133.3 234.8h.01M1134.0 237.2h.01M1127.8 240.8h.01M1135.4 236.7h.01M1127.6 243.5h.01M1128.2 241.6h.01M1129.4 238.1h.01M1129.5 239.9h.01M1131.3 234.6h.01M1129.2 241.9h.01M1136.7 229.4h.01M1140.4 228.1h.01M1126.0 244.1h.01M1129.1 243.5h.01M1134.3 237.6h.01M1112.8 259.1h.01M1121.8 248.0h.01M1123.1 250.2h.01M1118.1 255.7h.01M1124.0 241.3h.01M1132.4 237.9h.01M1135.2 232.7h.01M1119.6 255.1h.01M1120.3 251.7h.01M1128.9 241.9h.01M1126.1 245.9h.01M1128.1 239.6h.01M1120.7 247.1h.01M1123.7 247.1h.01M1136.5 230.3h.01M1130.4 243.1h.01M1128.9 241.3h.01M1125.6 241.8h.01M1123.0 243.2h.01M1128.1 241.0h.01M1126.2 243.4h.01M1135.2 232.6h.01M1123.3 248.6h.01M1133.8 233.5h.01M1123.4 247.0h.01M1127.9 240.3h.01M1122.6 247.5h.01M1121.7 250.5h.01M1125.2 241.6h.01M1125.6 240.4h.01M1128.7 237.8h.01M1129.2 244.3h.01M1116.4 255.8h.01M1138.0 230.3h.01M1124.5 244.1h.01M1126.4 244.2h.01M1128.6 239.8h.01M1125.7 246.0h.01M1137.9 232.1h.01M1123.2 247.4h.01M1126.9 242.1h.01M1135.2 230.2h.01M1127.6 241.6h.01M1133.6 235.4h.01M1130.2 241.5h.01M1130.3 239.0h.01M1119.8 250.4h.01M1139.9 227.0h.01M1122.1 245.3h.01M1129.8 239.0h.01M1135.4 230.9h.01M1140.5 228.9h.01M1125.7 244.3h.01M1130.5 241.4h.01M1131.2 241.0h.01M1125.2 245.3h.01M1129.1 239.5h.01M1123.4 246.0h.01M1129.8 239.6h.01M1128.7 241.8h.01M1136.5 228.6h.01M1127.9 238.6h.01M1123.7 247.6h.01M1125.7 243.1h.01M1127.2 244.5h.01M1120.9 252.1h.01M1132.7 235.0h.01M1118.1 248.6h.01M1125.8 245.0h.01M1127.0 242.5h.01M1125.9 244.0h.01M1131.3 235.7h.01M1124.4 246.0h.01M1124.3 246.7h.01M1127.8 242.4h.01M1132.3 238.6h.01M1129.3 238.3h.01M1126.6 243.8h.01M1131.8 238.0h.01M1125.9 243.4h.01M1113.5 256.6h.01M1128.7 239.4h.01M1120.8 250.7h.01M1129.8 238.1h.01M1125.2 245.7h.01M1136.2 231.5h.01M1136.4 234.9h.01M1131.0 239.3h.01M1123.8 243.5h.01M1123.2 249.1h.01M1124.4 246.2h.01M1127.7 240.9h.01M1134.4 233.1h.01M1136.6 229.2h.01M1131.2 238.2h.01M1136.0 233.0h.01M1133.4 235.2h.01M1124.2 244.4h.01M1131.5 236.8h.01M1133.9 234.4h.01M1123.9 246.0h.01M1139.4 230.6h.01M1118.0 253.0h.01M1120.9 246.7h.01M1129.9 241.4h.01M1128.7 242.8h.01M1129.7 237.5h.01M1133.5 232.8h.01M1126.6 240.4h.01M1132.1 239.6h.01M1136.5 233.7h.01M1126.5 246.7h.01M1125.8 248.8h.01M1122.1 250.1h.01M1121.9 249.4h.01M1132.7 236.7h.01M1129.2 237.6h.01M1123.0 243.9h.01M1127.8 241.8h.01M1128.5 237.9h.01M1120.3 248.3h.01M1125.2 244.5h.01M1125.3 250.4h.01M1133.6 233.3h.01M1123.2 249.1h.01M1121.4 249.2h.01M1139.4 228.7h.01M1117.8 251.6h.01M1124.8 248.8h.01M1130.2 239.0h.01M1128.2 239.7h.01M1135.6 237.4h.01M1127.7 239.3h.01M1136.0 234.6h.01M1119.2 254.2h.01M1130.4 239.2h.01M1132.7 236.5h.01M1122.2 250.7h.01M1125.8 242.2h.01M1137.3 233.1h.01M1130.5 238.7h.01M1122.9 250.0h.01M1137.1 232.0h.01M1127.0 241.6h.01M1129.2 238.5h.01M1124.0 247.0h.01M1129.0 239.5h.01M1125.9 247.8h.01M1131.8 235.2h.01M1133.4 235.6h.01M1118.5 253.3h.01M1138.9 228.3h.01M1131.2 241.5h.01M1123.3 244.7h.01M1130.0 239.5h.01M1134.1 232.8h.01M1131.2 238.2h.01M1129.2 237.8h.01M1131.2 240.7h.01M1127.3 242.9h.01M1128.9 237.6h.01M1128.1 242.4h.01M1131.6 236.3h.01M1123.2 246.0h.01M1128.7 240.0h.01M1121.8 253.1h.01M1121.6 252.7h.01M1132.3 234.3h.01M1119.2 248.3h.01M1122.6 249.5h.01M1141.4 229.0h.01M1131.0 236.2h.01M1133.4 233.8h.01M1127.7 238.4h.01M1127.5 241.9h.01M1130.6 239.3h.01M1125.9 241.2h.01M1136.3 230.6h.01M1128.0 242.7h.01M1126.3 244.3h.01M1125.7 244.4h.01M1125.6 241.8h.01M1120.6 250.9h.01M1133.0 236.7h.01M1125.1 243.5h.01M1128.7 242.9h.01M1128.1 239.9h.01M1117.7 251.3h.01M1117.8 251.7h.01M1120.5 249.6h.01M1126.6 240.7h.01M1128.1 242.3h.01M1123.7 246.0h.01M1125.7 242.1h.01M1128.9 237.6h.01M1131.8 236.7h.01M1127.0 241.2h.01M1133.8 237.8h.01M1130.7 239.2h.01M1128.9 238.6h.01M1117.6 253.7h.01M1135.5 236.7h.01M1129.3 240.0h.01M1123.9 244.1h.01M1133.1 235.5h.01M1134.2 231.0h.01M1128.2 239.3h.01M1131.0 234.1h.01M1131.8 235.6h.01M1127.9 239.9h.01M1136.9 231.4h.01M1128.6 242.9h.01M1142.7 225.4h.01M1126.0 245.1h.01M1134.2 233.5h.01M1116.7 254.1h.01M1138.3 229.7h.01M1125.5 237.7h.01M1127.0 243.0h.01M1128.9 234.9h.01M1132.4 240.1h.01M1127.6 242.4h.01M1132.7 236.8h.01M1130.3 241.6h.01M1121.1 249.2h.01M1138.3 231.8h.01M1118.0 250.2h.01M1129.4 238.0h.01M1126.9 242.1h.01M1127.7 241.8h.01M1138.5 230.2h.01M1126.0 243.7h.01M1125.3 240.7h.01M1126.8 241.9h.01M1120.8 248.5h.01M1131.0 236.4h.01M1120.0 252.0h.01M1111.7 256.3h.01M1125.8 240.2h.01M1137.7 227.9h.01M1124.9 245.5h.01M1134.7 238.1h.01M1134.2 230.9h.01M1133.3 235.9h.01M1132.0 240.4h.01M1123.4 247.7h.01M1122.1 244.4h.01M1133.4 240.7h.01M1134.0 233.4h.01M1127.7 243.4h.01M1139.4 227.8h.01M1131.5 241.1h.01M1124.0 244.0h.01M1129.4 240.8h.01M1128.3 244.7h.01M1113.9 256.4h.01M1121.9 252.0h.01M1128.9 238.3h.01M1125.0 242.4h.01M1131.9 244.0h.01M1138.4 231.9h.01M1137.2 231.4h.01M1135.1 233.4h.01M1125.8 237.8h.01M1140.9 215.6h.01M1129.0 234.6h.01M1139.1 222.2h.01M1119.5 236.3h.01M1131.9 239.4h.01M1134.3 230.0h.01M1134.6 239.3h.01M1126.3 241.0h.01M1118.6 243.1h.01M1137.6 226.1h.01M1138.1 232.3h.01M1127.8 233.6h.01M1125.9 231.5h.01M1138.5 222.1h.01M1135.4 235.9h.01M1136.1 235.3h.01M1132.8 235.4h.01M1127.0 233.0h.01M1130.7 240.4h.01M1140.9 222.0h.01M1139.2 229.5h.01M1132.2 225.8h.01M1132.9 230.4h.01M1140.1 220.8h.01M1145.7 225.3h.01M1126.3 248.0h.01M1138.9 230.1h.01M1115.6 242.4h.01M1144.2 223.0h.01M1132.0 238.5h.01M1137.4 225.0h.01M1130.8 227.1h.01M1132.5 241.0h.01M1134.3 231.8h.01M1133.5 229.9h.01M1119.3 239.4h.01M1121.6 244.5h.01M1133.8 226.9h.01M1098.0 275.6h.01M1098.4 278.4h.01M1095.2 276.0h.01M1083.3 278.1h.01M1091.7 276.2h.01M1098.8 269.5h.01M1097.0 278.7h.01M1095.0 279.3h.01M1092.3 273.9h.01M1091.3 271.0h.01M1095.5 272.7h.01M1086.7 287.7h.01M1100.0 276.7h.01M1096.8 276.5h.01M1094.5 275.8h.01M1094.4 276.1h.01M1095.1 272.8h.01M1090.5 275.7h.01M1094.1 273.9h.01M1095.2 264.4h.01M1101.9 266.4h.01M1094.8 272.2h.01M1095.7 274.7h.01M1094.1 269.1h.01M1102.8 266.9h.01M1098.5 274.5h.01M1101.0 280.7h.01M1105.6 269.4h.01M1100.4 278.0h.01M1097.0 278.3h.01M1092.0 285.5h.01M1094.7 276.0h.01M1087.6 281.5h.01M1097.3 278.4h.01M1101.3 270.1h.01M1091.3 270.9h.01M1095.5 274.8h.01M1099.0 271.8h.01M1095.6 274.9h.01M1091.8 274.9h.01M1091.7 270.9h.01M1100.2 276.1h.01M1096.9 273.8h.01M1091.5 274.0h.01M1100.8 276.4h.01M1101.1 266.9h.01M1091.3 282.2h.01M1099.6 275.1h.01M1097.7 282.0h.01M1097.3 274.8h.01M1098.6 268.1h.01M1097.4 275.1h.01M1101.7 273.6h.01M1094.4 272.8h.01M1096.2 280.5h.01M1093.1 266.5h.01M1090.9 269.6h.01M1096.9 273.4h.01M1097.3 279.0h.01M1099.3 272.3h.01M1092.1 276.8h.01M1098.5 274.4h.01M1096.0 274.4h.01M1095.8 274.6h.01M1100.8 281.5h.01M1089.9 275.0h.01M1093.6 275.9h.01M1099.6 274.4h.01M1096.0 275.2h.01M1094.3 272.2h.01M1039.3 178.1h.01M1038.2 170.2h.01M1019.9 184.2h.01M1044.2 176.6h.01M1046.6 181.9h.01M1052.5 182.4h.01M1034.8 168.5h.01M1029.0 183.5h.01M1038.5 190.8h.01M1027.1 182.8h.01M1052.7 177.7h.01M1032.2 174.6h.01M1010.9 171.3h.01M1018.9 184.7h.01M1044.7 167.9h.01M1021.4 181.9h.01M1030.6 196.7h.01M1033.2 188.7h.01M1048.8 187.1h.01M1026.5 169.4h.01M1026.5 185.7h.01M1044.2 179.8h.01M1021.8 191.7h.01M1038.6 187.8h.01M1004.3 200.1h.01M1037.3 200.1h.01M1023.5 194.7h.01M1024.6 191.9h.01M1018.4 193.1h.01M1003.2 203.9h.01M1142.1 180.2h.01M1139.8 162.1h.01M1139.1 183.4h.01M1138.1 182.6h.01M1149.5 186.5h.01M1149.7 164.4h.01M1135.9 167.4h.01M1131.7 185.4h.01M1157.8 164.8h.01M1144.9 186.4h.01M1145.6 159.5h.01M1140.7 167.2h.01M1143.4 182.5h.01M1156.8 174.2h.01M1146.6 173.6h.01M1138.1 180.5h.01M1141.2 188.7h.01M1141.0 197.7h.01M1136.8 179.8h.01M1153.8 182.4h.01M1127.8 164.1h.01M1142.7 172.3h.01M1134.9 194.4h.01M1162.3 174.8h.01M1144.4 186.5h.01M1140.0 172.8h.01M1129.0 184.7h.01M1134.4 200.8h.01M1155.7 178.9h.01M1143.3 185.0h.01M1128.0 188.1h.01M1106.1 158.0h.01M1097.2 196.8h.01M1103.8 197.0h.01M1098.4 199.8h.01M1083.7 212.0h.01M1116.3 188.4h.01M1077.7 180.0h.01M1098.2 190.6h.01M1088.0 190.0h.01M1096.6 192.4h.01M1093.6 178.0h.01M1091.1 172.0h.01M1118.5 192.1h.01M1090.1 205.8h.01M1085.0 181.9h.01M1060.6 292.7h.01M1075.4 303.1h.01M1066.5 284.9h.01M1071.1 283.0h.01M1067.1 269.1h.01M1054.9 283.6h.01M1055.4 299.1h.01M1050.2 296.6h.01M1053.9 304.8h.01M1067.6 299.9h.01M1073.8 288.9h.01M1060.6 290.6h.01M1069.9 272.9h.01M1062.3 292.9h.01M1072.4 280.3h.01M1048.8 293.5h.01M1069.1 281.3h.01M1053.7 273.5h.01M1051.2 284.1h.01M1069.9 259.4h.01M1045.2 291.0h.01M1049.4 265.3h.01M1070.5 267.4h.01M1072.1 271.9h.01M1036.7 276.0h.01M1037.6 293.4h.01M1069.5 278.1h.01M1073.4 278.0h.01M1069.6 277.4h.01M1047.5 283.8h.01M1051.5 285.3h.01M1048.2 292.4h.01M1044.9 226.2h.01M1028.4 239.8h.01M1039.3 243.8h.01M1045.5 216.4h.01M1046.3 230.4h.01M1031.1 230.9h.01M1044.8 219.6h.01M1035.9 225.5h.01M1035.9 237.7h.01M1035.2 233.2h.01M1024.4 238.4h.01M1054.4 250.0h.01M1174.0 121.0h.01M1059.0 150.0h.01M1025.0 307.0h.01" stroke="#000" stroke-width="1.2" stroke-linecap="square" fill="none"/>
<text transform="translate(851.60 203.60) scale(1 1.035)" font-size="36">PI</text>
<text transform="translate(997.00 382.60) scale(1 1.022)" font-size="35">DiOC<tspan font-size="30" dy="15.8">6</tspan><tspan font-size="29" dy="-15.6">(3)</tspan></text>
<line x1="1402.95" y1="285.80" x2="1402.95" y2="284.80" stroke="#000" stroke-width="3"/>
<line x1="1381.95" y1="284.80" x2="1423.95" y2="284.80" stroke="#000" stroke-width="3"/>
<rect x="1372.00" y="287.30" width="58.50" height="25.00" fill="#fff" stroke="#000" stroke-width="3"/>
<rect x="1370.50" y="298.40" width="61.50" height="13.90" fill="#000"/>
<line x1="1381.95" y1="301.50" x2="1423.95" y2="301.50" stroke="#fff" stroke-width="3"/>
<line x1="1484.05" y1="267.40" x2="1484.05" y2="266.50" stroke="#000" stroke-width="3"/>
<line x1="1463.05" y1="266.50" x2="1505.05" y2="266.50" stroke="#000" stroke-width="3"/>
<rect x="1453.30" y="268.90" width="58.10" height="43.40" fill="#fff" stroke="#000" stroke-width="3"/>
<rect x="1451.80" y="290.50" width="61.10" height="21.80" fill="#000"/>
<line x1="1463.05" y1="295.00" x2="1505.05" y2="295.00" stroke="#fff" stroke-width="3"/>
<line x1="1484.05" y1="292.00" x2="1484.05" y2="295.00" stroke="#fff" stroke-width="2.6"/>
<line x1="1565.50" y1="254.60" x2="1565.50" y2="253.50" stroke="#000" stroke-width="3"/>
<line x1="1544.50" y1="253.50" x2="1586.50" y2="253.50" stroke="#000" stroke-width="3"/>
<rect x="1534.50" y="256.10" width="58.60" height="56.20" fill="#fff" stroke="#000" stroke-width="3"/>
<rect x="1533.00" y="282.70" width="61.60" height="29.60" fill="#000"/>
<line x1="1544.50" y1="291.00" x2="1586.50" y2="291.00" stroke="#fff" stroke-width="3"/>
<line x1="1565.50" y1="285.00" x2="1565.50" y2="291.00" stroke="#fff" stroke-width="2.6"/>
<line x1="1348.20" y1="60.90" x2="1348.20" y2="313.80" stroke="#000" stroke-width="3.2"/>
<line x1="1339.00" y1="312.30" x2="1607.70" y2="312.30" stroke="#000" stroke-width="3.2"/>
<line x1="1339.00" y1="312.30" x2="1348.20" y2="312.30" stroke="#000" stroke-width="3"/>
<line x1="1339.00" y1="270.65" x2="1348.20" y2="270.65" stroke="#000" stroke-width="3"/>
<line x1="1339.00" y1="229.00" x2="1348.20" y2="229.00" stroke="#000" stroke-width="3"/>
<line x1="1339.00" y1="187.35" x2="1348.20" y2="187.35" stroke="#000" stroke-width="3"/>
<line x1="1339.00" y1="145.70" x2="1348.20" y2="145.70" stroke="#000" stroke-width="3"/>
<line x1="1339.00" y1="104.05" x2="1348.20" y2="104.05" stroke="#000" stroke-width="3"/>
<line x1="1339.00" y1="62.40" x2="1348.20" y2="62.40" stroke="#000" stroke-width="3"/>
<text transform="translate(1333.00 325.10) scale(1 1.035)" font-size="36" text-anchor="end">0</text>
<text transform="translate(1333.00 283.45) scale(1 1.035)" font-size="36" text-anchor="end">10</text>
<text transform="translate(1333.00 241.80) scale(1 1.035)" font-size="36" text-anchor="end">20</text>
<text transform="translate(1333.00 200.15) scale(1 1.035)" font-size="36" text-anchor="end">30</text>
<text transform="translate(1333.00 158.50) scale(1 1.035)" font-size="36" text-anchor="end">40</text>
<text transform="translate(1333.00 116.85) scale(1 1.035)" font-size="36" text-anchor="end">50</text>
<text transform="translate(1333.00 75.20) scale(1 1.035)" font-size="36" text-anchor="end">60</text>
<text transform="translate(1479.90 256.40) scale(1 1.022)" font-size="23" text-anchor="middle">n.s</text>
<text transform="translate(1563.70 243.30) scale(1 1.022)" font-size="23" text-anchor="middle">n.s</text>
<text transform="translate(1401.40 352.60) scale(1 1.022)" font-size="36" text-anchor="middle">Ctr</text>
<text transform="translate(1482.30 352.60) scale(1 1.035)" font-size="36" text-anchor="middle">SP</text>
<text transform="translate(1563.60 352.60) scale(1 1.022)" font-size="36" text-anchor="middle">Rev</text>
<text transform="translate(1266.30 187.60) rotate(-90) scale(1 1.022)" font-size="35.5" text-anchor="middle">% Cells</text>
<rect x="1370.50" y="62.50" width="25.50" height="24.50" fill="#fff" stroke="#000" stroke-width="3"/>
<rect x="1369.00" y="99.00" width="28.50" height="27.50" fill="#000"/>
<text transform="translate(1404.60 83.40) scale(1 1.022)" font-size="26.6">PI<tspan font-size="15" dy="-8.5">-</tspan><tspan font-size="26.6" dy="8.5">DiOC</tspan><tspan font-size="16" dy="9.2">6</tspan><tspan font-size="18" dy="-9.2">(3)</tspan><tspan font-size="15.5" dy="-8.8">low</tspan></text>
<text transform="translate(1404.60 121.80) scale(1 1.035)" font-size="26.6">PI<tspan font-size="15" dy="-7.5">+</tspan></text>
<line x1="164.60" y1="721.00" x2="164.60" y2="711.40" stroke="#000" stroke-width="3"/>
<line x1="143.60" y1="711.40" x2="185.60" y2="711.40" stroke="#000" stroke-width="3"/>
<rect x="135.70" y="722.50" width="57.80" height="25.00" fill="#898987" stroke="#000" stroke-width="3"/>
<line x1="246.00" y1="659.30" x2="246.00" y2="652.80" stroke="#000" stroke-width="3"/>
<line x1="225.00" y1="652.80" x2="267.00" y2="652.80" stroke="#000" stroke-width="3"/>
<rect x="216.70" y="660.80" width="58.60" height="86.70" fill="#898987" stroke="#000" stroke-width="3"/>
<line x1="327.35" y1="659.30" x2="327.35" y2="641.70" stroke="#000" stroke-width="3"/>
<line x1="306.35" y1="641.70" x2="348.35" y2="641.70" stroke="#000" stroke-width="3"/>
<rect x="298.00" y="660.80" width="58.70" height="86.70" fill="#898987" stroke="#000" stroke-width="3"/>
<line x1="111.60" y1="495.92" x2="111.60" y2="749.00" stroke="#000" stroke-width="3.2"/>
<line x1="102.40" y1="747.50" x2="370.30" y2="747.50" stroke="#000" stroke-width="3.2"/>
<line x1="102.40" y1="747.50" x2="111.60" y2="747.50" stroke="#000" stroke-width="3"/>
<line x1="102.40" y1="705.82" x2="111.60" y2="705.82" stroke="#000" stroke-width="3"/>
<line x1="102.40" y1="664.14" x2="111.60" y2="664.14" stroke="#000" stroke-width="3"/>
<line x1="102.40" y1="622.46" x2="111.60" y2="622.46" stroke="#000" stroke-width="3"/>
<line x1="102.40" y1="580.78" x2="111.60" y2="580.78" stroke="#000" stroke-width="3"/>
<line x1="102.40" y1="539.10" x2="111.60" y2="539.10" stroke="#000" stroke-width="3"/>
<line x1="102.40" y1="497.42" x2="111.60" y2="497.42" stroke="#000" stroke-width="3"/>
<text transform="translate(96.40 760.30) scale(1 1.035)" font-size="36" text-anchor="end">0</text>
<text transform="translate(96.40 635.26) scale(1 1.035)" font-size="36" text-anchor="end">10</text>
<text transform="translate(96.40 510.22) scale(1 1.035)" font-size="36" text-anchor="end">20</text>
<text transform="translate(246.80 642.80) scale(1 1.022)" font-size="23" text-anchor="middle">n.s</text>
<text transform="translate(328.40 633.50) scale(1 1.022)" font-size="23" text-anchor="middle">n.s</text>
<text transform="translate(165.00 789.90) scale(1 1.022)" font-size="36" text-anchor="middle">Ctr</text>
<text transform="translate(246.00 789.90) scale(1 1.035)" font-size="36" text-anchor="middle">SP</text>
<text transform="translate(326.50 789.90) scale(1 1.022)" font-size="36" text-anchor="middle">Rev</text>
<text transform="translate(30.20 622.50) rotate(-90) scale(1 1.022)" font-size="35.5" text-anchor="middle">% Cells</text>
<rect x="134.10" y="496.90" width="25.20" height="24.70" fill="#898987" stroke="#000" stroke-width="3"/>
<text transform="translate(168.00 518.90) scale(1 1.022)" font-size="26">subG1</text>
<line x1="555.60" y1="724.70" x2="555.60" y2="724.60" stroke="#000" stroke-width="3"/>
<line x1="534.60" y1="724.60" x2="576.60" y2="724.60" stroke="#000" stroke-width="3"/>
<rect x="526.70" y="726.20" width="57.80" height="21.55" fill="#fff" stroke="#000" stroke-width="3"/>
<rect x="525.20" y="738.50" width="60.80" height="9.25" fill="#000"/>
<line x1="534.60" y1="741.40" x2="576.60" y2="741.40" stroke="#fff" stroke-width="3"/>
<line x1="636.50" y1="728.60" x2="636.50" y2="728.90" stroke="#000" stroke-width="3"/>
<line x1="615.50" y1="728.90" x2="657.50" y2="728.90" stroke="#000" stroke-width="3"/>
<rect x="607.40" y="730.10" width="58.20" height="17.65" fill="#fff" stroke="#000" stroke-width="3"/>
<rect x="605.90" y="737.60" width="61.20" height="10.15" fill="#000"/>
<line x1="615.50" y1="739.60" x2="657.50" y2="739.60" stroke="#fff" stroke-width="3"/>
<line x1="717.95" y1="717.10" x2="717.95" y2="717.40" stroke="#000" stroke-width="3"/>
<line x1="696.95" y1="717.40" x2="738.95" y2="717.40" stroke="#000" stroke-width="3"/>
<rect x="688.80" y="718.60" width="58.30" height="29.15" fill="#fff" stroke="#000" stroke-width="3"/>
<rect x="687.30" y="726.00" width="61.30" height="21.75" fill="#000"/>
<line x1="696.95" y1="728.10" x2="738.95" y2="728.10" stroke="#fff" stroke-width="3"/>
<line x1="807.10" y1="709.60" x2="807.10" y2="709.80" stroke="#000" stroke-width="3"/>
<line x1="786.10" y1="709.80" x2="828.10" y2="709.80" stroke="#000" stroke-width="3"/>
<rect x="778.10" y="711.10" width="58.00" height="36.65" fill="#fff" stroke="#000" stroke-width="3"/>
<rect x="776.60" y="718.70" width="61.00" height="29.05" fill="#000"/>
<line x1="786.10" y1="722.60" x2="828.10" y2="722.60" stroke="#fff" stroke-width="3"/>
<line x1="807.10" y1="719.50" x2="807.10" y2="722.60" stroke="#fff" stroke-width="2.6"/>
<line x1="888.50" y1="670.70" x2="888.50" y2="670.40" stroke="#000" stroke-width="3"/>
<line x1="867.50" y1="670.40" x2="909.50" y2="670.40" stroke="#000" stroke-width="3"/>
<rect x="859.50" y="672.20" width="58.00" height="75.55" fill="#fff" stroke="#000" stroke-width="3"/>
<rect x="858.00" y="684.70" width="61.00" height="63.05" fill="#000"/>
<line x1="867.50" y1="688.70" x2="909.50" y2="688.70" stroke="#fff" stroke-width="3"/>
<line x1="888.50" y1="685.80" x2="888.50" y2="688.70" stroke="#fff" stroke-width="2.6"/>
<line x1="969.90" y1="668.60" x2="969.90" y2="669.00" stroke="#000" stroke-width="3"/>
<line x1="948.90" y1="669.00" x2="990.90" y2="669.00" stroke="#000" stroke-width="3"/>
<rect x="940.90" y="670.10" width="58.00" height="77.65" fill="#fff" stroke="#000" stroke-width="3"/>
<rect x="939.40" y="682.00" width="61.00" height="65.75" fill="#000"/>
<line x1="948.90" y1="686.00" x2="990.90" y2="686.00" stroke="#fff" stroke-width="3"/>
<line x1="969.90" y1="683.00" x2="969.90" y2="686.00" stroke="#fff" stroke-width="2.6"/>
<line x1="502.30" y1="496.05" x2="502.30" y2="749.25" stroke="#000" stroke-width="3.2"/>
<line x1="493.10" y1="747.75" x2="1012.50" y2="747.75" stroke="#000" stroke-width="3.2"/>
<line x1="493.10" y1="747.75" x2="502.30" y2="747.75" stroke="#000" stroke-width="3"/>
<line x1="493.10" y1="706.05" x2="502.30" y2="706.05" stroke="#000" stroke-width="3"/>
<line x1="493.10" y1="664.35" x2="502.30" y2="664.35" stroke="#000" stroke-width="3"/>
<line x1="493.10" y1="622.65" x2="502.30" y2="622.65" stroke="#000" stroke-width="3"/>
<line x1="493.10" y1="580.95" x2="502.30" y2="580.95" stroke="#000" stroke-width="3"/>
<line x1="493.10" y1="539.25" x2="502.30" y2="539.25" stroke="#000" stroke-width="3"/>
<line x1="493.10" y1="497.55" x2="502.30" y2="497.55" stroke="#000" stroke-width="3"/>
<text transform="translate(487.10 760.55) scale(1 1.035)" font-size="36" text-anchor="end">0</text>
<text transform="translate(487.10 718.85) scale(1 1.035)" font-size="36" text-anchor="end">10</text>
<text transform="translate(487.10 677.15) scale(1 1.035)" font-size="36" text-anchor="end">20</text>
<text transform="translate(487.10 635.45) scale(1 1.035)" font-size="36" text-anchor="end">30</text>
<text transform="translate(487.10 593.75) scale(1 1.035)" font-size="36" text-anchor="end">40</text>
<text transform="translate(487.10 552.05) scale(1 1.035)" font-size="36" text-anchor="end">50</text>
<text transform="translate(487.10 510.35) scale(1 1.035)" font-size="36" text-anchor="end">60</text>
<text transform="translate(637.60 719.80) scale(1 1.022)" font-size="23" text-anchor="middle">n.s</text>
<text transform="translate(718.80 707.00) scale(1 1.022)" font-size="23" text-anchor="middle">n.s</text>
<text transform="translate(888.30 673.00) scale(1 1.035)" font-size="40" text-anchor="middle">*</text>
<text transform="translate(969.40 673.00) scale(1 1.035)" font-size="40" text-anchor="middle">*</text>
<text transform="translate(555.30 789.90) scale(1 1.022)" font-size="36" text-anchor="middle">Ctr</text>
<text transform="translate(636.30 789.90) scale(1 1.035)" font-size="36" text-anchor="middle">SP</text>
<text transform="translate(716.50 789.90) scale(1 1.022)" font-size="36" text-anchor="middle">Rev</text>
<text transform="translate(806.80 789.90) scale(1 1.022)" font-size="36" text-anchor="middle">Ctr</text>
<text transform="translate(888.30 789.90) scale(1 1.035)" font-size="36" text-anchor="middle">SP</text>
<text transform="translate(968.40 789.90) scale(1 1.022)" font-size="36" text-anchor="middle">Rev</text>
<text transform="translate(421.10 622.50) rotate(-90) scale(1 1.022)" font-size="35.5" text-anchor="middle">% Cells</text>
<line x1="525.50" y1="803.50" x2="748.30" y2="803.50" stroke="#000" stroke-width="3"/>
<line x1="776.60" y1="803.50" x2="1000.40" y2="803.50" stroke="#000" stroke-width="3"/>
<text transform="translate(632.20 834.50) scale(1 1.022)" font-size="29.6" text-anchor="middle">Normal fibroblast</text>
<text transform="translate(636.50 870.00) scale(1 1.022)" font-size="29.6" text-anchor="middle">lung cells</text>
<text transform="translate(636.90 904.00) scale(1 1.035)" font-size="29.6" text-anchor="middle">(IMR90)</text>
<text transform="translate(889.20 834.50) scale(1 1.022)" font-size="29.6" text-anchor="middle">Normal epithelial</text>
<text transform="translate(884.30 870.00) scale(1 1.022)" font-size="29.6" text-anchor="middle">colon cells</text>
<text transform="translate(888.50 904.00) scale(1 1.035)" font-size="29.6" text-anchor="middle">(NCM460)</text>
<rect x="525.00" y="497.50" width="24.50" height="24.50" fill="#fff" stroke="#000" stroke-width="3"/>
<rect x="523.50" y="534.00" width="27.50" height="27.30" fill="#000"/>
<text transform="translate(558.80 518.60) scale(1 1.022)" font-size="26.6">PI<tspan font-size="15" dy="-8.5">-</tspan><tspan font-size="26.6" dy="8.5">DiOC</tspan><tspan font-size="16" dy="9.2">6</tspan><tspan font-size="18" dy="-9.2">(3)</tspan><tspan font-size="15.5" dy="-8.8">low</tspan></text>
<text transform="translate(558.80 556.70) scale(1 1.035)" font-size="26.6">PI<tspan font-size="15" dy="-7.5">+</tspan></text>
<line x1="1190.65" y1="733.30" x2="1190.65" y2="730.40" stroke="#000" stroke-width="3"/>
<line x1="1169.65" y1="730.40" x2="1211.65" y2="730.40" stroke="#000" stroke-width="3"/>
<rect x="1162.00" y="734.80" width="57.30" height="12.95" fill="#898987" stroke="#000" stroke-width="3"/>
<line x1="1271.80" y1="727.90" x2="1271.80" y2="725.00" stroke="#000" stroke-width="3"/>
<line x1="1250.80" y1="725.00" x2="1292.80" y2="725.00" stroke="#000" stroke-width="3"/>
<rect x="1243.10" y="729.40" width="57.40" height="18.35" fill="#898987" stroke="#000" stroke-width="3"/>
<line x1="1353.20" y1="703.10" x2="1353.20" y2="694.20" stroke="#000" stroke-width="3"/>
<line x1="1332.20" y1="694.20" x2="1374.20" y2="694.20" stroke="#000" stroke-width="3"/>
<rect x="1324.50" y="704.60" width="57.40" height="43.15" fill="#898987" stroke="#000" stroke-width="3"/>
<line x1="1442.45" y1="705.80" x2="1442.45" y2="699.60" stroke="#000" stroke-width="3"/>
<line x1="1421.45" y1="699.60" x2="1463.45" y2="699.60" stroke="#000" stroke-width="3"/>
<rect x="1413.80" y="707.30" width="57.30" height="40.45" fill="#898987" stroke="#000" stroke-width="3"/>
<line x1="1523.40" y1="685.20" x2="1523.40" y2="681.40" stroke="#000" stroke-width="3"/>
<line x1="1502.40" y1="681.40" x2="1544.40" y2="681.40" stroke="#000" stroke-width="3"/>
<rect x="1494.40" y="686.70" width="58.00" height="61.05" fill="#898987" stroke="#000" stroke-width="3"/>
<line x1="1605.00" y1="694.80" x2="1605.00" y2="693.00" stroke="#000" stroke-width="3"/>
<line x1="1584.00" y1="693.00" x2="1626.00" y2="693.00" stroke="#000" stroke-width="3"/>
<rect x="1575.80" y="696.30" width="58.40" height="51.45" fill="#898987" stroke="#000" stroke-width="3"/>
<line x1="1137.40" y1="496.05" x2="1137.40" y2="749.25" stroke="#000" stroke-width="3.2"/>
<line x1="1128.20" y1="747.75" x2="1648.00" y2="747.75" stroke="#000" stroke-width="3.2"/>
<line x1="1128.20" y1="747.75" x2="1137.40" y2="747.75" stroke="#000" stroke-width="3"/>
<line x1="1128.20" y1="706.05" x2="1137.40" y2="706.05" stroke="#000" stroke-width="3"/>
<line x1="1128.20" y1="664.35" x2="1137.40" y2="664.35" stroke="#000" stroke-width="3"/>
<line x1="1128.20" y1="622.65" x2="1137.40" y2="622.65" stroke="#000" stroke-width="3"/>
<line x1="1128.20" y1="580.95" x2="1137.40" y2="580.95" stroke="#000" stroke-width="3"/>
<line x1="1128.20" y1="539.25" x2="1137.40" y2="539.25" stroke="#000" stroke-width="3"/>
<line x1="1128.20" y1="497.55" x2="1137.40" y2="497.55" stroke="#000" stroke-width="3"/>
<text transform="translate(1122.20 760.55) scale(1 1.035)" font-size="36" text-anchor="end">0</text>
<text transform="translate(1122.20 635.45) scale(1 1.035)" font-size="36" text-anchor="end">10</text>
<text transform="translate(1122.20 510.35) scale(1 1.035)" font-size="36" text-anchor="end">20</text>
<text transform="translate(1271.20 715.10) scale(1 1.022)" font-size="23" text-anchor="middle">n.s</text>
<text transform="translate(1352.70 686.80) scale(1 1.022)" font-size="23" text-anchor="middle">n.s</text>
<text transform="translate(1521.60 672.50) scale(1 1.022)" font-size="23" text-anchor="middle">n.s</text>
<text transform="translate(1603.10 684.90) scale(1 1.022)" font-size="23" text-anchor="middle">n.s</text>
<text transform="translate(1190.30 789.90) scale(1 1.022)" font-size="36" text-anchor="middle">Ctr</text>
<text transform="translate(1271.60 789.90) scale(1 1.035)" font-size="36" text-anchor="middle">SP</text>
<text transform="translate(1351.70 789.90) scale(1 1.022)" font-size="36" text-anchor="middle">Rev</text>
<text transform="translate(1442.10 789.90) scale(1 1.022)" font-size="36" text-anchor="middle">Ctr</text>
<text transform="translate(1523.20 789.90) scale(1 1.035)" font-size="36" text-anchor="middle">SP</text>
<text transform="translate(1603.50 789.90) scale(1 1.022)" font-size="36" text-anchor="middle">Rev</text>
<text transform="translate(1056.30 622.50) rotate(-90) scale(1 1.022)" font-size="35.5" text-anchor="middle">% Cells</text>
<line x1="1160.50" y1="803.50" x2="1383.40" y2="803.50" stroke="#000" stroke-width="3"/>
<line x1="1412.30" y1="803.50" x2="1635.30" y2="803.50" stroke="#000" stroke-width="3"/>
<text transform="translate(1267.40 834.50) scale(1 1.022)" font-size="29.6" text-anchor="middle">Normal fibroblast</text>
<text transform="translate(1271.70 870.00) scale(1 1.022)" font-size="29.6" text-anchor="middle">lung cells</text>
<text transform="translate(1272.10 904.00) scale(1 1.035)" font-size="29.6" text-anchor="middle">(IMR90)</text>
<text transform="translate(1524.40 834.50) scale(1 1.022)" font-size="29.6" text-anchor="middle">Normal epithelial</text>
<text transform="translate(1519.50 870.00) scale(1 1.022)" font-size="29.6" text-anchor="middle">colon cells</text>
<text transform="translate(1523.70 904.00) scale(1 1.035)" font-size="29.6" text-anchor="middle">(NCM460)</text>
<rect x="1160.10" y="497.40" width="24.40" height="24.40" fill="#898987" stroke="#000" stroke-width="3"/>
<text transform="translate(1194.00 518.60) scale(1 1.022)" font-size="26">subG1</text>
<line x1="138.45" y1="1151.70" x2="138.45" y2="1150.00" stroke="#000" stroke-width="3"/>
<line x1="121.95" y1="1150.00" x2="154.95" y2="1150.00" stroke="#000" stroke-width="3"/>
<line x1="181.25" y1="1094.60" x2="181.25" y2="1085.50" stroke="#000" stroke-width="3"/>
<line x1="164.75" y1="1085.50" x2="197.75" y2="1085.50" stroke="#000" stroke-width="3"/>
<rect x="118.40" y="1152.90" width="41.10" height="104.40" fill="#f6f6f6" stroke="#94c11f" stroke-width="3"/>
<rect x="159.50" y="1095.70" width="42.60" height="161.60" fill="#898987" stroke="#94c11f" stroke-width="3"/>
<line x1="243.55" y1="1151.70" x2="243.55" y2="1148.90" stroke="#000" stroke-width="3"/>
<line x1="227.05" y1="1148.90" x2="260.05" y2="1148.90" stroke="#000" stroke-width="3"/>
<line x1="286.35" y1="1107.50" x2="286.35" y2="1098.70" stroke="#000" stroke-width="3"/>
<line x1="269.85" y1="1098.70" x2="302.85" y2="1098.70" stroke="#000" stroke-width="3"/>
<rect x="223.30" y="1152.90" width="41.50" height="104.40" fill="#f6f6f6" stroke="#f39208" stroke-width="3"/>
<rect x="264.80" y="1108.60" width="42.20" height="148.70" fill="#898987" stroke="#f39208" stroke-width="3"/>
<line x1="348.80" y1="1147.20" x2="348.80" y2="1144.50" stroke="#000" stroke-width="3"/>
<line x1="332.30" y1="1144.50" x2="365.30" y2="1144.50" stroke="#000" stroke-width="3"/>
<line x1="391.40" y1="1108.90" x2="391.40" y2="1096.30" stroke="#000" stroke-width="3"/>
<line x1="374.90" y1="1096.30" x2="407.90" y2="1096.30" stroke="#000" stroke-width="3"/>
<rect x="328.60" y="1148.40" width="41.40" height="108.90" fill="#f6f6f6" stroke="#e30613" stroke-width="3"/>
<rect x="370.00" y="1110.00" width="41.90" height="147.30" fill="#898987" stroke="#e30613" stroke-width="3"/>
<line x1="454.00" y1="1144.90" x2="454.00" y2="1141.50" stroke="#000" stroke-width="3"/>
<line x1="437.50" y1="1141.50" x2="470.50" y2="1141.50" stroke="#000" stroke-width="3"/>
<line x1="496.75" y1="1153.00" x2="496.75" y2="1136.00" stroke="#000" stroke-width="3"/>
<line x1="480.25" y1="1136.00" x2="513.25" y2="1136.00" stroke="#000" stroke-width="3"/>
<rect x="433.80" y="1146.10" width="41.40" height="111.20" fill="#f6f6f6" stroke="#312783" stroke-width="3"/>
<rect x="475.20" y="1154.10" width="42.20" height="103.20" fill="#898987" stroke="#312783" stroke-width="3"/>
<line x1="92.80" y1="1004.80" x2="92.80" y2="1258.80" stroke="#000" stroke-width="3.2"/>
<line x1="85.40" y1="1257.30" x2="532.90" y2="1257.30" stroke="#000" stroke-width="3.2"/>
<line x1="85.40" y1="1257.30" x2="92.80" y2="1257.30" stroke="#000" stroke-width="3"/>
<line x1="85.40" y1="1207.10" x2="92.80" y2="1207.10" stroke="#000" stroke-width="3"/>
<line x1="85.40" y1="1156.90" x2="92.80" y2="1156.90" stroke="#000" stroke-width="3"/>
<line x1="85.40" y1="1106.70" x2="92.80" y2="1106.70" stroke="#000" stroke-width="3"/>
<line x1="85.40" y1="1056.50" x2="92.80" y2="1056.50" stroke="#000" stroke-width="3"/>
<line x1="85.40" y1="1006.30" x2="92.80" y2="1006.30" stroke="#000" stroke-width="3"/>
<text transform="translate(80.20 1267.40) scale(1 1.035)" font-size="36" text-anchor="end">0</text>
<text transform="translate(80.20 1217.20) scale(1 1.035)" font-size="36" text-anchor="end">1</text>
<text transform="translate(80.20 1167.00) scale(1 1.035)" font-size="36" text-anchor="end">2</text>
<text transform="translate(80.20 1116.80) scale(1 1.035)" font-size="36" text-anchor="end">3</text>
<text transform="translate(80.20 1066.60) scale(1 1.035)" font-size="36" text-anchor="end">4</text>
<text transform="translate(80.20 1016.40) scale(1 1.035)" font-size="36" text-anchor="end">5</text>
<text transform="translate(498.20 1135.20) scale(1 1.035)" font-size="40" text-anchor="middle">***</text>
<text transform="translate(160.60 1292.90) scale(1 1.022)" font-size="36" text-anchor="middle">Ctr</text>
<text transform="translate(265.40 1292.90) scale(1 1.035)" font-size="36" text-anchor="middle">SP</text>
<text transform="translate(370.30 1292.90) scale(1 1.022)" font-size="36" text-anchor="middle">Rev</text>
<text transform="translate(475.80 1292.90) scale(1 1.022)" font-size="36" text-anchor="middle">Noco</text>
<text transform="translate(29.20 1125.40) rotate(-90) scale(1 1.022)" font-size="35.5" text-anchor="middle">OD 595 nM</text>
<rect x="118.60" y="1007.40" width="24.90" height="24.90" fill="#f6f6f6" stroke="#333" stroke-width="1"/>
<text transform="translate(148.90 1029.80) scale(1 1.022)" font-size="27">0h</text>
<rect x="189.60" y="1007.40" width="24.90" height="24.90" fill="#898987" stroke="#333" stroke-width="1"/>
<text transform="translate(221.00 1029.80) scale(1 1.022)" font-size="27">24h</text>
<line x1="682.60" y1="1078.60" x2="682.60" y2="1227.10" stroke="#000" stroke-width="1.5"/>
<line x1="681.90" y1="1226.40" x2="829.30" y2="1226.40" stroke="#000" stroke-width="1.5"/>
<line x1="682.60" y1="1226.40" x2="682.60" y2="1230.60" stroke="#000" stroke-width="1.0"/>
<line x1="691.74" y1="1226.40" x2="691.74" y2="1228.80" stroke="#000" stroke-width="1.0"/>
<line x1="700.88" y1="1226.40" x2="700.88" y2="1228.80" stroke="#000" stroke-width="1.0"/>
<line x1="710.01" y1="1226.40" x2="710.01" y2="1228.80" stroke="#000" stroke-width="1.0"/>
<line x1="719.15" y1="1226.40" x2="719.15" y2="1230.60" stroke="#000" stroke-width="1.0"/>
<line x1="728.29" y1="1226.40" x2="728.29" y2="1228.80" stroke="#000" stroke-width="1.0"/>
<line x1="737.42" y1="1226.40" x2="737.42" y2="1228.80" stroke="#000" stroke-width="1.0"/>
<line x1="746.56" y1="1226.40" x2="746.56" y2="1228.80" stroke="#000" stroke-width="1.0"/>
<line x1="755.70" y1="1226.40" x2="755.70" y2="1230.60" stroke="#000" stroke-width="1.0"/>
<line x1="764.84" y1="1226.40" x2="764.84" y2="1228.80" stroke="#000" stroke-width="1.0"/>
<line x1="773.98" y1="1226.40" x2="773.98" y2="1228.80" stroke="#000" stroke-width="1.0"/>
<line x1="783.11" y1="1226.40" x2="783.11" y2="1228.80" stroke="#000" stroke-width="1.0"/>
<line x1="792.25" y1="1226.40" x2="792.25" y2="1230.60" stroke="#000" stroke-width="1.0"/>
<line x1="801.39" y1="1226.40" x2="801.39" y2="1228.80" stroke="#000" stroke-width="1.0"/>
<line x1="810.52" y1="1226.40" x2="810.52" y2="1228.80" stroke="#000" stroke-width="1.0"/>
<line x1="819.66" y1="1226.40" x2="819.66" y2="1228.80" stroke="#000" stroke-width="1.0"/>
<line x1="828.80" y1="1226.40" x2="828.80" y2="1230.60" stroke="#000" stroke-width="1.0"/>
<line x1="681.30" y1="1218.20" x2="681.30" y2="1227.10" stroke="#000" stroke-width="2.6"/>
<line x1="680.40" y1="1213.39" x2="682.60" y2="1213.39" stroke="#000" stroke-width="0.8"/>
<line x1="680.40" y1="1207.65" x2="682.60" y2="1207.65" stroke="#000" stroke-width="0.8"/>
<line x1="680.40" y1="1203.57" x2="682.60" y2="1203.57" stroke="#000" stroke-width="0.8"/>
<line x1="680.40" y1="1200.41" x2="682.60" y2="1200.41" stroke="#000" stroke-width="0.8"/>
<line x1="680.40" y1="1197.83" x2="682.60" y2="1197.83" stroke="#000" stroke-width="0.8"/>
<line x1="680.40" y1="1195.65" x2="682.60" y2="1195.65" stroke="#000" stroke-width="0.8"/>
<line x1="680.40" y1="1193.76" x2="682.60" y2="1193.76" stroke="#000" stroke-width="0.8"/>
<line x1="680.40" y1="1192.09" x2="682.60" y2="1192.09" stroke="#000" stroke-width="0.8"/>
<line x1="679.00" y1="1190.60" x2="682.60" y2="1190.60" stroke="#000" stroke-width="1.6"/>
<line x1="680.40" y1="1180.79" x2="682.60" y2="1180.79" stroke="#000" stroke-width="0.8"/>
<line x1="680.40" y1="1175.05" x2="682.60" y2="1175.05" stroke="#000" stroke-width="0.8"/>
<line x1="680.40" y1="1170.97" x2="682.60" y2="1170.97" stroke="#000" stroke-width="0.8"/>
<line x1="680.40" y1="1167.81" x2="682.60" y2="1167.81" stroke="#000" stroke-width="0.8"/>
<line x1="680.40" y1="1165.23" x2="682.60" y2="1165.23" stroke="#000" stroke-width="0.8"/>
<line x1="680.40" y1="1163.05" x2="682.60" y2="1163.05" stroke="#000" stroke-width="0.8"/>
<line x1="680.40" y1="1161.16" x2="682.60" y2="1161.16" stroke="#000" stroke-width="0.8"/>
<line x1="680.40" y1="1159.49" x2="682.60" y2="1159.49" stroke="#000" stroke-width="0.8"/>
<line x1="679.00" y1="1158.00" x2="682.60" y2="1158.00" stroke="#000" stroke-width="1.6"/>
<line x1="680.40" y1="1148.19" x2="682.60" y2="1148.19" stroke="#000" stroke-width="0.8"/>
<line x1="680.40" y1="1142.45" x2="682.60" y2="1142.45" stroke="#000" stroke-width="0.8"/>
<line x1="680.40" y1="1138.37" x2="682.60" y2="1138.37" stroke="#000" stroke-width="0.8"/>
<line x1="680.40" y1="1135.21" x2="682.60" y2="1135.21" stroke="#000" stroke-width="0.8"/>
<line x1="680.40" y1="1132.63" x2="682.60" y2="1132.63" stroke="#000" stroke-width="0.8"/>
<line x1="680.40" y1="1130.45" x2="682.60" y2="1130.45" stroke="#000" stroke-width="0.8"/>
<line x1="680.40" y1="1128.56" x2="682.60" y2="1128.56" stroke="#000" stroke-width="0.8"/>
<line x1="680.40" y1="1126.89" x2="682.60" y2="1126.89" stroke="#000" stroke-width="0.8"/>
<line x1="679.00" y1="1125.40" x2="682.60" y2="1125.40" stroke="#000" stroke-width="1.6"/>
<line x1="680.40" y1="1115.59" x2="682.60" y2="1115.59" stroke="#000" stroke-width="0.8"/>
<line x1="680.40" y1="1109.85" x2="682.60" y2="1109.85" stroke="#000" stroke-width="0.8"/>
<line x1="680.40" y1="1105.77" x2="682.60" y2="1105.77" stroke="#000" stroke-width="0.8"/>
<line x1="680.40" y1="1102.61" x2="682.60" y2="1102.61" stroke="#000" stroke-width="0.8"/>
<line x1="680.40" y1="1100.03" x2="682.60" y2="1100.03" stroke="#000" stroke-width="0.8"/>
<line x1="680.40" y1="1097.85" x2="682.60" y2="1097.85" stroke="#000" stroke-width="0.8"/>
<line x1="680.40" y1="1095.96" x2="682.60" y2="1095.96" stroke="#000" stroke-width="0.8"/>
<line x1="680.40" y1="1094.29" x2="682.60" y2="1094.29" stroke="#000" stroke-width="0.8"/>
<line x1="679.00" y1="1092.80" x2="682.60" y2="1092.80" stroke="#000" stroke-width="1.6"/>
<line x1="680.40" y1="1082.99" x2="682.60" y2="1082.99" stroke="#000" stroke-width="0.8"/>
<text transform="translate(649.00 1226.80) scale(1 1.035)" font-size="19.8">10<tspan font-size="11" dy="-6.0">0</tspan></text>
<text transform="translate(649.00 1198.60) scale(1 1.035)" font-size="19.8">10<tspan font-size="11" dy="-6.0">1</tspan></text>
<text transform="translate(649.00 1166.00) scale(1 1.035)" font-size="19.8">10<tspan font-size="11" dy="-6.0">2</tspan></text>
<text transform="translate(649.00 1133.40) scale(1 1.035)" font-size="19.8">10<tspan font-size="11" dy="-6.0">3</tspan></text>
<text transform="translate(649.00 1100.80) scale(1 1.035)" font-size="19.8">10<tspan font-size="11" dy="-6.0">4</tspan></text>
<path d="M727.2 1152.6h.01M736.3 1150.1h.01M708.9 1159.1h.01M728.2 1154.5h.01M722.9 1157.6h.01M726.3 1155.3h.01M718.3 1155.8h.01M714.1 1157.0h.01M727.1 1155.1h.01M734.4 1154.5h.01M737.8 1152.1h.01M736.0 1152.5h.01M716.2 1156.7h.01M737.4 1152.3h.01M720.0 1157.2h.01M711.1 1160.0h.01M709.4 1157.5h.01M718.6 1155.4h.01M717.6 1157.0h.01M711.3 1158.2h.01M730.9 1154.0h.01M731.4 1155.4h.01M710.1 1158.8h.01M737.1 1155.2h.01M736.5 1152.8h.01M718.6 1156.2h.01M712.6 1155.6h.01M735.4 1154.4h.01M711.7 1159.6h.01M734.9 1155.9h.01M724.8 1156.5h.01M714.9 1157.9h.01M729.5 1154.6h.01M711.6 1158.2h.01M721.1 1158.1h.01M732.4 1154.2h.01M711.2 1158.1h.01M723.7 1155.1h.01M731.2 1153.8h.01M732.5 1154.9h.01M714.0 1156.8h.01M723.6 1156.0h.01M736.7 1153.4h.01M729.8 1154.5h.01M721.4 1157.3h.01M738.5 1152.4h.01M723.6 1156.2h.01M717.5 1154.4h.01M720.0 1154.2h.01M728.8 1152.6h.01M719.7 1155.4h.01M723.5 1153.7h.01M718.7 1156.2h.01M726.8 1155.4h.01M716.3 1155.8h.01M732.1 1151.9h.01M718.8 1154.8h.01M732.4 1155.9h.01M733.7 1150.1h.01M736.0 1152.9h.01M715.0 1154.9h.01M722.8 1153.8h.01M730.8 1156.4h.01M725.7 1154.0h.01M727.4 1153.1h.01M730.4 1154.6h.01M721.8 1155.3h.01M728.9 1154.3h.01M723.0 1156.3h.01M713.1 1158.6h.01M715.7 1157.8h.01M719.7 1155.2h.01M716.3 1157.2h.01M720.9 1157.6h.01M713.1 1156.8h.01M710.3 1158.0h.01M724.6 1156.9h.01M737.1 1151.8h.01M732.3 1152.9h.01M712.9 1156.8h.01M737.6 1152.7h.01M719.5 1156.5h.01M711.8 1157.2h.01M712.6 1155.7h.01M719.8 1156.8h.01M718.4 1156.7h.01M737.6 1152.1h.01M717.6 1156.9h.01M720.6 1159.7h.01M723.4 1157.2h.01M712.5 1156.9h.01M718.1 1154.4h.01M709.4 1158.3h.01M736.2 1152.2h.01M718.1 1160.4h.01M717.3 1155.9h.01M727.1 1153.5h.01M712.9 1156.8h.01M724.4 1156.5h.01M724.0 1155.8h.01M730.6 1154.1h.01M715.4 1158.0h.01M734.7 1153.4h.01M731.0 1154.9h.01M729.2 1153.3h.01M735.0 1154.2h.01M733.9 1154.7h.01M734.2 1154.8h.01M728.8 1155.0h.01M732.0 1153.7h.01M722.5 1155.3h.01M719.4 1158.2h.01M733.0 1154.3h.01M733.1 1151.9h.01M709.9 1154.8h.01M737.9 1152.4h.01M733.7 1155.6h.01M736.6 1152.4h.01M718.1 1156.5h.01M726.6 1155.5h.01M727.5 1155.2h.01M720.5 1156.6h.01M725.8 1152.5h.01M712.9 1158.3h.01M725.2 1155.3h.01M721.0 1157.1h.01M713.3 1156.5h.01M734.7 1152.7h.01M716.6 1156.7h.01M730.6 1154.2h.01M715.5 1158.8h.01M714.4 1155.6h.01M711.8 1157.6h.01M712.7 1157.3h.01M734.0 1153.7h.01M733.1 1154.4h.01M711.9 1161.0h.01M729.0 1155.3h.01M736.7 1150.8h.01M713.1 1156.9h.01M715.8 1158.8h.01M719.2 1157.1h.01M732.5 1151.8h.01M722.3 1154.8h.01M725.5 1154.2h.01M720.9 1156.5h.01M716.5 1158.1h.01M723.2 1155.8h.01M723.5 1154.7h.01M721.4 1156.2h.01M714.2 1158.8h.01M720.7 1155.8h.01M716.7 1157.9h.01M717.7 1158.5h.01M710.9 1157.8h.01M735.9 1151.3h.01M723.2 1155.6h.01M728.3 1156.7h.01M730.5 1155.1h.01M710.2 1159.0h.01M721.5 1156.1h.01M717.9 1157.0h.01M730.3 1153.6h.01M715.7 1154.4h.01M726.4 1156.4h.01M710.6 1159.4h.01M721.9 1156.7h.01M737.2 1152.7h.01M713.3 1159.3h.01M723.7 1155.6h.01M717.0 1157.6h.01M711.2 1159.6h.01M718.4 1156.9h.01M737.5 1154.4h.01M720.7 1156.2h.01M719.0 1157.8h.01M734.8 1151.7h.01M716.4 1157.5h.01M722.8 1155.2h.01M727.1 1152.0h.01M717.2 1157.6h.01M716.3 1158.1h.01M712.2 1155.6h.01M718.6 1157.2h.01M717.0 1157.9h.01M726.0 1155.7h.01M729.8 1154.8h.01M717.5 1157.4h.01M721.1 1158.2h.01M726.0 1154.2h.01M730.6 1153.5h.01M731.9 1151.1h.01M730.1 1153.4h.01M732.4 1154.4h.01M711.6 1159.1h.01M728.7 1155.2h.01M731.1 1154.1h.01M711.3 1159.2h.01M734.8 1153.0h.01M715.6 1157.8h.01M719.7 1156.8h.01M733.0 1153.2h.01M725.1 1157.4h.01M723.2 1155.1h.01M712.3 1160.6h.01M722.0 1156.5h.01M732.1 1153.5h.01M736.9 1152.6h.01M732.5 1154.1h.01M738.1 1153.3h.01M723.7 1154.9h.01M715.6 1158.2h.01M724.9 1157.1h.01M716.1 1158.0h.01M738.1 1150.7h.01M726.8 1155.5h.01M733.0 1153.8h.01M715.1 1158.9h.01M735.5 1155.7h.01M718.2 1154.3h.01M727.4 1153.7h.01M709.0 1158.4h.01M714.4 1158.3h.01M710.0 1159.7h.01M722.9 1154.5h.01M738.0 1150.1h.01M728.9 1153.1h.01M731.7 1155.3h.01M728.4 1154.5h.01M712.2 1158.8h.01M726.1 1153.1h.01M718.7 1156.4h.01M730.8 1155.4h.01M729.8 1153.9h.01M729.6 1152.7h.01M727.1 1156.6h.01M735.2 1157.1h.01M725.0 1155.5h.01M721.0 1158.1h.01M735.8 1152.4h.01M721.2 1157.7h.01M725.1 1154.1h.01M734.9 1154.6h.01M716.2 1155.0h.01M713.6 1155.9h.01M716.6 1158.0h.01M733.9 1152.3h.01M720.7 1156.9h.01M735.1 1154.4h.01M727.1 1154.9h.01M710.9 1159.6h.01M726.9 1155.9h.01M725.9 1153.5h.01M730.9 1155.0h.01M733.8 1153.4h.01M732.9 1151.2h.01M715.7 1154.8h.01M723.4 1156.4h.01M714.3 1158.1h.01M727.8 1156.4h.01M730.9 1152.1h.01M731.2 1152.9h.01M727.6 1154.8h.01M712.8 1158.4h.01M719.3 1157.0h.01M731.2 1155.0h.01M724.8 1155.9h.01M725.9 1156.6h.01M725.0 1155.0h.01M711.6 1156.0h.01M718.4 1157.9h.01M719.5 1153.5h.01M720.2 1157.9h.01M729.6 1152.8h.01M717.3 1159.1h.01M724.9 1156.0h.01M716.2 1156.8h.01M717.8 1157.9h.01M737.0 1152.5h.01M736.6 1153.9h.01M733.6 1154.0h.01M720.2 1156.6h.01M722.0 1157.0h.01M711.3 1161.9h.01M721.9 1156.1h.01M718.3 1156.4h.01M724.5 1156.1h.01M730.9 1154.8h.01M734.7 1151.8h.01M711.5 1158.7h.01M722.1 1154.4h.01M734.0 1156.8h.01M731.3 1153.7h.01M730.3 1155.8h.01M738.0 1154.2h.01M716.7 1157.2h.01M728.8 1155.3h.01M723.1 1156.5h.01M735.4 1152.8h.01M710.7 1155.5h.01M726.9 1155.9h.01M735.9 1153.1h.01M714.3 1158.0h.01M730.3 1155.9h.01M712.2 1157.3h.01M729.8 1154.9h.01M727.4 1155.8h.01M721.8 1154.1h.01M715.9 1156.8h.01M725.0 1154.7h.01M723.2 1155.6h.01M730.9 1154.9h.01M727.0 1154.6h.01M724.3 1156.0h.01M719.9 1156.7h.01M721.6 1153.5h.01M719.1 1156.1h.01M737.9 1151.9h.01M718.8 1159.6h.01M710.8 1158.8h.01M723.5 1157.5h.01M717.0 1156.1h.01M713.0 1159.1h.01M725.8 1156.7h.01M711.7 1158.9h.01M714.1 1157.6h.01M717.6 1154.8h.01M717.4 1155.4h.01M720.3 1155.6h.01M717.5 1156.1h.01M735.2 1154.1h.01M710.9 1156.6h.01M710.9 1159.2h.01M723.7 1155.5h.01M727.0 1156.6h.01M726.6 1154.4h.01M736.7 1153.4h.01M729.2 1154.9h.01M721.9 1153.6h.01M730.8 1155.2h.01M734.3 1155.3h.01M716.9 1157.2h.01M729.8 1153.9h.01M723.0 1156.7h.01M717.4 1156.8h.01M711.9 1158.5h.01M721.0 1154.8h.01M714.9 1158.8h.01M728.3 1155.2h.01M735.8 1154.2h.01M722.3 1155.1h.01M725.0 1154.2h.01M732.1 1153.1h.01M712.5 1159.2h.01M734.8 1155.3h.01M728.0 1154.7h.01M731.3 1154.7h.01M728.0 1153.5h.01M711.5 1158.1h.01M727.6 1153.9h.01M721.0 1156.8h.01M711.2 1156.9h.01M734.8 1154.0h.01M715.6 1156.7h.01M734.8 1153.4h.01M721.4 1156.5h.01M725.5 1155.9h.01M725.4 1154.3h.01M723.6 1157.3h.01M712.5 1157.8h.01M737.0 1152.5h.01M715.7 1155.9h.01M721.9 1157.7h.01M735.0 1154.6h.01M735.2 1155.5h.01M724.7 1155.9h.01M735.6 1153.5h.01M735.0 1152.6h.01M717.6 1155.9h.01M723.0 1154.0h.01M713.6 1159.8h.01M731.9 1157.2h.01M713.4 1158.3h.01M721.4 1154.2h.01M714.1 1157.0h.01M726.0 1156.5h.01M710.9 1157.6h.01M730.9 1155.7h.01M726.5 1155.1h.01M735.6 1154.5h.01M734.9 1154.6h.01M721.6 1156.1h.01M728.2 1152.6h.01M710.0 1158.2h.01M733.5 1152.5h.01M733.1 1152.6h.01M729.4 1154.3h.01M727.1 1154.3h.01M724.7 1155.7h.01M731.6 1153.8h.01M724.5 1155.6h.01M716.4 1157.0h.01M716.7 1155.5h.01M720.2 1155.6h.01M718.2 1157.1h.01M726.0 1153.6h.01M721.6 1158.1h.01M719.3 1155.1h.01M722.1 1155.6h.01M717.1 1156.4h.01M712.1 1158.5h.01M711.9 1158.4h.01M731.7 1154.2h.01M710.5 1156.2h.01M727.7 1153.4h.01M730.4 1152.9h.01M711.4 1155.8h.01M715.7 1157.9h.01M712.2 1158.4h.01M716.4 1157.4h.01M718.0 1155.5h.01M715.5 1156.8h.01M729.3 1155.9h.01M722.2 1156.2h.01M722.6 1153.9h.01M733.6 1151.5h.01M735.2 1152.4h.01M720.9 1154.5h.01M734.5 1152.1h.01M714.7 1158.4h.01M729.0 1153.8h.01M725.0 1154.4h.01M711.8 1157.3h.01M713.6 1157.9h.01M713.5 1158.0h.01M708.2 1157.5h.01M732.6 1156.5h.01M711.8 1158.3h.01M710.4 1156.9h.01M723.3 1154.4h.01M735.1 1152.2h.01M713.8 1158.3h.01M733.0 1154.9h.01M733.4 1154.6h.01M715.3 1155.8h.01M712.1 1156.7h.01M719.3 1154.9h.01M718.2 1156.2h.01M725.0 1156.5h.01M735.5 1153.0h.01M723.5 1155.9h.01M713.7 1159.2h.01M711.3 1157.3h.01M718.2 1157.5h.01M736.0 1153.8h.01M719.6 1156.4h.01M719.5 1158.6h.01M723.6 1157.5h.01M718.6 1155.3h.01M734.7 1153.9h.01M717.5 1159.4h.01M723.4 1157.0h.01M733.0 1153.1h.01M727.8 1153.9h.01M722.1 1157.2h.01M734.4 1154.7h.01M726.4 1154.6h.01M722.2 1155.6h.01M712.6 1155.0h.01M712.2 1159.1h.01M717.5 1156.7h.01M722.8 1157.0h.01M728.1 1154.4h.01M732.6 1151.9h.01M714.0 1157.8h.01M728.3 1156.8h.01M720.4 1153.3h.01M735.4 1154.8h.01M738.6 1154.5h.01M729.8 1154.7h.01M713.3 1159.2h.01M720.9 1158.1h.01M721.5 1155.1h.01M718.7 1157.5h.01M728.3 1156.4h.01M724.8 1155.2h.01M731.5 1155.2h.01M727.7 1157.7h.01M710.3 1158.3h.01M724.9 1155.8h.01M737.8 1151.9h.01M722.8 1156.1h.01M715.5 1157.4h.01M716.8 1157.4h.01M737.8 1149.8h.01M733.4 1152.7h.01M714.3 1158.1h.01M714.4 1156.0h.01M709.4 1161.0h.01M733.6 1151.5h.01M734.9 1152.8h.01M725.8 1155.6h.01M716.6 1157.3h.01M711.8 1159.4h.01M735.6 1153.3h.01M730.3 1153.6h.01M720.3 1158.1h.01M734.0 1152.5h.01M714.6 1157.8h.01M716.5 1157.3h.01M716.3 1159.2h.01M726.0 1157.4h.01M715.6 1157.1h.01M726.1 1153.1h.01M724.0 1154.4h.01M729.5 1155.0h.01M722.5 1155.7h.01M730.2 1155.6h.01M724.6 1154.6h.01M724.8 1154.1h.01M718.3 1158.3h.01M726.4 1154.5h.01M721.8 1155.7h.01M712.5 1157.9h.01M723.7 1156.0h.01M717.5 1158.2h.01M735.9 1153.9h.01M729.2 1154.4h.01M715.8 1160.1h.01M722.1 1157.6h.01M723.9 1157.4h.01M729.3 1154.7h.01M732.3 1153.6h.01M709.9 1158.3h.01M718.7 1155.5h.01M726.4 1153.7h.01M735.6 1151.2h.01M729.7 1156.4h.01M728.1 1155.8h.01M715.2 1157.4h.01M730.1 1152.9h.01M735.6 1153.8h.01M737.3 1154.8h.01M737.7 1154.2h.01M727.1 1154.2h.01M734.4 1154.9h.01M726.6 1151.8h.01M732.5 1153.5h.01M722.9 1154.4h.01M730.5 1156.2h.01M724.2 1153.8h.01M733.8 1150.1h.01M722.7 1155.8h.01M727.0 1156.4h.01M718.4 1156.8h.01M715.4 1157.0h.01M718.2 1155.9h.01M727.4 1153.5h.01M722.9 1156.8h.01M720.2 1156.5h.01M713.3 1159.9h.01M736.1 1153.9h.01M717.4 1155.8h.01M712.4 1157.8h.01M713.7 1157.1h.01M722.1 1154.4h.01M733.8 1156.5h.01M711.2 1157.5h.01M709.5 1162.6h.01M729.8 1152.0h.01M709.4 1160.0h.01M735.7 1152.9h.01M737.2 1152.5h.01M711.2 1158.8h.01M721.9 1159.0h.01M722.7 1158.0h.01M716.2 1157.5h.01M717.1 1157.2h.01M724.0 1153.8h.01M724.1 1156.1h.01M710.8 1159.4h.01M709.5 1157.5h.01M715.9 1158.7h.01M715.9 1156.1h.01M712.5 1159.7h.01M725.7 1157.3h.01M711.9 1156.3h.01M729.0 1155.2h.01M733.0 1153.2h.01M716.9 1157.9h.01M713.5 1158.5h.01M734.1 1153.5h.01M714.5 1157.0h.01M723.6 1155.1h.01M736.8 1155.7h.01M734.2 1152.9h.01M711.4 1160.1h.01M735.3 1153.0h.01M719.2 1157.3h.01M715.3 1157.2h.01M715.9 1158.8h.01M726.5 1152.0h.01M710.6 1158.0h.01M715.0 1155.2h.01M726.1 1155.4h.01M721.8 1157.0h.01M714.2 1158.7h.01M736.2 1154.2h.01M717.6 1155.4h.01M715.4 1155.5h.01M710.4 1158.6h.01M727.4 1155.8h.01M717.6 1155.8h.01M723.1 1154.4h.01M735.5 1154.0h.01M735.4 1152.0h.01M731.9 1153.2h.01M721.4 1156.4h.01M728.9 1155.5h.01M711.1 1158.7h.01M718.9 1157.3h.01M735.2 1152.4h.01M738.0 1154.5h.01M727.6 1157.6h.01M726.8 1154.3h.01M733.0 1155.6h.01M730.3 1155.3h.01M719.8 1156.4h.01M722.1 1155.1h.01M717.2 1157.4h.01M724.7 1153.1h.01M728.3 1151.8h.01M723.1 1156.4h.01M720.1 1154.7h.01M713.7 1157.4h.01M730.1 1153.7h.01M726.2 1155.7h.01M730.1 1154.9h.01M732.7 1151.6h.01M721.2 1158.0h.01M715.2 1155.5h.01M718.1 1157.0h.01M730.6 1152.0h.01M715.9 1155.8h.01M725.9 1156.2h.01M724.1 1153.6h.01M725.8 1155.1h.01M727.0 1155.5h.01M728.8 1154.9h.01M713.8 1159.2h.01M727.1 1154.9h.01M718.2 1158.5h.01M727.7 1155.9h.01M709.1 1157.8h.01M734.9 1155.8h.01M725.2 1155.0h.01M727.3 1151.5h.01M718.9 1157.1h.01M730.0 1155.8h.01M714.2 1160.8h.01M723.7 1154.5h.01M715.3 1160.0h.01M716.0 1155.9h.01M728.8 1156.8h.01M734.9 1152.8h.01M727.7 1154.6h.01M714.0 1159.6h.01M711.4 1158.3h.01M716.6 1157.1h.01M725.2 1154.3h.01M725.0 1154.8h.01M725.4 1153.9h.01M733.2 1154.2h.01M734.2 1153.4h.01M734.1 1151.7h.01M729.3 1155.0h.01M731.1 1152.7h.01M716.3 1159.4h.01M723.1 1159.7h.01M737.6 1153.7h.01M729.8 1155.4h.01M728.9 1156.4h.01M715.5 1159.1h.01M722.0 1155.7h.01M735.6 1154.5h.01M711.8 1161.5h.01M720.7 1153.3h.01M729.6 1155.9h.01M714.3 1158.9h.01M713.9 1156.2h.01M717.8 1157.7h.01M712.5 1158.1h.01M724.4 1157.9h.01M718.0 1154.5h.01M736.2 1156.3h.01M723.4 1154.9h.01M724.9 1157.7h.01M720.7 1155.1h.01M722.2 1156.3h.01M720.8 1157.5h.01M708.4 1159.1h.01M736.3 1151.2h.01M727.7 1155.1h.01M721.2 1156.0h.01M724.8 1154.7h.01M727.0 1155.0h.01M739.5 1152.7h.01M711.2 1158.9h.01M732.6 1153.4h.01M712.4 1158.7h.01M713.6 1156.9h.01M714.0 1157.1h.01M732.5 1151.5h.01M730.1 1153.3h.01M721.1 1157.1h.01M734.5 1154.3h.01M727.8 1155.4h.01M726.1 1154.3h.01M716.1 1158.2h.01M722.2 1155.3h.01M717.0 1158.3h.01M713.9 1158.0h.01M729.1 1152.7h.01M725.9 1156.3h.01M725.7 1156.9h.01M723.9 1157.1h.01M733.0 1152.8h.01M715.8 1156.0h.01M717.4 1157.1h.01M727.8 1154.1h.01M724.0 1154.7h.01M716.5 1160.2h.01M713.4 1156.8h.01M723.1 1156.1h.01M714.7 1157.5h.01M713.5 1156.5h.01M715.3 1153.7h.01M715.3 1156.1h.01M736.9 1151.2h.01M728.8 1155.8h.01M729.8 1155.0h.01M738.5 1151.9h.01M710.8 1154.4h.01M731.7 1152.6h.01M728.1 1154.2h.01M712.5 1160.8h.01M730.0 1154.2h.01M712.2 1156.7h.01M722.8 1158.2h.01M731.7 1152.7h.01M723.0 1156.7h.01M717.3 1157.4h.01M732.9 1155.5h.01M732.2 1156.2h.01M737.1 1154.0h.01M719.6 1156.7h.01M733.1 1151.5h.01M716.8 1155.9h.01M715.0 1155.9h.01M716.5 1156.3h.01M729.2 1154.6h.01M724.5 1155.1h.01M725.6 1155.1h.01M716.7 1155.4h.01M719.7 1155.3h.01M730.9 1155.7h.01M718.2 1157.9h.01M714.5 1154.7h.01M721.4 1159.0h.01M733.8 1154.8h.01M724.0 1156.4h.01M721.1 1156.8h.01M726.3 1157.9h.01M736.7 1152.1h.01M730.5 1156.5h.01M721.2 1154.0h.01M729.5 1153.3h.01M712.8 1160.2h.01M710.4 1159.5h.01M722.3 1155.4h.01M713.0 1158.1h.01M729.4 1155.0h.01M723.7 1156.7h.01M711.6 1157.7h.01M712.6 1160.3h.01M724.0 1153.4h.01M713.8 1156.9h.01M713.4 1155.3h.01M717.4 1158.3h.01M716.1 1158.3h.01M714.4 1156.9h.01M737.9 1153.7h.01M722.6 1158.8h.01M726.2 1154.0h.01M724.0 1155.5h.01M716.4 1155.9h.01M732.8 1154.0h.01M726.9 1153.4h.01M715.1 1160.1h.01M725.3 1155.9h.01M737.3 1151.7h.01M721.9 1154.6h.01M724.4 1154.2h.01M731.6 1151.9h.01M714.7 1157.5h.01M715.8 1157.1h.01M733.0 1152.7h.01M710.6 1160.2h.01M729.2 1155.9h.01M713.6 1155.7h.01M731.1 1153.4h.01M709.5 1160.0h.01M712.9 1159.7h.01M728.1 1153.8h.01M733.8 1152.5h.01M722.1 1155.7h.01M714.2 1156.0h.01M719.1 1155.6h.01M730.0 1153.6h.01M712.3 1156.3h.01M730.9 1156.3h.01M712.3 1157.6h.01M722.9 1156.4h.01M721.9 1156.9h.01M719.0 1156.9h.01M738.4 1153.9h.01M721.9 1157.1h.01M724.7 1156.2h.01M709.4 1160.6h.01M733.8 1154.9h.01M736.4 1153.7h.01M716.9 1156.2h.01M729.2 1154.0h.01M714.6 1157.6h.01M721.9 1153.4h.01M728.0 1154.5h.01M724.3 1157.5h.01M717.3 1158.3h.01M723.9 1156.0h.01M736.3 1152.9h.01M722.3 1154.4h.01M720.6 1155.7h.01M728.1 1155.6h.01M719.2 1155.9h.01M723.2 1155.8h.01M712.1 1158.4h.01M733.2 1151.9h.01M737.2 1153.7h.01M713.6 1157.0h.01M719.4 1159.0h.01M715.5 1159.2h.01M730.3 1154.9h.01M723.9 1155.0h.01M732.8 1151.6h.01M719.6 1157.1h.01M709.8 1157.3h.01M731.3 1152.4h.01M728.8 1156.5h.01M728.0 1157.6h.01M722.6 1155.7h.01M732.2 1154.1h.01M732.7 1153.5h.01M722.8 1158.3h.01M735.9 1153.3h.01M723.5 1156.6h.01M719.3 1158.9h.01M726.4 1154.8h.01M719.6 1154.8h.01M721.9 1157.3h.01M726.5 1154.9h.01M733.9 1152.5h.01M724.4 1153.8h.01M721.3 1158.3h.01M717.8 1157.9h.01M728.2 1152.1h.01M725.1 1155.5h.01M711.9 1155.7h.01M719.2 1157.2h.01M710.2 1157.1h.01M733.0 1153.6h.01M718.2 1157.9h.01M710.3 1159.7h.01M720.7 1155.2h.01M713.4 1160.2h.01M717.2 1156.7h.01M735.7 1152.7h.01M711.5 1159.6h.01M725.5 1156.7h.01M710.3 1159.7h.01M720.2 1156.5h.01M729.3 1155.1h.01M731.5 1154.6h.01M727.8 1154.4h.01M719.9 1155.5h.01M721.4 1157.1h.01M727.0 1154.2h.01M736.9 1153.3h.01M719.1 1157.0h.01M712.9 1156.6h.01M714.8 1159.7h.01M714.1 1158.5h.01M716.1 1157.7h.01M732.2 1154.8h.01M713.6 1155.0h.01M734.1 1153.4h.01M730.9 1155.4h.01M718.4 1156.2h.01M730.2 1154.3h.01M723.2 1156.1h.01M724.2 1155.0h.01M718.9 1156.0h.01M724.4 1157.9h.01M714.9 1158.0h.01M717.6 1156.6h.01M713.3 1157.2h.01M714.7 1158.9h.01M731.4 1153.3h.01M718.8 1156.7h.01M729.7 1152.1h.01M732.5 1151.8h.01M717.5 1156.6h.01M735.8 1153.1h.01M737.2 1152.3h.01M733.0 1152.4h.01M734.3 1154.5h.01M726.0 1157.3h.01M723.2 1156.5h.01M712.9 1156.3h.01M732.7 1152.6h.01M732.1 1155.1h.01M735.2 1155.2h.01M726.4 1155.9h.01M732.7 1153.1h.01M736.4 1154.1h.01M729.1 1153.3h.01M726.4 1154.3h.01M714.7 1154.8h.01M715.3 1156.8h.01M718.6 1155.9h.01M731.4 1154.5h.01M737.1 1153.5h.01M710.3 1158.7h.01M714.3 1157.3h.01M729.9 1154.7h.01M710.8 1160.9h.01M722.5 1156.4h.01M727.6 1155.7h.01M721.8 1154.9h.01M725.8 1156.9h.01M711.9 1156.9h.01M725.3 1155.5h.01M730.0 1153.3h.01M721.4 1157.3h.01M714.4 1158.4h.01M715.7 1156.5h.01M731.8 1155.2h.01M722.8 1155.2h.01M726.9 1154.1h.01M711.4 1159.6h.01M731.7 1154.6h.01M735.5 1153.8h.01M734.5 1152.2h.01M729.4 1152.0h.01M714.7 1154.5h.01M731.4 1153.8h.01M738.5 1152.8h.01M724.9 1154.0h.01M724.4 1157.0h.01M712.9 1159.3h.01M723.1 1153.7h.01M736.0 1156.2h.01M718.1 1158.6h.01M736.2 1152.8h.01M732.7 1155.5h.01M736.5 1153.2h.01M733.8 1153.0h.01M731.8 1154.3h.01M719.5 1154.6h.01M725.6 1156.0h.01M711.6 1160.5h.01M736.0 1151.9h.01M730.4 1152.7h.01M731.2 1153.5h.01M716.9 1156.5h.01M712.1 1157.7h.01M734.7 1154.9h.01M716.1 1157.3h.01M713.6 1156.5h.01M713.8 1158.6h.01M714.1 1158.2h.01M738.1 1153.6h.01M726.3 1157.9h.01M712.2 1156.4h.01M729.4 1155.3h.01M727.3 1156.7h.01M731.5 1154.8h.01M736.8 1153.9h.01M719.2 1156.0h.01M711.7 1158.0h.01M726.1 1158.3h.01M709.0 1163.9h.01M709.8 1161.5h.01M711.7 1157.5h.01M708.6 1161.2h.01M710.6 1157.0h.01M710.9 1158.2h.01M710.6 1158.7h.01M711.9 1158.6h.01M710.8 1159.1h.01M709.4 1162.1h.01M710.0 1160.4h.01M709.2 1164.5h.01M709.2 1160.1h.01M709.5 1161.5h.01M708.5 1163.2h.01M710.7 1162.6h.01M711.7 1156.8h.01M708.4 1161.2h.01M710.5 1163.4h.01M709.5 1159.8h.01M709.6 1163.2h.01M710.8 1159.3h.01M709.8 1161.7h.01M712.7 1156.5h.01M710.5 1159.3h.01M712.9 1158.6h.01M709.6 1160.6h.01M710.6 1165.9h.01M710.8 1156.7h.01M709.9 1163.2h.01M709.4 1159.3h.01M709.1 1163.1h.01M711.5 1158.4h.01M709.1 1159.3h.01M709.2 1166.5h.01M711.5 1156.3h.01M710.1 1158.9h.01M709.2 1158.7h.01M710.1 1157.1h.01M709.6 1164.3h.01M711.7 1156.9h.01M710.7 1162.2h.01M709.0 1164.4h.01M710.0 1159.8h.01M710.1 1162.6h.01M707.6 1165.8h.01M707.7 1164.1h.01M711.6 1160.3h.01M708.5 1160.7h.01M708.3 1164.5h.01M709.8 1159.9h.01M708.1 1160.8h.01M710.6 1161.2h.01M709.5 1163.7h.01M709.1 1163.3h.01M706.7 1164.3h.01M710.2 1160.6h.01M709.6 1157.4h.01M708.1 1164.6h.01M709.4 1164.3h.01M710.3 1160.3h.01M710.5 1160.3h.01M709.9 1159.4h.01M708.3 1165.9h.01M708.8 1167.5h.01M709.1 1160.2h.01M709.2 1164.5h.01M710.2 1162.7h.01M709.8 1157.6h.01M710.0 1161.2h.01M709.7 1161.3h.01M710.2 1163.1h.01M709.1 1161.6h.01M708.3 1161.2h.01M708.5 1165.9h.01M709.1 1159.4h.01M709.3 1161.6h.01M709.4 1160.8h.01M709.5 1161.0h.01M710.5 1159.1h.01M710.5 1161.6h.01M709.0 1163.3h.01M710.3 1159.9h.01M711.3 1157.4h.01M710.1 1160.8h.01M710.9 1157.8h.01M709.2 1164.4h.01M707.0 1166.9h.01M711.8 1155.4h.01M709.4 1159.2h.01M710.0 1162.1h.01M711.5 1158.5h.01M709.6 1159.7h.01M710.5 1164.1h.01M710.3 1159.4h.01M711.1 1160.0h.01M708.7 1162.4h.01M709.6 1160.8h.01M709.0 1162.5h.01M709.1 1160.5h.01M709.5 1160.2h.01M707.2 1160.9h.01M708.1 1164.3h.01M708.2 1167.6h.01M712.2 1159.4h.01M711.5 1158.9h.01M710.7 1160.0h.01M709.5 1163.3h.01M710.5 1159.8h.01M710.2 1159.6h.01M707.7 1163.2h.01M709.4 1163.0h.01M709.5 1157.5h.01M708.9 1160.3h.01M710.9 1160.2h.01M709.1 1162.8h.01M711.1 1158.5h.01M709.9 1162.9h.01M710.2 1162.2h.01M709.2 1160.2h.01M711.4 1161.6h.01M708.5 1165.1h.01M711.2 1158.3h.01M710.3 1159.6h.01M711.6 1158.9h.01M709.1 1164.6h.01M709.5 1161.1h.01M710.9 1156.2h.01M708.0 1163.9h.01M707.4 1165.9h.01M710.4 1161.9h.01M709.7 1162.7h.01M710.2 1160.1h.01M711.0 1159.0h.01M709.0 1156.5h.01M708.8 1159.8h.01M709.1 1161.3h.01M711.8 1160.6h.01M711.3 1158.8h.01M709.7 1162.4h.01M710.3 1159.2h.01M709.6 1161.8h.01M708.3 1162.3h.01M708.6 1163.9h.01M709.4 1161.7h.01M709.8 1163.0h.01M709.7 1159.4h.01M710.2 1163.8h.01M709.0 1162.4h.01M709.7 1164.0h.01M707.3 1167.8h.01M708.2 1163.2h.01M709.9 1160.1h.01M709.3 1160.7h.01M709.4 1160.7h.01M711.1 1158.7h.01M708.5 1164.5h.01M707.6 1161.9h.01M710.4 1161.9h.01M709.6 1161.3h.01M710.6 1157.4h.01M710.3 1158.7h.01M708.9 1163.8h.01M707.1 1162.5h.01M711.3 1157.6h.01M708.2 1167.5h.01M710.0 1162.1h.01M709.5 1160.4h.01M709.7 1159.3h.01M709.5 1162.8h.01M709.9 1159.3h.01M707.5 1166.2h.01M711.8 1158.2h.01M707.9 1161.2h.01M708.3 1161.7h.01M709.2 1163.2h.01M709.2 1163.3h.01M710.4 1161.1h.01M710.2 1161.3h.01M710.4 1158.7h.01M711.3 1159.1h.01M708.6 1161.1h.01M707.9 1162.8h.01M709.0 1161.6h.01M709.8 1160.7h.01M709.5 1159.8h.01M708.1 1162.6h.01M709.1 1162.8h.01M711.4 1159.9h.01M709.3 1160.6h.01M709.7 1158.9h.01M709.8 1164.3h.01M708.0 1160.5h.01M710.9 1159.3h.01M709.6 1160.2h.01M709.9 1161.7h.01M709.7 1164.5h.01M710.0 1160.0h.01M708.7 1160.9h.01M711.7 1159.2h.01M709.4 1161.7h.01M709.2 1163.0h.01M707.2 1162.2h.01M708.6 1161.7h.01M710.5 1164.7h.01M710.2 1158.2h.01M709.8 1162.2h.01M709.7 1159.5h.01M707.8 1163.1h.01M711.0 1157.9h.01M705.9 1168.6h.01M710.8 1159.1h.01M708.5 1164.3h.01M709.8 1158.4h.01M710.3 1162.4h.01M709.0 1166.4h.01M709.6 1164.4h.01M711.5 1158.7h.01M707.1 1167.2h.01M710.0 1160.5h.01M710.1 1159.9h.01M711.3 1159.1h.01M710.5 1161.2h.01M709.0 1161.6h.01M709.6 1160.4h.01M708.9 1158.7h.01M708.5 1166.3h.01M710.5 1158.8h.01M708.7 1158.5h.01M709.7 1158.9h.01M736.3 1152.9h.01M734.5 1151.0h.01M738.4 1150.0h.01M736.0 1154.2h.01M735.9 1153.2h.01M737.4 1153.3h.01M732.1 1152.1h.01M734.9 1152.7h.01M735.4 1153.0h.01M734.3 1153.4h.01M733.4 1152.6h.01M735.2 1154.6h.01M734.4 1152.2h.01M735.8 1153.0h.01M733.0 1154.6h.01M735.2 1152.9h.01M737.8 1150.8h.01M736.8 1154.0h.01M738.8 1151.6h.01M730.4 1152.9h.01M735.4 1152.0h.01M735.1 1152.6h.01M733.4 1154.1h.01M736.0 1150.7h.01M732.2 1153.4h.01M737.2 1154.4h.01M735.3 1153.3h.01M733.1 1154.4h.01M735.8 1151.2h.01M733.9 1153.3h.01M736.8 1151.6h.01M732.1 1152.6h.01M739.6 1151.4h.01M740.9 1153.1h.01M732.7 1153.8h.01M738.6 1151.1h.01M736.8 1153.2h.01M734.9 1153.2h.01M737.7 1152.4h.01M734.0 1152.9h.01M739.8 1153.5h.01M733.1 1152.6h.01M734.1 1151.0h.01M733.2 1155.3h.01M737.9 1151.6h.01M736.0 1152.5h.01M734.4 1154.0h.01M736.6 1151.4h.01M737.0 1152.3h.01M731.3 1153.7h.01M735.8 1152.3h.01M733.6 1154.5h.01M739.1 1150.7h.01M736.4 1154.1h.01M734.7 1149.8h.01M735.3 1147.5h.01M731.5 1155.0h.01M733.0 1154.1h.01M737.7 1152.3h.01M732.3 1150.4h.01M736.6 1152.2h.01M738.3 1153.4h.01M735.6 1151.6h.01M738.9 1150.4h.01M738.5 1150.2h.01M738.5 1155.4h.01M737.8 1150.1h.01M736.3 1152.0h.01M736.3 1152.9h.01M736.3 1156.4h.01M733.3 1153.2h.01M738.2 1152.8h.01M738.7 1151.6h.01M734.9 1152.7h.01M738.7 1152.9h.01M737.0 1150.4h.01M734.7 1151.4h.01M735.8 1152.0h.01M732.2 1153.4h.01M735.4 1155.3h.01M738.8 1152.6h.01M734.7 1150.5h.01M735.6 1153.2h.01M739.9 1150.7h.01M736.7 1149.7h.01M737.7 1152.3h.01M734.7 1153.0h.01M738.7 1150.2h.01M734.6 1153.7h.01M735.6 1152.0h.01M736.0 1153.5h.01M738.9 1150.5h.01M734.8 1152.1h.01M733.9 1153.7h.01M733.3 1153.6h.01M734.0 1153.4h.01M730.3 1154.5h.01M735.6 1151.2h.01M733.2 1153.1h.01M733.4 1151.7h.01M736.7 1152.5h.01M729.6 1153.5h.01M738.7 1151.4h.01M733.5 1152.1h.01M735.6 1153.6h.01M737.9 1150.9h.01M737.8 1151.9h.01M738.0 1152.3h.01M734.8 1154.7h.01M736.5 1154.2h.01M734.9 1154.8h.01M734.5 1150.1h.01M733.9 1154.2h.01M734.5 1153.9h.01M734.8 1149.8h.01M735.6 1151.3h.01M733.8 1154.1h.01M736.7 1151.6h.01M735.9 1153.2h.01M734.5 1152.9h.01M740.0 1149.2h.01M733.2 1152.9h.01M736.5 1151.9h.01M730.9 1154.6h.01M737.6 1152.4h.01M734.1 1153.2h.01M736.3 1153.0h.01M734.8 1152.0h.01M736.1 1155.2h.01M733.6 1152.8h.01M736.4 1152.6h.01M736.1 1153.6h.01M737.0 1152.6h.01M738.9 1153.3h.01M734.7 1152.0h.01M735.1 1153.2h.01M734.1 1153.7h.01M735.2 1153.3h.01M735.2 1153.7h.01M732.9 1154.6h.01M736.1 1151.3h.01M735.5 1154.7h.01M736.0 1152.6h.01M733.8 1152.4h.01M737.7 1152.9h.01M734.7 1152.2h.01M733.6 1152.9h.01M738.3 1151.3h.01M737.4 1152.8h.01M731.2 1153.3h.01M740.9 1151.6h.01M735.8 1153.4h.01M734.0 1152.2h.01M737.4 1154.2h.01M736.2 1153.1h.01M735.1 1148.4h.01M733.5 1151.8h.01M732.2 1152.8h.01M739.2 1151.2h.01M738.6 1152.6h.01M734.9 1145.5h.01M736.2 1144.7h.01M736.2 1150.6h.01M735.8 1151.1h.01M736.1 1152.3h.01M735.9 1152.4h.01M735.7 1148.8h.01M736.5 1143.8h.01M737.5 1145.9h.01M735.7 1149.1h.01M737.0 1150.1h.01M736.0 1146.2h.01M735.2 1150.5h.01M734.1 1149.9h.01M735.0 1144.4h.01M737.7 1148.8h.01M735.1 1147.4h.01M734.8 1148.0h.01M735.6 1148.7h.01M735.7 1147.2h.01M736.4 1146.8h.01M734.1 1148.9h.01M734.3 1145.0h.01M733.3 1147.9h.01M735.4 1146.5h.01M736.7 1145.0h.01M733.8 1150.7h.01M734.1 1147.9h.01M737.0 1144.0h.01M736.4 1147.4h.01M736.2 1148.1h.01M738.9 1149.7h.01M736.8 1147.2h.01M736.5 1153.1h.01M733.7 1149.1h.01M734.3 1146.5h.01M737.1 1146.8h.01M736.2 1144.9h.01M735.8 1147.5h.01M735.1 1147.5h.01" stroke="#15150f" stroke-width="1.0" stroke-linecap="square" fill="none"/>
<path d="M735.6 1143.5h.01M734.9 1142.3h.01M734.6 1139.1h.01M735.7 1148.3h.01M734.8 1142.0h.01M734.0 1147.9h.01M735.8 1141.3h.01M735.5 1146.7h.01M735.9 1148.8h.01M736.9 1141.4h.01M738.2 1146.8h.01M733.1 1155.0h.01M738.3 1143.8h.01M737.0 1147.0h.01M736.7 1145.6h.01M739.5 1147.6h.01M737.3 1153.2h.01M734.9 1149.3h.01M737.5 1139.1h.01M738.4 1138.8h.01M736.8 1151.6h.01M735.7 1146.9h.01M734.5 1146.4h.01M737.1 1147.5h.01M733.9 1139.9h.01M736.2 1149.4h.01M734.4 1139.0h.01M735.2 1144.4h.01M735.7 1141.2h.01M735.1 1143.7h.01M736.0 1149.1h.01M737.2 1138.5h.01M735.9 1144.6h.01M735.6 1148.2h.01M738.3 1149.1h.01M734.0 1148.6h.01M736.7 1137.2h.01M735.1 1150.1h.01M734.8 1142.6h.01M735.2 1141.8h.01M734.7 1148.9h.01M734.0 1148.6h.01M735.4 1137.9h.01M736.4 1149.2h.01M736.3 1140.4h.01M735.3 1140.1h.01M735.3 1147.2h.01M736.7 1133.6h.01M733.1 1148.0h.01M735.2 1142.6h.01M738.6 1139.5h.01M736.3 1143.2h.01M734.6 1146.0h.01M737.0 1142.6h.01M735.1 1144.8h.01M735.1 1141.3h.01M732.9 1143.8h.01M733.8 1147.2h.01M735.9 1144.1h.01M737.9 1139.0h.01M734.3 1143.3h.01M736.5 1145.9h.01M733.3 1142.5h.01M735.7 1145.0h.01M735.6 1135.2h.01M734.7 1146.3h.01M737.2 1146.6h.01M736.6 1145.8h.01M734.8 1146.2h.01M737.9 1143.4h.01M766.5 1147.5h.01M760.6 1142.7h.01M778.3 1142.6h.01M742.0 1155.2h.01M745.3 1144.1h.01M780.5 1142.7h.01M783.7 1142.2h.01M766.7 1142.8h.01M767.4 1146.5h.01M762.5 1145.0h.01M761.8 1144.0h.01M752.8 1148.8h.01M767.0 1146.2h.01M760.8 1146.3h.01M748.7 1147.8h.01M768.8 1143.1h.01M768.0 1146.2h.01M743.1 1151.2h.01M750.9 1149.7h.01M789.7 1139.2h.01M791.4 1137.5h.01M755.6 1144.4h.01M779.9 1143.9h.01M751.7 1143.4h.01M742.6 1154.4h.01M775.2 1144.3h.01M789.6 1140.5h.01M743.3 1148.9h.01M758.9 1150.9h.01M760.8 1147.7h.01M741.7 1153.1h.01M771.1 1144.1h.01M785.8 1140.6h.01M775.8 1142.7h.01M767.8 1146.1h.01M764.6 1146.0h.01M719.3 1154.7h.01M740.1 1152.9h.01M717.1 1150.9h.01M724.6 1158.4h.01M720.1 1154.2h.01M730.1 1154.3h.01M747.2 1156.1h.01M703.2 1165.8h.01M734.7 1152.4h.01M730.4 1155.0h.01M746.7 1150.6h.01M703.2 1164.1h.01M739.2 1149.9h.01M703.9 1162.5h.01M720.9 1155.5h.01M715.7 1159.3h.01M725.2 1153.9h.01M734.0 1151.5h.01M723.0 1157.2h.01M728.4 1149.2h.01M721.7 1151.7h.01M728.7 1149.3h.01M718.1 1157.4h.01M712.9 1153.5h.01M722.2 1154.3h.01M720.1 1155.9h.01M726.9 1154.6h.01M714.9 1151.6h.01M730.9 1156.4h.01M721.8 1162.1h.01M729.7 1155.0h.01M716.0 1163.6h.01M722.1 1156.9h.01M732.2 1159.0h.01M719.5 1157.0h.01M723.1 1155.6h.01M708.4 1159.8h.01M737.9 1149.5h.01M716.9 1155.9h.01M714.9 1158.6h.01M723.3 1153.6h.01M723.4 1157.2h.01M722.2 1154.2h.01M714.5 1161.5h.01M716.2 1156.2h.01M746.5 1150.7h.01M719.1 1157.2h.01M709.5 1162.9h.01M728.2 1147.4h.01M727.2 1152.0h.01M695.7 1159.1h.01M698.3 1162.2h.01M703.5 1166.2h.01M700.2 1161.9h.01M702.9 1160.7h.01M709.4 1152.7h.01M705.9 1164.1h.01M707.2 1163.1h.01M704.2 1167.5h.01M700.4 1162.3h.01M708.2 1162.0h.01M703.8 1154.0h.01M702.1 1165.4h.01M706.4 1167.5h.01M700.2 1167.9h.01M703.7 1165.8h.01M707.9 1167.9h.01M704.3 1169.6h.01" stroke="#777" stroke-width="0.9" stroke-linecap="square" fill="none"/>
<path d="M720.8 1124.4L742.3 1120.6L747.0 1146.6L725.6 1150.6Z" fill="none" stroke="#2a2384" stroke-width="1.7" stroke-dasharray="3 2.8"/>
<text transform="translate(734.60 1106.80) scale(1 1.022)" font-size="23" fill="#2a2384">pH3</text>
<text transform="translate(755.00 1134.00) scale(1 1.035)" font-size="23.4">3.9 %</text>
<line x1="847.00" y1="1078.60" x2="847.00" y2="1227.10" stroke="#000" stroke-width="1.5"/>
<line x1="846.30" y1="1226.40" x2="993.30" y2="1226.40" stroke="#000" stroke-width="1.5"/>
<line x1="847.00" y1="1226.40" x2="847.00" y2="1230.60" stroke="#000" stroke-width="1.0"/>
<line x1="856.11" y1="1226.40" x2="856.11" y2="1228.80" stroke="#000" stroke-width="1.0"/>
<line x1="865.23" y1="1226.40" x2="865.23" y2="1228.80" stroke="#000" stroke-width="1.0"/>
<line x1="874.34" y1="1226.40" x2="874.34" y2="1228.80" stroke="#000" stroke-width="1.0"/>
<line x1="883.45" y1="1226.40" x2="883.45" y2="1230.60" stroke="#000" stroke-width="1.0"/>
<line x1="892.56" y1="1226.40" x2="892.56" y2="1228.80" stroke="#000" stroke-width="1.0"/>
<line x1="901.67" y1="1226.40" x2="901.67" y2="1228.80" stroke="#000" stroke-width="1.0"/>
<line x1="910.79" y1="1226.40" x2="910.79" y2="1228.80" stroke="#000" stroke-width="1.0"/>
<line x1="919.90" y1="1226.40" x2="919.90" y2="1230.60" stroke="#000" stroke-width="1.0"/>
<line x1="929.01" y1="1226.40" x2="929.01" y2="1228.80" stroke="#000" stroke-width="1.0"/>
<line x1="938.12" y1="1226.40" x2="938.12" y2="1228.80" stroke="#000" stroke-width="1.0"/>
<line x1="947.24" y1="1226.40" x2="947.24" y2="1228.80" stroke="#000" stroke-width="1.0"/>
<line x1="956.35" y1="1226.40" x2="956.35" y2="1230.60" stroke="#000" stroke-width="1.0"/>
<line x1="965.46" y1="1226.40" x2="965.46" y2="1228.80" stroke="#000" stroke-width="1.0"/>
<line x1="974.57" y1="1226.40" x2="974.57" y2="1228.80" stroke="#000" stroke-width="1.0"/>
<line x1="983.69" y1="1226.40" x2="983.69" y2="1228.80" stroke="#000" stroke-width="1.0"/>
<line x1="992.80" y1="1226.40" x2="992.80" y2="1230.60" stroke="#000" stroke-width="1.0"/>
<line x1="845.70" y1="1218.20" x2="845.70" y2="1227.10" stroke="#000" stroke-width="2.6"/>
<line x1="844.80" y1="1213.39" x2="847.00" y2="1213.39" stroke="#000" stroke-width="0.8"/>
<line x1="844.80" y1="1207.65" x2="847.00" y2="1207.65" stroke="#000" stroke-width="0.8"/>
<line x1="844.80" y1="1203.57" x2="847.00" y2="1203.57" stroke="#000" stroke-width="0.8"/>
<line x1="844.80" y1="1200.41" x2="847.00" y2="1200.41" stroke="#000" stroke-width="0.8"/>
<line x1="844.80" y1="1197.83" x2="847.00" y2="1197.83" stroke="#000" stroke-width="0.8"/>
<line x1="844.80" y1="1195.65" x2="847.00" y2="1195.65" stroke="#000" stroke-width="0.8"/>
<line x1="844.80" y1="1193.76" x2="847.00" y2="1193.76" stroke="#000" stroke-width="0.8"/>
<line x1="844.80" y1="1192.09" x2="847.00" y2="1192.09" stroke="#000" stroke-width="0.8"/>
<line x1="843.40" y1="1190.60" x2="847.00" y2="1190.60" stroke="#000" stroke-width="1.6"/>
<line x1="844.80" y1="1180.79" x2="847.00" y2="1180.79" stroke="#000" stroke-width="0.8"/>
<line x1="844.80" y1="1175.05" x2="847.00" y2="1175.05" stroke="#000" stroke-width="0.8"/>
<line x1="844.80" y1="1170.97" x2="847.00" y2="1170.97" stroke="#000" stroke-width="0.8"/>
<line x1="844.80" y1="1167.81" x2="847.00" y2="1167.81" stroke="#000" stroke-width="0.8"/>
<line x1="844.80" y1="1165.23" x2="847.00" y2="1165.23" stroke="#000" stroke-width="0.8"/>
<line x1="844.80" y1="1163.05" x2="847.00" y2="1163.05" stroke="#000" stroke-width="0.8"/>
<line x1="844.80" y1="1161.16" x2="847.00" y2="1161.16" stroke="#000" stroke-width="0.8"/>
<line x1="844.80" y1="1159.49" x2="847.00" y2="1159.49" stroke="#000" stroke-width="0.8"/>
<line x1="843.40" y1="1158.00" x2="847.00" y2="1158.00" stroke="#000" stroke-width="1.6"/>
<line x1="844.80" y1="1148.19" x2="847.00" y2="1148.19" stroke="#000" stroke-width="0.8"/>
<line x1="844.80" y1="1142.45" x2="847.00" y2="1142.45" stroke="#000" stroke-width="0.8"/>
<line x1="844.80" y1="1138.37" x2="847.00" y2="1138.37" stroke="#000" stroke-width="0.8"/>
<line x1="844.80" y1="1135.21" x2="847.00" y2="1135.21" stroke="#000" stroke-width="0.8"/>
<line x1="844.80" y1="1132.63" x2="847.00" y2="1132.63" stroke="#000" stroke-width="0.8"/>
<line x1="844.80" y1="1130.45" x2="847.00" y2="1130.45" stroke="#000" stroke-width="0.8"/>
<line x1="844.80" y1="1128.56" x2="847.00" y2="1128.56" stroke="#000" stroke-width="0.8"/>
<line x1="844.80" y1="1126.89" x2="847.00" y2="1126.89" stroke="#000" stroke-width="0.8"/>
<line x1="843.40" y1="1125.40" x2="847.00" y2="1125.40" stroke="#000" stroke-width="1.6"/>
<line x1="844.80" y1="1115.59" x2="847.00" y2="1115.59" stroke="#000" stroke-width="0.8"/>
<line x1="844.80" y1="1109.85" x2="847.00" y2="1109.85" stroke="#000" stroke-width="0.8"/>
<line x1="844.80" y1="1105.77" x2="847.00" y2="1105.77" stroke="#000" stroke-width="0.8"/>
<line x1="844.80" y1="1102.61" x2="847.00" y2="1102.61" stroke="#000" stroke-width="0.8"/>
<line x1="844.80" y1="1100.03" x2="847.00" y2="1100.03" stroke="#000" stroke-width="0.8"/>
<line x1="844.80" y1="1097.85" x2="847.00" y2="1097.85" stroke="#000" stroke-width="0.8"/>
<line x1="844.80" y1="1095.96" x2="847.00" y2="1095.96" stroke="#000" stroke-width="0.8"/>
<line x1="844.80" y1="1094.29" x2="847.00" y2="1094.29" stroke="#000" stroke-width="0.8"/>
<line x1="843.40" y1="1092.80" x2="847.00" y2="1092.80" stroke="#000" stroke-width="1.6"/>
<line x1="844.80" y1="1082.99" x2="847.00" y2="1082.99" stroke="#000" stroke-width="0.8"/>
<path d="M874.2 1159.1h.01M879.4 1164.9h.01M875.8 1162.1h.01M885.2 1156.2h.01M877.5 1163.2h.01M875.1 1162.1h.01M878.9 1159.4h.01M874.4 1169.3h.01M878.2 1166.1h.01M875.8 1159.0h.01M876.5 1161.2h.01M877.2 1164.0h.01M880.0 1157.4h.01M879.0 1157.7h.01M878.1 1158.7h.01M879.6 1160.1h.01M875.8 1158.8h.01M879.8 1159.6h.01M878.0 1163.0h.01M878.4 1160.0h.01M875.7 1167.4h.01M877.3 1160.8h.01M875.8 1162.3h.01M873.6 1164.2h.01M873.5 1164.5h.01M877.1 1167.5h.01M874.7 1170.3h.01M874.4 1164.2h.01M876.8 1161.0h.01M873.0 1164.5h.01M879.7 1159.9h.01M875.3 1163.3h.01M875.8 1165.7h.01M880.2 1157.6h.01M874.4 1163.9h.01M871.8 1169.3h.01M876.5 1158.7h.01M875.6 1162.1h.01M878.4 1159.8h.01M875.7 1162.6h.01M877.0 1163.5h.01M874.9 1162.6h.01M875.1 1166.4h.01M877.0 1160.6h.01M881.8 1163.4h.01M877.1 1161.3h.01M885.1 1156.3h.01M871.3 1167.4h.01M875.3 1168.6h.01M877.5 1161.5h.01M879.5 1161.1h.01M878.4 1157.2h.01M878.4 1160.2h.01M879.1 1163.8h.01M874.7 1166.5h.01M876.5 1164.5h.01M874.2 1163.8h.01M875.3 1160.3h.01M880.4 1159.0h.01M877.1 1160.4h.01M876.2 1165.5h.01M876.8 1162.6h.01M875.0 1164.0h.01M879.0 1153.9h.01M881.2 1163.0h.01M875.3 1160.9h.01M877.9 1163.2h.01M875.8 1167.0h.01M876.1 1165.9h.01M876.2 1161.6h.01M874.9 1162.9h.01M875.6 1163.7h.01M881.3 1152.5h.01M872.7 1164.9h.01M878.6 1161.1h.01M876.9 1160.8h.01M878.5 1160.0h.01M876.3 1166.6h.01M876.9 1159.6h.01M876.9 1166.2h.01M877.9 1165.5h.01M877.7 1160.6h.01M878.2 1163.6h.01M878.4 1164.7h.01M879.6 1162.8h.01M872.3 1167.3h.01M877.4 1164.7h.01M879.0 1161.6h.01M874.3 1163.6h.01M878.5 1160.3h.01M876.4 1162.2h.01M877.1 1165.0h.01M875.3 1164.9h.01M874.3 1164.1h.01M877.2 1159.5h.01M877.4 1159.2h.01M875.2 1165.3h.01M873.7 1163.1h.01M875.9 1160.9h.01M879.2 1159.5h.01M873.7 1165.7h.01M873.8 1167.5h.01M878.9 1160.9h.01M875.1 1165.7h.01M874.1 1166.1h.01M876.8 1160.7h.01M875.9 1161.3h.01M875.6 1162.6h.01M880.3 1158.6h.01M876.3 1162.4h.01M876.8 1165.8h.01M876.8 1163.1h.01M875.9 1167.4h.01M875.4 1166.8h.01M875.1 1163.4h.01M874.8 1161.2h.01M878.7 1163.3h.01M875.7 1164.8h.01M877.8 1161.4h.01M876.1 1164.9h.01M882.0 1161.6h.01M875.6 1167.1h.01M875.1 1157.4h.01M872.7 1167.6h.01M878.7 1159.4h.01M877.6 1163.3h.01M878.8 1159.4h.01M878.3 1165.7h.01M876.6 1159.7h.01M881.0 1159.7h.01M876.9 1165.2h.01M876.4 1161.2h.01M876.1 1164.8h.01M877.7 1163.5h.01M876.9 1164.1h.01M878.1 1166.2h.01M879.6 1160.3h.01M878.4 1160.9h.01M875.3 1163.7h.01M876.4 1162.8h.01M874.2 1164.0h.01M878.6 1163.1h.01M880.6 1158.7h.01M879.4 1164.1h.01M873.5 1164.3h.01M875.5 1164.6h.01M877.5 1165.6h.01M879.5 1157.2h.01M877.8 1161.5h.01M879.5 1159.5h.01M879.5 1159.8h.01M874.0 1166.2h.01M875.9 1162.4h.01M877.2 1164.3h.01M878.6 1159.6h.01M880.9 1159.0h.01M877.6 1159.1h.01M876.7 1164.0h.01M882.6 1160.5h.01M877.2 1166.3h.01M875.5 1163.8h.01M877.8 1166.4h.01M877.8 1162.8h.01M881.4 1155.6h.01M877.5 1163.5h.01M877.1 1161.1h.01M879.3 1162.4h.01M878.4 1160.4h.01M875.4 1163.3h.01M880.9 1160.2h.01M878.4 1163.6h.01M875.7 1161.8h.01M878.1 1157.7h.01M876.3 1165.8h.01M878.4 1161.4h.01M877.0 1163.5h.01M875.3 1161.2h.01M873.5 1168.5h.01M876.3 1161.0h.01M875.3 1163.6h.01M877.4 1164.1h.01M873.2 1165.7h.01M878.8 1157.7h.01M875.2 1165.3h.01M875.8 1163.8h.01M877.8 1157.9h.01M875.7 1162.7h.01M876.3 1159.8h.01M878.0 1164.6h.01M879.0 1158.8h.01M875.8 1163.6h.01M878.4 1163.1h.01M879.7 1161.0h.01M874.9 1160.3h.01M878.4 1159.3h.01M876.1 1162.9h.01M877.0 1164.4h.01M882.1 1156.5h.01M878.2 1160.1h.01M877.4 1165.7h.01M876.3 1161.1h.01M881.9 1155.3h.01M873.8 1164.4h.01M880.3 1158.0h.01M871.9 1167.5h.01M875.7 1166.8h.01M878.0 1161.5h.01M877.4 1161.1h.01M873.0 1161.5h.01M878.0 1163.5h.01M876.4 1165.4h.01M875.3 1164.9h.01M881.0 1158.3h.01M879.0 1157.9h.01M879.4 1159.7h.01M877.3 1161.3h.01M875.7 1165.2h.01M875.0 1167.0h.01M874.1 1165.6h.01M876.1 1166.1h.01M876.0 1164.3h.01M874.9 1161.6h.01M878.3 1161.0h.01M878.7 1158.8h.01M881.8 1156.9h.01M875.9 1160.4h.01M879.3 1156.6h.01M880.1 1154.8h.01M875.3 1163.3h.01M876.2 1162.7h.01M875.7 1163.1h.01M879.0 1158.7h.01M880.7 1160.8h.01M876.4 1163.8h.01M875.5 1164.3h.01M872.8 1167.9h.01M876.5 1160.0h.01M874.9 1165.3h.01M879.8 1155.3h.01M878.8 1160.9h.01M879.6 1160.6h.01M879.1 1161.1h.01M881.2 1152.9h.01M876.6 1162.6h.01M876.4 1161.0h.01M882.5 1160.1h.01M876.4 1162.0h.01M878.8 1154.0h.01M876.1 1163.7h.01M874.9 1162.6h.01M876.7 1165.5h.01M878.9 1162.6h.01M880.4 1160.7h.01M876.9 1163.5h.01M875.6 1162.6h.01M881.7 1159.0h.01M878.2 1164.7h.01M877.3 1161.7h.01M878.4 1158.9h.01M872.0 1162.1h.01M878.4 1158.1h.01M876.0 1162.4h.01M880.7 1161.4h.01M874.8 1165.6h.01M878.0 1158.4h.01M879.8 1164.0h.01M880.8 1161.1h.01M876.0 1158.1h.01M877.9 1160.0h.01M874.9 1167.2h.01M876.9 1165.7h.01M878.0 1163.7h.01M878.4 1159.6h.01M875.5 1167.1h.01M874.3 1164.8h.01M880.2 1160.5h.01M875.1 1165.2h.01M877.9 1159.4h.01M879.7 1158.8h.01M874.0 1166.3h.01M876.1 1160.9h.01M875.7 1161.1h.01M873.9 1167.7h.01M878.5 1162.8h.01M879.8 1158.3h.01M875.8 1163.3h.01M878.9 1159.3h.01M876.7 1164.5h.01M877.6 1159.2h.01M877.5 1160.3h.01M874.1 1167.1h.01M874.0 1163.7h.01M876.1 1162.5h.01M879.7 1162.1h.01M877.2 1166.1h.01M876.5 1163.3h.01M877.3 1159.2h.01M877.2 1162.8h.01M879.5 1164.7h.01M875.6 1168.3h.01M873.9 1167.2h.01M879.3 1158.3h.01M879.4 1163.7h.01M879.5 1159.8h.01M879.6 1157.0h.01M882.0 1155.1h.01M877.7 1161.9h.01M878.0 1166.7h.01M874.7 1162.5h.01M876.3 1165.1h.01M878.2 1161.2h.01M876.8 1158.7h.01M878.9 1162.8h.01M878.7 1161.2h.01M876.8 1162.0h.01M879.0 1161.4h.01M876.4 1165.5h.01M876.0 1164.7h.01M878.1 1157.2h.01M875.1 1164.6h.01M876.7 1163.2h.01M878.3 1163.0h.01M875.6 1162.7h.01M879.6 1157.1h.01M877.5 1166.2h.01M873.0 1167.9h.01M874.4 1164.8h.01M878.8 1161.8h.01M875.2 1164.9h.01M880.7 1154.0h.01M880.9 1160.3h.01M881.1 1155.4h.01M878.1 1156.3h.01M876.8 1162.5h.01M877.5 1162.3h.01M878.3 1161.8h.01M877.8 1162.0h.01M877.9 1158.1h.01M876.1 1166.8h.01M877.8 1158.7h.01M881.1 1160.1h.01M880.5 1160.4h.01M879.5 1161.6h.01M874.4 1166.1h.01M878.5 1161.8h.01M874.3 1161.6h.01M876.6 1161.7h.01M882.2 1161.8h.01M877.3 1161.4h.01M874.8 1166.2h.01M877.1 1165.5h.01M876.3 1163.6h.01M874.7 1163.7h.01M879.5 1158.7h.01M877.0 1165.8h.01M876.4 1166.3h.01M877.7 1160.2h.01M876.5 1160.4h.01M873.4 1162.7h.01M877.5 1161.2h.01M877.6 1162.5h.01M878.3 1159.8h.01M874.5 1164.4h.01M875.6 1167.2h.01M879.0 1160.4h.01M875.0 1164.8h.01M876.7 1159.7h.01M878.7 1161.4h.01M877.2 1161.2h.01M867.6 1170.7h.01M877.1 1163.5h.01M878.7 1160.2h.01M874.2 1165.8h.01M881.5 1156.4h.01M871.8 1164.9h.01M875.6 1167.7h.01M874.5 1162.7h.01M880.2 1166.2h.01M880.1 1160.7h.01M878.9 1157.3h.01M878.3 1155.9h.01M881.6 1156.8h.01M878.2 1158.3h.01M876.7 1166.8h.01M878.4 1161.5h.01M877.1 1162.0h.01M879.5 1158.8h.01M875.5 1168.2h.01M876.8 1160.5h.01M877.1 1164.4h.01M878.4 1163.2h.01M875.9 1166.0h.01M871.1 1166.7h.01M878.8 1161.7h.01M875.3 1166.5h.01M876.6 1161.5h.01M874.2 1165.3h.01M879.8 1161.1h.01M875.1 1165.6h.01M878.5 1159.5h.01M879.4 1162.8h.01M879.3 1155.8h.01M881.6 1159.0h.01M878.4 1162.8h.01M875.8 1161.7h.01M876.4 1162.9h.01M876.4 1159.5h.01M878.0 1161.8h.01M877.0 1160.6h.01M879.5 1161.4h.01M874.8 1162.3h.01M878.6 1163.7h.01M875.6 1167.5h.01M875.2 1166.7h.01M872.6 1166.9h.01M880.1 1159.1h.01M875.9 1168.1h.01M877.7 1159.6h.01M874.4 1163.4h.01M879.3 1162.5h.01M892.6 1160.2h.01M895.1 1159.8h.01M898.0 1161.5h.01M896.4 1160.7h.01M890.8 1159.9h.01M902.1 1161.7h.01M895.6 1161.8h.01M879.6 1160.7h.01M881.9 1163.1h.01M885.6 1161.9h.01M887.1 1161.9h.01M900.1 1164.3h.01M889.6 1163.3h.01M880.9 1164.0h.01M888.6 1162.8h.01M885.4 1161.7h.01M882.8 1164.5h.01M900.2 1160.2h.01M887.9 1161.3h.01M901.5 1159.4h.01M884.3 1161.9h.01M898.7 1158.9h.01M901.5 1159.2h.01M891.9 1161.3h.01M894.8 1163.1h.01M881.4 1164.4h.01M883.0 1163.5h.01M901.8 1161.0h.01M879.9 1164.4h.01M894.9 1160.0h.01M889.5 1160.5h.01M898.5 1160.9h.01M879.1 1162.3h.01M903.3 1161.5h.01M896.6 1163.2h.01M888.3 1162.3h.01M892.7 1159.9h.01M887.4 1162.3h.01M899.3 1162.5h.01M883.1 1162.5h.01M902.7 1162.5h.01M881.4 1163.4h.01M888.8 1161.8h.01M893.5 1161.8h.01M894.1 1162.6h.01M901.6 1159.5h.01M897.5 1162.2h.01M897.7 1159.5h.01M897.2 1158.8h.01M885.7 1161.7h.01M881.2 1162.7h.01M892.0 1162.8h.01M887.0 1161.2h.01M883.0 1162.1h.01M888.0 1161.3h.01M879.8 1161.7h.01M901.1 1163.9h.01M901.8 1162.3h.01M880.6 1159.9h.01M898.5 1160.4h.01M881.6 1162.9h.01M879.4 1164.6h.01M893.7 1161.1h.01M891.2 1163.6h.01M901.2 1158.4h.01M897.6 1163.8h.01M894.5 1158.7h.01M882.3 1159.3h.01M878.5 1161.4h.01M889.5 1162.2h.01M892.4 1159.7h.01M878.9 1161.5h.01M900.6 1159.8h.01M886.0 1162.2h.01M883.1 1160.3h.01M891.4 1162.0h.01M883.7 1162.6h.01M886.2 1161.4h.01M888.8 1161.7h.01M888.7 1161.5h.01M896.4 1159.5h.01M902.0 1162.1h.01M881.8 1162.9h.01M891.5 1162.2h.01M898.9 1160.1h.01M887.5 1162.1h.01M902.9 1160.3h.01M900.0 1161.3h.01M888.4 1164.1h.01M898.0 1159.4h.01M895.4 1160.3h.01M895.1 1161.4h.01M888.4 1161.5h.01M881.5 1162.5h.01M894.0 1159.9h.01M902.6 1163.6h.01M893.1 1158.5h.01M899.5 1160.1h.01M883.2 1162.6h.01M891.4 1158.5h.01M880.4 1162.9h.01M887.8 1162.0h.01M883.7 1163.7h.01M886.2 1161.7h.01M895.3 1163.2h.01M884.8 1161.5h.01M883.4 1160.7h.01M896.2 1162.4h.01M901.2 1158.8h.01M902.0 1163.2h.01M882.5 1161.1h.01M888.4 1162.4h.01M892.1 1160.6h.01M883.5 1161.0h.01M882.4 1162.7h.01M901.7 1159.4h.01M896.0 1157.0h.01M895.7 1166.3h.01M894.4 1163.2h.01M899.9 1162.0h.01M883.6 1161.3h.01M894.9 1163.7h.01M902.2 1159.9h.01M880.9 1161.7h.01M888.1 1163.3h.01M897.5 1162.5h.01M894.6 1163.3h.01M880.1 1160.3h.01M901.5 1160.5h.01M879.8 1160.3h.01M896.5 1162.6h.01M898.0 1160.6h.01M881.6 1160.9h.01M901.8 1159.8h.01M884.9 1162.2h.01M896.8 1162.1h.01M887.2 1162.1h.01M889.7 1160.7h.01M895.8 1161.5h.01M895.1 1159.3h.01M879.2 1160.5h.01M894.4 1162.9h.01M887.9 1163.4h.01M886.1 1162.0h.01M887.0 1163.2h.01M882.7 1163.2h.01M889.3 1162.0h.01M893.8 1161.7h.01M891.0 1160.5h.01M903.1 1158.5h.01M882.6 1163.9h.01M898.8 1161.9h.01M895.0 1161.6h.01M900.1 1162.9h.01M883.4 1160.4h.01M888.6 1161.1h.01M882.4 1161.0h.01M879.4 1161.3h.01M890.6 1161.6h.01M888.8 1160.5h.01M901.5 1161.7h.01M887.6 1161.0h.01M887.5 1163.1h.01M896.6 1162.3h.01M897.4 1158.8h.01M894.0 1162.9h.01M896.8 1161.3h.01M883.0 1160.1h.01M880.6 1162.6h.01M889.4 1161.5h.01M902.1 1162.3h.01M886.8 1161.3h.01M895.0 1159.0h.01M891.6 1159.7h.01M886.5 1161.9h.01M892.2 1160.2h.01M899.1 1160.6h.01M897.6 1162.4h.01M898.8 1162.0h.01M884.7 1160.5h.01M892.4 1161.0h.01M901.9 1159.4h.01M890.5 1161.2h.01M883.9 1163.7h.01M901.1 1160.4h.01M900.6 1160.8h.01M886.2 1161.1h.01M892.7 1159.8h.01M886.0 1161.1h.01M889.7 1162.5h.01M902.2 1160.8h.01M882.4 1161.2h.01M893.6 1161.4h.01M889.2 1163.8h.01M884.7 1165.1h.01M882.5 1164.4h.01M885.4 1164.8h.01M900.2 1162.8h.01M893.9 1159.4h.01M882.2 1161.3h.01M899.2 1161.6h.01M891.3 1160.4h.01M888.9 1163.5h.01M886.3 1162.1h.01M885.2 1162.5h.01M884.5 1160.5h.01M900.4 1160.5h.01M892.5 1160.6h.01M884.6 1160.3h.01M890.1 1162.7h.01M883.1 1163.3h.01M897.2 1164.4h.01M886.1 1163.9h.01M892.9 1161.6h.01M881.6 1162.3h.01M896.6 1159.9h.01M886.1 1164.6h.01M889.7 1163.1h.01M892.6 1160.5h.01M886.4 1163.2h.01M898.3 1160.3h.01M899.3 1161.2h.01M878.7 1162.0h.01M898.6 1159.8h.01M885.8 1159.6h.01M900.0 1160.6h.01M879.6 1161.6h.01M882.9 1162.8h.01M885.7 1164.4h.01M891.8 1162.4h.01M895.2 1160.7h.01M883.4 1162.9h.01M887.4 1162.3h.01M893.9 1160.9h.01M888.1 1160.7h.01M882.3 1162.7h.01M895.7 1159.9h.01M879.6 1162.1h.01M891.4 1162.1h.01M899.5 1159.3h.01M895.8 1162.3h.01M885.4 1162.1h.01M880.3 1163.3h.01M889.5 1162.1h.01M891.2 1161.0h.01M889.2 1160.9h.01M884.3 1161.2h.01M889.4 1158.9h.01M893.2 1161.0h.01M893.8 1160.7h.01M900.3 1164.2h.01M896.3 1162.0h.01M897.4 1158.9h.01M883.6 1162.8h.01M891.3 1160.2h.01M880.9 1162.2h.01M899.4 1161.1h.01M885.7 1162.0h.01M879.8 1163.1h.01M889.2 1159.2h.01M898.3 1158.1h.01M901.7 1162.4h.01M903.1 1160.9h.01M885.1 1161.4h.01M902.7 1163.4h.01M892.5 1162.1h.01M884.8 1160.9h.01M896.8 1159.8h.01M897.2 1161.7h.01M899.3 1160.2h.01M879.1 1162.6h.01M896.3 1163.4h.01M897.2 1161.8h.01M892.6 1161.8h.01M900.8 1159.5h.01M885.2 1161.8h.01M896.9 1162.6h.01M902.4 1159.7h.01M896.2 1162.3h.01M880.6 1162.1h.01M879.1 1164.4h.01M897.2 1162.1h.01M891.7 1161.1h.01M882.6 1162.8h.01M901.8 1160.9h.01M894.8 1161.9h.01M899.1 1161.4h.01M885.1 1161.1h.01M901.9 1159.8h.01M898.4 1159.1h.01M882.7 1161.6h.01M888.5 1160.9h.01M886.3 1161.5h.01M880.2 1161.7h.01M901.4 1162.0h.01M884.1 1161.3h.01M883.6 1160.4h.01M889.7 1161.8h.01M893.2 1164.1h.01M885.7 1159.8h.01M878.9 1162.5h.01M894.6 1161.3h.01M899.6 1161.7h.01M895.4 1162.0h.01M881.4 1163.4h.01M882.7 1160.5h.01M900.9 1161.9h.01M883.8 1162.0h.01M888.1 1162.2h.01M897.7 1160.4h.01M900.6 1160.8h.01M885.8 1160.9h.01M899.0 1160.9h.01M883.4 1161.9h.01M883.0 1160.3h.01M879.6 1159.1h.01M900.0 1163.2h.01M882.3 1163.2h.01M898.0 1161.8h.01M880.1 1161.1h.01M901.5 1161.7h.01M891.0 1163.6h.01M895.2 1161.1h.01M893.1 1161.2h.01M885.4 1160.8h.01M895.6 1163.4h.01M903.3 1159.6h.01M887.3 1163.3h.01M885.4 1161.2h.01M886.5 1163.6h.01M905.3 1158.8h.01M907.7 1156.2h.01M904.0 1160.8h.01M903.4 1160.9h.01M904.2 1156.9h.01M911.7 1154.1h.01M907.8 1157.8h.01M912.2 1153.4h.01M907.0 1156.9h.01M903.7 1155.3h.01M903.0 1159.8h.01M905.6 1156.9h.01M904.5 1162.1h.01M906.3 1160.9h.01M908.1 1155.7h.01M911.7 1154.3h.01M903.8 1160.1h.01M907.5 1157.6h.01M910.1 1154.5h.01M905.7 1159.9h.01M904.6 1162.8h.01M903.1 1159.4h.01M901.9 1157.5h.01M903.5 1159.1h.01M904.1 1153.7h.01M910.3 1154.7h.01M904.5 1158.2h.01M907.2 1156.3h.01M905.0 1160.9h.01M908.0 1157.0h.01M911.9 1155.3h.01M908.8 1158.5h.01M904.8 1156.3h.01M908.3 1157.9h.01M910.1 1158.2h.01M906.6 1158.7h.01M905.9 1158.2h.01M906.3 1156.7h.01M906.1 1155.7h.01M905.7 1156.0h.01M904.6 1158.5h.01M905.9 1152.0h.01M906.3 1152.0h.01M902.9 1158.9h.01M907.2 1157.7h.01M909.0 1156.6h.01M907.3 1155.6h.01M907.9 1158.2h.01M910.8 1157.2h.01M909.4 1157.4h.01M907.9 1160.0h.01M912.1 1156.5h.01M911.2 1151.8h.01M908.6 1155.7h.01M905.0 1162.0h.01M907.0 1157.9h.01M907.8 1157.7h.01M906.7 1159.1h.01M908.0 1157.6h.01M907.5 1155.1h.01M905.0 1157.7h.01M912.4 1153.3h.01M906.0 1161.3h.01M905.5 1159.8h.01M904.6 1158.7h.01M910.1 1153.7h.01M904.0 1160.6h.01M901.9 1159.9h.01M908.7 1158.8h.01M908.3 1159.8h.01M910.7 1158.0h.01M904.4 1159.2h.01M907.5 1158.7h.01M906.8 1156.6h.01M906.9 1157.3h.01M909.1 1156.3h.01M908.7 1156.3h.01M903.8 1159.5h.01M904.7 1155.8h.01M903.6 1157.8h.01M907.9 1153.6h.01M909.6 1154.3h.01M905.9 1157.3h.01M901.3 1161.5h.01M905.3 1158.2h.01M902.3 1158.3h.01M907.2 1156.8h.01M905.5 1158.6h.01M901.2 1160.2h.01M905.1 1160.8h.01M902.3 1158.8h.01M904.8 1160.6h.01M909.3 1156.1h.01M904.5 1157.4h.01M900.6 1159.1h.01M905.5 1157.9h.01M910.5 1155.7h.01M909.8 1157.4h.01M907.6 1157.1h.01M906.8 1157.6h.01M908.0 1156.5h.01M906.9 1155.0h.01M905.3 1161.8h.01M901.4 1161.8h.01M905.9 1157.2h.01M905.0 1157.1h.01M902.5 1162.7h.01M908.9 1157.9h.01M908.3 1154.5h.01M906.8 1160.4h.01M907.6 1156.1h.01M903.9 1160.6h.01M911.9 1154.6h.01M907.2 1159.2h.01M907.3 1159.2h.01M906.3 1154.8h.01M905.1 1159.3h.01M906.9 1155.3h.01M906.0 1161.2h.01M906.5 1157.2h.01M906.8 1155.6h.01M904.1 1158.3h.01M905.5 1154.7h.01M905.5 1159.8h.01M903.2 1159.3h.01M902.8 1158.4h.01M905.7 1157.6h.01M906.6 1157.1h.01M908.8 1158.2h.01M905.2 1159.7h.01M903.6 1160.5h.01M905.6 1157.1h.01M907.6 1155.2h.01M906.7 1160.1h.01M906.8 1155.2h.01M908.1 1154.7h.01M908.8 1155.7h.01M904.1 1160.6h.01M904.8 1156.4h.01M904.3 1158.7h.01M902.7 1159.5h.01M902.8 1157.7h.01M909.3 1156.6h.01M909.6 1159.9h.01M909.3 1157.8h.01M908.8 1156.3h.01M906.8 1156.5h.01M907.9 1156.2h.01M905.7 1156.8h.01M906.1 1156.7h.01M904.3 1160.4h.01M908.9 1159.8h.01M903.9 1158.2h.01M903.1 1158.7h.01M900.6 1159.8h.01M904.8 1159.7h.01M909.4 1156.9h.01M904.8 1158.9h.01M903.4 1158.1h.01M910.2 1157.3h.01M907.4 1156.5h.01M904.7 1156.9h.01M903.8 1155.2h.01M907.6 1157.4h.01M906.4 1156.0h.01M905.8 1156.9h.01M910.0 1152.8h.01M902.8 1158.4h.01M912.2 1156.2h.01M907.4 1159.1h.01M904.7 1158.8h.01M900.3 1157.5h.01M911.0 1151.8h.01M905.4 1154.6h.01M900.5 1158.5h.01M903.0 1158.3h.01M906.4 1155.1h.01M906.7 1154.3h.01M905.9 1158.3h.01M908.7 1152.6h.01M905.5 1158.8h.01M907.6 1155.8h.01M908.0 1156.7h.01M910.6 1157.0h.01M908.4 1154.9h.01M906.2 1157.3h.01M909.0 1157.2h.01M907.4 1156.3h.01M902.5 1157.4h.01M907.8 1158.3h.01M903.8 1158.1h.01M904.2 1158.0h.01M905.2 1158.8h.01M906.7 1158.0h.01M908.9 1155.4h.01M903.8 1159.8h.01M906.0 1156.5h.01M907.4 1155.9h.01M907.8 1154.8h.01M906.4 1158.0h.01M907.4 1158.6h.01M908.9 1155.6h.01M905.7 1157.6h.01M907.7 1158.0h.01M906.0 1157.9h.01M906.2 1158.6h.01M906.2 1157.4h.01M903.3 1156.9h.01M905.5 1157.7h.01M909.7 1154.8h.01M908.4 1159.2h.01M906.3 1152.9h.01M909.3 1157.9h.01M903.3 1158.8h.01M908.5 1156.2h.01M910.0 1154.9h.01M904.5 1158.4h.01M907.1 1160.7h.01M904.9 1158.7h.01M902.5 1159.5h.01M909.4 1156.8h.01M904.2 1160.7h.01M907.8 1158.8h.01M906.9 1156.8h.01M903.9 1156.1h.01M903.6 1163.0h.01M908.3 1156.3h.01M909.4 1157.7h.01M909.5 1158.1h.01M902.1 1161.6h.01M907.5 1157.4h.01M910.0 1155.6h.01M906.3 1157.3h.01M902.4 1157.6h.01M899.0 1159.7h.01M909.2 1154.5h.01M903.3 1160.2h.01M905.0 1159.4h.01M905.2 1157.2h.01M903.2 1158.6h.01M908.2 1152.4h.01M905.8 1158.5h.01M905.5 1157.2h.01M905.8 1159.7h.01M903.9 1158.5h.01M907.5 1153.2h.01M907.0 1156.1h.01M903.5 1162.9h.01M908.5 1154.8h.01M907.0 1160.2h.01M907.9 1159.1h.01M909.8 1155.9h.01M904.0 1155.9h.01M907.0 1155.2h.01M906.3 1157.0h.01M904.6 1162.0h.01M905.1 1157.2h.01M906.3 1160.4h.01M904.2 1160.9h.01M908.3 1155.2h.01M908.5 1156.3h.01M908.0 1156.9h.01M906.3 1156.2h.01M901.9 1160.8h.01M908.2 1159.9h.01M904.0 1162.7h.01M908.0 1157.5h.01M906.3 1157.2h.01M905.0 1157.4h.01M904.7 1159.2h.01M905.6 1158.6h.01M905.3 1156.4h.01M908.8 1158.3h.01M910.2 1155.6h.01M909.1 1156.0h.01M905.8 1156.5h.01M910.2 1155.4h.01M902.9 1161.5h.01M906.7 1157.8h.01M906.4 1156.7h.01M904.9 1158.2h.01M906.8 1159.4h.01M908.0 1159.5h.01M902.1 1156.6h.01M905.6 1157.9h.01M905.1 1157.9h.01M904.1 1155.7h.01M910.7 1153.3h.01M909.1 1156.8h.01M906.1 1160.7h.01M904.8 1158.7h.01M909.9 1157.2h.01M900.1 1157.0h.01M906.5 1158.1h.01M906.7 1153.3h.01M906.9 1159.0h.01M905.4 1155.9h.01M904.1 1156.8h.01M906.1 1156.6h.01M909.2 1154.0h.01M905.0 1158.6h.01M904.5 1158.0h.01M902.8 1157.3h.01M902.3 1157.9h.01M903.1 1160.8h.01M909.1 1155.5h.01M907.8 1156.5h.01M906.3 1160.7h.01M909.6 1154.1h.01M902.9 1158.8h.01M905.1 1161.6h.01M908.3 1155.1h.01M909.7 1155.9h.01M903.8 1159.0h.01M905.5 1157.5h.01M911.4 1150.1h.01M906.4 1154.2h.01M905.0 1155.7h.01M903.4 1156.5h.01M910.7 1154.2h.01M907.7 1158.9h.01M905.4 1160.6h.01M902.4 1156.8h.01M905.5 1155.8h.01M906.3 1154.6h.01M908.7 1153.8h.01M901.6 1160.1h.01M907.8 1161.5h.01M905.6 1158.5h.01M907.1 1159.2h.01M907.0 1156.3h.01M902.2 1159.0h.01M908.6 1156.4h.01M910.6 1154.9h.01M903.8 1157.9h.01M907.2 1157.2h.01M906.7 1157.2h.01M908.9 1157.5h.01M909.6 1158.9h.01M904.0 1161.7h.01M904.3 1160.2h.01M907.7 1158.5h.01M903.8 1158.7h.01M903.1 1161.8h.01M906.0 1158.2h.01M908.3 1154.8h.01M905.3 1158.7h.01M906.6 1156.7h.01M905.0 1157.0h.01M906.7 1160.1h.01M907.1 1155.6h.01M902.8 1160.3h.01M903.7 1158.7h.01M907.0 1156.8h.01M907.1 1160.9h.01M907.3 1159.4h.01M907.0 1158.1h.01M906.8 1157.8h.01M904.8 1160.3h.01M902.3 1158.9h.01M908.0 1159.0h.01M905.7 1158.4h.01M906.4 1157.3h.01M904.1 1158.3h.01M906.1 1156.1h.01M907.0 1156.5h.01M901.1 1162.0h.01M905.9 1161.0h.01M908.7 1155.0h.01M911.3 1154.4h.01M907.8 1155.7h.01M905.4 1156.8h.01M906.4 1156.0h.01M907.0 1155.5h.01M911.3 1154.5h.01M909.2 1159.6h.01M904.8 1155.9h.01M904.9 1156.7h.01M909.2 1154.1h.01M904.5 1158.0h.01M904.1 1159.6h.01M905.1 1152.5h.01M905.8 1159.0h.01M907.2 1153.4h.01M907.6 1156.5h.01M904.5 1159.6h.01M906.4 1154.6h.01M903.8 1156.6h.01M904.9 1160.6h.01M905.2 1158.0h.01M906.9 1157.2h.01M906.7 1155.4h.01M909.4 1156.1h.01M905.3 1157.5h.01M905.0 1155.5h.01M912.2 1153.0h.01M912.6 1154.9h.01M905.7 1157.2h.01M906.2 1158.0h.01M902.1 1161.3h.01M905.2 1156.8h.01M905.2 1155.7h.01M905.3 1159.5h.01M908.3 1158.2h.01M905.7 1157.9h.01M903.9 1159.0h.01M906.8 1153.3h.01M907.9 1157.6h.01M905.6 1154.5h.01M901.2 1161.9h.01M909.9 1155.8h.01M903.6 1157.4h.01M903.7 1162.1h.01M904.4 1156.8h.01M902.2 1158.0h.01M904.5 1156.9h.01M910.3 1153.5h.01M906.9 1152.1h.01M906.5 1157.2h.01M904.2 1157.4h.01M912.4 1155.4h.01M907.0 1155.2h.01M904.7 1155.8h.01M905.8 1156.2h.01M901.8 1161.0h.01M909.7 1155.5h.01M906.8 1158.7h.01M903.2 1158.9h.01M905.7 1156.7h.01M909.2 1154.9h.01M903.6 1151.9h.01M903.7 1154.1h.01M904.7 1147.9h.01M905.0 1152.6h.01M905.1 1152.1h.01M904.8 1149.3h.01M903.8 1152.0h.01M902.6 1150.3h.01M905.9 1148.4h.01M905.2 1150.7h.01M905.5 1152.0h.01M905.1 1156.7h.01M903.3 1154.1h.01M906.7 1151.5h.01M905.8 1154.1h.01M905.5 1152.5h.01M904.4 1154.4h.01M905.1 1151.8h.01M903.0 1147.3h.01M905.1 1154.5h.01M902.5 1150.1h.01M904.3 1150.0h.01M906.0 1149.0h.01M907.8 1150.1h.01M905.3 1150.2h.01M904.7 1151.4h.01M904.2 1153.1h.01M903.4 1154.0h.01M903.6 1147.9h.01M902.4 1151.1h.01" stroke="#15150f" stroke-width="1.0" stroke-linecap="square" fill="none"/>
<path d="M905.4 1142.4h.01M906.6 1147.6h.01M903.6 1146.6h.01M904.3 1144.5h.01M903.0 1144.0h.01M904.7 1145.9h.01M903.1 1149.3h.01M904.0 1145.5h.01M905.6 1144.8h.01M905.1 1147.8h.01M905.1 1145.6h.01M906.4 1144.9h.01M901.9 1148.4h.01M905.2 1149.0h.01M902.1 1144.3h.01M902.8 1145.1h.01M905.0 1146.4h.01M904.0 1144.6h.01M903.5 1145.5h.01M903.7 1147.6h.01M906.3 1140.0h.01M905.9 1149.9h.01M903.6 1143.1h.01M905.6 1149.7h.01M902.8 1135.0h.01M904.4 1145.0h.01M906.3 1146.5h.01M904.2 1149.4h.01M905.5 1146.6h.01M908.9 1148.0h.01M902.8 1135.9h.01M905.7 1144.4h.01M902.3 1145.9h.01M904.1 1147.1h.01M903.6 1148.9h.01M905.1 1150.6h.01M908.2 1149.5h.01M903.3 1149.6h.01M903.6 1144.6h.01M904.8 1151.4h.01M904.4 1149.7h.01M902.1 1145.4h.01M903.6 1145.6h.01M902.6 1145.9h.01M904.0 1148.4h.01M905.7 1143.2h.01M905.5 1148.3h.01M905.3 1149.0h.01M904.1 1149.1h.01M908.8 1146.3h.01M905.7 1149.5h.01M905.0 1147.5h.01M902.9 1149.0h.01M904.7 1146.1h.01M903.0 1144.0h.01M903.1 1144.2h.01M905.6 1144.7h.01M903.4 1150.4h.01M903.6 1140.7h.01M904.9 1146.3h.01M904.5 1146.1h.01M901.1 1150.2h.01M904.6 1147.7h.01M901.9 1148.1h.01M904.8 1153.7h.01M905.4 1141.7h.01M903.9 1146.9h.01M904.9 1148.2h.01M903.1 1146.1h.01M904.4 1144.9h.01M935.9 1157.5h.01M919.8 1159.0h.01M936.5 1155.4h.01M955.0 1153.8h.01M945.9 1154.7h.01M949.5 1155.7h.01M925.1 1160.4h.01M922.9 1153.7h.01M931.0 1153.4h.01M939.0 1155.7h.01M944.0 1154.6h.01M951.7 1159.4h.01M932.7 1154.4h.01M959.6 1156.5h.01M918.7 1156.1h.01M910.0 1158.0h.01M942.4 1155.2h.01M936.3 1156.5h.01M931.7 1156.3h.01M914.6 1155.7h.01M940.0 1156.5h.01M943.4 1155.6h.01M957.4 1151.6h.01M956.1 1156.6h.01M957.5 1155.3h.01M956.9 1154.3h.01M940.2 1156.6h.01M927.5 1154.0h.01M927.5 1153.8h.01M920.1 1160.2h.01M917.0 1160.2h.01M920.3 1152.8h.01M936.2 1156.4h.01M956.8 1153.6h.01M937.6 1154.8h.01M925.9 1156.2h.01M947.8 1157.5h.01M952.0 1151.1h.01M944.1 1156.2h.01M930.6 1154.8h.01M935.7 1156.5h.01M913.5 1157.2h.01M941.4 1156.5h.01M938.1 1155.8h.01M942.3 1153.0h.01M935.2 1157.6h.01M930.8 1156.7h.01M912.2 1156.6h.01M938.4 1157.5h.01M912.9 1155.8h.01M922.3 1155.9h.01M934.0 1154.0h.01M912.8 1158.5h.01M942.0 1154.3h.01M949.5 1156.6h.01M935.7 1154.8h.01M921.8 1156.5h.01M938.6 1153.1h.01M938.4 1158.7h.01M945.3 1156.4h.01M936.3 1159.6h.01M956.9 1156.6h.01M929.9 1156.2h.01M939.7 1155.8h.01M913.4 1156.9h.01M942.2 1154.7h.01M911.8 1161.4h.01M919.4 1161.2h.01M935.6 1155.3h.01M917.4 1155.9h.01M919.0 1156.1h.01M940.5 1158.9h.01M919.6 1154.1h.01M928.3 1158.7h.01M943.5 1153.4h.01M947.1 1155.5h.01M910.4 1159.7h.01M951.4 1154.4h.01M937.9 1159.3h.01M925.6 1154.9h.01M915.6 1157.0h.01M909.5 1156.1h.01M927.8 1155.0h.01M956.5 1159.1h.01M929.6 1157.8h.01M953.4 1157.3h.01M950.1 1156.8h.01M941.0 1155.5h.01M920.6 1156.5h.01M936.3 1157.4h.01M936.0 1155.4h.01M916.3 1156.8h.01M939.9 1156.7h.01M949.7 1160.0h.01M950.2 1153.2h.01M925.3 1154.8h.01M927.2 1159.1h.01M918.0 1153.1h.01M945.2 1154.0h.01M946.7 1159.5h.01M927.2 1154.1h.01M950.7 1154.8h.01M924.0 1159.4h.01M951.8 1157.3h.01M944.3 1155.7h.01M941.8 1157.4h.01M910.4 1158.1h.01M920.0 1157.7h.01M955.5 1155.1h.01M951.1 1153.0h.01M959.8 1155.9h.01M942.5 1157.4h.01M926.5 1157.0h.01M911.4 1156.6h.01M920.4 1155.9h.01M935.4 1156.0h.01M933.9 1158.4h.01M954.6 1154.0h.01M941.6 1155.4h.01M952.6 1155.0h.01M920.8 1153.6h.01M938.6 1157.3h.01M950.2 1156.2h.01M935.0 1153.6h.01M958.6 1152.8h.01M917.0 1157.6h.01M941.5 1154.4h.01M959.2 1155.5h.01M945.9 1156.5h.01M918.3 1158.1h.01M952.5 1151.2h.01M930.0 1152.1h.01M956.7 1154.9h.01M944.4 1154.2h.01M951.7 1154.8h.01M941.2 1156.3h.01M912.1 1154.0h.01M910.8 1156.1h.01M944.3 1154.0h.01M923.5 1155.2h.01M919.2 1157.6h.01M926.6 1156.2h.01M920.3 1159.5h.01M922.0 1155.8h.01M921.3 1153.2h.01M957.9 1156.5h.01M918.3 1160.4h.01M929.9 1160.0h.01M931.5 1155.9h.01M927.7 1155.7h.01M953.0 1154.4h.01M928.1 1151.9h.01M928.4 1155.2h.01M956.3 1158.6h.01M937.0 1155.4h.01M959.5 1155.3h.01M928.6 1158.2h.01M951.0 1158.1h.01M911.7 1160.2h.01M926.2 1156.8h.01M926.0 1154.3h.01M917.9 1157.2h.01M956.3 1155.8h.01M923.6 1155.6h.01M950.9 1155.0h.01M932.0 1158.6h.01M933.7 1154.1h.01M957.3 1154.2h.01M920.8 1158.4h.01M938.4 1154.6h.01M922.2 1153.5h.01M946.6 1155.5h.01M914.3 1156.7h.01M947.5 1152.7h.01M937.2 1158.2h.01M937.8 1158.8h.01M914.1 1157.4h.01M940.5 1157.5h.01M927.4 1158.4h.01M950.5 1153.8h.01M945.2 1158.1h.01M948.1 1157.5h.01M954.1 1156.6h.01M949.3 1154.1h.01M938.8 1160.5h.01M951.0 1151.2h.01M940.6 1152.7h.01M923.4 1152.1h.01M948.1 1157.8h.01M921.4 1159.1h.01M932.6 1153.8h.01M951.3 1155.2h.01M920.5 1157.3h.01M929.3 1158.8h.01M951.1 1157.1h.01M958.3 1154.0h.01M923.9 1154.8h.01M949.1 1156.8h.01M927.3 1160.1h.01M919.1 1156.7h.01M938.1 1157.2h.01M911.4 1155.3h.01M945.9 1155.0h.01M928.9 1160.0h.01M950.4 1153.5h.01M923.5 1158.9h.01M948.7 1157.8h.01M919.2 1157.4h.01M948.0 1159.1h.01M916.8 1155.9h.01M918.0 1158.5h.01M932.5 1154.1h.01M940.7 1156.8h.01M932.2 1154.2h.01M942.4 1158.1h.01M953.1 1155.8h.01M916.2 1157.8h.01M956.8 1154.4h.01M955.4 1153.7h.01M934.0 1157.7h.01M920.9 1157.2h.01M950.2 1157.1h.01M918.0 1156.0h.01M930.1 1161.0h.01M929.3 1157.1h.01M952.5 1158.8h.01M958.4 1157.9h.01M916.1 1156.4h.01M956.7 1157.0h.01M924.5 1156.8h.01M951.1 1154.9h.01M933.1 1157.0h.01M959.3 1154.7h.01M923.1 1160.1h.01M936.3 1158.5h.01M934.4 1153.1h.01M955.6 1151.7h.01M920.2 1158.3h.01M935.4 1155.2h.01M929.5 1153.8h.01M927.3 1156.7h.01M937.4 1156.0h.01M923.7 1155.7h.01M955.0 1153.8h.01M930.5 1156.7h.01M944.2 1157.3h.01M939.1 1156.6h.01M949.0 1155.9h.01M930.3 1157.5h.01M912.2 1158.0h.01M952.9 1155.0h.01M926.5 1158.7h.01M953.0 1155.0h.01M956.5 1160.1h.01M925.9 1157.6h.01M925.5 1155.7h.01M929.7 1158.7h.01M932.2 1156.1h.01M916.7 1158.2h.01M917.4 1156.0h.01M948.0 1154.8h.01M925.4 1153.1h.01M926.4 1158.3h.01M954.9 1154.1h.01M917.3 1156.4h.01M944.8 1159.7h.01M918.7 1156.8h.01M925.3 1156.9h.01M942.7 1156.6h.01M945.4 1158.4h.01M911.8 1158.1h.01M946.1 1156.5h.01M950.2 1155.5h.01M922.7 1156.6h.01M927.6 1156.9h.01M942.9 1156.0h.01M946.5 1157.4h.01M949.0 1157.9h.01M912.2 1158.0h.01M958.7 1154.7h.01M957.3 1155.1h.01M914.9 1159.1h.01M928.9 1157.9h.01M951.0 1156.0h.01M912.7 1157.9h.01M928.5 1159.3h.01M949.8 1157.0h.01M916.3 1155.7h.01M919.3 1158.9h.01M950.8 1156.3h.01M933.3 1158.6h.01M958.3 1159.6h.01M951.0 1155.8h.01M938.7 1156.0h.01M914.8 1155.2h.01M938.8 1157.6h.01M917.4 1158.9h.01M948.5 1155.9h.01M921.4 1160.6h.01M926.3 1156.9h.01M924.6 1157.6h.01M958.3 1153.8h.01M913.1 1157.5h.01M923.7 1157.7h.01M938.3 1156.7h.01M918.4 1153.9h.01M944.0 1160.9h.01M921.5 1160.1h.01M911.7 1158.3h.01M928.3 1156.9h.01M928.4 1159.7h.01M955.4 1154.5h.01M915.8 1157.1h.01M933.2 1159.0h.01M937.5 1155.0h.01M955.1 1158.7h.01M940.8 1156.8h.01M945.7 1155.3h.01M939.4 1156.9h.01M913.8 1154.7h.01M913.6 1158.3h.01M945.8 1155.8h.01M916.2 1158.9h.01M911.6 1155.1h.01M914.5 1155.2h.01M937.5 1157.8h.01M921.8 1158.0h.01M932.5 1157.5h.01M950.9 1152.5h.01M939.4 1157.4h.01M956.3 1155.4h.01M957.9 1152.8h.01M953.2 1157.2h.01M957.5 1151.1h.01M967.2 1156.8h.01M959.3 1154.3h.01M951.9 1158.3h.01M966.0 1149.2h.01M948.3 1160.6h.01M963.2 1157.3h.01M956.8 1158.9h.01M962.5 1149.2h.01M963.5 1154.0h.01M962.0 1149.4h.01M955.0 1155.9h.01M958.5 1154.9h.01M956.4 1158.1h.01M961.7 1152.4h.01M965.3 1153.1h.01M963.6 1153.1h.01M956.3 1153.7h.01M966.6 1151.6h.01M961.6 1151.4h.01M955.8 1154.0h.01M964.0 1154.0h.01M949.9 1157.0h.01M965.9 1155.9h.01M957.5 1150.3h.01M950.3 1153.9h.01M955.8 1154.6h.01M955.5 1156.0h.01M957.7 1155.9h.01M960.8 1154.9h.01M953.2 1159.3h.01M957.9 1152.0h.01M957.2 1158.1h.01M958.9 1153.4h.01M966.9 1152.1h.01M961.8 1155.3h.01M958.0 1154.3h.01M955.2 1159.3h.01M966.0 1151.4h.01M954.4 1156.3h.01M954.0 1154.5h.01M960.4 1150.0h.01M957.6 1155.5h.01M958.3 1154.6h.01M960.1 1153.0h.01M953.9 1155.7h.01M962.6 1151.8h.01M953.1 1157.0h.01M966.8 1149.9h.01M959.2 1155.2h.01M957.0 1152.8h.01M959.2 1156.1h.01M955.1 1157.4h.01M962.7 1155.7h.01M955.2 1150.1h.01M962.1 1154.5h.01M952.9 1158.3h.01M954.2 1153.8h.01M963.1 1149.0h.01M950.1 1154.4h.01M957.7 1153.0h.01M956.3 1153.1h.01M954.7 1152.7h.01M961.6 1156.8h.01M961.9 1154.2h.01M950.4 1152.5h.01M966.9 1153.3h.01M958.1 1153.8h.01M958.2 1158.3h.01M966.2 1150.5h.01M957.5 1152.2h.01M960.6 1153.4h.01M964.4 1151.8h.01M955.5 1154.2h.01M951.6 1159.3h.01M959.7 1151.5h.01M959.0 1150.8h.01M959.8 1151.8h.01M956.7 1154.0h.01M956.1 1151.6h.01M963.0 1150.4h.01M959.4 1153.6h.01M953.4 1157.5h.01M956.3 1154.2h.01M967.0 1150.4h.01M960.3 1152.7h.01M955.8 1153.9h.01M960.1 1149.8h.01M958.3 1153.6h.01M956.1 1155.7h.01M962.2 1150.2h.01M957.6 1145.9h.01M955.9 1155.5h.01M954.3 1152.9h.01M958.7 1152.0h.01M960.5 1159.8h.01M957.8 1155.8h.01M958.4 1152.7h.01M964.3 1149.5h.01M963.8 1154.7h.01M954.2 1151.8h.01M952.6 1157.5h.01M953.7 1153.9h.01M963.5 1149.6h.01M963.1 1152.0h.01M959.4 1151.0h.01M961.5 1158.7h.01M963.1 1156.1h.01M963.0 1156.7h.01M959.3 1151.6h.01M949.8 1157.3h.01M967.4 1156.8h.01M945.0 1160.9h.01M956.4 1155.3h.01M949.9 1154.0h.01M954.6 1154.4h.01M959.4 1151.9h.01M961.4 1158.3h.01M960.1 1152.9h.01M958.0 1154.3h.01M959.4 1153.7h.01M959.8 1157.3h.01M963.5 1152.7h.01M959.3 1155.4h.01M964.4 1151.1h.01M961.7 1151.9h.01M959.6 1156.0h.01M954.8 1162.1h.01M958.9 1156.1h.01M960.1 1152.7h.01M955.8 1156.1h.01M964.5 1154.2h.01M953.1 1154.6h.01M963.5 1153.4h.01M952.1 1159.2h.01M962.7 1154.7h.01M962.3 1146.7h.01M949.3 1157.0h.01M976.2 1152.4h.01M953.3 1156.6h.01M956.9 1151.9h.01M965.5 1153.3h.01M961.3 1152.5h.01M962.6 1153.5h.01M956.4 1156.3h.01M966.6 1154.1h.01M955.0 1152.1h.01M958.1 1155.5h.01M956.7 1151.7h.01M959.5 1157.1h.01M956.6 1156.4h.01M958.5 1151.0h.01M958.0 1154.3h.01M962.1 1158.7h.01M965.1 1152.5h.01M953.9 1154.1h.01M952.4 1156.0h.01M957.0 1154.6h.01M962.1 1154.6h.01M958.1 1156.5h.01M959.6 1153.1h.01M960.6 1155.6h.01M956.2 1154.3h.01M955.7 1156.4h.01M962.3 1149.9h.01M954.8 1152.7h.01M954.3 1155.0h.01M962.6 1147.6h.01M957.1 1153.0h.01M961.8 1155.6h.01M959.0 1151.9h.01M956.3 1152.2h.01M964.3 1153.4h.01M961.8 1153.9h.01M961.6 1156.7h.01M958.9 1154.3h.01M960.3 1154.0h.01M958.7 1155.0h.01M961.3 1153.3h.01M957.1 1153.8h.01M955.4 1155.2h.01M956.6 1154.1h.01M963.8 1155.6h.01M963.1 1154.4h.01M957.7 1154.0h.01M955.0 1158.1h.01M952.1 1159.1h.01M956.2 1148.6h.01M957.8 1143.4h.01M953.2 1147.5h.01M956.6 1134.5h.01M958.3 1149.4h.01M955.5 1139.8h.01M960.7 1144.5h.01M961.1 1143.7h.01M956.2 1145.7h.01M958.9 1150.6h.01M963.8 1144.3h.01M957.6 1146.4h.01M958.8 1145.9h.01M957.3 1140.4h.01M962.5 1141.8h.01M956.6 1140.0h.01M962.0 1141.2h.01M961.4 1142.2h.01M960.6 1141.4h.01M959.4 1146.5h.01M956.9 1139.7h.01M958.4 1141.9h.01M957.3 1145.7h.01M964.1 1144.1h.01M957.7 1142.4h.01M962.3 1151.1h.01M956.3 1142.0h.01M954.3 1147.9h.01M970.6 1160.0h.01M982.1 1153.4h.01M970.9 1149.9h.01M987.5 1160.6h.01M975.7 1150.6h.01M984.5 1156.1h.01M986.8 1158.4h.01M973.0 1155.0h.01M985.8 1154.5h.01M990.2 1154.3h.01M991.2 1159.2h.01M989.6 1162.3h.01M989.4 1156.0h.01M983.0 1151.9h.01M974.6 1154.3h.01M990.7 1154.9h.01M973.2 1156.3h.01M971.3 1154.3h.01M985.3 1154.7h.01M981.8 1158.8h.01M991.7 1155.4h.01M976.1 1160.0h.01M974.4 1156.6h.01M982.9 1153.2h.01M970.5 1146.2h.01M990.2 1155.3h.01M971.3 1151.9h.01M982.0 1154.2h.01M975.6 1149.0h.01M990.4 1154.3h.01M981.7 1151.6h.01M985.7 1157.7h.01M981.9 1154.8h.01M982.7 1154.5h.01M973.7 1159.1h.01M973.8 1154.8h.01M893.8 1165.5h.01M887.0 1170.4h.01M889.1 1159.2h.01M895.7 1163.5h.01M876.1 1166.0h.01M884.0 1164.9h.01M887.0 1167.0h.01M885.4 1166.9h.01M864.8 1165.0h.01M870.1 1158.3h.01M882.4 1167.9h.01M889.9 1160.0h.01M888.7 1166.7h.01M880.8 1168.0h.01M867.2 1161.1h.01M882.8 1166.7h.01M904.5 1165.3h.01M868.0 1164.6h.01M892.2 1173.4h.01M884.3 1163.0h.01M896.7 1158.9h.01M884.0 1161.9h.01M889.6 1157.3h.01M887.0 1166.3h.01M872.2 1164.8h.01M889.2 1157.8h.01M891.2 1171.2h.01M880.0 1168.3h.01M874.4 1156.9h.01M861.6 1170.2h.01M900.7 1166.2h.01M894.9 1162.9h.01M889.8 1158.9h.01M883.9 1165.0h.01M894.2 1162.8h.01M927.8 1161.3h.01M902.9 1163.4h.01M880.9 1164.8h.01M898.4 1156.8h.01M886.6 1166.8h.01M904.3 1158.2h.01M864.2 1159.8h.01M889.7 1166.9h.01M886.0 1164.2h.01M887.2 1159.9h.01M881.7 1173.9h.01M897.9 1167.6h.01M894.6 1160.3h.01M876.9 1159.7h.01M886.6 1165.1h.01M877.1 1160.9h.01M869.7 1161.9h.01M897.6 1163.8h.01M887.8 1165.5h.01M876.5 1158.8h.01M875.5 1167.9h.01M874.7 1169.2h.01M885.1 1169.8h.01M879.2 1162.6h.01M906.5 1169.0h.01M991.8 1153.0h.01M991.8 1156.2h.01M991.8 1159.4h.01M991.8 1162.6h.01" stroke="#4a4a46" stroke-width="0.9" stroke-linecap="square" fill="none"/>
<path d="M890.9 1127.6L915.5 1123.8L920.6 1150.3L896.2 1154.6Z" fill="none" stroke="#2a2384" stroke-width="1.7" stroke-dasharray="3 2.8"/>
<path d="M943.9 1123.2L968.3 1119.1L973.2 1145.4L948.8 1149.9Z" fill="none" stroke="#2a2384" stroke-width="1.7" stroke-dasharray="3 2.8"/>
<text transform="translate(876.20 1112.70) scale(1 1.035)" font-size="23.4">2.9 %</text>
<text transform="translate(949.40 1112.70) scale(1 1.035)" font-size="23.4">1.4 %</text>
<line x1="1017.30" y1="1078.60" x2="1017.30" y2="1227.10" stroke="#000" stroke-width="1.5"/>
<line x1="1016.60" y1="1226.40" x2="1163.90" y2="1226.40" stroke="#000" stroke-width="1.5"/>
<line x1="1017.30" y1="1226.40" x2="1017.30" y2="1230.60" stroke="#000" stroke-width="1.0"/>
<line x1="1026.43" y1="1226.40" x2="1026.43" y2="1228.80" stroke="#000" stroke-width="1.0"/>
<line x1="1035.56" y1="1226.40" x2="1035.56" y2="1228.80" stroke="#000" stroke-width="1.0"/>
<line x1="1044.69" y1="1226.40" x2="1044.69" y2="1228.80" stroke="#000" stroke-width="1.0"/>
<line x1="1053.83" y1="1226.40" x2="1053.83" y2="1230.60" stroke="#000" stroke-width="1.0"/>
<line x1="1062.96" y1="1226.40" x2="1062.96" y2="1228.80" stroke="#000" stroke-width="1.0"/>
<line x1="1072.09" y1="1226.40" x2="1072.09" y2="1228.80" stroke="#000" stroke-width="1.0"/>
<line x1="1081.22" y1="1226.40" x2="1081.22" y2="1228.80" stroke="#000" stroke-width="1.0"/>
<line x1="1090.35" y1="1226.40" x2="1090.35" y2="1230.60" stroke="#000" stroke-width="1.0"/>
<line x1="1099.48" y1="1226.40" x2="1099.48" y2="1228.80" stroke="#000" stroke-width="1.0"/>
<line x1="1108.61" y1="1226.40" x2="1108.61" y2="1228.80" stroke="#000" stroke-width="1.0"/>
<line x1="1117.74" y1="1226.40" x2="1117.74" y2="1228.80" stroke="#000" stroke-width="1.0"/>
<line x1="1126.88" y1="1226.40" x2="1126.88" y2="1230.60" stroke="#000" stroke-width="1.0"/>
<line x1="1136.01" y1="1226.40" x2="1136.01" y2="1228.80" stroke="#000" stroke-width="1.0"/>
<line x1="1145.14" y1="1226.40" x2="1145.14" y2="1228.80" stroke="#000" stroke-width="1.0"/>
<line x1="1154.27" y1="1226.40" x2="1154.27" y2="1228.80" stroke="#000" stroke-width="1.0"/>
<line x1="1163.40" y1="1226.40" x2="1163.40" y2="1230.60" stroke="#000" stroke-width="1.0"/>
<line x1="1016.00" y1="1218.20" x2="1016.00" y2="1227.10" stroke="#000" stroke-width="2.6"/>
<line x1="1015.10" y1="1213.39" x2="1017.30" y2="1213.39" stroke="#000" stroke-width="0.8"/>
<line x1="1015.10" y1="1207.65" x2="1017.30" y2="1207.65" stroke="#000" stroke-width="0.8"/>
<line x1="1015.10" y1="1203.57" x2="1017.30" y2="1203.57" stroke="#000" stroke-width="0.8"/>
<line x1="1015.10" y1="1200.41" x2="1017.30" y2="1200.41" stroke="#000" stroke-width="0.8"/>
<line x1="1015.10" y1="1197.83" x2="1017.30" y2="1197.83" stroke="#000" stroke-width="0.8"/>
<line x1="1015.10" y1="1195.65" x2="1017.30" y2="1195.65" stroke="#000" stroke-width="0.8"/>
<line x1="1015.10" y1="1193.76" x2="1017.30" y2="1193.76" stroke="#000" stroke-width="0.8"/>
<line x1="1015.10" y1="1192.09" x2="1017.30" y2="1192.09" stroke="#000" stroke-width="0.8"/>
<line x1="1013.70" y1="1190.60" x2="1017.30" y2="1190.60" stroke="#000" stroke-width="1.6"/>
<line x1="1015.10" y1="1180.79" x2="1017.30" y2="1180.79" stroke="#000" stroke-width="0.8"/>
<line x1="1015.10" y1="1175.05" x2="1017.30" y2="1175.05" stroke="#000" stroke-width="0.8"/>
<line x1="1015.10" y1="1170.97" x2="1017.30" y2="1170.97" stroke="#000" stroke-width="0.8"/>
<line x1="1015.10" y1="1167.81" x2="1017.30" y2="1167.81" stroke="#000" stroke-width="0.8"/>
<line x1="1015.10" y1="1165.23" x2="1017.30" y2="1165.23" stroke="#000" stroke-width="0.8"/>
<line x1="1015.10" y1="1163.05" x2="1017.30" y2="1163.05" stroke="#000" stroke-width="0.8"/>
<line x1="1015.10" y1="1161.16" x2="1017.30" y2="1161.16" stroke="#000" stroke-width="0.8"/>
<line x1="1015.10" y1="1159.49" x2="1017.30" y2="1159.49" stroke="#000" stroke-width="0.8"/>
<line x1="1013.70" y1="1158.00" x2="1017.30" y2="1158.00" stroke="#000" stroke-width="1.6"/>
<line x1="1015.10" y1="1148.19" x2="1017.30" y2="1148.19" stroke="#000" stroke-width="0.8"/>
<line x1="1015.10" y1="1142.45" x2="1017.30" y2="1142.45" stroke="#000" stroke-width="0.8"/>
<line x1="1015.10" y1="1138.37" x2="1017.30" y2="1138.37" stroke="#000" stroke-width="0.8"/>
<line x1="1015.10" y1="1135.21" x2="1017.30" y2="1135.21" stroke="#000" stroke-width="0.8"/>
<line x1="1015.10" y1="1132.63" x2="1017.30" y2="1132.63" stroke="#000" stroke-width="0.8"/>
<line x1="1015.10" y1="1130.45" x2="1017.30" y2="1130.45" stroke="#000" stroke-width="0.8"/>
<line x1="1015.10" y1="1128.56" x2="1017.30" y2="1128.56" stroke="#000" stroke-width="0.8"/>
<line x1="1015.10" y1="1126.89" x2="1017.30" y2="1126.89" stroke="#000" stroke-width="0.8"/>
<line x1="1013.70" y1="1125.40" x2="1017.30" y2="1125.40" stroke="#000" stroke-width="1.6"/>
<line x1="1015.10" y1="1115.59" x2="1017.30" y2="1115.59" stroke="#000" stroke-width="0.8"/>
<line x1="1015.10" y1="1109.85" x2="1017.30" y2="1109.85" stroke="#000" stroke-width="0.8"/>
<line x1="1015.10" y1="1105.77" x2="1017.30" y2="1105.77" stroke="#000" stroke-width="0.8"/>
<line x1="1015.10" y1="1102.61" x2="1017.30" y2="1102.61" stroke="#000" stroke-width="0.8"/>
<line x1="1015.10" y1="1100.03" x2="1017.30" y2="1100.03" stroke="#000" stroke-width="0.8"/>
<line x1="1015.10" y1="1097.85" x2="1017.30" y2="1097.85" stroke="#000" stroke-width="0.8"/>
<line x1="1015.10" y1="1095.96" x2="1017.30" y2="1095.96" stroke="#000" stroke-width="0.8"/>
<line x1="1015.10" y1="1094.29" x2="1017.30" y2="1094.29" stroke="#000" stroke-width="0.8"/>
<line x1="1013.70" y1="1092.80" x2="1017.30" y2="1092.80" stroke="#000" stroke-width="1.6"/>
<line x1="1015.10" y1="1082.99" x2="1017.30" y2="1082.99" stroke="#000" stroke-width="0.8"/>
<path d="M1051.9 1161.6h.01M1066.8 1158.8h.01M1057.2 1161.1h.01M1065.2 1158.6h.01M1070.0 1161.2h.01M1066.0 1161.4h.01M1058.3 1159.9h.01M1062.3 1160.0h.01M1067.0 1161.3h.01M1056.8 1164.1h.01M1064.1 1161.2h.01M1060.4 1161.1h.01M1068.6 1160.9h.01M1063.1 1161.4h.01M1063.5 1161.0h.01M1065.1 1161.8h.01M1065.6 1158.9h.01M1055.2 1159.9h.01M1062.5 1160.8h.01M1062.2 1161.0h.01M1058.5 1160.0h.01M1056.8 1160.8h.01M1067.2 1160.9h.01M1054.5 1161.7h.01M1058.5 1161.5h.01M1067.6 1162.6h.01M1052.6 1158.5h.01M1062.7 1160.3h.01M1053.4 1159.5h.01M1048.0 1161.9h.01M1065.2 1162.1h.01M1071.1 1162.4h.01M1066.3 1159.2h.01M1065.9 1161.3h.01M1051.3 1162.3h.01M1057.9 1159.8h.01M1054.7 1163.5h.01M1051.0 1164.6h.01M1069.1 1158.9h.01M1055.5 1160.0h.01M1052.3 1160.1h.01M1069.1 1160.9h.01M1060.4 1160.8h.01M1051.7 1161.2h.01M1053.8 1162.2h.01M1064.8 1162.9h.01M1050.6 1163.1h.01M1047.8 1159.0h.01M1065.8 1159.6h.01M1054.6 1160.6h.01M1053.6 1164.1h.01M1054.1 1159.9h.01M1071.1 1162.4h.01M1055.7 1162.3h.01M1054.6 1161.1h.01M1062.0 1161.3h.01M1063.1 1159.0h.01M1056.9 1162.3h.01M1053.4 1162.2h.01M1057.9 1158.8h.01M1046.8 1162.1h.01M1052.5 1161.2h.01M1055.6 1160.2h.01M1059.0 1162.4h.01M1063.9 1159.5h.01M1069.5 1161.4h.01M1047.6 1161.7h.01M1052.8 1162.5h.01M1055.9 1162.4h.01M1070.2 1159.5h.01M1054.8 1160.4h.01M1048.2 1162.4h.01M1060.9 1157.9h.01M1068.4 1162.6h.01M1048.2 1163.7h.01M1052.2 1156.7h.01M1046.3 1162.7h.01M1063.0 1159.9h.01M1061.0 1159.3h.01M1048.6 1160.8h.01M1062.9 1160.0h.01M1052.5 1160.2h.01M1046.9 1159.1h.01M1064.1 1160.7h.01M1056.8 1162.4h.01M1056.6 1159.0h.01M1051.8 1159.6h.01M1063.0 1161.1h.01M1067.3 1160.2h.01M1066.8 1160.5h.01M1050.4 1157.9h.01M1045.2 1163.4h.01M1061.6 1159.4h.01M1058.7 1157.9h.01M1052.7 1162.4h.01M1060.2 1161.5h.01M1061.6 1161.9h.01M1059.0 1159.4h.01M1059.6 1159.6h.01M1053.1 1158.3h.01M1057.3 1160.4h.01M1060.1 1160.6h.01M1051.2 1162.4h.01M1058.2 1160.7h.01M1052.6 1163.1h.01M1067.5 1162.9h.01M1058.3 1159.8h.01M1062.0 1160.1h.01M1060.7 1162.6h.01M1066.2 1161.8h.01M1056.5 1161.8h.01M1046.9 1161.8h.01M1071.4 1160.5h.01M1061.0 1161.6h.01M1050.7 1162.3h.01M1047.2 1160.7h.01M1046.2 1161.5h.01M1056.0 1160.4h.01M1064.3 1161.0h.01M1048.6 1164.8h.01M1051.9 1158.9h.01M1054.7 1158.8h.01M1070.0 1159.0h.01M1052.9 1161.6h.01M1045.2 1163.4h.01M1052.3 1163.0h.01M1063.3 1163.8h.01M1053.1 1163.4h.01M1053.8 1161.5h.01M1053.5 1158.7h.01M1058.0 1159.2h.01M1046.3 1160.3h.01M1051.1 1162.7h.01M1053.8 1159.7h.01M1061.3 1159.1h.01M1063.6 1160.5h.01M1056.9 1160.3h.01M1061.3 1162.0h.01M1066.3 1160.1h.01M1069.5 1161.2h.01M1047.0 1163.3h.01M1056.4 1160.7h.01M1046.7 1162.1h.01M1062.4 1160.8h.01M1068.2 1161.6h.01M1048.3 1161.2h.01M1067.3 1161.7h.01M1049.5 1159.0h.01M1052.7 1160.7h.01M1047.9 1161.8h.01M1059.6 1159.0h.01M1061.8 1160.2h.01M1048.2 1159.1h.01M1065.1 1162.3h.01M1063.6 1161.6h.01M1049.4 1163.0h.01M1047.4 1161.3h.01M1056.5 1161.9h.01M1069.6 1160.9h.01M1054.2 1165.2h.01M1051.4 1160.8h.01M1055.0 1160.1h.01M1046.9 1161.6h.01M1067.3 1160.6h.01M1063.0 1161.8h.01M1068.8 1159.3h.01M1053.2 1158.6h.01M1050.3 1160.5h.01M1061.9 1162.7h.01M1047.6 1160.5h.01M1056.3 1158.6h.01M1060.1 1160.9h.01M1045.7 1159.7h.01M1059.3 1161.4h.01M1059.9 1162.3h.01M1051.5 1160.8h.01M1070.9 1160.9h.01M1056.8 1161.8h.01M1061.2 1156.8h.01M1064.7 1160.4h.01M1068.3 1162.2h.01M1047.9 1160.7h.01M1064.0 1161.9h.01M1064.4 1161.1h.01M1051.7 1161.3h.01M1069.5 1160.4h.01M1055.5 1160.2h.01M1054.0 1160.1h.01M1069.4 1164.2h.01M1053.3 1161.4h.01M1054.3 1164.0h.01M1068.7 1160.7h.01M1056.2 1160.4h.01M1046.5 1164.4h.01M1054.2 1160.6h.01M1067.0 1159.0h.01M1053.4 1162.4h.01M1064.8 1160.2h.01M1065.8 1159.7h.01M1054.4 1163.2h.01M1055.5 1158.9h.01M1062.3 1159.5h.01M1058.6 1161.9h.01M1064.9 1161.9h.01M1051.5 1161.1h.01M1048.6 1160.9h.01M1060.2 1162.2h.01M1054.5 1158.7h.01M1057.8 1159.9h.01M1058.6 1162.4h.01M1051.7 1162.6h.01M1051.0 1161.2h.01M1062.3 1157.3h.01M1065.1 1158.6h.01M1069.9 1160.5h.01M1065.0 1161.7h.01M1066.1 1162.6h.01M1046.6 1162.5h.01M1058.1 1161.7h.01M1064.9 1158.1h.01M1055.4 1159.9h.01M1052.7 1163.8h.01M1049.6 1160.6h.01M1059.6 1159.2h.01M1048.5 1158.6h.01M1051.1 1162.6h.01M1065.3 1163.7h.01M1068.3 1160.0h.01M1055.2 1164.5h.01M1050.9 1162.0h.01M1049.0 1163.1h.01M1049.2 1161.5h.01M1061.2 1161.3h.01M1059.4 1161.0h.01M1048.0 1160.3h.01M1065.5 1160.5h.01M1055.3 1158.9h.01M1065.2 1157.2h.01M1068.9 1159.8h.01M1065.2 1161.6h.01M1059.2 1161.4h.01M1055.0 1160.6h.01M1057.2 1159.0h.01M1071.5 1158.1h.01M1056.8 1164.0h.01M1064.0 1161.7h.01M1053.7 1159.3h.01M1052.5 1160.6h.01M1050.1 1159.7h.01M1069.3 1161.5h.01M1066.6 1159.7h.01M1061.9 1160.7h.01M1062.2 1162.0h.01M1054.6 1162.9h.01M1070.1 1160.2h.01M1065.7 1159.6h.01M1052.1 1159.2h.01M1051.5 1161.1h.01M1065.7 1161.5h.01M1055.7 1162.2h.01M1051.5 1161.9h.01M1057.7 1158.4h.01M1049.8 1162.4h.01M1049.5 1160.2h.01M1047.9 1163.1h.01M1066.2 1160.1h.01M1054.3 1160.7h.01M1053.3 1161.6h.01M1053.7 1160.6h.01M1056.7 1160.8h.01M1068.9 1162.2h.01M1051.1 1161.5h.01M1070.6 1160.2h.01M1063.4 1159.8h.01M1055.4 1163.2h.01M1064.2 1159.6h.01M1063.8 1163.1h.01M1068.1 1159.3h.01M1065.1 1158.5h.01M1055.5 1162.8h.01M1063.5 1161.8h.01M1059.1 1159.5h.01M1055.8 1161.6h.01M1061.9 1162.0h.01M1070.1 1164.6h.01M1048.3 1159.5h.01M1051.5 1160.2h.01M1058.6 1162.3h.01M1056.3 1160.9h.01M1065.1 1161.6h.01M1068.0 1159.8h.01M1061.8 1160.1h.01M1063.0 1161.4h.01M1048.3 1163.8h.01M1052.4 1162.2h.01M1047.8 1162.1h.01M1062.9 1157.4h.01M1051.2 1160.7h.01M1055.6 1159.6h.01M1049.0 1159.6h.01M1065.2 1159.4h.01M1071.6 1159.7h.01M1066.6 1161.1h.01M1060.0 1161.7h.01M1067.8 1158.7h.01M1070.4 1158.8h.01M1063.6 1161.4h.01M1047.3 1163.4h.01M1062.7 1160.1h.01M1049.2 1161.2h.01M1062.0 1160.4h.01M1065.8 1160.0h.01M1051.7 1162.1h.01M1054.5 1161.2h.01M1068.0 1160.8h.01M1059.2 1158.9h.01M1057.2 1160.4h.01M1069.0 1162.4h.01M1070.3 1161.5h.01M1060.2 1161.6h.01M1061.2 1163.4h.01M1057.1 1160.5h.01M1065.3 1160.6h.01M1055.5 1161.9h.01M1063.1 1160.1h.01M1069.0 1158.5h.01M1059.3 1159.0h.01M1048.5 1160.4h.01M1054.1 1159.6h.01M1056.8 1162.1h.01M1075.5 1158.0h.01M1075.1 1156.9h.01M1076.0 1160.4h.01M1077.4 1158.2h.01M1077.2 1158.5h.01M1077.4 1156.1h.01M1078.0 1157.0h.01M1079.3 1157.7h.01M1074.9 1162.4h.01M1076.4 1164.0h.01M1070.6 1157.3h.01M1079.4 1159.1h.01M1078.8 1159.9h.01M1075.2 1160.7h.01M1074.4 1160.8h.01M1075.7 1155.6h.01M1074.3 1156.7h.01M1077.4 1157.7h.01M1070.6 1159.9h.01M1074.1 1161.4h.01M1076.0 1162.6h.01M1077.0 1156.8h.01M1077.1 1156.1h.01M1070.0 1157.1h.01M1071.5 1156.2h.01M1073.6 1157.6h.01M1074.7 1154.6h.01M1075.4 1162.3h.01M1075.4 1156.2h.01M1076.6 1159.9h.01M1080.2 1156.0h.01M1076.3 1159.1h.01M1074.1 1159.5h.01M1074.1 1160.6h.01M1073.5 1158.5h.01M1073.0 1158.3h.01M1073.4 1157.9h.01M1069.5 1159.6h.01M1072.9 1161.0h.01M1078.8 1159.4h.01M1074.2 1160.5h.01M1080.4 1154.5h.01M1077.4 1158.8h.01M1076.7 1158.3h.01M1076.0 1161.2h.01M1070.6 1161.4h.01M1074.0 1161.8h.01M1076.6 1158.7h.01M1073.2 1156.2h.01M1077.2 1157.4h.01M1074.9 1164.6h.01M1078.9 1157.1h.01M1075.5 1159.7h.01M1077.8 1156.4h.01M1072.9 1159.6h.01M1075.3 1162.1h.01M1071.6 1160.2h.01M1071.4 1159.5h.01M1076.3 1153.8h.01M1073.3 1157.3h.01M1073.5 1162.1h.01M1068.7 1161.1h.01M1072.6 1158.4h.01M1076.1 1158.2h.01M1071.6 1158.5h.01M1075.5 1159.5h.01M1072.4 1157.4h.01M1071.9 1157.9h.01M1075.7 1158.0h.01M1071.5 1160.5h.01M1073.9 1159.6h.01M1075.3 1157.5h.01M1075.8 1153.5h.01M1074.1 1155.3h.01M1070.8 1159.2h.01M1079.7 1155.9h.01M1071.4 1157.5h.01M1069.3 1163.3h.01M1079.5 1161.0h.01M1073.5 1158.0h.01M1081.9 1159.5h.01M1070.8 1158.2h.01M1075.4 1156.9h.01M1077.9 1156.9h.01M1076.0 1157.7h.01M1074.0 1157.0h.01M1074.5 1158.0h.01M1075.7 1158.1h.01M1077.7 1156.6h.01M1077.1 1157.6h.01M1075.4 1161.5h.01M1077.3 1160.2h.01M1072.9 1158.1h.01M1074.0 1157.7h.01M1071.6 1156.3h.01M1073.9 1157.4h.01M1073.3 1160.1h.01M1077.3 1155.5h.01M1072.0 1158.3h.01M1074.3 1154.9h.01M1076.1 1159.3h.01M1073.6 1159.8h.01M1076.0 1160.8h.01M1073.2 1160.5h.01M1072.1 1159.6h.01M1074.0 1156.0h.01M1075.7 1161.7h.01M1076.1 1157.7h.01M1077.3 1158.3h.01M1075.7 1158.6h.01M1075.1 1160.3h.01M1071.3 1157.6h.01M1072.4 1160.1h.01M1074.0 1156.0h.01M1074.3 1154.3h.01M1072.6 1157.0h.01M1078.0 1159.2h.01M1075.4 1159.6h.01M1077.3 1157.4h.01M1079.0 1153.4h.01M1071.9 1160.6h.01M1069.3 1159.1h.01M1077.9 1161.7h.01M1072.8 1161.2h.01M1075.7 1159.1h.01M1076.5 1162.4h.01M1076.6 1159.3h.01M1073.5 1154.2h.01M1073.4 1163.3h.01M1069.6 1161.1h.01M1076.7 1156.0h.01M1075.2 1159.7h.01M1074.8 1159.3h.01M1077.4 1160.0h.01M1078.9 1155.6h.01M1072.8 1159.1h.01M1072.0 1158.4h.01M1071.7 1159.4h.01M1075.6 1159.2h.01M1073.4 1158.5h.01M1077.9 1159.0h.01M1071.3 1157.2h.01M1074.6 1159.3h.01M1077.2 1158.1h.01M1075.1 1162.1h.01M1076.9 1156.4h.01M1074.0 1158.3h.01M1073.5 1157.6h.01M1074.8 1159.4h.01M1076.1 1159.5h.01M1074.0 1155.7h.01M1075.2 1159.8h.01M1073.0 1160.0h.01M1074.8 1161.4h.01M1075.8 1160.2h.01M1075.2 1155.4h.01M1076.1 1159.9h.01M1070.9 1157.9h.01M1077.7 1159.6h.01M1071.1 1154.8h.01M1072.5 1159.9h.01M1075.5 1162.6h.01M1072.9 1158.9h.01M1075.2 1158.8h.01M1075.0 1154.5h.01M1075.9 1159.0h.01M1076.7 1154.5h.01M1076.8 1158.8h.01M1071.4 1163.6h.01M1072.9 1162.0h.01M1077.0 1159.4h.01M1071.5 1161.2h.01M1075.7 1154.0h.01M1077.9 1158.4h.01M1071.6 1157.3h.01M1077.8 1157.1h.01M1079.9 1161.5h.01M1073.1 1157.8h.01M1079.0 1161.0h.01M1074.8 1157.0h.01M1076.7 1159.0h.01M1076.1 1156.9h.01M1073.2 1155.7h.01M1072.8 1158.6h.01M1073.8 1162.5h.01M1074.7 1162.0h.01M1074.7 1153.1h.01M1072.8 1161.3h.01M1076.4 1157.7h.01M1072.1 1156.2h.01M1074.8 1160.8h.01M1072.0 1158.0h.01M1076.3 1156.8h.01M1075.8 1158.5h.01M1080.1 1159.1h.01M1071.5 1158.7h.01M1071.9 1158.8h.01M1072.4 1160.0h.01M1077.1 1158.5h.01M1073.6 1153.1h.01M1071.0 1161.0h.01M1072.8 1158.5h.01M1071.8 1159.0h.01M1074.1 1155.4h.01M1077.7 1160.6h.01M1075.0 1151.6h.01M1072.6 1160.3h.01M1076.2 1160.0h.01M1069.2 1156.9h.01M1074.4 1157.7h.01M1078.3 1159.0h.01M1070.7 1158.8h.01M1071.4 1158.2h.01M1077.5 1164.7h.01M1077.5 1158.6h.01M1075.3 1155.7h.01M1075.6 1155.5h.01M1078.1 1157.0h.01M1071.8 1161.4h.01M1074.7 1154.9h.01M1073.4 1162.1h.01M1070.9 1166.0h.01M1077.5 1158.7h.01M1074.3 1162.2h.01M1079.8 1155.0h.01M1074.4 1156.3h.01M1071.7 1160.1h.01M1073.9 1159.9h.01M1075.1 1157.0h.01M1079.0 1161.2h.01M1069.6 1163.9h.01M1073.9 1157.3h.01M1078.5 1156.1h.01M1074.9 1155.8h.01M1072.4 1157.2h.01M1080.5 1159.5h.01M1072.3 1155.5h.01M1078.1 1157.6h.01M1073.5 1162.3h.01M1071.6 1160.2h.01M1072.4 1162.8h.01M1072.8 1154.2h.01M1077.2 1161.6h.01M1074.3 1157.2h.01M1074.2 1160.6h.01M1076.0 1159.6h.01M1078.4 1159.9h.01M1078.4 1155.2h.01M1073.9 1159.2h.01M1071.7 1162.0h.01M1075.8 1158.0h.01M1074.2 1159.1h.01M1076.4 1159.3h.01M1082.9 1156.7h.01M1072.9 1159.0h.01M1070.1 1158.6h.01M1073.4 1156.5h.01M1075.0 1155.7h.01M1073.3 1158.9h.01M1078.0 1157.3h.01M1073.9 1159.9h.01M1071.1 1158.7h.01M1075.4 1158.6h.01M1076.4 1159.6h.01M1077.4 1160.0h.01M1074.1 1156.6h.01M1072.3 1160.9h.01M1076.8 1161.7h.01M1080.0 1156.5h.01M1072.2 1163.2h.01M1076.8 1160.9h.01M1074.2 1155.6h.01M1073.8 1160.4h.01M1075.1 1158.4h.01M1073.9 1159.3h.01M1077.1 1158.1h.01M1073.2 1159.5h.01M1073.3 1156.5h.01M1079.1 1155.0h.01M1070.1 1157.2h.01M1075.2 1159.9h.01M1068.2 1160.5h.01M1074.8 1162.8h.01M1076.5 1159.8h.01M1074.3 1159.1h.01M1075.9 1159.2h.01M1074.3 1161.8h.01M1077.1 1159.4h.01M1075.0 1155.2h.01M1071.2 1157.0h.01M1074.3 1155.4h.01M1071.4 1159.7h.01M1076.4 1158.1h.01M1073.8 1155.1h.01M1074.5 1158.6h.01M1076.4 1159.0h.01M1074.3 1157.8h.01M1075.4 1158.5h.01M1076.5 1161.4h.01M1073.0 1159.4h.01M1078.6 1159.6h.01M1070.2 1164.9h.01M1073.3 1162.9h.01M1074.6 1160.2h.01M1072.2 1163.5h.01M1075.8 1157.9h.01M1075.9 1160.9h.01M1074.6 1161.0h.01M1076.9 1158.5h.01M1075.7 1160.4h.01M1071.6 1160.2h.01M1077.1 1157.5h.01M1075.2 1156.7h.01M1069.4 1154.8h.01M1072.8 1159.2h.01M1074.5 1158.6h.01M1073.7 1162.1h.01M1074.4 1157.0h.01M1074.7 1159.2h.01M1077.6 1155.3h.01M1077.0 1154.1h.01M1071.9 1157.7h.01M1070.2 1162.9h.01M1074.1 1159.9h.01M1075.9 1159.4h.01M1076.4 1157.4h.01M1072.1 1158.3h.01M1074.8 1160.7h.01M1074.0 1156.8h.01M1076.7 1159.3h.01M1076.0 1159.1h.01M1073.5 1155.3h.01M1072.8 1153.5h.01M1077.5 1158.9h.01M1073.6 1159.2h.01M1071.5 1161.4h.01M1072.1 1155.7h.01M1074.2 1158.0h.01M1078.9 1155.7h.01M1079.0 1160.2h.01M1077.0 1157.3h.01M1072.1 1161.1h.01M1072.1 1159.3h.01M1075.0 1157.5h.01M1077.6 1157.1h.01M1077.1 1161.3h.01M1072.7 1159.4h.01M1077.3 1159.8h.01M1075.7 1159.4h.01M1075.2 1156.3h.01M1071.2 1161.8h.01M1074.4 1157.6h.01M1073.8 1159.3h.01M1077.0 1161.7h.01M1073.8 1159.7h.01M1071.7 1156.9h.01M1071.8 1160.2h.01M1074.8 1157.8h.01M1074.8 1161.3h.01M1077.9 1155.9h.01M1076.4 1155.8h.01M1072.4 1157.4h.01M1074.8 1159.4h.01M1077.2 1156.1h.01M1072.4 1160.5h.01M1076.6 1160.4h.01M1074.0 1156.7h.01M1080.6 1154.1h.01M1073.6 1163.9h.01M1072.4 1158.5h.01M1069.7 1157.4h.01M1078.0 1157.3h.01M1075.6 1156.9h.01M1071.3 1160.9h.01M1078.9 1156.7h.01M1073.5 1161.4h.01M1075.4 1159.1h.01M1073.2 1158.0h.01M1074.7 1161.3h.01M1070.0 1161.3h.01M1079.7 1156.4h.01M1072.9 1159.7h.01M1072.8 1156.1h.01M1072.2 1160.9h.01M1072.2 1160.5h.01M1075.3 1155.8h.01M1075.3 1163.4h.01M1071.9 1157.0h.01M1074.3 1161.2h.01M1076.3 1162.9h.01M1075.1 1155.0h.01M1074.7 1158.1h.01M1074.7 1158.6h.01M1072.7 1156.0h.01M1072.3 1162.4h.01M1074.3 1160.4h.01M1074.9 1157.5h.01M1072.6 1158.6h.01M1076.7 1156.9h.01M1079.2 1162.9h.01M1077.6 1160.4h.01M1072.3 1159.6h.01M1074.3 1159.3h.01M1073.7 1161.1h.01M1073.5 1156.5h.01M1076.7 1162.1h.01M1077.0 1157.5h.01M1072.5 1155.6h.01M1079.5 1157.6h.01M1073.1 1159.1h.01M1075.9 1157.8h.01M1076.4 1154.6h.01M1076.5 1154.6h.01M1076.9 1159.1h.01M1077.7 1159.7h.01M1074.2 1158.7h.01M1072.4 1160.9h.01M1076.8 1158.2h.01M1071.4 1158.9h.01M1071.2 1157.8h.01M1077.1 1154.8h.01M1075.3 1159.3h.01M1073.9 1156.2h.01M1075.6 1159.7h.01M1070.7 1158.7h.01M1074.2 1162.3h.01M1073.7 1152.3h.01M1074.9 1156.5h.01M1075.1 1153.8h.01M1073.9 1159.6h.01M1076.0 1155.6h.01M1076.8 1159.3h.01M1077.7 1158.2h.01M1068.5 1162.4h.01M1074.9 1160.8h.01M1077.2 1156.1h.01M1073.3 1158.9h.01M1074.9 1157.8h.01M1081.4 1157.6h.01M1073.5 1162.4h.01M1075.3 1160.0h.01M1069.7 1159.4h.01M1074.6 1157.8h.01M1074.0 1161.2h.01M1071.8 1158.5h.01M1071.0 1160.2h.01M1075.6 1160.2h.01M1075.8 1158.9h.01M1074.7 1161.3h.01M1075.3 1158.2h.01M1070.7 1158.7h.01M1077.7 1158.8h.01M1073.0 1155.6h.01M1077.4 1156.2h.01M1075.4 1157.0h.01M1073.4 1158.8h.01M1071.7 1158.8h.01M1078.2 1156.4h.01M1078.2 1153.5h.01M1072.1 1160.7h.01M1072.5 1163.2h.01M1074.9 1158.0h.01M1075.5 1156.6h.01M1074.8 1158.5h.01M1072.5 1163.1h.01M1077.9 1161.6h.01M1070.5 1158.0h.01M1078.5 1159.3h.01M1080.6 1154.6h.01M1073.6 1157.9h.01M1076.0 1157.9h.01M1073.1 1160.7h.01M1073.8 1158.0h.01M1075.2 1158.1h.01M1072.7 1157.5h.01M1076.2 1157.0h.01M1074.3 1158.9h.01M1073.8 1160.5h.01M1074.7 1159.0h.01M1078.4 1153.5h.01M1071.8 1156.4h.01M1072.7 1160.4h.01M1076.4 1156.5h.01M1075.8 1159.4h.01M1074.8 1157.5h.01M1073.4 1159.2h.01M1077.0 1157.5h.01M1076.1 1159.2h.01M1069.3 1164.3h.01M1076.5 1155.7h.01M1075.9 1155.9h.01M1068.8 1157.3h.01M1078.8 1158.9h.01M1073.4 1159.9h.01M1073.0 1163.2h.01M1077.8 1157.1h.01M1074.9 1158.8h.01M1072.9 1160.7h.01M1079.6 1160.4h.01M1074.1 1159.0h.01M1077.0 1158.7h.01M1078.1 1157.8h.01M1074.8 1156.6h.01M1074.1 1157.5h.01M1075.1 1158.0h.01M1077.1 1152.7h.01M1074.0 1160.0h.01M1075.8 1158.3h.01M1075.6 1156.5h.01M1073.6 1154.8h.01M1074.7 1156.8h.01M1078.5 1160.0h.01M1074.5 1158.1h.01M1073.9 1162.3h.01M1075.4 1160.7h.01M1068.8 1158.2h.01M1080.0 1156.4h.01M1074.0 1157.7h.01M1068.0 1158.5h.01M1070.1 1161.8h.01M1074.6 1153.7h.01M1071.7 1154.2h.01M1072.4 1153.8h.01M1075.5 1154.7h.01M1073.5 1151.9h.01M1072.6 1148.8h.01M1073.1 1149.5h.01M1072.1 1152.7h.01M1074.3 1149.5h.01M1073.3 1152.1h.01M1073.6 1150.8h.01M1072.7 1153.2h.01M1073.7 1149.4h.01M1072.7 1148.9h.01M1072.9 1150.9h.01M1072.9 1153.2h.01M1075.1 1149.2h.01M1073.0 1150.6h.01M1072.3 1154.4h.01M1074.2 1150.2h.01M1073.6 1152.0h.01M1073.4 1149.1h.01M1073.8 1151.5h.01M1072.9 1148.1h.01M1076.6 1151.7h.01M1074.3 1148.3h.01M1074.2 1152.3h.01M1073.8 1148.2h.01M1074.8 1150.0h.01M1073.0 1153.0h.01" stroke="#15150f" stroke-width="1.0" stroke-linecap="square" fill="none"/>
<path d="M1072.7 1147.5h.01M1071.9 1143.0h.01M1075.7 1146.3h.01M1075.3 1149.7h.01M1075.5 1139.3h.01M1074.0 1151.1h.01M1072.2 1143.5h.01M1074.5 1147.5h.01M1072.4 1150.5h.01M1076.6 1147.6h.01M1075.7 1147.6h.01M1072.0 1137.1h.01M1071.8 1144.5h.01M1072.7 1154.3h.01M1074.0 1149.4h.01M1076.9 1149.8h.01M1070.4 1142.7h.01M1074.6 1150.7h.01M1075.4 1143.3h.01M1074.5 1140.4h.01M1074.2 1143.4h.01M1073.0 1146.5h.01M1075.1 1139.9h.01M1072.7 1145.1h.01M1075.6 1149.0h.01M1077.9 1147.9h.01M1075.2 1150.9h.01M1073.0 1147.5h.01M1072.2 1145.5h.01M1072.6 1147.4h.01M1074.8 1146.7h.01M1073.1 1148.7h.01M1075.6 1149.4h.01M1071.3 1140.5h.01M1073.0 1149.3h.01M1073.8 1149.8h.01M1073.7 1143.0h.01M1072.8 1150.0h.01M1075.0 1146.0h.01M1071.5 1152.6h.01M1075.6 1146.5h.01M1074.7 1145.3h.01M1073.6 1144.6h.01M1072.9 1138.9h.01M1073.4 1142.7h.01M1071.0 1145.6h.01M1076.1 1148.3h.01M1072.8 1139.6h.01M1070.7 1146.1h.01M1072.8 1141.7h.01M1072.5 1148.8h.01M1075.3 1135.1h.01M1072.2 1144.3h.01M1073.2 1149.2h.01M1073.4 1142.9h.01M1073.8 1139.2h.01M1072.6 1141.4h.01M1071.7 1144.5h.01M1071.8 1151.5h.01M1075.5 1144.5h.01M1073.1 1149.6h.01M1073.9 1142.4h.01M1075.2 1149.4h.01M1073.6 1139.1h.01M1073.9 1146.6h.01M1072.3 1147.5h.01M1074.4 1144.9h.01M1074.2 1146.1h.01M1071.4 1138.2h.01M1070.9 1144.2h.01M1086.5 1158.3h.01M1118.9 1154.4h.01M1093.8 1157.5h.01M1099.0 1153.6h.01M1081.9 1161.4h.01M1081.2 1157.1h.01M1105.9 1157.2h.01M1093.5 1156.3h.01M1090.6 1157.2h.01M1079.1 1157.2h.01M1112.0 1154.4h.01M1113.5 1153.7h.01M1127.7 1155.7h.01M1122.1 1155.7h.01M1114.7 1154.4h.01M1081.8 1158.8h.01M1078.4 1157.3h.01M1093.7 1154.7h.01M1079.7 1158.4h.01M1095.7 1160.5h.01M1107.1 1163.3h.01M1091.6 1159.0h.01M1098.8 1156.3h.01M1084.6 1158.3h.01M1081.1 1159.4h.01M1123.3 1155.9h.01M1117.2 1152.7h.01M1095.6 1161.7h.01M1117.4 1154.1h.01M1115.0 1152.6h.01M1083.2 1157.7h.01M1113.8 1156.9h.01M1121.1 1159.6h.01M1115.6 1158.1h.01M1112.4 1157.4h.01M1128.9 1154.0h.01M1112.7 1155.7h.01M1104.3 1155.3h.01M1106.0 1155.3h.01M1112.5 1154.3h.01M1105.0 1155.2h.01M1113.6 1155.8h.01M1117.9 1158.9h.01M1085.0 1156.9h.01M1126.9 1153.3h.01M1120.4 1155.8h.01M1083.7 1158.7h.01M1098.6 1156.4h.01M1087.9 1159.4h.01M1097.2 1160.8h.01M1112.3 1157.0h.01M1120.4 1153.8h.01M1107.3 1156.0h.01M1100.0 1158.6h.01M1109.5 1159.7h.01M1122.5 1156.9h.01M1082.0 1160.1h.01M1113.9 1156.6h.01M1101.5 1161.1h.01M1124.5 1153.4h.01M1096.6 1157.2h.01M1083.3 1158.6h.01M1080.1 1154.9h.01M1103.9 1159.0h.01M1099.7 1155.9h.01M1127.9 1157.3h.01M1098.1 1157.2h.01M1091.8 1156.9h.01M1101.2 1155.5h.01M1080.5 1157.4h.01M1082.2 1156.1h.01M1087.3 1158.3h.01M1117.4 1151.7h.01M1078.8 1158.2h.01M1127.1 1152.8h.01M1081.2 1155.6h.01M1127.9 1155.6h.01M1090.1 1157.7h.01M1085.6 1159.6h.01M1115.6 1156.3h.01M1114.3 1153.9h.01M1110.7 1153.5h.01M1122.9 1155.3h.01M1108.9 1154.0h.01M1097.6 1157.4h.01M1116.8 1155.2h.01M1117.0 1157.5h.01M1091.7 1155.0h.01M1121.0 1154.8h.01M1089.2 1157.0h.01M1089.3 1155.3h.01M1090.8 1155.8h.01M1128.4 1154.1h.01M1105.6 1157.9h.01M1129.3 1154.9h.01M1107.2 1156.8h.01M1096.4 1154.3h.01M1108.4 1155.2h.01M1128.8 1158.7h.01M1086.1 1153.3h.01M1117.5 1153.5h.01M1088.7 1159.5h.01M1122.3 1155.0h.01M1109.7 1156.2h.01M1112.6 1157.6h.01M1120.9 1158.7h.01M1116.4 1161.7h.01M1101.8 1155.1h.01M1111.1 1151.7h.01M1126.6 1152.6h.01M1108.7 1158.9h.01M1108.2 1157.4h.01M1095.0 1155.6h.01M1109.3 1153.4h.01M1080.7 1163.7h.01M1093.3 1153.5h.01M1102.5 1157.5h.01M1084.6 1159.1h.01M1106.6 1154.3h.01M1101.8 1159.1h.01M1082.5 1153.5h.01M1111.4 1157.4h.01M1126.8 1155.9h.01M1110.8 1158.2h.01M1080.2 1157.1h.01M1089.6 1158.9h.01M1104.1 1156.8h.01M1080.0 1159.2h.01M1080.9 1159.3h.01M1112.6 1157.5h.01M1080.4 1155.4h.01M1079.1 1156.7h.01M1124.6 1154.0h.01M1097.2 1155.4h.01M1094.7 1155.3h.01M1111.1 1156.2h.01M1100.4 1153.8h.01M1082.9 1158.4h.01M1089.5 1156.0h.01M1082.5 1156.8h.01M1098.4 1155.1h.01M1081.2 1159.6h.01M1084.8 1159.0h.01M1091.7 1158.2h.01M1112.3 1155.7h.01M1081.1 1158.2h.01M1103.8 1156.7h.01M1092.1 1154.3h.01M1109.1 1154.6h.01M1090.6 1155.6h.01M1104.9 1159.2h.01M1080.3 1156.6h.01M1119.4 1155.4h.01M1115.4 1159.3h.01M1127.8 1155.2h.01M1098.6 1155.3h.01M1116.3 1158.9h.01M1082.4 1158.1h.01M1117.4 1158.3h.01M1097.7 1157.6h.01M1092.6 1155.3h.01M1120.0 1157.6h.01M1116.4 1156.1h.01M1105.8 1156.9h.01M1113.2 1154.0h.01M1104.0 1156.6h.01M1090.2 1159.5h.01M1092.6 1156.8h.01M1092.5 1152.8h.01M1102.7 1157.1h.01M1128.8 1150.9h.01M1128.9 1156.2h.01M1098.4 1157.1h.01M1125.3 1153.1h.01M1125.8 1156.6h.01M1090.4 1155.0h.01M1085.7 1159.2h.01M1103.1 1157.2h.01M1097.6 1156.4h.01M1119.3 1154.1h.01M1117.1 1157.4h.01M1126.1 1150.4h.01M1111.7 1154.9h.01M1081.0 1161.9h.01M1105.2 1156.5h.01M1100.7 1156.5h.01M1099.4 1158.4h.01M1088.9 1157.5h.01M1080.5 1156.5h.01M1100.6 1157.9h.01M1104.4 1153.3h.01M1118.6 1152.8h.01M1082.1 1157.8h.01M1109.2 1156.7h.01M1078.3 1158.9h.01M1122.8 1153.6h.01M1103.0 1156.9h.01M1107.4 1159.6h.01M1097.4 1158.4h.01M1087.5 1156.6h.01M1086.6 1154.3h.01M1110.2 1156.4h.01M1112.8 1157.4h.01M1102.1 1152.9h.01M1104.0 1152.9h.01M1122.4 1152.3h.01M1121.0 1152.3h.01M1118.0 1153.4h.01M1113.1 1155.4h.01M1102.9 1155.2h.01M1087.5 1157.7h.01M1089.5 1153.4h.01M1111.5 1155.0h.01M1126.5 1157.3h.01M1108.5 1155.5h.01M1114.5 1154.5h.01M1081.3 1153.8h.01M1098.4 1155.6h.01M1112.0 1156.2h.01M1129.0 1157.1h.01M1111.0 1156.2h.01M1113.9 1155.8h.01M1106.5 1151.0h.01M1081.1 1157.0h.01M1105.1 1157.8h.01M1083.3 1157.9h.01M1119.9 1154.6h.01M1127.9 1150.9h.01M1114.8 1156.6h.01M1087.3 1153.4h.01M1123.8 1156.6h.01M1090.4 1159.3h.01M1098.4 1157.6h.01M1088.6 1159.1h.01M1084.8 1158.0h.01M1117.6 1155.6h.01M1097.2 1158.9h.01M1123.2 1154.8h.01M1090.1 1158.6h.01M1108.6 1155.2h.01M1079.7 1159.5h.01M1112.4 1155.6h.01M1097.9 1153.6h.01M1121.7 1154.1h.01M1113.8 1156.9h.01M1116.9 1155.6h.01M1085.1 1158.7h.01M1126.4 1155.0h.01M1098.3 1154.0h.01M1103.8 1158.5h.01M1093.4 1154.4h.01M1080.4 1156.9h.01M1089.3 1153.9h.01M1124.9 1152.5h.01M1097.4 1154.8h.01M1089.9 1157.4h.01M1090.7 1152.5h.01M1100.2 1159.5h.01M1117.4 1152.4h.01M1106.0 1156.0h.01M1086.4 1159.1h.01M1129.0 1155.8h.01M1114.3 1153.1h.01M1081.4 1158.8h.01M1103.4 1154.4h.01M1101.3 1155.3h.01M1111.1 1154.2h.01M1099.7 1155.3h.01M1121.2 1155.2h.01M1114.9 1153.9h.01M1126.5 1151.2h.01M1113.6 1157.4h.01M1091.3 1154.5h.01M1127.8 1153.8h.01M1083.0 1161.0h.01M1085.5 1158.9h.01M1129.1 1153.2h.01M1122.3 1155.1h.01M1122.5 1157.9h.01M1102.3 1153.0h.01M1112.1 1158.0h.01M1116.8 1158.2h.01M1126.8 1154.3h.01M1083.1 1159.5h.01M1125.5 1156.3h.01M1128.9 1152.3h.01M1114.7 1156.3h.01M1119.3 1158.3h.01M1081.1 1160.8h.01M1100.5 1158.3h.01M1087.1 1157.9h.01M1103.2 1157.1h.01M1102.4 1153.7h.01M1092.6 1156.9h.01M1100.7 1156.8h.01M1084.4 1157.9h.01M1127.9 1156.4h.01M1088.4 1157.6h.01M1112.7 1156.2h.01M1129.1 1153.1h.01M1106.7 1158.0h.01M1114.4 1154.9h.01M1082.0 1154.1h.01M1107.7 1157.8h.01M1096.1 1156.5h.01M1098.0 1158.7h.01M1095.5 1153.3h.01M1125.4 1158.5h.01M1128.1 1154.1h.01M1092.2 1156.3h.01M1100.6 1157.8h.01M1122.5 1156.1h.01M1091.8 1156.5h.01M1084.2 1160.2h.01M1086.3 1160.6h.01M1112.2 1154.9h.01M1099.3 1156.1h.01M1117.6 1153.7h.01M1080.2 1161.4h.01M1092.5 1160.7h.01M1124.1 1154.1h.01M1126.9 1154.9h.01M1118.5 1153.9h.01M1134.3 1153.5h.01M1129.5 1154.6h.01M1128.4 1153.3h.01M1133.3 1154.3h.01M1134.7 1150.4h.01M1130.4 1151.4h.01M1131.7 1152.5h.01M1125.5 1156.1h.01M1124.2 1154.5h.01M1129.8 1154.0h.01M1131.5 1150.6h.01M1129.1 1156.2h.01M1127.7 1154.9h.01M1132.9 1159.4h.01M1129.3 1155.0h.01M1118.8 1156.1h.01M1131.7 1153.2h.01M1124.7 1154.7h.01M1123.7 1156.7h.01M1128.2 1153.2h.01M1120.1 1153.3h.01M1135.0 1152.2h.01M1124.8 1155.4h.01M1127.5 1155.3h.01M1128.1 1154.3h.01M1127.9 1154.8h.01M1126.1 1153.3h.01M1130.7 1154.0h.01M1130.2 1152.6h.01M1131.9 1155.4h.01M1126.1 1157.7h.01M1129.9 1151.6h.01M1124.1 1154.5h.01M1131.7 1155.6h.01M1125.3 1155.0h.01M1131.3 1153.3h.01M1124.4 1153.6h.01M1123.4 1154.4h.01M1128.7 1152.9h.01M1132.0 1152.7h.01M1124.3 1151.8h.01M1127.3 1156.7h.01M1131.2 1154.3h.01M1124.4 1153.2h.01M1125.4 1154.1h.01M1131.6 1149.0h.01M1122.9 1154.1h.01M1128.4 1152.5h.01M1125.9 1153.7h.01M1125.4 1155.8h.01M1130.3 1153.8h.01M1129.7 1149.7h.01M1124.3 1153.9h.01M1122.6 1158.6h.01M1130.6 1152.4h.01M1128.3 1154.0h.01M1133.7 1150.6h.01M1123.6 1154.5h.01M1133.6 1151.5h.01M1135.5 1155.5h.01M1126.4 1154.6h.01M1136.8 1152.8h.01M1132.2 1156.3h.01M1123.7 1150.9h.01M1122.8 1155.0h.01M1134.1 1153.2h.01M1128.3 1152.8h.01M1129.8 1150.6h.01M1127.2 1155.3h.01M1129.2 1151.4h.01M1140.1 1151.3h.01M1127.1 1151.3h.01M1127.3 1156.3h.01M1127.7 1154.2h.01M1122.6 1158.7h.01M1128.1 1152.8h.01M1124.8 1153.6h.01M1126.7 1151.1h.01M1122.5 1151.6h.01M1134.5 1153.6h.01M1120.4 1155.1h.01M1125.3 1153.1h.01M1126.8 1153.1h.01M1125.7 1154.3h.01M1135.8 1153.2h.01M1129.5 1152.6h.01M1134.5 1154.8h.01M1117.8 1160.4h.01M1129.8 1152.9h.01M1130.5 1149.9h.01M1124.7 1159.8h.01M1130.5 1148.2h.01M1128.0 1152.0h.01M1126.4 1152.2h.01M1129.2 1153.3h.01M1132.3 1151.4h.01M1131.5 1156.7h.01M1127.3 1155.0h.01M1128.6 1151.9h.01M1131.2 1154.6h.01M1130.3 1151.8h.01M1126.8 1154.3h.01M1132.5 1150.7h.01M1137.4 1153.3h.01M1117.1 1158.3h.01M1134.0 1153.4h.01M1127.0 1155.0h.01M1126.5 1154.6h.01M1135.9 1146.5h.01M1135.2 1152.9h.01M1128.2 1152.4h.01M1116.2 1159.2h.01M1128.7 1153.4h.01M1135.8 1152.7h.01M1130.5 1150.8h.01M1126.9 1146.2h.01M1134.6 1151.1h.01M1129.8 1153.1h.01M1129.8 1151.5h.01M1132.1 1150.5h.01M1132.2 1151.4h.01M1126.3 1156.9h.01M1125.6 1150.7h.01M1125.9 1155.1h.01M1131.2 1156.2h.01M1123.3 1153.7h.01M1128.0 1147.6h.01M1137.7 1150.0h.01M1124.5 1154.9h.01M1130.3 1153.2h.01M1130.2 1155.0h.01M1127.4 1150.7h.01M1126.3 1154.1h.01M1128.4 1151.1h.01M1130.2 1154.9h.01M1127.6 1151.3h.01M1122.7 1154.0h.01M1128.1 1153.0h.01M1129.5 1153.4h.01M1130.5 1152.5h.01M1127.7 1148.9h.01M1132.3 1152.5h.01M1126.0 1153.7h.01M1130.5 1154.9h.01M1128.4 1153.4h.01M1130.0 1155.9h.01M1125.9 1155.8h.01M1127.1 1152.3h.01M1124.4 1152.0h.01M1138.3 1148.1h.01M1124.9 1155.6h.01M1128.8 1149.3h.01M1133.1 1159.0h.01M1125.5 1153.9h.01M1132.2 1153.3h.01M1135.1 1152.0h.01M1132.1 1151.2h.01M1128.7 1154.5h.01M1127.8 1154.9h.01M1130.1 1153.1h.01M1127.5 1155.6h.01M1130.1 1156.4h.01M1128.0 1148.1h.01M1128.5 1154.3h.01M1134.7 1156.2h.01M1130.5 1150.7h.01M1130.7 1157.2h.01M1124.3 1145.2h.01M1126.2 1144.0h.01M1133.0 1140.0h.01M1124.9 1143.4h.01M1128.9 1150.0h.01M1127.3 1142.6h.01M1130.0 1148.2h.01M1125.3 1141.3h.01M1129.8 1145.8h.01M1126.1 1141.3h.01M1129.1 1147.9h.01M1132.8 1147.1h.01M1125.1 1150.2h.01M1127.0 1144.6h.01M1124.1 1146.3h.01M1121.9 1142.6h.01M1128.1 1137.4h.01M1125.6 1149.0h.01M1128.5 1145.1h.01M1125.1 1141.2h.01M1126.8 1147.5h.01M1125.1 1144.4h.01M1128.8 1142.6h.01M1125.9 1137.3h.01M1125.4 1145.4h.01M1131.6 1147.1h.01M1127.1 1146.0h.01M1128.8 1145.0h.01M1126.4 1141.7h.01M1129.6 1154.4h.01M1130.3 1139.8h.01M1127.0 1147.3h.01M1130.0 1143.7h.01M1127.0 1140.7h.01M1130.7 1141.5h.01M1126.2 1139.5h.01M1151.9 1154.8h.01M1146.6 1156.7h.01M1139.0 1157.2h.01M1140.3 1151.4h.01M1151.6 1151.0h.01M1159.6 1147.7h.01M1143.2 1158.5h.01M1155.6 1156.2h.01M1144.9 1157.6h.01M1140.6 1158.6h.01M1152.3 1150.8h.01M1156.0 1152.6h.01M1142.2 1152.4h.01M1154.4 1151.5h.01M1155.7 1154.6h.01M1139.8 1155.1h.01M1143.8 1154.9h.01M1152.4 1153.5h.01M1144.5 1156.2h.01M1158.2 1152.0h.01M1147.9 1151.4h.01M1156.9 1152.5h.01M1158.5 1153.9h.01M1161.9 1153.9h.01M1158.2 1151.0h.01M1157.6 1150.4h.01M1140.5 1160.6h.01M1138.7 1153.7h.01M1158.9 1156.2h.01M1144.8 1152.4h.01M1155.3 1150.1h.01M1140.1 1148.8h.01M1144.0 1151.9h.01M1147.3 1153.2h.01M1150.2 1155.2h.01M1143.1 1155.0h.01M1075.6 1156.5h.01M1053.8 1157.3h.01M1055.0 1161.0h.01M1055.5 1161.4h.01M1065.3 1162.9h.01M1074.5 1159.4h.01M1060.9 1166.2h.01M1070.2 1159.5h.01M1067.9 1161.9h.01M1055.2 1162.7h.01M1066.9 1156.8h.01M1063.7 1155.4h.01M1071.6 1160.0h.01M1057.9 1156.7h.01M1058.6 1165.7h.01M1063.5 1161.2h.01M1053.5 1161.5h.01M1063.3 1160.4h.01M1082.2 1160.5h.01M1058.1 1157.0h.01M1062.6 1157.9h.01M1066.9 1160.9h.01M1065.9 1159.1h.01M1050.9 1159.2h.01M1063.3 1161.7h.01M1051.1 1166.4h.01M1069.9 1152.8h.01M1057.0 1157.8h.01M1059.1 1160.9h.01M1061.0 1163.4h.01M1070.4 1169.2h.01M1077.7 1159.6h.01M1072.6 1160.6h.01M1042.5 1161.1h.01M1048.3 1157.0h.01M1073.9 1169.9h.01M1063.0 1165.0h.01M1056.5 1164.2h.01M1066.4 1156.7h.01M1055.6 1162.3h.01M1082.2 1161.5h.01M1053.5 1163.6h.01M1065.9 1165.7h.01M1051.0 1157.7h.01M1057.3 1162.1h.01M1064.5 1156.2h.01M1066.6 1158.1h.01M1063.8 1162.6h.01M1040.8 1160.1h.01M1060.9 1162.0h.01M1064.7 1159.3h.01M1061.5 1161.4h.01M1057.5 1159.5h.01M1069.9 1158.5h.01M1067.7 1153.3h.01M1057.4 1160.3h.01M1075.4 1162.5h.01M1062.6 1156.4h.01M1060.2 1166.8h.01M1058.4 1162.8h.01M1070.9 1163.4h.01M1062.9 1160.3h.01M1070.0 1164.9h.01M1050.7 1158.6h.01M1071.6 1160.5h.01M1060.9 1156.9h.01M1069.9 1162.9h.01M1068.0 1161.2h.01M1063.9 1161.9h.01M1051.8 1167.6h.01M1162.4 1148.0h.01M1162.4 1151.4h.01M1162.4 1154.8h.01M1162.4 1158.2h.01M1162.4 1161.6h.01" stroke="#4a4a46" stroke-width="0.9" stroke-linecap="square" fill="none"/>
<path d="M1060.2 1125.5L1084.6 1121.2L1089.4 1147.8L1065.0 1152.0Z" fill="none" stroke="#2a2384" stroke-width="1.7" stroke-dasharray="3 2.8"/>
<path d="M1114.7 1124.9L1139.1 1120.6L1144.0 1147.1L1119.6 1151.4Z" fill="none" stroke="#2a2384" stroke-width="1.7" stroke-dasharray="3 2.8"/>
<text transform="translate(1046.40 1112.70) scale(1 1.035)" font-size="23.4">2 %</text>
<text transform="translate(1122.60 1110.00) scale(1 1.035)" font-size="23.4">1 %</text>
<text transform="translate(755.00 1060.00) scale(1 1.022)" font-size="34" text-anchor="middle">Ctr</text>
<text transform="translate(919.00 1060.00) scale(1 1.035)" font-size="34" text-anchor="middle">SP</text>
<text transform="translate(1089.80 1060.00) scale(1 1.022)" font-size="34" text-anchor="middle">Rev</text>
<text transform="translate(705.60 1253.80) scale(1 1.022)" font-size="20.6">2<tspan font-style="italic">n</tspan></text>
<text transform="translate(728.60 1253.80) scale(1 1.022)" font-size="20.6">4<tspan font-style="italic">n</tspan></text>
<text transform="translate(872.60 1253.80) scale(1 1.022)" font-size="20.6">2<tspan font-style="italic">n</tspan></text>
<text transform="translate(897.60 1253.80) scale(1 1.022)" font-size="20.6">4<tspan font-style="italic">n</tspan></text>
<text transform="translate(953.40 1253.80) scale(1 1.022)" font-size="20.6">8<tspan font-style="italic">n</tspan></text>
<text transform="translate(1041.60 1253.80) scale(1 1.022)" font-size="20.6">2<tspan font-style="italic">n</tspan></text>
<text transform="translate(1067.40 1253.80) scale(1 1.022)" font-size="20.6">4<tspan font-style="italic">n</tspan></text>
<text transform="translate(1122.20 1253.80) scale(1 1.022)" font-size="20.6">8<tspan font-style="italic">n</tspan></text>
<line x1="622.10" y1="1072.40" x2="622.10" y2="1118.50" stroke="#000" stroke-width="1.5"/>
<line x1="622.10" y1="1194.50" x2="622.10" y2="1284.70" stroke="#000" stroke-width="1.5"/>
<line x1="621.40" y1="1284.00" x2="816.40" y2="1284.00" stroke="#000" stroke-width="1.5"/>
<line x1="1024.70" y1="1284.00" x2="1172.40" y2="1284.00" stroke="#000" stroke-width="1.5"/>
<text transform="translate(631.60 1155.80) rotate(-90) scale(1 1.022)" font-size="36" text-anchor="middle">pH3</text>
<text transform="translate(920.20 1292.80) scale(1 1.022)" font-size="35.4" text-anchor="middle">DNA content</text>
<line x1="1384.60" y1="1157.00" x2="1384.60" y2="1152.60" stroke="#000" stroke-width="3"/>
<line x1="1363.60" y1="1152.60" x2="1405.60" y2="1152.60" stroke="#000" stroke-width="3"/>
<rect x="1355.90" y="1157.00" width="57.40" height="98.30" fill="#898987" stroke="#000" stroke-width="3"/>
<line x1="1472.80" y1="1147.20" x2="1472.80" y2="1143.60" stroke="#000" stroke-width="3"/>
<line x1="1451.80" y1="1143.60" x2="1493.80" y2="1143.60" stroke="#000" stroke-width="3"/>
<rect x="1444.10" y="1147.20" width="57.40" height="108.10" fill="#f6f6f6" stroke="#000" stroke-width="3"/>
<rect x="1444.10" y="1183.00" width="57.40" height="72.30" fill="#898987" stroke="#000" stroke-width="3"/>
<line x1="1451.80" y1="1180.60" x2="1493.80" y2="1180.60" stroke="#000" stroke-width="4.4"/>
<line x1="1557.60" y1="1179.90" x2="1557.60" y2="1175.20" stroke="#000" stroke-width="3"/>
<line x1="1536.60" y1="1175.20" x2="1578.60" y2="1175.20" stroke="#000" stroke-width="3"/>
<rect x="1527.80" y="1179.90" width="57.40" height="75.40" fill="#f6f6f6" stroke="#000" stroke-width="3"/>
<rect x="1527.80" y="1205.60" width="57.40" height="49.70" fill="#898987" stroke="#000" stroke-width="3"/>
<line x1="1558.20" y1="1205.60" x2="1558.20" y2="1188.20" stroke="#000" stroke-width="3"/>
<line x1="1537.20" y1="1188.20" x2="1579.20" y2="1188.20" stroke="#000" stroke-width="3"/>
<line x1="1333.10" y1="1003.80" x2="1333.10" y2="1256.80" stroke="#000" stroke-width="3.2"/>
<line x1="1323.30" y1="1255.30" x2="1607.20" y2="1255.30" stroke="#000" stroke-width="3.2"/>
<line x1="1323.30" y1="1255.30" x2="1333.10" y2="1255.30" stroke="#000" stroke-width="3"/>
<line x1="1323.30" y1="1205.30" x2="1333.10" y2="1205.30" stroke="#000" stroke-width="3"/>
<line x1="1323.30" y1="1155.30" x2="1333.10" y2="1155.30" stroke="#000" stroke-width="3"/>
<line x1="1323.30" y1="1105.30" x2="1333.10" y2="1105.30" stroke="#000" stroke-width="3"/>
<line x1="1323.30" y1="1055.30" x2="1333.10" y2="1055.30" stroke="#000" stroke-width="3"/>
<line x1="1323.30" y1="1005.30" x2="1333.10" y2="1005.30" stroke="#000" stroke-width="3"/>
<text transform="translate(1315.70 1265.40) scale(1 1.035)" font-size="36" text-anchor="end">0</text>
<text transform="translate(1315.70 1215.40) scale(1 1.035)" font-size="36" text-anchor="end">2</text>
<text transform="translate(1315.70 1165.40) scale(1 1.035)" font-size="36" text-anchor="end">4</text>
<text transform="translate(1315.70 1115.40) scale(1 1.035)" font-size="36" text-anchor="end">6</text>
<text transform="translate(1315.70 1065.40) scale(1 1.035)" font-size="36" text-anchor="end">8</text>
<text transform="translate(1315.70 1015.40) scale(1 1.035)" font-size="36" text-anchor="end">10</text>
<text transform="translate(1473.80 1131.10) scale(1 1.022)" font-size="23" text-anchor="middle">n.s</text>
<text transform="translate(1555.30 1164.80) scale(1 1.022)" font-size="23" text-anchor="middle">n.s</text>
<text transform="translate(1384.60 1292.30) scale(1 1.022)" font-size="36" text-anchor="middle">Ctr</text>
<text transform="translate(1472.80 1292.30) scale(1 1.035)" font-size="36" text-anchor="middle">SP</text>
<text transform="translate(1557.20 1292.30) scale(1 1.022)" font-size="36" text-anchor="middle">Rev</text>
<text transform="translate(1268.20 1123.60) rotate(-90) scale(1 1.022)" font-size="35.4" text-anchor="middle">pH3 (%)</text>
<rect x="1355.30" y="1017.20" width="25.10" height="24.90" fill="#f6f6f6" stroke="#222" stroke-width="1.3"/>
<rect x="1355.30" y="1058.30" width="25.10" height="24.90" fill="#898987" stroke="#222" stroke-width="1.3"/>
<text transform="translate(1389.60 1036.30) scale(1 1.022)" font-size="26.9">pH3 (tetraploid)</text>
<text transform="translate(1389.60 1077.30) scale(1 1.022)" font-size="26.9">pH3 (diploid)</text>
</svg>
</body></html>
